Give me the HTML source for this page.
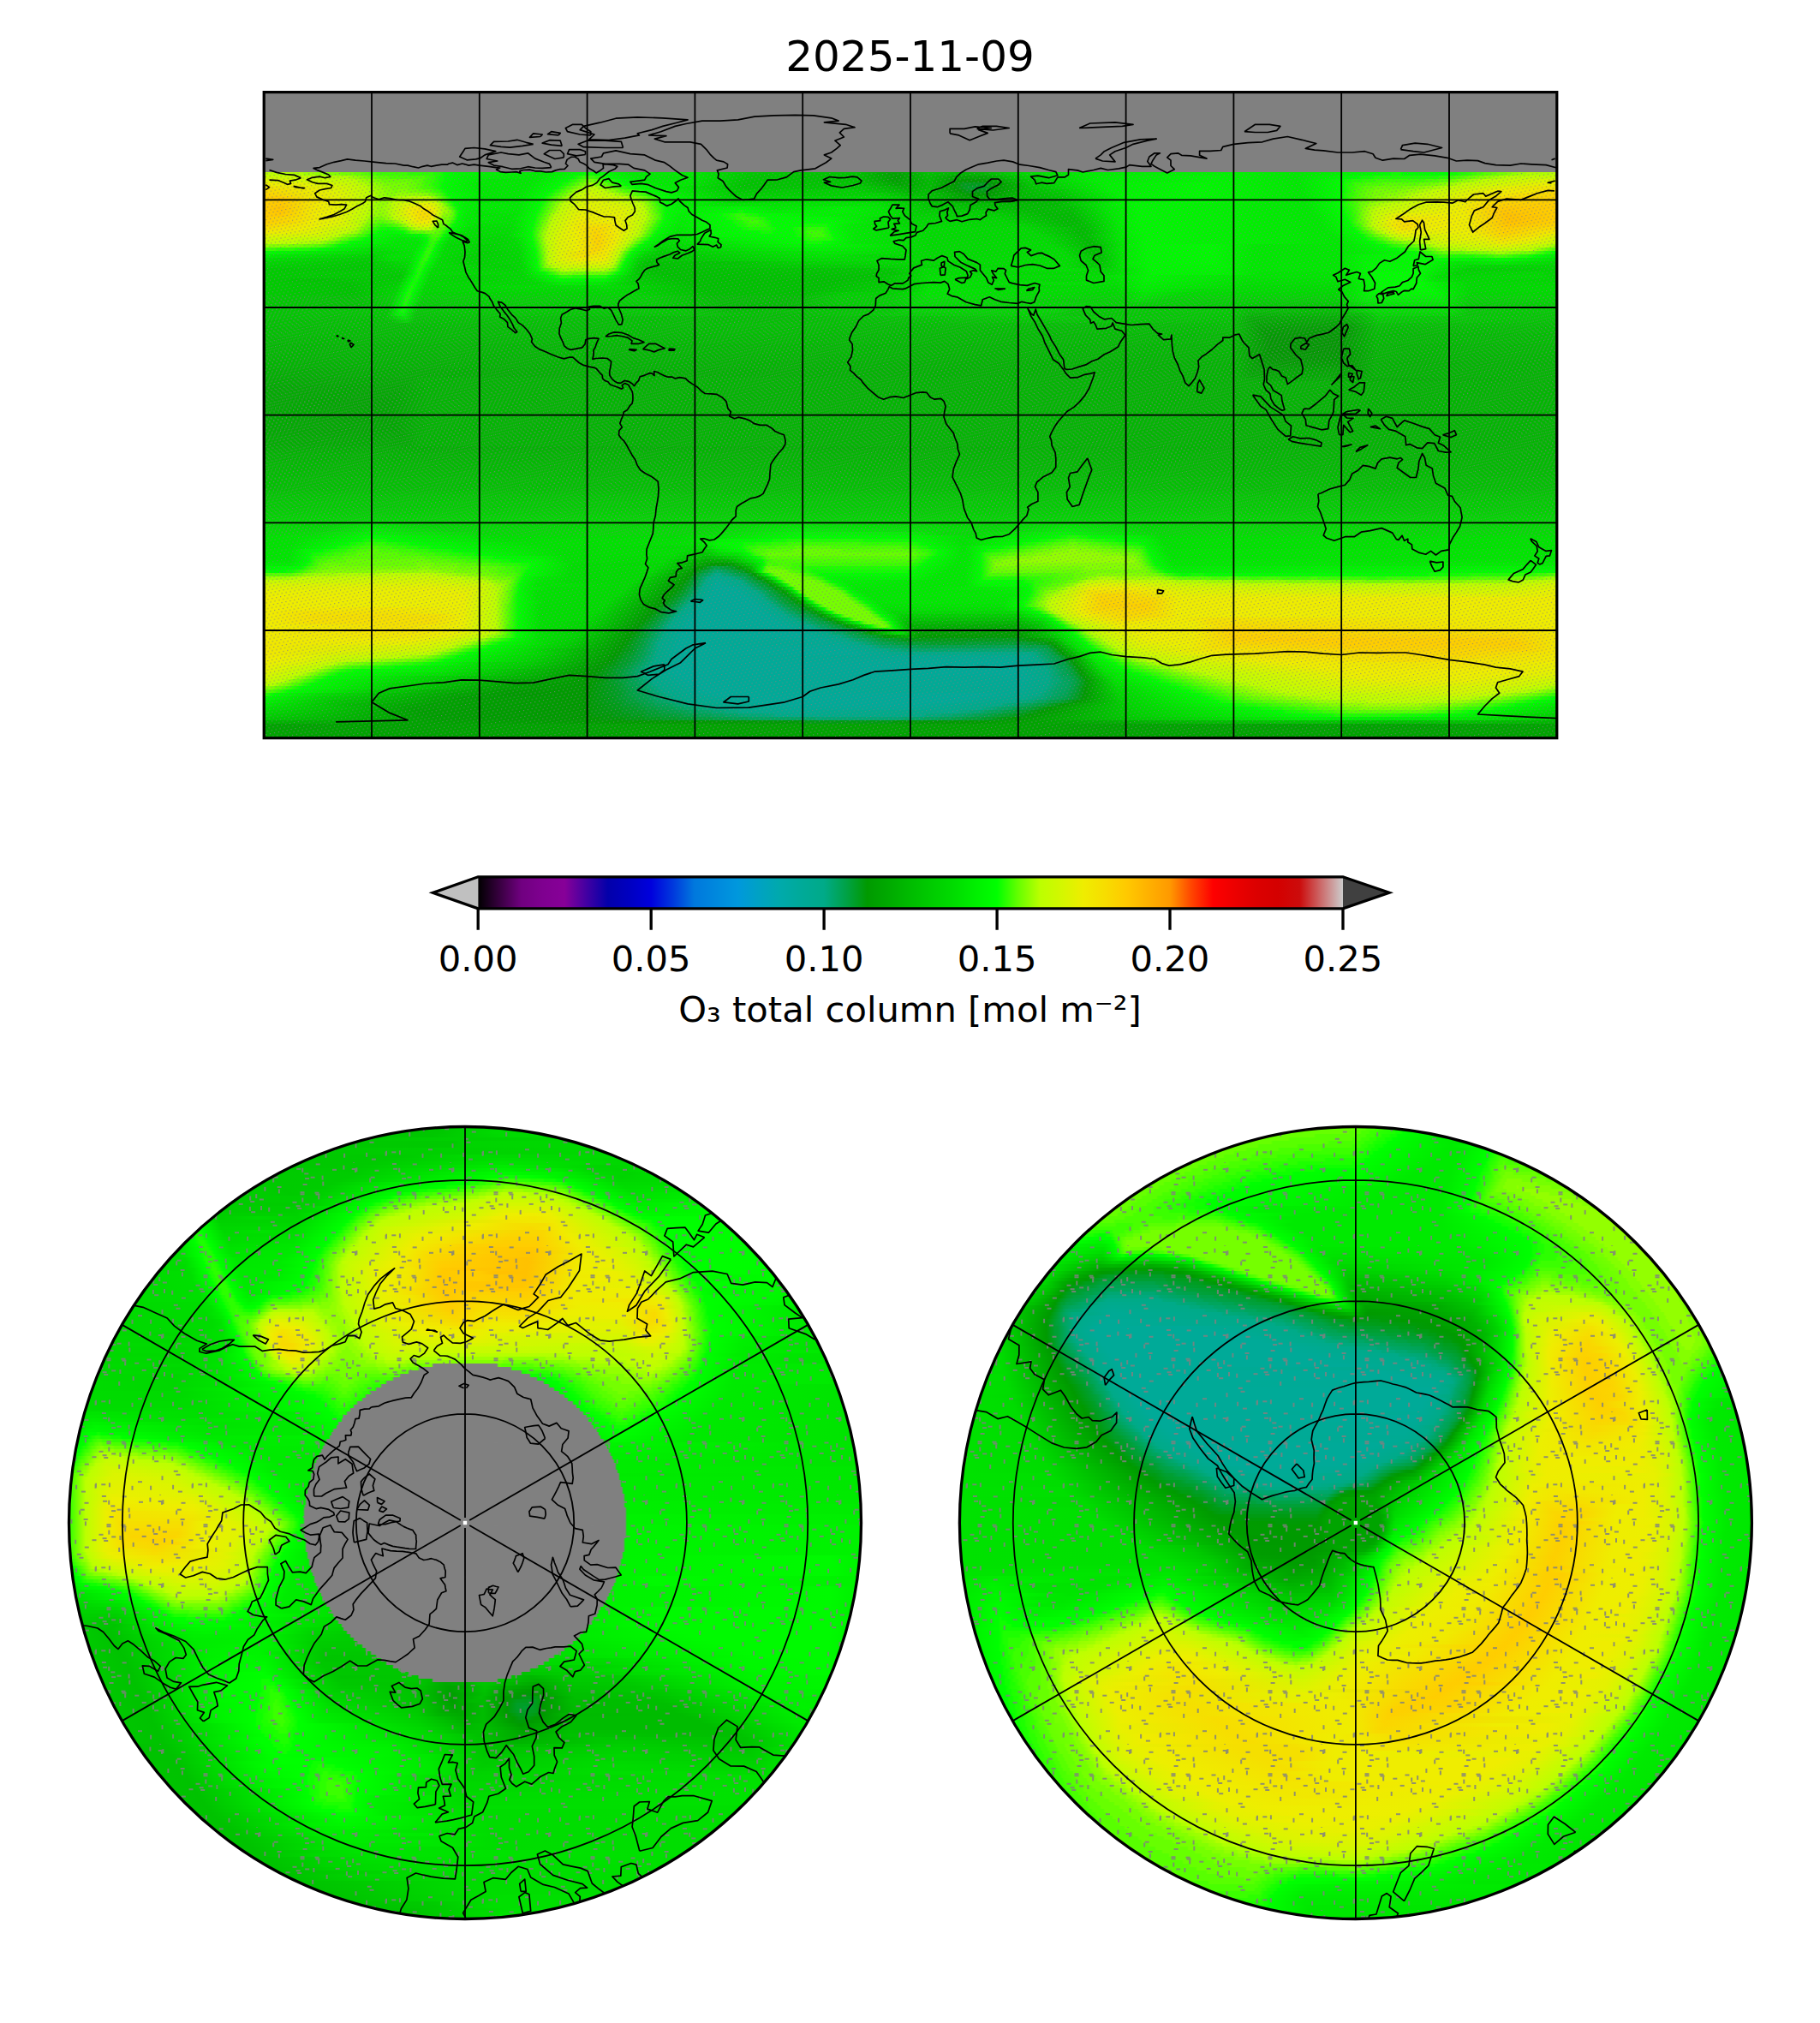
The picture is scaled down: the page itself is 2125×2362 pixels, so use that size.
<!DOCTYPE html><html><head><meta charset="utf-8"><style>
html,body{margin:0;padding:0;background:#fff}
#pg{position:relative;width:2125px;height:2362px;overflow:hidden;background:#fff}
.fm{position:absolute;overflow:hidden}
.fm i{position:absolute;left:0;width:100%;display:block}
.circ{border-radius:50%}
svg{position:absolute;left:0;top:0}
text{font-family:"DejaVu Sans","Liberation Sans",sans-serif;fill:#000}
</style></head><body><div id="pg">
<div class="fm" style="left:309px;top:109px;width:1508px;height:752px">
<i style="top:0px;height:4px;background:linear-gradient(90deg,#808080 0px,#808080 1508px)"></i>
<i style="top:4px;height:4px;background:linear-gradient(90deg,#808080 0px,#808080 1508px)"></i>
<i style="top:8px;height:4px;background:linear-gradient(90deg,#808080 0px,#808080 1508px)"></i>
<i style="top:12px;height:4px;background:linear-gradient(90deg,#808080 0px,#808080 1508px)"></i>
<i style="top:16px;height:4px;background:linear-gradient(90deg,#808080 0px,#808080 1508px)"></i>
<i style="top:20px;height:4px;background:linear-gradient(90deg,#808080 0px,#808080 1508px)"></i>
<i style="top:24px;height:4px;background:linear-gradient(90deg,#808080 0px,#808080 1508px)"></i>
<i style="top:28px;height:4px;background:linear-gradient(90deg,#808080 0px,#808080 1508px)"></i>
<i style="top:32px;height:4px;background:linear-gradient(90deg,#808080 0px,#808080 1508px)"></i>
<i style="top:36px;height:4px;background:linear-gradient(90deg,#808080 0px,#808080 1508px)"></i>
<i style="top:40px;height:4px;background:linear-gradient(90deg,#808080 0px,#808080 1508px)"></i>
<i style="top:44px;height:4px;background:linear-gradient(90deg,#808080 0px,#808080 1508px)"></i>
<i style="top:48px;height:4px;background:linear-gradient(90deg,#808080 0px,#808080 1508px)"></i>
<i style="top:52px;height:4px;background:linear-gradient(90deg,#808080 0px,#808080 1508px)"></i>
<i style="top:56px;height:4px;background:linear-gradient(90deg,#808080 0px,#808080 1508px)"></i>
<i style="top:60px;height:4px;background:linear-gradient(90deg,#808080 0px,#808080 1508px)"></i>
<i style="top:64px;height:4px;background:linear-gradient(90deg,#808080 0px,#808080 1508px)"></i>
<i style="top:68px;height:4px;background:linear-gradient(90deg,#808080 0px,#808080 1508px)"></i>
<i style="top:72px;height:4px;background:linear-gradient(90deg,#808080 0px,#808080 1508px)"></i>
<i style="top:76px;height:4px;background:linear-gradient(90deg,#808080 0px,#808080 1508px)"></i>
<i style="top:80px;height:4px;background:linear-gradient(90deg,#808080 0px,#808080 1508px)"></i>
<i style="top:84px;height:4px;background:linear-gradient(90deg,#808080 0px,#808080 1508px)"></i>
<i style="top:88px;height:4px;background:linear-gradient(90deg,#808080 0px,#808080 1508px)"></i>
<i style="top:92px;height:4px;background:linear-gradient(90deg,#bcff00 0px,#bcff00 16px,#b0ff00 18px,#b0ff00 44px,#a1ff00 46px,#a1ff00 58px,#93ff00 60px,#93ff00 68px,#84ff00 70px,#84ff00 88px,#75ff00 90px,#75ff00 104px,#67ff00 106px,#67ff00 112px,#58ff00 114px,#58ff00 120px,#49ff00 122px,#49ff00 130px,#3bff00 132px,#3bff00 166px,#2cff00 168px,#2cff00 196px,#1dff00 198px,#1dff00 204px,#00ff00 210px,#00f700 228px,#00ea00 320px,#00ff00 372px,#0fff00 374px,#0fff00 384px,#00ff00 386px,#00ff00 390px,#00ec00 430px,#00ea00 500px,#00c700 570px,#00c400 690px,#00a400 730px,#00a400 742px,#00c200 774px,#00b400 812px,#00b700 840px,#00da00 888px,#00ef00 960px,#00f400 1126px,#00ea00 1204px,#00ff00 1314px,#0fff00 1316px,#0fff00 1326px,#00ff00 1328px,#00ff00 1382px,#0fff00 1384px,#0fff00 1392px,#1dff00 1394px,#2cff00 1408px,#3bff00 1410px,#3bff00 1414px,#49ff00 1416px,#49ff00 1422px,#58ff00 1424px,#58ff00 1430px,#67ff00 1432px,#67ff00 1438px,#75ff00 1440px,#75ff00 1448px,#84ff00 1450px,#84ff00 1454px,#93ff00 1456px,#93ff00 1462px,#a1ff00 1464px,#a1ff00 1472px,#b0ff00 1474px,#b0ff00 1500px,#bcff00 1502px,#bcff00 1508px)"></i>
<i style="top:96px;height:4px;background:linear-gradient(90deg,#ccf900 0px,#c4fc00 56px,#b0ff00 98px,#a1ff00 100px,#93ff00 110px,#84ff00 112px,#84ff00 116px,#75ff00 118px,#75ff00 122px,#67ff00 124px,#67ff00 130px,#58ff00 132px,#58ff00 144px,#49ff00 146px,#49ff00 186px,#3bff00 188px,#2cff00 198px,#1dff00 200px,#1dff00 202px,#0fff00 204px,#0fff00 208px,#00ff00 210px,#00f400 234px,#00ea00 316px,#00ff00 360px,#3bff00 374px,#3bff00 384px,#2cff00 386px,#2cff00 390px,#1dff00 392px,#0fff00 398px,#00ff00 400px,#00ec00 438px,#00e700 506px,#00c400 572px,#00c400 686px,#009f00 738px,#00bf00 774px,#00a700 804px,#00a700 842px,#00d400 892px,#00f200 972px,#00f700 1108px,#00ea00 1204px,#00ff00 1278px,#0fff00 1280px,#0fff00 1294px,#1dff00 1296px,#1dff00 1370px,#2cff00 1372px,#2cff00 1382px,#3bff00 1384px,#3bff00 1388px,#49ff00 1390px,#49ff00 1396px,#58ff00 1398px,#58ff00 1402px,#67ff00 1404px,#67ff00 1410px,#75ff00 1412px,#75ff00 1416px,#84ff00 1418px,#84ff00 1424px,#93ff00 1426px,#93ff00 1432px,#a1ff00 1434px,#a1ff00 1440px,#b0ff00 1442px,#b0ff00 1448px,#bcff00 1450px,#ccf900 1508px)"></i>
<i style="top:100px;height:4px;background:linear-gradient(90deg,#e0f300 0px,#bcff00 106px,#a1ff00 112px,#93ff00 122px,#84ff00 124px,#84ff00 128px,#75ff00 130px,#75ff00 136px,#67ff00 138px,#67ff00 172px,#58ff00 174px,#58ff00 182px,#3bff00 188px,#2cff00 198px,#1dff00 200px,#1dff00 202px,#0fff00 204px,#0fff00 208px,#00ff00 210px,#00fa00 220px,#00ea00 264px,#00ea00 312px,#00ff00 354px,#1dff00 358px,#2cff00 364px,#49ff00 368px,#49ff00 370px,#67ff00 374px,#67ff00 376px,#75ff00 378px,#67ff00 384px,#1dff00 402px,#1dff00 406px,#00ff00 412px,#00ec00 448px,#00ea00 496px,#00c400 566px,#00c400 690px,#00a200 736px,#00bc00 778px,#009a00 810px,#009a00 822px,#009a00 842px,#00cc00 892px,#00f200 970px,#00f700 1110px,#00ea00 1206px,#00ff00 1260px,#0fff00 1262px,#0fff00 1268px,#1dff00 1270px,#1dff00 1280px,#2cff00 1282px,#2cff00 1296px,#3bff00 1298px,#3bff00 1354px,#49ff00 1356px,#49ff00 1370px,#58ff00 1372px,#58ff00 1380px,#67ff00 1382px,#75ff00 1392px,#84ff00 1394px,#84ff00 1398px,#93ff00 1400px,#93ff00 1406px,#a1ff00 1408px,#a1ff00 1412px,#b0ff00 1414px,#b0ff00 1420px,#bcff00 1422px,#e0f300 1508px)"></i>
<i style="top:104px;height:4px;background:linear-gradient(90deg,#efed00 0px,#e8f000 36px,#c4fc00 104px,#b0ff00 118px,#a1ff00 120px,#93ff00 130px,#84ff00 132px,#84ff00 138px,#75ff00 140px,#75ff00 166px,#67ff00 168px,#67ff00 176px,#58ff00 178px,#58ff00 182px,#3bff00 188px,#3bff00 192px,#1dff00 198px,#1dff00 202px,#00ff00 208px,#00ec00 250px,#00ea00 308px,#00ff00 346px,#0fff00 348px,#1dff00 354px,#3bff00 358px,#3bff00 360px,#58ff00 364px,#58ff00 366px,#75ff00 370px,#75ff00 372px,#93ff00 376px,#93ff00 378px,#a1ff00 380px,#2cff00 410px,#2cff00 412px,#0fff00 416px,#0fff00 418px,#00ff00 420px,#00ec00 460px,#00ea00 494px,#00c400 560px,#00c700 692px,#00a700 742px,#00bc00 778px,#009a00 808px,#009d1d 816px,#009d1d 842px,#009a00 852px,#00ca00 896px,#00f400 984px,#00fa00 1090px,#00ea00 1208px,#00ff00 1258px,#1dff00 1264px,#1dff00 1268px,#3bff00 1274px,#3bff00 1284px,#49ff00 1286px,#49ff00 1304px,#58ff00 1306px,#58ff00 1346px,#67ff00 1348px,#67ff00 1360px,#75ff00 1362px,#75ff00 1370px,#84ff00 1372px,#84ff00 1378px,#93ff00 1380px,#93ff00 1384px,#a1ff00 1386px,#a1ff00 1390px,#b0ff00 1392px,#b0ff00 1396px,#bcff00 1398px,#efed00 1508px)"></i>
<i style="top:108px;height:4px;background:linear-gradient(90deg,#f4e200 0px,#e0f300 76px,#bcff00 118px,#b0ff00 120px,#b0ff00 124px,#93ff00 130px,#93ff00 136px,#84ff00 138px,#84ff00 146px,#75ff00 148px,#75ff00 168px,#67ff00 170px,#67ff00 176px,#58ff00 178px,#58ff00 182px,#49ff00 184px,#3bff00 194px,#00ff00 208px,#00fc00 214px,#00ea00 256px,#00ea00 304px,#00ff00 342px,#1dff00 346px,#1dff00 348px,#49ff00 354px,#49ff00 356px,#67ff00 360px,#67ff00 362px,#84ff00 366px,#84ff00 368px,#bcff00 378px,#bcff00 384px,#b0ff00 388px,#a1ff00 390px,#75ff00 404px,#58ff00 408px,#49ff00 414px,#2cff00 418px,#2cff00 420px,#0fff00 426px,#0fff00 430px,#00ff00 432px,#00c400 562px,#00ca00 698px,#00af00 748px,#00bc00 776px,#009a00 806px,#009e28 822px,#009e28 840px,#009a00 852px,#00c400 894px,#00f400 986px,#00fa00 1092px,#00ea00 1210px,#00ff00 1258px,#2cff00 1268px,#2cff00 1272px,#3bff00 1274px,#3bff00 1276px,#49ff00 1278px,#49ff00 1282px,#58ff00 1284px,#58ff00 1294px,#67ff00 1296px,#67ff00 1328px,#75ff00 1330px,#75ff00 1342px,#84ff00 1344px,#84ff00 1354px,#93ff00 1356px,#93ff00 1364px,#a1ff00 1366px,#a1ff00 1372px,#b0ff00 1374px,#b0ff00 1378px,#bcff00 1380px,#e4f100 1448px,#f4e200 1508px)"></i>
<i style="top:112px;height:4px;background:linear-gradient(90deg,#f9d700 0px,#e8f000 70px,#bcff00 120px,#b0ff00 122px,#b0ff00 126px,#a1ff00 128px,#a1ff00 132px,#93ff00 134px,#93ff00 138px,#84ff00 140px,#84ff00 150px,#75ff00 152px,#75ff00 154px,#84ff00 156px,#84ff00 166px,#75ff00 168px,#75ff00 178px,#67ff00 180px,#67ff00 186px,#58ff00 188px,#58ff00 192px,#3bff00 198px,#2cff00 204px,#0fff00 208px,#00fc00 214px,#00ea00 256px,#00ea00 302px,#00ff00 336px,#1dff00 340px,#1dff00 342px,#49ff00 348px,#49ff00 350px,#67ff00 354px,#67ff00 356px,#93ff00 362px,#93ff00 364px,#b0ff00 368px,#c8fb00 380px,#bcff00 396px,#b0ff00 400px,#93ff00 404px,#84ff00 410px,#67ff00 414px,#67ff00 416px,#49ff00 422px,#49ff00 426px,#00ff00 444px,#00ca00 554px,#00d200 688px,#00b700 752px,#00bf00 774px,#009a00 812px,#009d1d 824px,#009b13 826px,#009b13 844px,#009a00 848px,#00bf00 888px,#00cc00 928px,#00f400 988px,#00fa00 1092px,#00ea00 1210px,#00ff00 1258px,#49ff00 1276px,#49ff00 1280px,#58ff00 1282px,#58ff00 1286px,#67ff00 1288px,#67ff00 1294px,#75ff00 1296px,#75ff00 1322px,#84ff00 1324px,#84ff00 1334px,#93ff00 1336px,#93ff00 1344px,#a1ff00 1346px,#a1ff00 1352px,#b0ff00 1354px,#b0ff00 1360px,#bcff00 1362px,#efed00 1442px,#f0ea00 1478px,#f9d700 1508px)"></i>
<i style="top:116px;height:4px;background:linear-gradient(90deg,#fcd200 0px,#e0f300 86px,#bcff00 122px,#b0ff00 124px,#b0ff00 128px,#93ff00 134px,#93ff00 140px,#84ff00 142px,#84ff00 152px,#93ff00 154px,#93ff00 182px,#84ff00 184px,#84ff00 190px,#75ff00 192px,#67ff00 198px,#49ff00 202px,#49ff00 204px,#00ff00 214px,#00ea00 262px,#00ea00 298px,#00ff00 330px,#0fff00 332px,#0fff00 334px,#3bff00 340px,#3bff00 342px,#67ff00 348px,#67ff00 350px,#93ff00 356px,#93ff00 358px,#bcff00 364px,#d0f800 380px,#bcff00 406px,#a1ff00 410px,#a1ff00 414px,#00ff00 456px,#00cf00 550px,#00d400 714px,#00bf00 756px,#00c200 776px,#009c00 824px,#009c00 848px,#00ba00 878px,#00c700 926px,#00f700 1000px,#00fa00 1094px,#00ea00 1212px,#00ff00 1256px,#2cff00 1266px,#2cff00 1270px,#58ff00 1280px,#58ff00 1284px,#67ff00 1286px,#67ff00 1292px,#75ff00 1294px,#75ff00 1306px,#84ff00 1308px,#84ff00 1322px,#93ff00 1324px,#93ff00 1332px,#a1ff00 1334px,#a1ff00 1338px,#b0ff00 1340px,#b0ff00 1346px,#bcff00 1348px,#efed00 1428px,#fbd500 1508px)"></i>
<i style="top:120px;height:4px;background:linear-gradient(90deg,#fdcf00 0px,#ffcd00 18px,#f1e700 52px,#e4f100 84px,#bcff00 122px,#a1ff00 128px,#a1ff00 132px,#93ff00 134px,#93ff00 148px,#a1ff00 150px,#a1ff00 154px,#b0ff00 156px,#b0ff00 166px,#bcff00 168px,#bcff00 190px,#b0ff00 194px,#00ff00 218px,#00ea00 254px,#00ea00 296px,#00ff00 326px,#bcff00 358px,#d8f500 382px,#bcff00 420px,#67ff00 442px,#67ff00 444px,#49ff00 448px,#3bff00 454px,#00ff00 464px,#00d400 548px,#00dc00 710px,#00c400 778px,#00a700 814px,#00a700 840px,#00ba00 874px,#00c400 928px,#00f700 1002px,#00fa00 1096px,#00ea00 1214px,#00ff00 1256px,#49ff00 1274px,#49ff00 1278px,#58ff00 1280px,#58ff00 1284px,#67ff00 1286px,#75ff00 1296px,#84ff00 1298px,#84ff00 1310px,#93ff00 1312px,#93ff00 1322px,#a1ff00 1324px,#a1ff00 1330px,#b0ff00 1332px,#b0ff00 1336px,#bcff00 1338px,#efed00 1416px,#f7dd00 1444px,#fcd200 1508px)"></i>
<i style="top:124px;height:4px;background:linear-gradient(90deg,#fdcf00 0px,#ffc900 18px,#e8f000 80px,#bcff00 122px,#a1ff00 128px,#a1ff00 132px,#93ff00 134px,#93ff00 142px,#bcff00 152px,#d0f800 192px,#c0fd00 200px,#67ff00 208px,#49ff00 212px,#2cff00 214px,#00ff00 220px,#00fc00 222px,#00ea00 252px,#00ea00 296px,#00ff00 322px,#0fff00 324px,#0fff00 326px,#75ff00 340px,#75ff00 342px,#bcff00 352px,#dcf400 380px,#dcf400 392px,#bcff00 432px,#93ff00 444px,#1dff00 460px,#1dff00 462px,#00ff00 466px,#00ef00 484px,#00ef00 514px,#00dc00 546px,#00e700 660px,#00e200 714px,#00b200 816px,#00b200 856px,#00c200 930px,#00f700 1004px,#00fa00 1096px,#00ea00 1214px,#00ff00 1256px,#67ff00 1282px,#67ff00 1286px,#84ff00 1292px,#84ff00 1296px,#93ff00 1298px,#93ff00 1306px,#a1ff00 1308px,#a1ff00 1316px,#b0ff00 1318px,#b0ff00 1326px,#bcff00 1328px,#efed00 1406px,#fbd500 1448px,#fdcf00 1508px)"></i>
<i style="top:128px;height:4px;background:linear-gradient(90deg,#ffcd00 0px,#ffc900 20px,#efed00 66px,#e4f100 86px,#bcff00 122px,#93ff00 132px,#93ff00 140px,#bcff00 150px,#d8f500 164px,#e8f000 190px,#d8f500 198px,#b0ff00 206px,#3bff00 216px,#00ff00 222px,#00f200 234px,#00ea00 296px,#00ff00 322px,#bcff00 348px,#e0f300 378px,#d8f500 412px,#bcff00 440px,#00ff00 466px,#00ef00 486px,#00e700 542px,#00e700 712px,#00c400 780px,#00bc00 856px,#00bc00 924px,#00f200 992px,#00fa00 1018px,#00ea00 1216px,#00ff00 1256px,#0fff00 1258px,#49ff00 1276px,#67ff00 1280px,#75ff00 1286px,#93ff00 1292px,#93ff00 1296px,#a1ff00 1298px,#a1ff00 1302px,#b0ff00 1304px,#b0ff00 1310px,#bcff00 1312px,#e8f000 1394px,#f3e500 1410px,#fdcf00 1448px,#ffcd00 1508px)"></i>
<i style="top:132px;height:4px;background:linear-gradient(90deg,#ffcd00 0px,#ffc500 18px,#f1e700 58px,#e8f000 82px,#bcff00 120px,#a1ff00 126px,#a1ff00 130px,#93ff00 132px,#93ff00 138px,#a1ff00 140px,#a1ff00 144px,#bcff00 150px,#f0ea00 172px,#f0ea00 194px,#dcf400 200px,#93ff00 212px,#1dff00 222px,#00fc00 226px,#00f200 234px,#00ea00 296px,#00ff00 320px,#bcff00 346px,#d8f500 362px,#e4f100 380px,#dcf400 420px,#bcff00 442px,#00ff00 468px,#00f200 482px,#00f700 562px,#00ea00 596px,#00f200 676px,#00e700 722px,#00ca00 774px,#00bc00 886px,#00c200 942px,#00ea00 982px,#00fa00 1020px,#00ea00 1218px,#00ff00 1258px,#0fff00 1260px,#2cff00 1270px,#93ff00 1288px,#bcff00 1300px,#ecef00 1394px,#fcd200 1432px,#ffc900 1450px,#ffcd00 1508px)"></i>
<i style="top:136px;height:4px;background:linear-gradient(90deg,#ffcd00 0px,#ffc500 18px,#f3e500 52px,#e8f000 82px,#bcff00 120px,#93ff00 130px,#93ff00 140px,#b0ff00 146px,#efed00 170px,#f7dd00 182px,#f4e200 194px,#efed00 198px,#bcff00 206px,#a1ff00 208px,#93ff00 214px,#58ff00 220px,#1dff00 224px,#00fc00 228px,#00f400 234px,#00ea00 246px,#00ea00 296px,#00ff00 318px,#bcff00 344px,#d4f700 356px,#e4f100 374px,#e0f300 420px,#bcff00 444px,#b0ff00 446px,#93ff00 448px,#00ff00 468px,#00f200 496px,#00ff00 552px,#0fff00 554px,#0fff00 558px,#00ff00 560px,#00f200 596px,#00f400 672px,#00ea00 718px,#00cf00 766px,#00cf00 840px,#00bc00 902px,#00bf00 942px,#00ec00 988px,#00fa00 1020px,#00ea00 1222px,#00ff00 1260px,#0fff00 1262px,#1dff00 1268px,#3bff00 1272px,#3bff00 1274px,#84ff00 1284px,#84ff00 1286px,#b0ff00 1292px,#c0fd00 1298px,#d8f500 1324px,#efed00 1398px,#ffc500 1446px,#ffcd00 1508px)"></i>
<i style="top:140px;height:4px;background:linear-gradient(90deg,#ffcd00 0px,#ffc900 18px,#efed00 62px,#ecef00 76px,#bcff00 118px,#93ff00 128px,#93ff00 132px,#84ff00 134px,#84ff00 136px,#93ff00 138px,#93ff00 142px,#bcff00 150px,#f0ea00 172px,#f8da00 186px,#f5df00 194px,#efed00 198px,#c4fc00 204px,#84ff00 210px,#84ff00 214px,#58ff00 220px,#00ff00 226px,#00f200 234px,#00e700 252px,#00e700 292px,#00ff00 316px,#75ff00 332px,#93ff00 334px,#bcff00 340px,#e0f300 362px,#e8f000 374px,#e4f100 416px,#bcff00 444px,#3bff00 462px,#1dff00 464px,#00ff00 468px,#00f200 488px,#00ff00 534px,#0fff00 536px,#0fff00 542px,#1dff00 544px,#1dff00 548px,#2cff00 550px,#2cff00 560px,#1dff00 562px,#0fff00 576px,#00ff00 578px,#00ea00 720px,#00d400 758px,#00d200 854px,#00bc00 914px,#00bc00 942px,#00ec00 990px,#00fa00 1022px,#00ea00 1226px,#00ff00 1262px,#0fff00 1264px,#0fff00 1266px,#2cff00 1270px,#2cff00 1272px,#93ff00 1286px,#93ff00 1288px,#bcff00 1294px,#e8f000 1322px,#efed00 1400px,#ffc100 1450px,#ffcd00 1508px)"></i>
<i style="top:144px;height:4px;background:linear-gradient(90deg,#ffcd00 0px,#ecef00 74px,#e0f300 88px,#bcff00 116px,#75ff00 130px,#75ff00 138px,#84ff00 140px,#93ff00 146px,#bcff00 152px,#ccf900 162px,#ecef00 172px,#f5df00 182px,#f5df00 192px,#efed00 196px,#c4fc00 202px,#93ff00 206px,#75ff00 210px,#75ff00 214px,#49ff00 220px,#0fff00 224px,#00fc00 226px,#00ef00 234px,#00e400 284px,#00ff00 316px,#1dff00 318px,#75ff00 330px,#93ff00 332px,#bcff00 338px,#ecef00 368px,#e8f000 414px,#d8f500 430px,#bcff00 444px,#3bff00 462px,#1dff00 464px,#00ff00 468px,#00f200 484px,#00ff00 538px,#0fff00 540px,#1dff00 550px,#2cff00 552px,#2cff00 556px,#3bff00 558px,#2cff00 576px,#1dff00 578px,#1dff00 582px,#00ff00 588px,#00fa00 658px,#00d700 752px,#00d700 854px,#00bc00 924px,#00bc00 946px,#00ec00 992px,#00fa00 1022px,#00ea00 1228px,#00ff00 1264px,#1dff00 1268px,#1dff00 1270px,#a1ff00 1288px,#a1ff00 1290px,#bcff00 1294px,#efed00 1320px,#f3e500 1326px,#efed00 1402px,#ffc100 1452px,#ffcd00 1508px)"></i>
<i style="top:148px;height:4px;background:linear-gradient(90deg,#fdcf00 0px,#f9d700 28px,#ecef00 58px,#dcf400 90px,#b0ff00 116px,#84ff00 122px,#84ff00 124px,#67ff00 128px,#67ff00 130px,#58ff00 132px,#58ff00 140px,#67ff00 142px,#67ff00 146px,#75ff00 148px,#75ff00 150px,#93ff00 154px,#93ff00 156px,#bcff00 162px,#e4f100 174px,#f0ea00 182px,#efed00 192px,#b0ff00 202px,#75ff00 206px,#75ff00 210px,#58ff00 216px,#3bff00 218px,#00fc00 224px,#00ea00 240px,#00e400 292px,#00ff00 314px,#2cff00 320px,#49ff00 322px,#84ff00 330px,#a1ff00 332px,#bcff00 336px,#e8f000 360px,#f1e700 376px,#ecef00 412px,#bcff00 442px,#58ff00 456px,#3bff00 458px,#00ff00 466px,#00ef00 488px,#00ff00 546px,#0fff00 548px,#1dff00 558px,#2cff00 560px,#2cff00 564px,#3bff00 566px,#3bff00 576px,#2cff00 578px,#2cff00 582px,#1dff00 584px,#0fff00 590px,#00ff00 592px,#00fc00 662px,#00da00 748px,#00da00 862px,#00bc00 932px,#00bc00 950px,#00f200 1000px,#00fa00 1024px,#00ea00 1232px,#00ff00 1266px,#67ff00 1280px,#67ff00 1282px,#bcff00 1294px,#efed00 1316px,#f7dd00 1330px,#efed00 1362px,#efed00 1404px,#ffc100 1452px,#fdcf00 1508px)"></i>
<i style="top:152px;height:4px;background:linear-gradient(90deg,#fbd500 0px,#ecef00 56px,#d4f700 94px,#c0fd00 108px,#b0ff00 112px,#75ff00 120px,#75ff00 122px,#49ff00 128px,#49ff00 130px,#2cff00 136px,#2cff00 142px,#3bff00 144px,#3bff00 148px,#49ff00 150px,#58ff00 156px,#a1ff00 166px,#bcff00 168px,#d8f500 178px,#e0f300 190px,#bcff00 198px,#84ff00 202px,#67ff00 206px,#67ff00 210px,#49ff00 214px,#00ff00 220px,#00fc00 222px,#00e400 246px,#00e200 288px,#00ff00 314px,#1dff00 316px,#49ff00 322px,#67ff00 324px,#93ff00 330px,#b0ff00 332px,#bcff00 334px,#e8f000 358px,#f4e200 376px,#f4e200 400px,#efed00 412px,#c4fc00 438px,#67ff00 452px,#49ff00 454px,#00ff00 464px,#00ef00 482px,#00ff00 550px,#0fff00 552px,#1dff00 562px,#2cff00 564px,#2cff00 584px,#00ff00 594px,#00ff00 626px,#0fff00 628px,#0fff00 656px,#00ff00 658px,#00ff00 660px,#00ef00 682px,#00dc00 746px,#00da00 882px,#00bc00 938px,#00c200 960px,#00ef00 998px,#00fa00 1024px,#00ea00 1234px,#00ff00 1268px,#3bff00 1276px,#3bff00 1278px,#49ff00 1280px,#67ff00 1282px,#bcff00 1294px,#f1e700 1318px,#f8da00 1336px,#efed00 1362px,#efed00 1406px,#ffc500 1450px,#fbd500 1508px)"></i>
<i style="top:156px;height:4px;background:linear-gradient(90deg,#f5df00 0px,#efed00 40px,#c0fd00 104px,#b0ff00 108px,#75ff00 116px,#75ff00 118px,#2cff00 128px,#2cff00 130px,#0fff00 136px,#0fff00 142px,#00ff00 144px,#0fff00 146px,#0fff00 152px,#1dff00 154px,#1dff00 156px,#3bff00 160px,#3bff00 162px,#49ff00 164px,#58ff00 166px,#75ff00 168px,#b0ff00 176px,#c0fd00 184px,#bcff00 194px,#84ff00 198px,#67ff00 202px,#67ff00 204px,#49ff00 210px,#00ff00 216px,#00e400 240px,#00df00 280px,#00e400 294px,#00ff00 312px,#1dff00 316px,#3bff00 318px,#58ff00 322px,#75ff00 324px,#a1ff00 330px,#bcff00 332px,#ecef00 360px,#f8da00 382px,#f8da00 394px,#efed00 412px,#c0fd00 438px,#75ff00 448px,#58ff00 450px,#00fc00 462px,#00ec00 484px,#00ff00 556px,#0fff00 558px,#0fff00 564px,#1dff00 566px,#1dff00 590px,#0fff00 592px,#0fff00 596px,#00ff00 598px,#00ff00 616px,#0fff00 618px,#0fff00 622px,#1dff00 624px,#1dff00 632px,#2cff00 634px,#2cff00 652px,#1dff00 654px,#1dff00 656px,#00ff00 660px,#00ef00 682px,#00df00 748px,#00dc00 886px,#00bc00 956px,#00ec00 996px,#00fa00 1026px,#00ea00 1236px,#00ff00 1272px,#bcff00 1298px,#efed00 1320px,#f5df00 1330px,#ecef00 1362px,#efed00 1406px,#ffcd00 1448px,#f7dd00 1508px)"></i>
<i style="top:160px;height:4px;background:linear-gradient(90deg,#f0ea00 0px,#dcf400 60px,#bcff00 96px,#93ff00 108px,#49ff00 118px,#49ff00 120px,#0fff00 128px,#0fff00 130px,#00ff00 132px,#00fa00 142px,#00ff00 162px,#49ff00 172px,#49ff00 176px,#58ff00 178px,#58ff00 186px,#67ff00 188px,#67ff00 198px,#58ff00 200px,#58ff00 204px,#00fa00 214px,#00ec00 220px,#00e200 238px,#00df00 286px,#00ff00 312px,#1dff00 314px,#3bff00 318px,#84ff00 324px,#c0fd00 332px,#e0f300 350px,#efed00 366px,#fbd500 386px,#efed00 412px,#c0fd00 436px,#84ff00 444px,#67ff00 446px,#3bff00 452px,#1dff00 454px,#00ff00 458px,#00ea00 480px,#00fa00 520px,#00ff00 578px,#0fff00 580px,#0fff00 592px,#00ff00 594px,#00ff00 618px,#0fff00 620px,#0fff00 624px,#1dff00 626px,#1dff00 630px,#3bff00 636px,#3bff00 650px,#1dff00 656px,#1dff00 658px,#00ff00 662px,#00ec00 690px,#00dc00 776px,#00dc00 896px,#00bc00 950px,#00bf00 962px,#00f200 1004px,#00fa00 1026px,#00ea00 1240px,#00ff00 1276px,#3bff00 1284px,#3bff00 1286px,#a1ff00 1300px,#a1ff00 1302px,#bcff00 1306px,#c8fb00 1310px,#ecef00 1326px,#e4f100 1360px,#ecef00 1404px,#fdcf00 1450px,#f0ea00 1508px)"></i>
<i style="top:164px;height:4px;background:linear-gradient(90deg,#e0f300 0px,#d0f800 64px,#bcff00 84px,#b0ff00 88px,#93ff00 92px,#67ff00 106px,#49ff00 110px,#3bff00 116px,#00ff00 124px,#00fa00 136px,#00f200 156px,#00ff00 184px,#0fff00 186px,#0fff00 188px,#49ff00 196px,#49ff00 202px,#2cff00 206px,#0fff00 208px,#00fc00 210px,#00e400 222px,#00dc00 282px,#00ff00 312px,#75ff00 322px,#bcff00 330px,#e0f300 348px,#efed00 366px,#fcd200 388px,#efed00 412px,#bcff00 434px,#93ff00 440px,#75ff00 442px,#1dff00 452px,#00ff00 454px,#00e700 474px,#00fa00 534px,#00ff00 620px,#0fff00 622px,#1dff00 632px,#2cff00 634px,#2cff00 638px,#3bff00 640px,#3bff00 652px,#1dff00 658px,#1dff00 660px,#00ff00 664px,#00ec00 690px,#00dc00 778px,#00dc00 906px,#00bc00 956px,#00ef00 1002px,#00fa00 1028px,#00ea00 1246px,#00ff00 1282px,#3bff00 1290px,#3bff00 1292px,#67ff00 1298px,#67ff00 1300px,#84ff00 1304px,#84ff00 1306px,#bcff00 1314px,#e0f300 1334px,#d8f500 1360px,#ecef00 1414px,#f9d700 1446px,#f3e500 1484px,#e0f300 1508px)"></i>
<i style="top:168px;height:4px;background:linear-gradient(90deg,#d0f800 0px,#bcff00 72px,#a1ff00 80px,#67ff00 90px,#58ff00 96px,#3bff00 100px,#0fff00 114px,#00ff00 116px,#00f700 128px,#00ec00 160px,#00ef00 178px,#00ff00 190px,#1dff00 192px,#3bff00 196px,#3bff00 200px,#1dff00 204px,#00ff00 206px,#00e200 216px,#00da00 274px,#00df00 292px,#00ff00 312px,#3bff00 318px,#b0ff00 328px,#bcff00 330px,#dcf400 344px,#ecef00 364px,#fcd200 388px,#ecef00 412px,#c0fd00 428px,#75ff00 438px,#58ff00 440px,#1dff00 448px,#00ff00 450px,#00e200 476px,#00f400 528px,#00ff00 626px,#1dff00 632px,#1dff00 636px,#2cff00 638px,#1dff00 660px,#00ff00 666px,#00ec00 690px,#00dc00 776px,#00dc00 914px,#00bc00 960px,#00ea00 998px,#00fa00 1028px,#00ea00 1252px,#00ff00 1286px,#0fff00 1288px,#2cff00 1298px,#49ff00 1302px,#49ff00 1304px,#67ff00 1308px,#67ff00 1310px,#93ff00 1316px,#93ff00 1318px,#b0ff00 1322px,#c4fc00 1332px,#c4fc00 1348px,#e0f300 1384px,#e8f000 1424px,#f5df00 1446px,#efed00 1478px,#d0f800 1508px)"></i>
<i style="top:172px;height:4px;background:linear-gradient(90deg,#c0fd00 0px,#bcff00 36px,#b0ff00 38px,#b0ff00 52px,#a1ff00 54px,#a1ff00 64px,#67ff00 78px,#67ff00 80px,#49ff00 84px,#49ff00 86px,#2cff00 90px,#1dff00 96px,#00ff00 100px,#00ea00 154px,#00ea00 180px,#00ff00 190px,#1dff00 192px,#2cff00 194px,#2cff00 198px,#00fa00 204px,#00df00 214px,#00da00 280px,#00df00 294px,#00ff00 314px,#1dff00 316px,#2cff00 318px,#67ff00 322px,#bcff00 330px,#dcf400 344px,#ecef00 364px,#fcd200 388px,#f0ea00 408px,#c0fd00 424px,#93ff00 430px,#75ff00 432px,#1dff00 442px,#00ff00 444px,#00df00 468px,#00ff00 632px,#0fff00 634px,#0fff00 650px,#00ff00 652px,#00ff00 658px,#00ec00 688px,#00dc00 776px,#00df00 910px,#00bc00 964px,#00ec00 1002px,#00fa00 1028px,#00ea00 1256px,#00ff00 1296px,#0fff00 1298px,#2cff00 1308px,#49ff00 1312px,#49ff00 1314px,#67ff00 1320px,#67ff00 1324px,#84ff00 1330px,#84ff00 1334px,#93ff00 1336px,#93ff00 1340px,#a1ff00 1342px,#a1ff00 1346px,#bcff00 1352px,#d4f700 1382px,#dcf400 1424px,#f0ea00 1444px,#e0f300 1478px,#c4fc00 1508px)"></i>
<i style="top:176px;height:4px;background:linear-gradient(90deg,#93ff00 0px,#93ff00 4px,#84ff00 6px,#84ff00 28px,#75ff00 30px,#75ff00 44px,#67ff00 46px,#67ff00 56px,#58ff00 58px,#58ff00 66px,#00ff00 88px,#00ea00 134px,#00ea00 178px,#00ff00 188px,#2cff00 194px,#2cff00 196px,#1dff00 198px,#00ff00 200px,#00e200 210px,#00dc00 216px,#00d700 262px,#00df00 296px,#00ff00 314px,#3bff00 320px,#75ff00 324px,#84ff00 326px,#a1ff00 328px,#c0fd00 332px,#dcf400 344px,#ecef00 364px,#fbd500 390px,#ecef00 408px,#c0fd00 420px,#a1ff00 424px,#00ff00 438px,#00da00 466px,#00fc00 644px,#00dc00 776px,#00df00 918px,#00bf00 962px,#00bf00 970px,#00f200 1008px,#00fa00 1030px,#00fa00 1106px,#00ea00 1158px,#00ea00 1258px,#00ff00 1308px,#2cff00 1318px,#2cff00 1322px,#3bff00 1324px,#3bff00 1328px,#49ff00 1330px,#49ff00 1334px,#58ff00 1336px,#58ff00 1340px,#67ff00 1342px,#67ff00 1346px,#bcff00 1368px,#e0f300 1448px,#bcff00 1496px,#b0ff00 1498px,#b0ff00 1502px,#a1ff00 1504px,#a1ff00 1508px)"></i>
<i style="top:180px;height:4px;background:linear-gradient(90deg,#49ff00 0px,#3bff00 2px,#3bff00 12px,#2cff00 14px,#2cff00 34px,#1dff00 36px,#1dff00 52px,#0fff00 54px,#0fff00 60px,#00ff00 62px,#00e200 126px,#00ea00 176px,#00ff00 186px,#0fff00 188px,#2cff00 190px,#2cff00 194px,#1dff00 196px,#00ff00 198px,#00df00 210px,#00d700 250px,#00dc00 296px,#00ff00 316px,#84ff00 326px,#c0fd00 332px,#dcf400 344px,#ecef00 364px,#fbd500 386px,#efed00 404px,#c0fd00 416px,#a1ff00 420px,#1dff00 430px,#00fc00 434px,#00d400 462px,#00f400 648px,#00dc00 774px,#00df00 926px,#00bf00 970px,#00ea00 1000px,#00fa00 1030px,#00fa00 1108px,#00ea00 1156px,#00ea00 1256px,#00ff00 1324px,#0fff00 1326px,#0fff00 1332px,#1dff00 1334px,#2cff00 1344px,#49ff00 1350px,#49ff00 1354px,#a1ff00 1376px,#a1ff00 1382px,#b0ff00 1384px,#b0ff00 1402px,#bcff00 1404px,#c8fb00 1438px,#bcff00 1478px,#58ff00 1504px,#58ff00 1508px)"></i>
<i style="top:184px;height:4px;background:linear-gradient(90deg,#00fc00 0px,#00dc00 132px,#00e700 172px,#00ff00 184px,#0fff00 186px,#2cff00 188px,#2cff00 192px,#1dff00 194px,#00ff00 196px,#00df00 208px,#00d400 260px,#00dc00 298px,#00ff00 316px,#0fff00 318px,#67ff00 324px,#75ff00 326px,#b0ff00 330px,#c4fc00 334px,#dcf400 344px,#f8da00 382px,#f0ea00 400px,#c0fd00 414px,#49ff00 422px,#3bff00 424px,#00ff00 428px,#00df00 444px,#00cf00 460px,#00ec00 656px,#00dc00 772px,#00df00 932px,#00bf00 968px,#00ef00 1006px,#00fa00 1032px,#00fa00 1108px,#00ea00 1156px,#00ea00 1256px,#00ff00 1344px,#0fff00 1346px,#0fff00 1350px,#1dff00 1352px,#1dff00 1354px,#2cff00 1356px,#2cff00 1360px,#58ff00 1370px,#58ff00 1374px,#67ff00 1376px,#67ff00 1400px,#75ff00 1402px,#75ff00 1416px,#84ff00 1418px,#84ff00 1428px,#93ff00 1430px,#93ff00 1436px,#a1ff00 1438px,#a1ff00 1448px,#93ff00 1450px,#93ff00 1456px,#84ff00 1458px,#84ff00 1466px,#75ff00 1468px,#75ff00 1478px,#67ff00 1480px,#67ff00 1482px,#49ff00 1486px,#3bff00 1492px,#1dff00 1496px,#1dff00 1500px,#0fff00 1502px,#00ff00 1508px)"></i>
<i style="top:188px;height:4px;background:linear-gradient(90deg,#00ec00 0px,#00d400 126px,#00e400 146px,#00e700 172px,#00ff00 182px,#2cff00 188px,#2cff00 190px,#1dff00 192px,#00ff00 194px,#00df00 208px,#00d400 242px,#00da00 296px,#00fc00 316px,#3bff00 322px,#93ff00 328px,#bcff00 332px,#dcf400 344px,#f4e200 372px,#f0ea00 398px,#d0f800 408px,#bcff00 412px,#0fff00 424px,#00fc00 426px,#00d400 444px,#00ca00 462px,#00e700 650px,#00dc00 708px,#00df00 936px,#00c200 974px,#00ef00 1006px,#00fa00 1032px,#00fa00 1108px,#00ea00 1156px,#00ea00 1256px,#00f700 1282px,#00ff00 1358px,#0fff00 1360px,#1dff00 1370px,#2cff00 1372px,#2cff00 1384px,#1dff00 1386px,#1dff00 1412px,#2cff00 1414px,#2cff00 1426px,#3bff00 1428px,#3bff00 1434px,#49ff00 1436px,#49ff00 1450px,#3bff00 1452px,#3bff00 1456px,#2cff00 1458px,#2cff00 1464px,#1dff00 1466px,#1dff00 1474px,#0fff00 1476px,#0fff00 1480px,#00ff00 1482px,#00ef00 1508px)"></i>
<i style="top:192px;height:4px;background:linear-gradient(90deg,#00df00 0px,#00cf00 120px,#00e200 148px,#00e200 168px,#00fc00 180px,#2cff00 186px,#2cff00 188px,#1dff00 190px,#00ff00 192px,#00df00 204px,#00d400 238px,#00da00 298px,#00ff00 318px,#93ff00 328px,#bcff00 332px,#d8f500 342px,#efed00 368px,#efed00 394px,#e4f100 400px,#bcff00 410px,#2cff00 420px,#00ff00 422px,#00d400 438px,#00c700 452px,#00df00 640px,#00df00 940px,#00c400 976px,#00ec00 1004px,#00fa00 1032px,#00fa00 1108px,#00ea00 1154px,#00ea00 1256px,#00f700 1282px,#00ff00 1374px,#00f400 1416px,#00fc00 1446px,#00e400 1508px)"></i>
<i style="top:196px;height:4px;background:linear-gradient(90deg,#00d700 0px,#00cc00 120px,#00df00 168px,#00fa00 178px,#2cff00 184px,#00ff00 190px,#00df00 202px,#00d400 240px,#00da00 298px,#00ff00 318px,#58ff00 324px,#67ff00 326px,#bcff00 332px,#d8f500 350px,#e0f300 370px,#e0f300 394px,#d8f500 400px,#bcff00 408px,#67ff00 414px,#3bff00 416px,#00ff00 420px,#00d200 436px,#00c400 446px,#00c700 550px,#00d700 638px,#00e200 930px,#00ca00 978px,#00f200 1010px,#00fa00 1034px,#00fa00 1108px,#00ea00 1154px,#00ea00 1256px,#00fa00 1286px,#00fc00 1360px,#00e700 1396px,#00ec00 1442px,#00dc00 1508px)"></i>
<i style="top:200px;height:4px;background:linear-gradient(90deg,#00d200 0px,#00ca00 116px,#00da00 166px,#00ff00 178px,#1dff00 182px,#1dff00 184px,#00fc00 188px,#00df00 200px,#00d400 280px,#00dc00 302px,#00ff00 318px,#0fff00 320px,#84ff00 328px,#93ff00 330px,#93ff00 332px,#bcff00 338px,#ccf900 350px,#ccf900 396px,#bcff00 404px,#84ff00 410px,#58ff00 412px,#00ff00 418px,#00cc00 436px,#00c200 444px,#00e200 932px,#00cf00 966px,#00d200 986px,#00ec00 1004px,#00fa00 1034px,#00f700 1120px,#00ea00 1154px,#00ea00 1256px,#00fc00 1292px,#00fc00 1354px,#00da00 1408px,#00d700 1508px)"></i>
<i style="top:204px;height:4px;background:linear-gradient(90deg,#00cc00 0px,#00ca00 120px,#00d400 164px,#00fc00 176px,#0fff00 178px,#1dff00 180px,#1dff00 182px,#00fc00 186px,#00dc00 198px,#00d700 292px,#00e200 306px,#00ff00 320px,#1dff00 322px,#49ff00 328px,#49ff00 330px,#84ff00 338px,#84ff00 340px,#b0ff00 346px,#bcff00 350px,#bcff00 354px,#b0ff00 356px,#b0ff00 396px,#93ff00 400px,#93ff00 402px,#58ff00 410px,#00ff00 416px,#00cc00 434px,#00c200 448px,#00ca00 730px,#00df00 772px,#00e200 946px,#00d700 982px,#00fa00 1034px,#00f700 1114px,#00ea00 1152px,#00ea00 1256px,#00fc00 1292px,#00fc00 1352px,#00d400 1404px,#00d400 1508px)"></i>
<i style="top:208px;height:4px;background:linear-gradient(90deg,#00cc00 0px,#00cf00 160px,#00da00 166px,#00ff00 176px,#1dff00 180px,#00fc00 184px,#00df00 194px,#00da00 300px,#00ff00 328px,#2cff00 334px,#2cff00 336px,#75ff00 346px,#75ff00 360px,#67ff00 362px,#67ff00 398px,#00ff00 412px,#00ca00 434px,#00c200 464px,#00c700 734px,#00df00 770px,#00dc00 984px,#00fa00 1036px,#00f400 1124px,#00e700 1164px,#00e700 1248px,#00ff00 1300px,#00ff00 1346px,#00d700 1392px,#00da00 1488px,#00d200 1508px)"></i>
<i style="top:212px;height:4px;background:linear-gradient(90deg,#00cc00 0px,#00cc00 160px,#00ff00 174px,#1dff00 178px,#00fc00 182px,#00dc00 194px,#00d700 244px,#00da00 302px,#00ff00 338px,#0fff00 340px,#0fff00 342px,#2cff00 346px,#2cff00 358px,#1dff00 360px,#1dff00 398px,#00ff00 402px,#00cf00 430px,#00c200 476px,#00c400 714px,#00e200 776px,#00df00 974px,#00f700 1030px,#00e700 1150px,#00e700 1258px,#00ff00 1300px,#00ff00 1346px,#00e200 1372px,#00da00 1396px,#00dc00 1488px,#00d400 1508px)"></i>
<i style="top:216px;height:4px;background:linear-gradient(90deg,#00cc00 0px,#00c400 58px,#00cf00 158px,#00ff00 172px,#0fff00 174px,#0fff00 178px,#00fc00 180px,#00dc00 192px,#00d700 246px,#00dc00 310px,#00fa00 344px,#00f700 396px,#00cf00 432px,#00c200 488px,#00c200 670px,#00ca00 730px,#00e400 780px,#00dc00 934px,#00e200 990px,#00f700 1030px,#00e400 1152px,#00e400 1256px,#00ff00 1300px,#00ff00 1348px,#00ea00 1366px,#00dc00 1398px,#00d700 1508px)"></i>
<i style="top:220px;height:4px;background:linear-gradient(90deg,#00cc00 0px,#00c400 96px,#00d200 156px,#00ff00 170px,#0fff00 172px,#0fff00 176px,#00fc00 178px,#00dc00 190px,#00da00 292px,#00dc00 318px,#00ef00 348px,#00ec00 392px,#00d400 424px,#00c200 498px,#00c200 658px,#00d200 750px,#00e400 776px,#00e200 994px,#00f400 1028px,#00e200 1150px,#00e200 1256px,#00ff00 1300px,#00ff00 1350px,#00dc00 1406px,#00da00 1508px)"></i>
<i style="top:224px;height:4px;background:linear-gradient(90deg,#00cc00 0px,#00c400 102px,#00d400 154px,#00ff00 168px,#1dff00 172px,#00ff00 176px,#00da00 188px,#00e200 398px,#00c200 506px,#00c200 648px,#00d400 754px,#00e700 780px,#00dc00 876px,#00df00 994px,#00f200 1024px,#00df00 1150px,#00df00 1254px,#00ff00 1302px,#00ff00 1350px,#00dc00 1408px,#00dc00 1508px)"></i>
<i style="top:228px;height:4px;background:linear-gradient(90deg,#00cc00 0px,#00c400 104px,#00d700 154px,#00ff00 166px,#1dff00 170px,#00ff00 174px,#00da00 186px,#00dc00 402px,#00c200 514px,#00c200 640px,#00d700 754px,#00e700 776px,#00dc00 994px,#00ef00 1026px,#00df00 1094px,#00dc00 1252px,#00fc00 1296px,#00fc00 1362px,#00dc00 1406px,#00dc00 1508px)"></i>
<i style="top:232px;height:4px;background:linear-gradient(90deg,#00cc00 0px,#00c400 106px,#00d700 152px,#00ff00 164px,#1dff00 168px,#1dff00 170px,#00ff00 172px,#00d700 186px,#00da00 422px,#00c200 520px,#00c200 632px,#00d200 680px,#00d400 734px,#00e700 774px,#00da00 994px,#00ea00 1028px,#00dc00 1076px,#00da00 1250px,#00fa00 1292px,#00fa00 1368px,#00da00 1410px,#00da00 1508px)"></i>
<i style="top:236px;height:4px;background:linear-gradient(90deg,#00cc00 0px,#00c400 106px,#00d700 150px,#00fc00 162px,#0fff00 164px,#1dff00 166px,#1dff00 168px,#00fc00 172px,#00d700 184px,#00d700 446px,#00c200 526px,#00c200 624px,#00d200 672px,#00d400 730px,#00e700 778px,#00da00 968px,#00da00 1002px,#00e700 1022px,#00da00 1062px,#00d700 1248px,#00f700 1290px,#00f700 1372px,#00da00 1404px,#00da00 1508px)"></i>
<i style="top:240px;height:4px;background:linear-gradient(90deg,#00ca00 0px,#00c700 114px,#00d400 148px,#00ff00 162px,#1dff00 164px,#1dff00 166px,#00fc00 170px,#00d400 184px,#00d700 438px,#00c200 530px,#00c200 618px,#00d200 668px,#00d400 730px,#00e400 768px,#00d700 942px,#00d700 1002px,#00e200 1020px,#00d700 1052px,#00d400 1252px,#00f200 1286px,#00f200 1376px,#00d700 1406px,#00d700 1508px)"></i>
<i style="top:244px;height:4px;background:linear-gradient(90deg,#00ca00 0px,#00c700 116px,#00d200 146px,#00fc00 160px,#0fff00 162px,#1dff00 164px,#00ff00 168px,#00d400 180px,#00d400 456px,#00c200 534px,#00c200 612px,#00d200 668px,#00d400 736px,#00e200 758px,#00cf00 1254px,#00ec00 1290px,#00ec00 1380px,#00d400 1406px,#00d400 1508px)"></i>
<i style="top:248px;height:4px;background:linear-gradient(90deg,#00c700 0px,#00cf00 146px,#00ff00 160px,#0fff00 162px,#0fff00 164px,#00ff00 166px,#00d700 176px,#00d200 180px,#00d200 470px,#00c200 538px,#00c200 608px,#00d200 734px,#00dc00 752px,#00ca00 1256px,#00e700 1294px,#00e700 1384px,#00d200 1406px,#00d200 1508px)"></i>
<i style="top:252px;height:4px;background:linear-gradient(90deg,#00c700 0px,#00cc00 144px,#00ff00 158px,#0fff00 160px,#0fff00 162px,#00ff00 164px,#00cf00 178px,#00cf00 482px,#00c200 542px,#00cf00 734px,#00da00 752px,#00da00 924px,#00cf00 942px,#00cf00 1130px,#00c200 1148px,#00c200 1256px,#00e200 1298px,#00e200 1386px,#00cf00 1406px,#00cf00 1508px)"></i>
<i style="top:256px;height:4px;background:linear-gradient(90deg,#00c700 0px,#00ca00 142px,#00f200 154px,#00ff00 162px,#00cc00 176px,#00cc00 494px,#00c200 602px,#00d400 748px,#00d700 906px,#00cc00 942px,#00cc00 1130px,#00ba00 1154px,#00ba00 1256px,#00c400 1280px,#00dc00 1302px,#00dc00 1384px,#00cc00 1406px,#00cc00 1508px)"></i>
<i style="top:260px;height:4px;background:linear-gradient(90deg,#00c700 0px,#00c700 140px,#00ef00 164px,#00ca00 176px,#00c200 600px,#00d200 910px,#00ca00 1130px,#00b200 1152px,#00b200 1162px,#00b200 1256px,#00b700 1276px,#00d400 1300px,#00ca00 1508px)"></i>
<i style="top:264px;height:4px;background:linear-gradient(90deg,#00c400 0px,#00c400 132px,#00c700 148px,#00dc00 166px,#00c700 174px,#00c200 600px,#00cc00 924px,#00c700 1130px,#00ac00 1156px,#00ac00 1266px,#00cf00 1302px,#00c700 1508px)"></i>
<i style="top:268px;height:4px;background:linear-gradient(90deg,#00c400 0px,#00c400 1130px,#00a700 1162px,#00a700 1270px,#00c700 1298px,#00c400 1508px)"></i>
<i style="top:272px;height:4px;background:linear-gradient(90deg,#00c200 0px,#00c200 1134px,#00a200 1164px,#00a200 1268px,#00c400 1300px,#00c200 1508px)"></i>
<i style="top:276px;height:4px;background:linear-gradient(90deg,#00c200 0px,#00c200 1132px,#009f00 1166px,#009f00 1264px,#00c200 1298px,#00c200 1508px)"></i>
<i style="top:280px;height:4px;background:linear-gradient(90deg,#00c200 0px,#00bf00 1134px,#009c00 1170px,#009c00 1262px,#00bf00 1296px,#00bf00 1508px)"></i>
<i style="top:284px;height:4px;background:linear-gradient(90deg,#00bf00 0px,#00bf00 1132px,#009a00 1174px,#009a00 1256px,#00bf00 1298px,#00bf00 1508px)"></i>
<i style="top:288px;height:4px;background:linear-gradient(90deg,#00bf00 0px,#00bf00 1130px,#009a00 1174px,#009a00 1256px,#00bf00 1300px,#00bf00 1508px)"></i>
<i style="top:292px;height:4px;background:linear-gradient(90deg,#00bc00 0px,#00bc00 1134px,#009a00 1174px,#009a00 1256px,#00bc00 1296px,#00bc00 1508px)"></i>
<i style="top:296px;height:4px;background:linear-gradient(90deg,#00bc00 0px,#00bc00 1132px,#009a00 1174px,#009a00 1256px,#00bc00 1298px,#00bc00 1508px)"></i>
<i style="top:300px;height:4px;background:linear-gradient(90deg,#00bc00 0px,#00bc00 1128px,#009a00 1174px,#009a00 1256px,#00bc00 1304px,#00bc00 1508px)"></i>
<i style="top:304px;height:4px;background:linear-gradient(90deg,#00ba00 0px,#00ba00 1134px,#009c00 1168px,#009c00 1262px,#00ba00 1298px,#00ba00 1508px)"></i>
<i style="top:308px;height:4px;background:linear-gradient(90deg,#00ba00 0px,#00ba00 1130px,#009c00 1168px,#009c00 1262px,#00ba00 1300px,#00ba00 1508px)"></i>
<i style="top:312px;height:4px;background:linear-gradient(90deg,#00b700 0px,#00b700 1136px,#009f00 1164px,#009f00 1184px,#009f00 1266px,#00b700 1296px,#00b700 1508px)"></i>
<i style="top:316px;height:4px;background:linear-gradient(90deg,#00b700 0px,#00b700 1136px,#00a200 1162px,#00a200 1184px,#00a200 1270px,#00b700 1296px,#00b700 1508px)"></i>
<i style="top:320px;height:4px;background:linear-gradient(90deg,#00b400 0px,#00b700 1134px,#00a700 1154px,#00a700 1276px,#00b700 1296px,#00b700 1508px)"></i>
<i style="top:324px;height:4px;background:linear-gradient(90deg,#00b200 0px,#00b700 1134px,#00aa00 1152px,#00aa00 1280px,#00b700 1296px,#00b700 1508px)"></i>
<i style="top:328px;height:4px;background:linear-gradient(90deg,#00b200 0px,#00b700 1134px,#00ac00 1150px,#00ac00 1280px,#00b700 1296px,#00b700 1508px)"></i>
<i style="top:332px;height:4px;background:linear-gradient(90deg,#00af00 0px,#00af00 168px,#00b700 186px,#00b700 1136px,#00af00 1172px,#00b700 1508px)"></i>
<i style="top:336px;height:4px;background:linear-gradient(90deg,#00af00 0px,#00af00 168px,#00b700 186px,#00b700 1508px)"></i>
<i style="top:340px;height:4px;background:linear-gradient(90deg,#00ac00 0px,#00ac00 162px,#00b700 186px,#00b700 1508px)"></i>
<i style="top:344px;height:4px;background:linear-gradient(90deg,#00ac00 0px,#00ac00 162px,#00b700 188px,#00b700 1508px)"></i>
<i style="top:348px;height:4px;background:linear-gradient(90deg,#00ac00 0px,#00aa00 154px,#00b700 188px,#00b700 1508px)"></i>
<i style="top:352px;height:4px;background:linear-gradient(90deg,#00ac00 0px,#00aa00 154px,#00b700 190px,#00b700 1508px)"></i>
<i style="top:356px;height:4px;background:linear-gradient(90deg,#00ac00 0px,#00a700 142px,#00b700 190px,#00b700 1508px)"></i>
<i style="top:360px;height:4px;background:linear-gradient(90deg,#00ac00 0px,#00a700 142px,#00b700 192px,#00b700 1508px)"></i>
<i style="top:364px;height:4px;background:linear-gradient(90deg,#00ac00 0px,#00a700 142px,#00b700 192px,#00b700 1508px)"></i>
<i style="top:368px;height:4px;background:linear-gradient(90deg,#00ac00 0px,#00a700 142px,#00b700 194px,#00b700 1508px)"></i>
<i style="top:372px;height:4px;background:linear-gradient(90deg,#00ac00 0px,#00a700 142px,#00b400 182px,#00b400 1508px)"></i>
<i style="top:376px;height:4px;background:linear-gradient(90deg,#00ac00 0px,#00a700 142px,#00b700 196px,#00b700 1508px)"></i>
<i style="top:380px;height:4px;background:linear-gradient(90deg,#00ac00 0px,#00a700 142px,#00b700 192px,#00b700 1508px)"></i>
<i style="top:384px;height:4px;background:linear-gradient(90deg,#00ac00 0px,#00aa00 154px,#00b700 190px,#00b700 1508px)"></i>
<i style="top:388px;height:4px;background:linear-gradient(90deg,#00ac00 0px,#00aa00 154px,#00b700 190px,#00b700 1508px)"></i>
<i style="top:392px;height:4px;background:linear-gradient(90deg,#00ac00 0px,#00aa00 154px,#00b700 188px,#00b700 1508px)"></i>
<i style="top:396px;height:4px;background:linear-gradient(90deg,#00ac00 0px,#00ac00 162px,#00b700 186px,#00b700 1508px)"></i>
<i style="top:400px;height:4px;background:linear-gradient(90deg,#00af00 0px,#00ac00 160px,#00b700 186px,#00b700 1508px)"></i>
<i style="top:404px;height:4px;background:linear-gradient(90deg,#00af00 0px,#00af00 168px,#00b700 186px,#00b700 1508px)"></i>
<i style="top:408px;height:4px;background:linear-gradient(90deg,#00af00 0px,#00af00 166px,#00b700 184px,#00b700 1508px)"></i>
<i style="top:412px;height:4px;background:linear-gradient(90deg,#00b200 0px,#00b700 1508px)"></i>
<i style="top:416px;height:4px;background:linear-gradient(90deg,#00b400 0px,#00ba00 1508px)"></i>
<i style="top:420px;height:4px;background:linear-gradient(90deg,#00b700 0px,#00ba00 1508px)"></i>
<i style="top:424px;height:4px;background:linear-gradient(90deg,#00b700 0px,#00ba00 1508px)"></i>
<i style="top:428px;height:4px;background:linear-gradient(90deg,#00ba00 0px,#00bc00 1508px)"></i>
<i style="top:432px;height:4px;background:linear-gradient(90deg,#00bc00 0px,#00bc00 1508px)"></i>
<i style="top:436px;height:4px;background:linear-gradient(90deg,#00bc00 0px,#00bc00 1508px)"></i>
<i style="top:440px;height:4px;background:linear-gradient(90deg,#00bf00 0px,#00bf00 1508px)"></i>
<i style="top:444px;height:4px;background:linear-gradient(90deg,#00bf00 0px,#00bf00 1508px)"></i>
<i style="top:448px;height:4px;background:linear-gradient(90deg,#00c200 0px,#00c200 1508px)"></i>
<i style="top:452px;height:4px;background:linear-gradient(90deg,#00c200 0px,#00c200 1508px)"></i>
<i style="top:456px;height:4px;background:linear-gradient(90deg,#00c200 0px,#00c200 1508px)"></i>
<i style="top:460px;height:4px;background:linear-gradient(90deg,#00c400 0px,#00c400 1508px)"></i>
<i style="top:464px;height:4px;background:linear-gradient(90deg,#00c700 0px,#00c700 1508px)"></i>
<i style="top:468px;height:4px;background:linear-gradient(90deg,#00ca00 0px,#00ca00 1508px)"></i>
<i style="top:472px;height:4px;background:linear-gradient(90deg,#00cc00 0px,#00cc00 1508px)"></i>
<i style="top:476px;height:4px;background:linear-gradient(90deg,#00cf00 0px,#00cf00 1508px)"></i>
<i style="top:480px;height:4px;background:linear-gradient(90deg,#00cf00 0px,#00cf00 1508px)"></i>
<i style="top:484px;height:4px;background:linear-gradient(90deg,#00d200 0px,#00d200 1508px)"></i>
<i style="top:488px;height:4px;background:linear-gradient(90deg,#00d400 0px,#00d400 1508px)"></i>
<i style="top:492px;height:4px;background:linear-gradient(90deg,#00d700 0px,#00d700 1508px)"></i>
<i style="top:496px;height:4px;background:linear-gradient(90deg,#00da00 0px,#00da00 1508px)"></i>
<i style="top:500px;height:4px;background:linear-gradient(90deg,#00da00 0px,#00da00 84px,#00e400 122px,#00da00 190px,#00da00 538px,#00e400 622px,#00da00 776px,#00e400 952px,#00da00 1016px,#00da00 1508px)"></i>
<i style="top:504px;height:4px;background:linear-gradient(90deg,#00dc00 0px,#00dc00 76px,#00ea00 120px,#00dc00 202px,#00dc00 522px,#00ea00 612px,#00dc00 876px,#00ec00 936px,#00dc00 1032px,#00dc00 1508px)"></i>
<i style="top:508px;height:4px;background:linear-gradient(90deg,#00df00 0px,#00df00 68px,#00f200 126px,#00df00 218px,#00df00 512px,#00f200 622px,#00df00 862px,#00f400 936px,#00df00 1038px,#00df00 1508px)"></i>
<i style="top:512px;height:4px;background:linear-gradient(90deg,#00df00 0px,#00e200 58px,#00f700 120px,#00df00 264px,#00df00 502px,#00fa00 626px,#00f400 754px,#00e200 792px,#00df00 826px,#00fc00 936px,#00df00 1048px,#00df00 1508px)"></i>
<i style="top:516px;height:4px;background:linear-gradient(90deg,#00e200 0px,#00e700 60px,#00ff00 126px,#00e200 272px,#00df00 478px,#00ff00 632px,#00fa00 756px,#00e200 824px,#00ff00 928px,#0fff00 930px,#0fff00 936px,#1dff00 938px,#1dff00 950px,#0fff00 952px,#0fff00 960px,#00ff00 962px,#00f200 1026px,#00e200 1046px,#00e200 1508px)"></i>
<i style="top:520px;height:4px;background:linear-gradient(90deg,#00e400 0px,#00e400 34px,#00ff00 114px,#0fff00 116px,#0fff00 122px,#1dff00 124px,#1dff00 128px,#0fff00 130px,#0fff00 142px,#00ff00 144px,#00e400 284px,#00e200 414px,#00e200 492px,#00f700 530px,#00ff00 592px,#0fff00 594px,#0fff00 608px,#1dff00 610px,#1dff00 626px,#2cff00 628px,#2cff00 636px,#1dff00 638px,#1dff00 698px,#0fff00 700px,#0fff00 752px,#00ff00 754px,#00ff00 758px,#00e400 812px,#00ff00 904px,#0fff00 906px,#0fff00 914px,#1dff00 916px,#1dff00 922px,#2cff00 924px,#3bff00 938px,#49ff00 940px,#49ff00 946px,#3bff00 948px,#3bff00 958px,#2cff00 960px,#2cff00 968px,#1dff00 970px,#1dff00 980px,#0fff00 982px,#0fff00 992px,#00ff00 994px,#00f700 1030px,#00e400 1048px,#00e400 1508px)"></i>
<i style="top:524px;height:4px;background:linear-gradient(90deg,#00e400 0px,#00e400 30px,#00ff00 98px,#0fff00 100px,#0fff00 106px,#1dff00 108px,#1dff00 116px,#2cff00 118px,#2cff00 140px,#1dff00 142px,#1dff00 154px,#0fff00 156px,#0fff00 168px,#00ff00 170px,#00e400 312px,#00e200 416px,#00e400 508px,#00fa00 530px,#00ff00 558px,#0fff00 560px,#0fff00 572px,#1dff00 574px,#1dff00 590px,#2cff00 592px,#2cff00 610px,#3bff00 612px,#3bff00 694px,#2cff00 696px,#2cff00 752px,#1dff00 754px,#0fff00 764px,#00ff00 766px,#00e400 816px,#00ff00 884px,#0fff00 886px,#1dff00 900px,#2cff00 902px,#2cff00 910px,#3bff00 912px,#3bff00 918px,#49ff00 920px,#58ff00 938px,#67ff00 940px,#67ff00 948px,#58ff00 950px,#58ff00 962px,#49ff00 964px,#49ff00 974px,#3bff00 976px,#3bff00 986px,#2cff00 988px,#2cff00 996px,#1dff00 998px,#1dff00 1008px,#0fff00 1010px,#0fff00 1020px,#00ff00 1022px,#00e400 1050px,#00e400 1508px)"></i>
<i style="top:528px;height:4px;background:linear-gradient(90deg,#00e400 0px,#00e400 26px,#00ff00 84px,#0fff00 86px,#1dff00 100px,#2cff00 102px,#2cff00 110px,#3bff00 112px,#3bff00 122px,#49ff00 124px,#49ff00 132px,#3bff00 134px,#3bff00 148px,#2cff00 150px,#2cff00 164px,#1dff00 166px,#1dff00 178px,#0fff00 180px,#0fff00 192px,#00ff00 194px,#00e400 332px,#00df00 470px,#00df00 516px,#00f400 528px,#00ff00 556px,#2cff00 566px,#2cff00 574px,#3bff00 576px,#3bff00 596px,#49ff00 598px,#49ff00 618px,#58ff00 620px,#58ff00 660px,#49ff00 662px,#49ff00 744px,#3bff00 746px,#3bff00 756px,#2cff00 758px,#2cff00 762px,#1dff00 764px,#0fff00 774px,#00ff00 776px,#00e700 816px,#00fa00 838px,#00ff00 862px,#0fff00 864px,#0fff00 870px,#1dff00 872px,#1dff00 880px,#2cff00 882px,#2cff00 888px,#3bff00 890px,#3bff00 898px,#49ff00 900px,#49ff00 906px,#58ff00 908px,#58ff00 918px,#67ff00 920px,#67ff00 928px,#75ff00 930px,#75ff00 942px,#84ff00 944px,#75ff00 946px,#75ff00 960px,#67ff00 962px,#67ff00 976px,#58ff00 978px,#58ff00 988px,#49ff00 990px,#49ff00 1002px,#3bff00 1004px,#3bff00 1014px,#2cff00 1016px,#2cff00 1022px,#1dff00 1024px,#1dff00 1026px,#00fc00 1030px,#00e400 1056px,#00e400 1508px)"></i>
<i style="top:532px;height:4px;background:linear-gradient(90deg,#00e700 0px,#00e700 30px,#00fa00 48px,#00ff00 68px,#0fff00 70px,#0fff00 76px,#1dff00 78px,#2cff00 96px,#3bff00 98px,#3bff00 106px,#49ff00 108px,#49ff00 120px,#58ff00 122px,#58ff00 132px,#49ff00 134px,#49ff00 156px,#3bff00 158px,#3bff00 174px,#2cff00 176px,#2cff00 190px,#1dff00 192px,#0fff00 218px,#00ff00 220px,#00e200 350px,#00e200 486px,#00d200 516px,#00ec00 532px,#00ff00 560px,#1dff00 564px,#1dff00 566px,#3bff00 570px,#3bff00 572px,#49ff00 574px,#49ff00 584px,#58ff00 586px,#58ff00 616px,#67ff00 618px,#67ff00 672px,#58ff00 674px,#58ff00 752px,#49ff00 754px,#49ff00 760px,#3bff00 762px,#3bff00 766px,#2cff00 768px,#2cff00 774px,#1dff00 776px,#1dff00 778px,#0fff00 780px,#0fff00 784px,#00ff00 786px,#00e700 816px,#00ff00 842px,#0fff00 844px,#1dff00 858px,#2cff00 860px,#2cff00 868px,#3bff00 870px,#3bff00 876px,#49ff00 878px,#49ff00 886px,#58ff00 888px,#58ff00 896px,#67ff00 898px,#67ff00 908px,#75ff00 910px,#75ff00 920px,#84ff00 922px,#84ff00 938px,#93ff00 940px,#93ff00 948px,#84ff00 950px,#84ff00 970px,#75ff00 972px,#75ff00 988px,#67ff00 990px,#67ff00 1002px,#58ff00 1004px,#58ff00 1016px,#49ff00 1018px,#49ff00 1022px,#00ff00 1032px,#00e700 1052px,#00e700 1508px)"></i>
<i style="top:536px;height:4px;background:linear-gradient(90deg,#00e700 0px,#00e700 30px,#00ff00 54px,#0fff00 56px,#1dff00 70px,#2cff00 72px,#2cff00 80px,#3bff00 82px,#3bff00 92px,#49ff00 94px,#49ff00 106px,#58ff00 108px,#58ff00 156px,#49ff00 158px,#49ff00 180px,#3bff00 182px,#3bff00 198px,#2cff00 200px,#2cff00 214px,#1dff00 216px,#1dff00 230px,#0fff00 232px,#0fff00 244px,#00ff00 246px,#00e200 350px,#00e200 478px,#00c700 514px,#00df00 534px,#00e700 552px,#00ff00 566px,#3bff00 574px,#3bff00 576px,#58ff00 582px,#58ff00 586px,#67ff00 588px,#67ff00 752px,#58ff00 754px,#58ff00 760px,#49ff00 762px,#3bff00 772px,#00ff00 786px,#00ea00 812px,#00ec00 824px,#00ff00 836px,#2cff00 842px,#2cff00 846px,#3bff00 848px,#49ff00 866px,#58ff00 868px,#58ff00 876px,#67ff00 878px,#67ff00 888px,#75ff00 890px,#75ff00 900px,#84ff00 902px,#84ff00 918px,#93ff00 920px,#93ff00 976px,#84ff00 978px,#84ff00 998px,#75ff00 1000px,#75ff00 1014px,#67ff00 1016px,#67ff00 1020px,#00ff00 1034px,#00e700 1056px,#00e700 1508px)"></i>
<i style="top:540px;height:4px;background:linear-gradient(90deg,#00e700 0px,#00e700 28px,#00ff00 52px,#1dff00 56px,#1dff00 58px,#2cff00 60px,#2cff00 66px,#3bff00 68px,#3bff00 76px,#49ff00 78px,#49ff00 90px,#58ff00 92px,#58ff00 186px,#49ff00 188px,#49ff00 206px,#3bff00 208px,#3bff00 224px,#2cff00 226px,#2cff00 240px,#1dff00 242px,#1dff00 254px,#0fff00 256px,#0fff00 266px,#00ff00 268px,#00f400 320px,#00e200 352px,#00df00 476px,#00ba00 516px,#00d400 550px,#00ff00 574px,#0fff00 576px,#0fff00 578px,#49ff00 586px,#49ff00 588px,#58ff00 590px,#58ff00 754px,#49ff00 756px,#49ff00 760px,#2cff00 766px,#2cff00 770px,#00ff00 780px,#00ea00 812px,#00ea00 820px,#00ff00 836px,#58ff00 848px,#58ff00 856px,#67ff00 858px,#67ff00 866px,#75ff00 868px,#75ff00 880px,#84ff00 882px,#84ff00 896px,#93ff00 898px,#93ff00 1002px,#84ff00 1004px,#84ff00 1016px,#67ff00 1020px,#67ff00 1022px,#00ff00 1036px,#00e700 1060px,#00e700 1508px)"></i>
<i style="top:544px;height:4px;background:linear-gradient(90deg,#00ea00 0px,#00ea00 30px,#00ff00 52px,#3bff00 60px,#3bff00 62px,#49ff00 64px,#49ff00 72px,#58ff00 74px,#58ff00 94px,#67ff00 96px,#67ff00 192px,#58ff00 194px,#58ff00 216px,#49ff00 218px,#49ff00 234px,#3bff00 236px,#3bff00 250px,#2cff00 252px,#2cff00 262px,#1dff00 264px,#1dff00 274px,#0fff00 276px,#0fff00 286px,#00ff00 288px,#00fa00 318px,#00e200 352px,#00df00 466px,#00ac00 516px,#00af00 540px,#00ff00 582px,#1dff00 584px,#3bff00 588px,#3bff00 592px,#49ff00 594px,#49ff00 754px,#3bff00 756px,#3bff00 758px,#2cff00 760px,#2cff00 764px,#00ff00 774px,#00ea00 810px,#00ec00 822px,#00ff00 836px,#75ff00 852px,#75ff00 860px,#84ff00 862px,#84ff00 876px,#93ff00 878px,#93ff00 1014px,#75ff00 1020px,#75ff00 1022px,#00ff00 1038px,#00ea00 1058px,#00ea00 1508px)"></i>
<i style="top:548px;height:4px;background:linear-gradient(90deg,#00ef00 0px,#00ef00 30px,#00ff00 48px,#1dff00 52px,#1dff00 54px,#3bff00 58px,#3bff00 60px,#58ff00 64px,#58ff00 68px,#67ff00 70px,#67ff00 176px,#75ff00 178px,#75ff00 196px,#67ff00 198px,#67ff00 226px,#58ff00 228px,#58ff00 246px,#49ff00 248px,#49ff00 262px,#3bff00 264px,#3bff00 274px,#2cff00 276px,#1dff00 298px,#0fff00 300px,#0fff00 308px,#00ff00 310px,#00df00 362px,#00dc00 464px,#009a00 522px,#009a00 538px,#009a08 540px,#00a200 548px,#00da00 572px,#00fc00 582px,#0fff00 584px,#49ff00 588px,#49ff00 592px,#3bff00 594px,#3bff00 598px,#49ff00 600px,#49ff00 614px,#3bff00 616px,#3bff00 752px,#1dff00 758px,#1dff00 762px,#00ff00 768px,#00ea00 808px,#00ec00 822px,#00ff00 836px,#84ff00 854px,#84ff00 1020px,#75ff00 1022px,#75ff00 1024px,#00ff00 1040px,#00ea00 1062px,#00ef00 1508px)"></i>
<i style="top:552px;height:4px;background:linear-gradient(90deg,#00f700 0px,#00ff00 42px,#3bff00 52px,#58ff00 62px,#67ff00 64px,#67ff00 74px,#75ff00 76px,#75ff00 180px,#84ff00 182px,#84ff00 192px,#75ff00 194px,#75ff00 224px,#67ff00 226px,#67ff00 256px,#58ff00 258px,#58ff00 270px,#49ff00 272px,#49ff00 280px,#3bff00 282px,#3bff00 290px,#2cff00 292px,#2cff00 298px,#1dff00 300px,#1dff00 304px,#00ff00 310px,#00df00 360px,#00df00 452px,#00ca00 478px,#009a00 510px,#00a248 526px,#009f33 540px,#009d1d 548px,#009a00 554px,#00bc00 568px,#00fa00 580px,#0fff00 582px,#3bff00 584px,#58ff00 586px,#67ff00 588px,#58ff00 606px,#49ff00 608px,#49ff00 614px,#3bff00 616px,#3bff00 624px,#2cff00 626px,#2cff00 632px,#1dff00 634px,#1dff00 754px,#0fff00 756px,#0fff00 760px,#00ff00 762px,#00ea00 802px,#00ea00 818px,#00ff00 836px,#75ff00 852px,#75ff00 956px,#84ff00 958px,#84ff00 1022px,#75ff00 1024px,#67ff00 1030px,#0fff00 1042px,#0fff00 1044px,#00ff00 1046px,#00ef00 1062px,#00f700 1508px)"></i>
<i style="top:556px;height:4px;background:linear-gradient(90deg,#0fff00 0px,#0fff00 4px,#00ff00 6px,#00ff00 24px,#0fff00 26px,#0fff00 32px,#67ff00 54px,#67ff00 58px,#75ff00 60px,#75ff00 66px,#84ff00 68px,#84ff00 128px,#93ff00 130px,#93ff00 180px,#a1ff00 182px,#93ff00 204px,#84ff00 206px,#84ff00 220px,#75ff00 222px,#75ff00 248px,#67ff00 250px,#67ff00 262px,#58ff00 264px,#58ff00 272px,#49ff00 274px,#3bff00 292px,#2cff00 294px,#2cff00 298px,#1dff00 300px,#1dff00 302px,#00ff00 306px,#00df00 358px,#00dc00 452px,#009c00 502px,#00a13d 514px,#00a13d 516px,#00a773 528px,#009d1d 560px,#009a00 564px,#00b200 570px,#00fc00 580px,#2cff00 582px,#49ff00 584px,#75ff00 590px,#75ff00 608px,#58ff00 614px,#49ff00 624px,#3bff00 626px,#3bff00 628px,#2cff00 630px,#2cff00 634px,#0fff00 640px,#0fff00 750px,#00ff00 752px,#00ea00 796px,#00ea00 818px,#00ff00 836px,#67ff00 850px,#67ff00 952px,#75ff00 954px,#75ff00 1030px,#67ff00 1032px,#67ff00 1034px,#49ff00 1038px,#49ff00 1040px,#1dff00 1046px,#1dff00 1048px,#00ff00 1052px,#00f400 1070px,#00ff00 1506px,#0fff00 1508px)"></i>
<i style="top:560px;height:4px;background:linear-gradient(90deg,#58ff00 0px,#58ff00 32px,#67ff00 34px,#67ff00 36px,#75ff00 38px,#75ff00 42px,#93ff00 48px,#93ff00 56px,#a1ff00 58px,#a1ff00 84px,#b0ff00 86px,#b0ff00 134px,#bcff00 136px,#c0fd00 190px,#bcff00 200px,#b0ff00 202px,#b0ff00 212px,#a1ff00 214px,#a1ff00 222px,#93ff00 224px,#93ff00 236px,#84ff00 238px,#84ff00 250px,#75ff00 252px,#67ff00 270px,#58ff00 272px,#58ff00 280px,#49ff00 282px,#49ff00 292px,#3bff00 294px,#3bff00 296px,#00ff00 304px,#00df00 356px,#00dc00 446px,#009a00 498px,#00a353 512px,#00a353 514px,#00aa88 526px,#00aa88 532px,#00a773 536px,#00a773 540px,#00a248 554px,#00a13d 562px,#009a00 572px,#00ff00 588px,#2cff00 590px,#3bff00 592px,#58ff00 594px,#75ff00 598px,#75ff00 618px,#67ff00 620px,#67ff00 624px,#00ff00 650px,#00fc00 754px,#00ea00 788px,#00ea00 818px,#00ff00 836px,#49ff00 846px,#49ff00 926px,#58ff00 928px,#58ff00 944px,#67ff00 946px,#67ff00 958px,#75ff00 960px,#75ff00 970px,#84ff00 972px,#84ff00 1028px,#75ff00 1030px,#75ff00 1040px,#58ff00 1046px,#58ff00 1048px,#3bff00 1052px,#1dff00 1062px,#0fff00 1064px,#0fff00 1068px,#00ff00 1070px,#00ff00 1080px,#0fff00 1082px,#0fff00 1096px,#00ff00 1098px,#00ff00 1130px,#0fff00 1132px,#00ff00 1134px,#00ff00 1358px,#0fff00 1360px,#0fff00 1406px,#1dff00 1408px,#1dff00 1454px,#2cff00 1456px,#2cff00 1484px,#3bff00 1486px,#3bff00 1496px,#49ff00 1498px,#49ff00 1504px,#58ff00 1506px,#58ff00 1508px)"></i>
<i style="top:564px;height:4px;background:linear-gradient(90deg,#a1ff00 0px,#a1ff00 28px,#b0ff00 30px,#b0ff00 38px,#bcff00 40px,#c0fd00 46px,#ccf900 192px,#bcff00 232px,#b0ff00 234px,#b0ff00 244px,#a1ff00 246px,#a1ff00 254px,#93ff00 256px,#93ff00 260px,#84ff00 262px,#84ff00 266px,#75ff00 268px,#75ff00 274px,#67ff00 276px,#67ff00 286px,#58ff00 288px,#58ff00 290px,#00ff00 302px,#00ec00 320px,#00df00 356px,#00dc00 438px,#009a00 494px,#00aa88 518px,#00aa90 528px,#00aa88 544px,#00a55d 560px,#00a13d 566px,#00a13d 568px,#009a00 578px,#00b200 584px,#00fc00 596px,#1dff00 598px,#49ff00 600px,#58ff00 602px,#75ff00 604px,#75ff00 630px,#67ff00 632px,#67ff00 636px,#49ff00 642px,#49ff00 644px,#2cff00 648px,#2cff00 650px,#00ff00 656px,#00f700 666px,#00f700 756px,#00ea00 782px,#00ea00 818px,#00ff00 836px,#1dff00 840px,#1dff00 888px,#2cff00 890px,#2cff00 904px,#3bff00 906px,#3bff00 920px,#49ff00 922px,#58ff00 944px,#67ff00 946px,#67ff00 952px,#75ff00 954px,#75ff00 958px,#93ff00 964px,#93ff00 970px,#b0ff00 976px,#b0ff00 992px,#a1ff00 994px,#a1ff00 1044px,#93ff00 1046px,#93ff00 1050px,#84ff00 1052px,#84ff00 1056px,#67ff00 1062px,#67ff00 1066px,#58ff00 1068px,#58ff00 1104px,#49ff00 1106px,#49ff00 1124px,#58ff00 1126px,#58ff00 1134px,#49ff00 1136px,#49ff00 1150px,#3bff00 1152px,#3bff00 1162px,#49ff00 1164px,#49ff00 1168px,#49ff00 1186px,#3bff00 1188px,#3bff00 1220px,#49ff00 1222px,#49ff00 1228px,#3bff00 1230px,#3bff00 1286px,#2cff00 1288px,#2cff00 1308px,#3bff00 1310px,#3bff00 1360px,#49ff00 1362px,#49ff00 1408px,#58ff00 1410px,#58ff00 1452px,#67ff00 1454px,#67ff00 1464px,#75ff00 1466px,#75ff00 1482px,#84ff00 1484px,#84ff00 1492px,#93ff00 1494px,#a1ff00 1508px)"></i>
<i style="top:568px;height:4px;background:linear-gradient(90deg,#c8fb00 0px,#d8f500 190px,#c0fd00 254px,#b0ff00 262px,#93ff00 268px,#93ff00 272px,#84ff00 274px,#84ff00 282px,#75ff00 284px,#75ff00 286px,#00ff00 300px,#00f700 306px,#00ea00 318px,#00df00 354px,#00dc00 432px,#009a00 490px,#00aa88 516px,#00aa95 528px,#00aa88 556px,#00a13d 572px,#009e28 580px,#009c00 586px,#00b400 592px,#00fa00 602px,#67ff00 608px,#75ff00 610px,#75ff00 642px,#67ff00 644px,#67ff00 648px,#00ff00 662px,#00f200 678px,#00ea00 776px,#00ea00 818px,#00ff00 836px,#00ff00 886px,#0fff00 888px,#1dff00 898px,#2cff00 900px,#2cff00 908px,#3bff00 910px,#3bff00 918px,#49ff00 920px,#49ff00 928px,#58ff00 930px,#58ff00 936px,#67ff00 938px,#75ff00 948px,#93ff00 952px,#93ff00 954px,#b0ff00 958px,#bcff00 962px,#ccf900 980px,#c0fd00 1054px,#bcff00 1062px,#b0ff00 1064px,#b0ff00 1098px,#a1ff00 1100px,#a1ff00 1140px,#93ff00 1142px,#93ff00 1176px,#a1ff00 1178px,#93ff00 1180px,#93ff00 1192px,#84ff00 1194px,#84ff00 1218px,#93ff00 1220px,#93ff00 1230px,#84ff00 1232px,#84ff00 1284px,#75ff00 1286px,#75ff00 1314px,#84ff00 1316px,#84ff00 1326px,#84ff00 1328px,#75ff00 1330px,#75ff00 1342px,#84ff00 1344px,#84ff00 1400px,#93ff00 1402px,#93ff00 1448px,#a1ff00 1450px,#a1ff00 1456px,#b0ff00 1458px,#c8fb00 1508px)"></i>
<i style="top:572px;height:4px;background:linear-gradient(90deg,#d8f500 0px,#e0f300 196px,#ccf900 254px,#bcff00 266px,#a1ff00 272px,#a1ff00 276px,#93ff00 278px,#93ff00 280px,#2cff00 294px,#0fff00 296px,#00ff00 298px,#00e700 318px,#00dc00 426px,#009a00 486px,#009d1d 492px,#009d1d 494px,#00a773 510px,#00aa88 512px,#00aa98 528px,#00aa88 560px,#009f33 582px,#009f33 584px,#009a00 592px,#00b200 598px,#00f700 608px,#0fff00 610px,#67ff00 614px,#75ff00 616px,#75ff00 652px,#58ff00 656px,#58ff00 658px,#00ff00 670px,#00ef00 684px,#00ea00 768px,#00ea00 818px,#00fa00 836px,#00ff00 892px,#0fff00 894px,#0fff00 896px,#2cff00 900px,#2cff00 904px,#3bff00 906px,#3bff00 912px,#49ff00 914px,#49ff00 918px,#58ff00 920px,#58ff00 926px,#67ff00 928px,#67ff00 932px,#84ff00 938px,#93ff00 944px,#bcff00 950px,#d4f700 962px,#e0f300 978px,#e0f300 1008px,#c8fb00 1074px,#bcff00 1248px,#c0fd00 1448px,#d8f500 1508px)"></i>
<i style="top:576px;height:4px;background:linear-gradient(90deg,#e0f300 0px,#e8f000 194px,#d8f500 248px,#b0ff00 274px,#84ff00 280px,#84ff00 282px,#75ff00 284px,#58ff00 288px,#3bff00 290px,#00ff00 298px,#00f400 304px,#00e200 334px,#00dc00 422px,#009a00 482px,#009a08 486px,#00aa88 510px,#00aa98 526px,#00aa98 546px,#00aa88 566px,#009f33 588px,#009f33 590px,#009a00 598px,#00ba00 606px,#00fc00 616px,#3bff00 618px,#67ff00 620px,#75ff00 622px,#75ff00 660px,#58ff00 664px,#58ff00 666px,#00ff00 678px,#00ec00 690px,#00ea00 782px,#00f400 880px,#00ff00 894px,#2cff00 900px,#2cff00 902px,#49ff00 906px,#49ff00 908px,#58ff00 910px,#58ff00 914px,#67ff00 916px,#67ff00 922px,#84ff00 928px,#93ff00 934px,#b0ff00 938px,#ecef00 964px,#efed00 970px,#efed00 1016px,#d8f500 1062px,#ccf900 1242px,#ccf900 1448px,#e0f300 1508px)"></i>
<i style="top:580px;height:4px;background:linear-gradient(90deg,#e8f000 0px,#ecef00 204px,#e4f100 238px,#bcff00 270px,#a1ff00 274px,#a1ff00 276px,#1dff00 294px,#00ff00 296px,#00f400 304px,#00e400 318px,#00dc00 416px,#009a00 478px,#009e28 490px,#00aa88 508px,#00aa98 524px,#00aa98 552px,#00aa88 574px,#009c00 606px,#00aa00 610px,#00f400 620px,#0fff00 622px,#49ff00 624px,#67ff00 626px,#75ff00 628px,#75ff00 668px,#67ff00 670px,#67ff00 672px,#3bff00 678px,#1dff00 680px,#00fc00 684px,#00ea00 698px,#00ea00 822px,#00ef00 872px,#00ff00 894px,#58ff00 906px,#58ff00 908px,#75ff00 912px,#75ff00 914px,#84ff00 916px,#84ff00 920px,#bcff00 934px,#f4e200 966px,#f5df00 1008px,#efed00 1046px,#e0f300 1076px,#d4f700 1298px,#d4f700 1436px,#e8f000 1508px)"></i>
<i style="top:584px;height:4px;background:linear-gradient(90deg,#ecef00 0px,#ecef00 232px,#bcff00 270px,#93ff00 276px,#93ff00 278px,#3bff00 290px,#1dff00 292px,#00ff00 296px,#00fa00 300px,#00e400 318px,#00dc00 412px,#009a00 474px,#009e28 486px,#00aa88 506px,#00aa98 522px,#00aa98 556px,#00aa88 578px,#00a97d 582px,#00a248 592px,#00a248 594px,#009a08 610px,#00ba00 618px,#00f700 626px,#0fff00 628px,#49ff00 630px,#67ff00 632px,#75ff00 634px,#75ff00 674px,#58ff00 680px,#3bff00 682px,#1dff00 686px,#00ff00 688px,#00ea00 704px,#00ec00 872px,#00ff00 892px,#93ff00 914px,#a1ff00 920px,#b0ff00 922px,#f0ea00 958px,#f9d700 974px,#f9d700 1006px,#e8f000 1068px,#e0f300 1456px,#ecef00 1508px)"></i>
<i style="top:588px;height:4px;background:linear-gradient(90deg,#efed00 0px,#ecef00 232px,#bcff00 270px,#84ff00 278px,#84ff00 280px,#49ff00 288px,#2cff00 290px,#00ff00 296px,#00fa00 300px,#00e400 318px,#00dc00 406px,#009a00 470px,#009e28 482px,#00aa88 502px,#00aa98 520px,#00aa98 562px,#00aa88 582px,#00a55d 592px,#00a55d 594px,#00a13d 600px,#009d1d 612px,#009a00 616px,#00af00 622px,#00f700 632px,#0fff00 634px,#49ff00 636px,#67ff00 638px,#75ff00 640px,#75ff00 680px,#1dff00 692px,#00ff00 694px,#00ea00 710px,#00ea00 758px,#00ea00 866px,#00ff00 890px,#67ff00 904px,#67ff00 906px,#a1ff00 914px,#a1ff00 916px,#bcff00 920px,#d0f800 940px,#efed00 954px,#fbd500 974px,#f8da00 1038px,#ecef00 1070px,#efed00 1508px)"></i>
<i style="top:592px;height:4px;background:linear-gradient(90deg,#efed00 0px,#ecef00 232px,#bcff00 270px,#75ff00 280px,#75ff00 282px,#58ff00 286px,#3bff00 288px,#00ff00 296px,#00fa00 300px,#00e200 326px,#00dc00 400px,#009a00 464px,#009e28 478px,#00aa88 498px,#00aa98 516px,#00aa98 568px,#00aa88 588px,#009f33 608px,#009d1d 618px,#009a00 622px,#00af00 628px,#00ff00 640px,#3bff00 642px,#75ff00 646px,#75ff00 686px,#00fc00 702px,#00ea00 716px,#00ea00 864px,#00ff00 886px,#0fff00 888px,#0fff00 890px,#93ff00 908px,#93ff00 910px,#bcff00 916px,#efed00 954px,#fcd200 978px,#fbd500 1036px,#efed00 1066px,#efed00 1508px)"></i>
<i style="top:596px;height:4px;background:linear-gradient(90deg,#efed00 0px,#ecef00 232px,#bcff00 270px,#00ff00 296px,#00fa00 300px,#00e200 322px,#00dc00 396px,#009a00 460px,#009f33 476px,#00aa88 494px,#00aa98 514px,#00aa98 572px,#00aa8b 590px,#00a97d 596px,#00a248 608px,#009d1d 624px,#009a08 628px,#00ba00 636px,#00fc00 646px,#2cff00 648px,#67ff00 652px,#75ff00 654px,#75ff00 692px,#58ff00 696px,#58ff00 698px,#3bff00 700px,#00fc00 708px,#00e700 722px,#00e700 862px,#00ff00 886px,#49ff00 896px,#49ff00 898px,#84ff00 906px,#84ff00 908px,#bcff00 916px,#efed00 952px,#fcd200 980px,#fdcf00 1026px,#efed00 1066px,#efed00 1508px)"></i>
<i style="top:600px;height:4px;background:linear-gradient(90deg,#efed00 0px,#f3e500 146px,#ecef00 232px,#bcff00 270px,#00ff00 296px,#00fa00 300px,#00e200 322px,#00dc00 392px,#009a00 454px,#00a13d 474px,#00aa88 490px,#00aa98 510px,#00aa98 576px,#00aa88 598px,#00a13d 618px,#009e28 628px,#009a08 634px,#00aa00 640px,#00ff00 654px,#3bff00 656px,#75ff00 660px,#75ff00 698px,#3bff00 706px,#1dff00 708px,#00fc00 712px,#00e400 726px,#00e200 862px,#00ff00 894px,#75ff00 910px,#93ff00 912px,#bcff00 918px,#ecef00 950px,#f9d700 972px,#fcd200 1032px,#efed00 1066px,#efed00 1508px)"></i>
<i style="top:604px;height:4px;background:linear-gradient(90deg,#efed00 0px,#f4e200 48px,#f4e200 148px,#ecef00 232px,#bcff00 270px,#00ff00 296px,#00fa00 300px,#00e200 322px,#00dc00 386px,#009a00 452px,#009e28 464px,#00a353 472px,#00a353 474px,#00aa88 486px,#00aa98 506px,#00aa98 580px,#00aa88 604px,#00a668 612px,#00a55d 618px,#00a248 622px,#009e28 636px,#009a08 642px,#00ac00 648px,#00ff00 662px,#58ff00 666px,#75ff00 670px,#75ff00 704px,#58ff00 708px,#3bff00 710px,#00fc00 716px,#00dc00 734px,#00da00 868px,#00df00 880px,#00ff00 904px,#0fff00 906px,#2cff00 908px,#49ff00 912px,#93ff00 918px,#c0fd00 924px,#efed00 956px,#f5df00 968px,#fbd500 1026px,#efed00 1068px,#efed00 1508px)"></i>
<i style="top:608px;height:4px;background:linear-gradient(90deg,#efed00 0px,#f5df00 56px,#f5df00 142px,#f4e200 202px,#ecef00 232px,#bcff00 270px,#00ff00 296px,#00fa00 300px,#00e200 322px,#00dc00 382px,#009a00 448px,#00a13d 466px,#00aa88 482px,#00aa98 502px,#00aa98 586px,#00aa8b 608px,#009e28 644px,#009a00 650px,#00bf00 660px,#00fa00 670px,#0fff00 672px,#3bff00 674px,#58ff00 676px,#75ff00 680px,#75ff00 708px,#3bff00 716px,#00ff00 720px,#00d200 744px,#00cf00 834px,#00cf00 876px,#00fc00 912px,#1dff00 916px,#3bff00 918px,#49ff00 920px,#84ff00 924px,#c0fd00 932px,#ecef00 958px,#f4e200 978px,#f9d700 1006px,#f7dd00 1044px,#efed00 1068px,#efed00 1508px)"></i>
<i style="top:612px;height:4px;background:linear-gradient(90deg,#efed00 0px,#f5df00 56px,#f5df00 194px,#ecef00 232px,#bcff00 270px,#00ff00 296px,#00fa00 300px,#00e200 322px,#00dc00 378px,#009a00 444px,#00a13d 462px,#00aa88 478px,#00aa98 498px,#00aa98 592px,#00aa88 618px,#009f33 650px,#009c00 660px,#00af00 666px,#00ff00 682px,#2cff00 684px,#67ff00 688px,#67ff00 690px,#75ff00 692px,#75ff00 714px,#49ff00 720px,#00ff00 726px,#00d200 742px,#00c700 750px,#00c400 830px,#00c400 880px,#00e700 910px,#00ff00 920px,#0fff00 922px,#49ff00 926px,#58ff00 928px,#a1ff00 934px,#bcff00 938px,#dcf400 958px,#f1e700 982px,#f7dd00 1006px,#efed00 1066px,#f4e200 1112px,#efed00 1508px)"></i>
<i style="top:616px;height:4px;background:linear-gradient(90deg,#efed00 0px,#f5df00 56px,#f5df00 194px,#ecef00 232px,#bcff00 270px,#00ff00 296px,#00fa00 300px,#00e200 322px,#00d400 384px,#009a00 440px,#009f33 456px,#00aa88 476px,#00aa98 496px,#00aa98 598px,#00aa88 626px,#00a248 648px,#00a248 652px,#009f33 660px,#009c00 670px,#00ff00 694px,#58ff00 700px,#75ff00 704px,#75ff00 720px,#49ff00 726px,#0fff00 730px,#00fa00 732px,#00c700 746px,#00bc00 752px,#00b700 876px,#00d200 906px,#00ff00 926px,#3bff00 932px,#84ff00 938px,#bcff00 946px,#e0f300 972px,#f1e700 996px,#efed00 1086px,#f5df00 1106px,#f5df00 1170px,#efed00 1508px)"></i>
<i style="top:620px;height:4px;background:linear-gradient(90deg,#efed00 0px,#f5df00 162px,#ecef00 230px,#bcff00 270px,#75ff00 280px,#58ff00 282px,#3bff00 286px,#3bff00 288px,#00ff00 296px,#00fa00 300px,#00e200 322px,#00d700 376px,#009a00 436px,#00a248 458px,#00aa88 472px,#00aa98 494px,#00aa98 606px,#00aa88 636px,#00a55d 650px,#00a55d 654px,#00a13d 664px,#009f33 672px,#009a00 680px,#00af00 688px,#00ff00 708px,#3bff00 712px,#75ff00 720px,#75ff00 724px,#58ff00 728px,#00fc00 734px,#00c400 748px,#00b200 756px,#00ac00 874px,#00c200 902px,#00ff00 932px,#0fff00 934px,#2cff00 936px,#49ff00 940px,#67ff00 942px,#bcff00 954px,#efed00 998px,#efed00 1084px,#f8da00 1130px,#efed00 1508px)"></i>
<i style="top:624px;height:4px;background:linear-gradient(90deg,#f0ea00 0px,#f4e200 170px,#ecef00 226px,#bcff00 270px,#84ff00 278px,#67ff00 280px,#0fff00 292px,#00fc00 298px,#00e200 322px,#00d400 374px,#009a00 434px,#00aa88 470px,#00aa98 492px,#00aa98 612px,#00aa88 646px,#00a773 652px,#00a773 656px,#00a55d 662px,#00a55d 666px,#00a248 672px,#00a248 676px,#009f33 684px,#009c00 694px,#00ff00 726px,#1dff00 730px,#1dff00 732px,#00ff00 736px,#00bc00 752px,#00aa00 760px,#00a400 834px,#00a400 874px,#00af00 894px,#00fc00 938px,#2cff00 944px,#49ff00 946px,#67ff00 950px,#84ff00 952px,#b0ff00 958px,#ccf900 972px,#ecef00 1006px,#efed00 1084px,#fbd500 1122px,#f0ea00 1508px)"></i>
<i style="top:628px;height:4px;background:linear-gradient(90deg,#f0ea00 0px,#f3e500 172px,#ecef00 220px,#c8fb00 258px,#b0ff00 270px,#00ff00 294px,#00fc00 298px,#00e200 322px,#00d200 372px,#009a00 430px,#00aa88 468px,#00aa98 488px,#00aa98 622px,#00aa88 658px,#00a773 664px,#00a668 674px,#00a248 684px,#00a248 688px,#009f33 696px,#009c00 708px,#00df00 740px,#00da00 746px,#00aa00 760px,#00a200 766px,#009f00 880px,#00bc00 908px,#00fc00 944px,#2cff00 950px,#75ff00 956px,#b0ff00 964px,#ccf900 978px,#ecef00 1018px,#efed00 1084px,#fcd200 1128px,#f7dd00 1470px,#f0ea00 1508px)"></i>
<i style="top:632px;height:4px;background:linear-gradient(90deg,#f0ea00 0px,#f1e700 162px,#e8f000 214px,#bcff00 258px,#a1ff00 262px,#93ff00 268px,#75ff00 272px,#75ff00 274px,#58ff00 278px,#58ff00 280px,#3bff00 284px,#3bff00 286px,#00ff00 294px,#00e200 322px,#00d400 364px,#009a00 426px,#009f33 444px,#00aa88 466px,#00aa98 488px,#00aa98 630px,#00aa88 670px,#00a353 690px,#009f33 710px,#009a00 726px,#00b400 750px,#009a00 766px,#009a00 838px,#009a08 840px,#009a00 882px,#00bf00 916px,#00ff00 950px,#1dff00 952px,#3bff00 956px,#58ff00 958px,#b0ff00 970px,#d0f800 988px,#ecef00 1026px,#efed00 1082px,#fdcf00 1134px,#f9d700 1468px,#f1e700 1508px)"></i>
<i style="top:636px;height:4px;background:linear-gradient(90deg,#f0ea00 0px,#efed00 172px,#dcf400 214px,#bcff00 244px,#93ff00 256px,#58ff00 266px,#49ff00 272px,#2cff00 276px,#0fff00 286px,#00ff00 288px,#00e200 322px,#00d400 358px,#009a00 424px,#00aa88 464px,#00aa98 486px,#00aa95 652px,#00aa88 680px,#00a668 692px,#00a55d 702px,#009f33 722px,#009e28 738px,#009b13 748px,#009d1d 880px,#009b13 882px,#009a00 898px,#00b200 920px,#00da00 934px,#00ff00 954px,#1dff00 958px,#3bff00 960px,#93ff00 972px,#93ff00 974px,#bcff00 980px,#d8f500 1002px,#ecef00 1032px,#efed00 1082px,#fcd200 1134px,#ffcd00 1212px,#fcd200 1456px,#f1e700 1508px)"></i>
<i style="top:640px;height:4px;background:linear-gradient(90deg,#f1e700 0px,#e8f000 166px,#d0f800 214px,#b0ff00 236px,#a1ff00 238px,#a1ff00 240px,#84ff00 244px,#84ff00 246px,#67ff00 250px,#58ff00 256px,#3bff00 260px,#3bff00 262px,#1dff00 266px,#0fff00 272px,#00ff00 274px,#00ec00 306px,#00cc00 362px,#009a00 420px,#00a13d 442px,#00aa88 460px,#00aa98 486px,#00aa93 670px,#00aa88 692px,#00a353 718px,#00a248 734px,#00a13d 736px,#00a13d 748px,#009f33 750px,#009f33 776px,#009e28 778px,#009e28 788px,#009e28 818px,#009f33 820px,#009f33 890px,#009e28 892px,#009e28 900px,#009d1d 902px,#009b13 912px,#009a00 916px,#00aa00 924px,#00da00 938px,#00ff00 960px,#1dff00 962px,#93ff00 978px,#93ff00 980px,#bcff00 986px,#e4f100 1024px,#efed00 1082px,#f9d700 1128px,#ffcd00 1262px,#fdcf00 1462px,#f1e700 1508px)"></i>
<i style="top:644px;height:4px;background:linear-gradient(90deg,#f1e700 0px,#d4f700 194px,#bcff00 220px,#a1ff00 224px,#93ff00 230px,#75ff00 234px,#67ff00 240px,#49ff00 244px,#3bff00 250px,#1dff00 254px,#0fff00 260px,#00ff00 262px,#00e700 306px,#00cc00 356px,#009a00 418px,#00a13d 440px,#00aa88 460px,#00aa98 484px,#00aa95 674px,#00aa88 706px,#00a668 722px,#00a55d 744px,#00a353 746px,#00a353 762px,#00a248 764px,#00a353 886px,#00a248 888px,#00a248 906px,#00a13d 908px,#00a13d 912px,#009a08 922px,#009c00 924px,#00e200 946px,#00ff00 964px,#93ff00 984px,#93ff00 986px,#bcff00 992px,#dcf400 1020px,#ecef00 1080px,#f5df00 1108px,#fdcf00 1268px,#fcd200 1464px,#f1e700 1508px)"></i>
<i style="top:648px;height:4px;background:linear-gradient(90deg,#f1e700 0px,#ccf900 190px,#b0ff00 210px,#a1ff00 212px,#a1ff00 214px,#84ff00 218px,#75ff00 224px,#3bff00 234px,#0fff00 248px,#00ff00 250px,#00e200 306px,#009a00 416px,#009b13 420px,#009b13 424px,#009e28 432px,#00a13d 436px,#00a248 442px,#00a55d 446px,#00aa88 460px,#00aa98 484px,#00aa98 676px,#00aa88 728px,#00a97d 730px,#00a97d 742px,#00a773 744px,#00a773 758px,#00a668 760px,#00a773 884px,#00a668 886px,#00a668 902px,#00a55d 904px,#00a55d 908px,#00a248 916px,#009a00 928px,#00e400 952px,#00ff00 970px,#84ff00 988px,#84ff00 990px,#bcff00 998px,#d8f500 1030px,#f3e500 1110px,#fcd200 1304px,#f9d700 1472px,#f1e700 1508px)"></i>
<i style="top:652px;height:4px;background:linear-gradient(90deg,#f1e700 0px,#bcff00 192px,#93ff00 204px,#75ff00 208px,#67ff00 214px,#49ff00 218px,#3bff00 224px,#1dff00 228px,#0fff00 234px,#00ff00 236px,#00fc00 242px,#00d700 324px,#009a00 412px,#009d1d 422px,#009e28 430px,#00a13d 434px,#00a353 444px,#00aa88 458px,#00aa98 486px,#00aa98 688px,#00aa88 756px,#00aa88 896px,#00a248 920px,#009a00 932px,#00e700 958px,#00ff00 974px,#1dff00 978px,#1dff00 980px,#75ff00 992px,#75ff00 994px,#a1ff00 1000px,#a1ff00 1002px,#bcff00 1006px,#d0f800 1032px,#efed00 1106px,#f3e500 1148px,#fbd500 1394px,#f1e700 1508px)"></i>
<i style="top:656px;height:4px;background:linear-gradient(90deg,#f0ea00 0px,#e8f000 42px,#ccf900 90px,#bcff00 158px,#b0ff00 160px,#b0ff00 170px,#a1ff00 172px,#a1ff00 180px,#93ff00 182px,#93ff00 186px,#84ff00 188px,#84ff00 192px,#75ff00 194px,#49ff00 208px,#2cff00 212px,#0fff00 222px,#00ff00 224px,#00fa00 234px,#00d400 320px,#009a00 408px,#00a353 442px,#00a668 446px,#00aa88 458px,#00aa98 486px,#00aa90 888px,#00aa88 900px,#00a13d 928px,#009a00 938px,#00ec00 966px,#00ff00 980px,#1dff00 984px,#1dff00 986px,#58ff00 994px,#58ff00 996px,#75ff00 1000px,#84ff00 1006px,#a1ff00 1010px,#a1ff00 1012px,#b0ff00 1014px,#bcff00 1018px,#ccf900 1042px,#f1e700 1166px,#f8da00 1398px,#f0ea00 1508px)"></i>
<i style="top:660px;height:4px;background:linear-gradient(90deg,#efed00 0px,#e0f300 46px,#b0ff00 120px,#a1ff00 122px,#a1ff00 132px,#93ff00 134px,#93ff00 142px,#84ff00 144px,#84ff00 154px,#75ff00 156px,#75ff00 164px,#67ff00 166px,#67ff00 176px,#58ff00 178px,#58ff00 186px,#3bff00 192px,#3bff00 196px,#00ff00 210px,#00d700 306px,#009a00 404px,#009e28 420px,#009e28 424px,#00aa88 456px,#00aa98 486px,#00aa95 880px,#00aa88 904px,#00a13d 932px,#009e28 936px,#009e28 938px,#009a08 942px,#00aa00 950px,#00ec00 970px,#00ff00 986px,#0fff00 988px,#0fff00 990px,#2cff00 994px,#2cff00 996px,#49ff00 1000px,#67ff00 1010px,#84ff00 1014px,#84ff00 1016px,#a1ff00 1022px,#a1ff00 1026px,#bcff00 1032px,#c8fb00 1052px,#efed00 1168px,#f5df00 1338px,#f0ea00 1508px)"></i>
<i style="top:664px;height:4px;background:linear-gradient(90deg,#ecef00 0px,#dcf400 42px,#bcff00 80px,#a1ff00 86px,#a1ff00 90px,#84ff00 96px,#84ff00 104px,#75ff00 106px,#75ff00 114px,#67ff00 116px,#67ff00 126px,#58ff00 128px,#58ff00 138px,#49ff00 140px,#49ff00 148px,#3bff00 150px,#3bff00 160px,#2cff00 162px,#2cff00 172px,#1dff00 174px,#1dff00 184px,#0fff00 186px,#0fff00 192px,#00ff00 194px,#00ff00 198px,#00df00 256px,#00cf00 310px,#009a00 398px,#009b13 410px,#009e28 416px,#009e28 420px,#00aa88 454px,#00aa98 484px,#00aa98 876px,#00aa88 908px,#00a353 926px,#00a248 934px,#009a00 946px,#00ec00 974px,#00ff00 994px,#1dff00 998px,#58ff00 1016px,#67ff00 1018px,#67ff00 1020px,#75ff00 1022px,#75ff00 1026px,#93ff00 1032px,#93ff00 1036px,#b0ff00 1042px,#b0ff00 1046px,#bcff00 1048px,#c8fb00 1072px,#efed00 1196px,#f3e500 1408px,#ecef00 1508px)"></i>
<i style="top:668px;height:4px;background:linear-gradient(90deg,#e8f000 0px,#bcff00 66px,#a1ff00 70px,#93ff00 76px,#67ff00 86px,#67ff00 90px,#58ff00 92px,#58ff00 94px,#49ff00 96px,#49ff00 100px,#3bff00 102px,#3bff00 110px,#2cff00 112px,#2cff00 122px,#1dff00 124px,#1dff00 134px,#0fff00 136px,#0fff00 150px,#00ff00 152px,#00ff00 164px,#00cc00 300px,#009a00 392px,#009e28 416px,#00aa88 450px,#00aa98 484px,#00aa98 878px,#00aa88 912px,#00a353 930px,#00a353 934px,#00a13d 938px,#00a13d 940px,#009a08 948px,#009c00 950px,#00e700 976px,#00ff00 1000px,#1dff00 1006px,#1dff00 1010px,#3bff00 1016px,#3bff00 1020px,#58ff00 1026px,#58ff00 1030px,#75ff00 1036px,#75ff00 1040px,#84ff00 1042px,#84ff00 1046px,#93ff00 1048px,#a1ff00 1058px,#b0ff00 1060px,#c4fc00 1082px,#efed00 1226px,#f1e700 1392px,#e8f000 1508px)"></i>
<i style="top:672px;height:4px;background:linear-gradient(90deg,#e4f100 0px,#bcff00 54px,#1dff00 90px,#1dff00 94px,#0fff00 96px,#0fff00 102px,#00ff00 104px,#00fc00 122px,#00ef00 198px,#009a00 388px,#009d1d 406px,#009f33 412px,#009f33 416px,#00aa88 448px,#00aa98 482px,#00aa98 878px,#00aa88 914px,#00a13d 942px,#009a00 952px,#00e700 980px,#00ff00 1010px,#1dff00 1016px,#1dff00 1020px,#2cff00 1022px,#2cff00 1026px,#3bff00 1028px,#3bff00 1032px,#49ff00 1034px,#49ff00 1038px,#58ff00 1040px,#58ff00 1044px,#67ff00 1046px,#75ff00 1056px,#93ff00 1062px,#93ff00 1066px,#a1ff00 1068px,#a1ff00 1074px,#b0ff00 1076px,#b0ff00 1080px,#bcff00 1082px,#c0fd00 1090px,#efed00 1256px,#efed00 1450px,#e4f100 1508px)"></i>
<i style="top:676px;height:4px;background:linear-gradient(90deg,#dcf400 0px,#bcff00 42px,#a1ff00 50px,#84ff00 54px,#75ff00 60px,#58ff00 64px,#49ff00 70px,#2cff00 74px,#0fff00 84px,#00ff00 86px,#00e200 208px,#009a00 384px,#009e28 410px,#00aa88 448px,#00aa98 484px,#00aa98 878px,#00aa88 914px,#00a353 934px,#00a353 938px,#00a13d 942px,#00a13d 944px,#009a00 954px,#00e200 982px,#00ff00 1022px,#0fff00 1024px,#0fff00 1028px,#1dff00 1030px,#1dff00 1034px,#2cff00 1036px,#3bff00 1046px,#58ff00 1052px,#58ff00 1056px,#67ff00 1058px,#75ff00 1068px,#84ff00 1070px,#84ff00 1076px,#93ff00 1078px,#93ff00 1082px,#a1ff00 1084px,#a1ff00 1090px,#b0ff00 1092px,#b0ff00 1098px,#bcff00 1100px,#efed00 1282px,#ecef00 1454px,#e0f300 1508px)"></i>
<i style="top:680px;height:4px;background:linear-gradient(90deg,#d4f700 0px,#bcff00 32px,#a1ff00 36px,#84ff00 46px,#67ff00 50px,#58ff00 56px,#3bff00 60px,#2cff00 66px,#0fff00 70px,#0fff00 72px,#00ff00 74px,#009a00 382px,#009f33 416px,#00aa88 450px,#00aa98 490px,#00aa95 886px,#00aa88 916px,#00a773 922px,#00a773 926px,#00a55d 932px,#00a55d 936px,#00a248 944px,#009c00 958px,#00d700 982px,#00ea00 994px,#00ff00 1034px,#0fff00 1036px,#0fff00 1040px,#1dff00 1042px,#1dff00 1044px,#2cff00 1046px,#2cff00 1050px,#3bff00 1052px,#3bff00 1056px,#49ff00 1058px,#49ff00 1062px,#58ff00 1064px,#58ff00 1068px,#67ff00 1070px,#67ff00 1076px,#75ff00 1078px,#75ff00 1082px,#84ff00 1084px,#84ff00 1090px,#93ff00 1092px,#93ff00 1098px,#a1ff00 1100px,#a1ff00 1106px,#b0ff00 1108px,#b0ff00 1114px,#bcff00 1116px,#ecef00 1274px,#ecef00 1414px,#d8f500 1508px)"></i>
<i style="top:684px;height:4px;background:linear-gradient(90deg,#ccf900 0px,#bcff00 20px,#b0ff00 24px,#a1ff00 26px,#a1ff00 28px,#84ff00 32px,#67ff00 42px,#49ff00 46px,#2cff00 56px,#0fff00 60px,#0fff00 62px,#00ff00 64px,#00f700 78px,#00cc00 218px,#00ac00 286px,#009a00 382px,#009a08 392px,#00a13d 418px,#00a13d 422px,#00a353 428px,#00a353 432px,#00aa88 454px,#00aa98 496px,#00aa95 886px,#00aa88 916px,#00a97d 918px,#00a773 928px,#00a55d 934px,#00a55d 938px,#00a248 946px,#009c00 960px,#00e200 992px,#00ff00 1044px,#0fff00 1046px,#1dff00 1056px,#2cff00 1058px,#2cff00 1062px,#3bff00 1064px,#3bff00 1070px,#49ff00 1072px,#49ff00 1076px,#58ff00 1078px,#58ff00 1084px,#67ff00 1086px,#67ff00 1090px,#75ff00 1092px,#75ff00 1098px,#84ff00 1100px,#84ff00 1104px,#93ff00 1106px,#93ff00 1112px,#a1ff00 1114px,#a1ff00 1120px,#b0ff00 1122px,#b0ff00 1130px,#bcff00 1132px,#e8f000 1302px,#e8f000 1402px,#ccf900 1508px)"></i>
<i style="top:688px;height:4px;background:linear-gradient(90deg,#c0fd00 0px,#b0ff00 12px,#a1ff00 14px,#75ff00 28px,#58ff00 32px,#3bff00 42px,#1dff00 46px,#1dff00 48px,#0fff00 50px,#0fff00 52px,#00ff00 54px,#00fc00 60px,#00a400 290px,#009a00 380px,#009f33 418px,#00a248 424px,#00a353 434px,#00aa88 456px,#00aa98 502px,#00aa95 880px,#00aa88 914px,#00a668 928px,#00a55d 938px,#00a13d 948px,#009c00 960px,#00df00 994px,#00ff00 1056px,#0fff00 1058px,#0fff00 1064px,#1dff00 1066px,#1dff00 1070px,#2cff00 1072px,#3bff00 1082px,#49ff00 1084px,#58ff00 1094px,#67ff00 1096px,#67ff00 1102px,#75ff00 1104px,#75ff00 1110px,#84ff00 1112px,#84ff00 1118px,#93ff00 1120px,#93ff00 1128px,#a1ff00 1130px,#a1ff00 1138px,#b0ff00 1140px,#b0ff00 1148px,#bcff00 1150px,#dcf400 1256px,#e4f100 1350px,#d8f500 1454px,#c0fd00 1508px)"></i>
<i style="top:692px;height:4px;background:linear-gradient(90deg,#93ff00 0px,#93ff00 2px,#84ff00 4px,#84ff00 8px,#67ff00 14px,#67ff00 18px,#00ff00 44px,#00a400 274px,#009a00 380px,#009d1d 406px,#00aa88 462px,#00aa98 510px,#00aa93 884px,#00aa88 912px,#00a668 926px,#00a55d 936px,#00a248 944px,#009a00 958px,#00dc00 996px,#00ff00 1068px,#0fff00 1070px,#1dff00 1080px,#2cff00 1082px,#2cff00 1088px,#3bff00 1090px,#3bff00 1094px,#49ff00 1096px,#49ff00 1100px,#58ff00 1102px,#58ff00 1108px,#67ff00 1110px,#67ff00 1116px,#75ff00 1118px,#75ff00 1126px,#84ff00 1128px,#84ff00 1134px,#93ff00 1136px,#93ff00 1144px,#a1ff00 1146px,#a1ff00 1154px,#b0ff00 1156px,#b0ff00 1164px,#bcff00 1166px,#d4f700 1250px,#dcf400 1340px,#d4f700 1434px,#bcff00 1494px,#b0ff00 1496px,#b0ff00 1500px,#a1ff00 1502px,#a1ff00 1506px,#93ff00 1508px)"></i>
<i style="top:696px;height:4px;background:linear-gradient(90deg,#58ff00 0px,#49ff00 10px,#00ff00 28px,#00b400 198px,#009c00 288px,#009a00 378px,#009e28 414px,#00aa88 466px,#00aa98 520px,#00aa93 878px,#00aa88 908px,#00a668 922px,#00a55d 934px,#009f33 948px,#009a00 958px,#00d700 994px,#00ff00 1080px,#0fff00 1082px,#0fff00 1086px,#1dff00 1088px,#1dff00 1094px,#2cff00 1096px,#2cff00 1100px,#3bff00 1102px,#49ff00 1116px,#58ff00 1118px,#58ff00 1122px,#67ff00 1124px,#67ff00 1130px,#75ff00 1132px,#75ff00 1138px,#84ff00 1140px,#84ff00 1148px,#93ff00 1150px,#93ff00 1158px,#a1ff00 1160px,#a1ff00 1170px,#b0ff00 1172px,#b0ff00 1182px,#bcff00 1184px,#d0f800 1282px,#d4f700 1398px,#c0fd00 1460px,#b0ff00 1476px,#a1ff00 1478px,#a1ff00 1484px,#93ff00 1486px,#93ff00 1490px,#84ff00 1492px,#84ff00 1496px,#75ff00 1498px,#75ff00 1502px,#67ff00 1504px,#67ff00 1508px)"></i>
<i style="top:700px;height:4px;background:linear-gradient(90deg,#2cff00 0px,#00ff00 10px,#00df00 66px,#00a700 218px,#009a00 290px,#009a00 376px,#009e28 416px,#00a13d 424px,#00a353 444px,#00aa88 472px,#00aa98 530px,#00aa98 840px,#00aa90 880px,#00aa88 904px,#00a773 912px,#00a773 918px,#00a668 920px,#00a353 936px,#009a00 958px,#00d700 998px,#00ff00 1092px,#0fff00 1094px,#0fff00 1098px,#1dff00 1100px,#1dff00 1106px,#2cff00 1108px,#2cff00 1112px,#3bff00 1114px,#3bff00 1120px,#49ff00 1122px,#58ff00 1136px,#67ff00 1138px,#67ff00 1144px,#75ff00 1146px,#75ff00 1152px,#84ff00 1154px,#84ff00 1164px,#93ff00 1166px,#93ff00 1176px,#a1ff00 1178px,#a1ff00 1190px,#b0ff00 1192px,#b0ff00 1204px,#bcff00 1206px,#ccf900 1338px,#ccf900 1394px,#bcff00 1438px,#b0ff00 1440px,#b0ff00 1448px,#a1ff00 1450px,#a1ff00 1456px,#93ff00 1458px,#93ff00 1464px,#84ff00 1466px,#84ff00 1472px,#75ff00 1474px,#75ff00 1480px,#67ff00 1482px,#67ff00 1486px,#58ff00 1488px,#58ff00 1494px,#49ff00 1496px,#49ff00 1500px,#3bff00 1502px,#2cff00 1508px)"></i>
<i style="top:704px;height:4px;background:linear-gradient(90deg,#00fc00 0px,#00d400 70px,#009f00 232px,#009a00 376px,#009d1d 410px,#009e28 412px,#00a13d 432px,#00a248 434px,#00a353 448px,#00a668 456px,#00a773 470px,#00aa88 478px,#00aa98 550px,#00aa98 820px,#00aa8b 888px,#00a773 912px,#00a668 914px,#00a248 936px,#009d1d 950px,#009a00 956px,#00d400 998px,#00ff00 1102px,#0fff00 1104px,#0fff00 1108px,#1dff00 1110px,#2cff00 1124px,#3bff00 1126px,#3bff00 1132px,#49ff00 1134px,#49ff00 1142px,#58ff00 1144px,#58ff00 1150px,#67ff00 1152px,#67ff00 1160px,#75ff00 1162px,#75ff00 1174px,#84ff00 1176px,#84ff00 1190px,#93ff00 1192px,#93ff00 1204px,#a1ff00 1206px,#a1ff00 1218px,#b0ff00 1220px,#b0ff00 1232px,#bcff00 1234px,#c4fc00 1318px,#bcff00 1408px,#b0ff00 1410px,#b0ff00 1418px,#a1ff00 1420px,#a1ff00 1428px,#93ff00 1430px,#93ff00 1436px,#84ff00 1438px,#84ff00 1444px,#75ff00 1446px,#75ff00 1452px,#67ff00 1454px,#67ff00 1460px,#58ff00 1462px,#58ff00 1468px,#49ff00 1470px,#49ff00 1476px,#3bff00 1478px,#2cff00 1488px,#1dff00 1490px,#0fff00 1500px,#00ff00 1502px,#00fc00 1508px)"></i>
<i style="top:708px;height:4px;background:linear-gradient(90deg,#00f200 0px,#00c700 82px,#00a200 208px,#009a00 374px,#009e28 420px,#009f33 422px,#00a13d 436px,#00a248 438px,#00a248 446px,#00a353 448px,#00a353 454px,#00a55d 456px,#00a668 470px,#00a97d 480px,#00a97d 488px,#00aa88 490px,#00aa98 574px,#00aa98 794px,#00aa88 880px,#00a97d 882px,#00a773 896px,#00a55d 904px,#00a55d 910px,#00a248 916px,#00a13d 926px,#009a00 948px,#00d700 1006px,#00ff00 1114px,#0fff00 1116px,#1dff00 1130px,#2cff00 1132px,#2cff00 1140px,#3bff00 1142px,#3bff00 1152px,#49ff00 1154px,#49ff00 1164px,#58ff00 1166px,#58ff00 1180px,#67ff00 1182px,#75ff00 1208px,#84ff00 1210px,#84ff00 1222px,#93ff00 1224px,#a1ff00 1258px,#b0ff00 1260px,#b0ff00 1286px,#bcff00 1288px,#bcff00 1360px,#b0ff00 1362px,#b0ff00 1384px,#a1ff00 1386px,#93ff00 1408px,#84ff00 1410px,#84ff00 1416px,#75ff00 1418px,#75ff00 1426px,#67ff00 1428px,#67ff00 1434px,#58ff00 1436px,#58ff00 1444px,#49ff00 1446px,#3bff00 1460px,#2cff00 1462px,#1dff00 1472px,#0fff00 1474px,#0fff00 1480px,#00ff00 1482px,#00f400 1508px)"></i>
<i style="top:712px;height:4px;background:linear-gradient(90deg,#00ea00 0px,#00ba00 104px,#00a200 192px,#009a00 374px,#009d1d 416px,#009e28 418px,#009f33 436px,#00a248 446px,#00a248 454px,#00a353 456px,#00a55d 474px,#00a773 484px,#00a773 492px,#00a97d 494px,#00a97d 504px,#00aa88 506px,#00aa98 608px,#00aa98 758px,#00aa88 860px,#00a97d 862px,#00a773 878px,#00a668 880px,#00a13d 908px,#009a00 932px,#00d700 1010px,#00ff00 1132px,#0fff00 1134px,#0fff00 1144px,#1dff00 1146px,#1dff00 1158px,#2cff00 1160px,#2cff00 1172px,#3bff00 1174px,#49ff00 1196px,#58ff00 1198px,#58ff00 1212px,#67ff00 1214px,#67ff00 1226px,#75ff00 1228px,#75ff00 1242px,#84ff00 1244px,#84ff00 1260px,#93ff00 1262px,#93ff00 1282px,#a1ff00 1284px,#a1ff00 1350px,#93ff00 1352px,#93ff00 1370px,#84ff00 1372px,#84ff00 1386px,#75ff00 1388px,#75ff00 1398px,#67ff00 1400px,#58ff00 1418px,#49ff00 1420px,#49ff00 1426px,#3bff00 1428px,#3bff00 1434px,#2cff00 1436px,#2cff00 1442px,#1dff00 1444px,#1dff00 1450px,#0fff00 1452px,#0fff00 1458px,#00ff00 1460px,#00ea00 1508px)"></i>
<i style="top:716px;height:4px;background:linear-gradient(90deg,#00e200 0px,#00a200 174px,#009a00 376px,#009e28 434px,#009f33 436px,#009f33 444px,#00a13d 446px,#00a13d 456px,#00a248 458px,#00a353 478px,#00a55d 480px,#00a55d 488px,#00a668 490px,#00a668 500px,#00a773 502px,#00a773 512px,#00a97d 514px,#00a97d 524px,#00aa88 526px,#00aa95 620px,#00aa95 748px,#00aa88 838px,#00a97d 840px,#00a97d 848px,#00a668 858px,#00a55d 872px,#00a353 874px,#009f33 896px,#009a00 916px,#00d700 1016px,#00ff00 1162px,#0fff00 1164px,#0fff00 1174px,#1dff00 1176px,#1dff00 1188px,#2cff00 1190px,#2cff00 1202px,#3bff00 1204px,#3bff00 1216px,#49ff00 1218px,#49ff00 1228px,#58ff00 1230px,#58ff00 1244px,#67ff00 1246px,#67ff00 1260px,#75ff00 1262px,#75ff00 1278px,#84ff00 1280px,#84ff00 1352px,#75ff00 1354px,#75ff00 1366px,#67ff00 1368px,#67ff00 1378px,#58ff00 1380px,#58ff00 1388px,#49ff00 1390px,#49ff00 1398px,#3bff00 1400px,#2cff00 1418px,#1dff00 1420px,#0fff00 1434px,#00ff00 1436px,#00e200 1508px)"></i>
<i style="top:720px;height:4px;background:linear-gradient(90deg,#00da00 0px,#009f00 184px,#009a00 378px,#009a08 380px,#009b13 416px,#009d1d 418px,#009e28 444px,#009f33 446px,#009f33 458px,#00a13d 460px,#00a353 494px,#00a55d 496px,#00a668 522px,#00a773 524px,#00a773 536px,#00a97d 538px,#00a97d 552px,#00aa88 554px,#00aa90 616px,#00aa88 810px,#00a97d 812px,#00a97d 822px,#00a773 824px,#00a773 834px,#00a55d 844px,#00a353 860px,#00a248 862px,#00a13d 874px,#009a00 906px,#00d400 1016px,#00ff00 1190px,#0fff00 1192px,#1dff00 1218px,#2cff00 1220px,#2cff00 1234px,#3bff00 1236px,#3bff00 1248px,#49ff00 1250px,#49ff00 1264px,#58ff00 1266px,#58ff00 1358px,#49ff00 1360px,#49ff00 1368px,#3bff00 1370px,#3bff00 1378px,#2cff00 1380px,#2cff00 1388px,#1dff00 1390px,#1dff00 1396px,#0fff00 1398px,#0fff00 1404px,#00ff00 1406px,#00da00 1508px)"></i>
<i style="top:724px;height:4px;background:linear-gradient(90deg,#00d200 0px,#009f00 188px,#009a00 382px,#009a08 384px,#009a08 406px,#009b13 408px,#009b13 426px,#009d1d 428px,#009d1d 442px,#009e28 444px,#00a13d 488px,#00a248 490px,#00a248 504px,#00a353 506px,#00a353 520px,#00a55d 522px,#00a55d 536px,#00a668 538px,#00a668 552px,#00a773 554px,#00a97d 594px,#00aa88 596px,#00aa8b 636px,#00aa88 770px,#00a97d 772px,#00a97d 788px,#00a773 790px,#00a773 802px,#00a668 804px,#00a668 816px,#00a55d 818px,#00a55d 826px,#00a353 828px,#00a248 846px,#00a13d 848px,#009d1d 878px,#009a00 892px,#00d200 1018px,#00ff00 1214px,#0fff00 1248px,#1dff00 1250px,#1dff00 1324px,#0fff00 1326px,#0fff00 1360px,#00ff00 1362px,#00ff00 1378px,#00d200 1508px)"></i>
<i style="top:728px;height:4px;background:linear-gradient(90deg,#00ca00 0px,#009f00 196px,#009a00 392px,#009a08 394px,#009a08 420px,#009b13 422px,#009b13 442px,#009d1d 444px,#009d1d 462px,#009e28 464px,#009e28 482px,#009f33 484px,#009f33 502px,#00a13d 504px,#00a13d 522px,#00a248 524px,#00a248 542px,#00a353 544px,#00a353 564px,#00a55d 566px,#00a668 642px,#00a773 644px,#00a773 744px,#00a668 746px,#00a668 768px,#00a55d 770px,#00a55d 786px,#00a353 788px,#00a353 802px,#00a248 804px,#00a248 814px,#00a13d 816px,#009f33 838px,#009e28 840px,#009e28 848px,#009d1d 850px,#009a00 876px,#00cc00 1016px,#00f400 1222px,#00ec00 1392px,#00ca00 1508px)"></i>
<i style="top:732px;height:4px;background:linear-gradient(90deg,#00b400 0px,#00a200 200px,#009a00 488px,#009a08 628px,#009b13 630px,#009b13 732px,#009a08 734px,#009a00 816px,#00c400 1174px,#00c200 1388px,#00b400 1508px)"></i>
<i style="top:736px;height:4px;background:linear-gradient(90deg,#00a400 0px,#00a400 1508px)"></i>
<i style="top:740px;height:4px;background:linear-gradient(90deg,#00a400 0px,#00a400 1508px)"></i>
<i style="top:744px;height:4px;background:linear-gradient(90deg,#00a400 0px,#00a400 1508px)"></i>
<i style="top:748px;height:4px;background:linear-gradient(90deg,#00a400 0px,#00a400 1508px)"></i>
</div>
<div class="fm circ" style="left:80px;top:1316px;width:925px;height:925px">
<i style="top:0px;height:4px;background:linear-gradient(90deg,#00bf00 0px,#00c400 60px,#00ea00 86px,#00f700 108px,#00f400 116px,#00cf00 140px,#00c400 246px,#00c700 434px,#00dc00 512px,#00dc00 674px,#00f200 748px,#00c700 868px,#00bf00 925px)"></i>
<i style="top:4px;height:4px;background:linear-gradient(90deg,#00bf00 0px,#00c400 60px,#00f200 88px,#00fc00 106px,#00fc00 112px,#00d200 140px,#00c400 250px,#00c700 432px,#00da00 498px,#00dc00 668px,#00f200 754px,#00c700 872px,#00bf00 925px)"></i>
<i style="top:8px;height:4px;background:linear-gradient(90deg,#00bf00 0px,#00c700 64px,#00f200 88px,#00ff00 102px,#00ff00 112px,#00d200 142px,#00c400 256px,#00c700 424px,#00da00 506px,#00dc00 664px,#00f400 750px,#00c400 886px,#00c200 925px)"></i>
<i style="top:12px;height:4px;background:linear-gradient(90deg,#00c200 0px,#00c700 64px,#00ff00 100px,#0fff00 102px,#0fff00 110px,#00ff00 112px,#00ff00 114px,#00d200 146px,#00c400 262px,#00dc00 664px,#00f400 756px,#00c700 882px,#00c200 925px)"></i>
<i style="top:16px;height:4px;background:linear-gradient(90deg,#00c200 0px,#00c700 64px,#00ff00 100px,#00ff00 102px,#0fff00 104px,#0fff00 112px,#00ff00 114px,#00ff00 116px,#00d400 144px,#00c700 240px,#00ca00 448px,#00d400 464px,#00dc00 664px,#00f700 750px,#00c200 925px)"></i>
<i style="top:20px;height:4px;background:linear-gradient(90deg,#00c200 0px,#00c700 64px,#00d400 78px,#00ff00 102px,#0fff00 104px,#0fff00 114px,#00ff00 116px,#00ff00 118px,#00d400 148px,#00c700 244px,#00ca00 444px,#00d400 464px,#00dc00 666px,#00f700 756px,#00c200 925px)"></i>
<i style="top:24px;height:4px;background:linear-gradient(90deg,#00c200 0px,#00ca00 70px,#00ff00 104px,#0fff00 106px,#0fff00 116px,#00ff00 118px,#00ff00 120px,#00d400 152px,#00c700 246px,#00dc00 668px,#00f700 762px,#00c200 925px)"></i>
<i style="top:28px;height:4px;background:linear-gradient(90deg,#00c200 0px,#00cc00 74px,#00ff00 106px,#0fff00 108px,#0fff00 118px,#00ff00 120px,#00fc00 124px,#00d700 150px,#00c700 250px,#00da00 650px,#00fa00 754px,#00c200 925px)"></i>
<i style="top:32px;height:4px;background:linear-gradient(90deg,#00c200 0px,#00cc00 74px,#00ff00 106px,#0fff00 108px,#0fff00 112px,#1dff00 114px,#0fff00 120px,#00ff00 122px,#00d700 152px,#00c700 252px,#00ca00 384px,#00da00 464px,#00da00 658px,#00fa00 760px,#00c200 925px)"></i>
<i style="top:36px;height:4px;background:linear-gradient(90deg,#00c200 0px,#00cc00 74px,#00ff00 108px,#1dff00 114px,#1dff00 118px,#00ff00 124px,#00d700 154px,#00c700 256px,#00ca00 364px,#00df00 506px,#00d700 638px,#00fa00 766px,#00c400 925px)"></i>
<i style="top:40px;height:4px;background:linear-gradient(90deg,#00c200 0px,#00cc00 74px,#00ff00 110px,#1dff00 116px,#1dff00 120px,#00ff00 126px,#00d700 156px,#00c700 258px,#00ca00 354px,#00e400 502px,#00d700 650px,#00fa00 744px,#00fa00 772px,#00c400 925px)"></i>
<i style="top:44px;height:4px;background:linear-gradient(90deg,#00c200 0px,#00cf00 80px,#00ff00 110px,#0fff00 116px,#1dff00 118px,#1dff00 122px,#00ff00 128px,#00d700 158px,#00c700 262px,#00ca00 342px,#00ec00 510px,#00d400 622px,#00d700 658px,#00fc00 760px,#00c400 925px)"></i>
<i style="top:48px;height:4px;background:linear-gradient(90deg,#00c200 0px,#00cf00 80px,#00ff00 112px,#1dff00 118px,#1dff00 124px,#00ff00 130px,#00d700 158px,#00ca00 234px,#00ca00 330px,#00f200 502px,#00ec00 564px,#00d700 612px,#00d400 646px,#00fc00 766px,#00c700 925px)"></i>
<i style="top:52px;height:4px;background:linear-gradient(90deg,#00c400 0px,#00d200 84px,#00ff00 114px,#1dff00 120px,#1dff00 126px,#00ff00 132px,#00d700 160px,#00ca00 234px,#00cc00 336px,#00fa00 504px,#00f200 572px,#00da00 614px,#00d400 656px,#00fc00 772px,#00c700 925px)"></i>
<i style="top:56px;height:4px;background:linear-gradient(90deg,#00c400 0px,#00d200 86px,#00ff00 116px,#1dff00 122px,#1dff00 128px,#00ff00 134px,#00d700 160px,#00ca00 232px,#00cc00 326px,#00ff00 506px,#0fff00 508px,#00ff00 542px,#00d400 646px,#00df00 698px,#00fc00 754px,#00fc00 778px,#00c700 925px)"></i>
<i style="top:60px;height:4px;background:linear-gradient(90deg,#00c400 0px,#00d400 90px,#00ff00 118px,#1dff00 124px,#1dff00 130px,#00ff00 136px,#00d700 160px,#00ca00 240px,#00cc00 316px,#00ff00 484px,#0fff00 486px,#0fff00 492px,#1dff00 494px,#1dff00 500px,#2cff00 502px,#2cff00 508px,#3bff00 510px,#3bff00 520px,#2cff00 522px,#2cff00 538px,#1dff00 540px,#1dff00 554px,#0fff00 556px,#0fff00 568px,#00ff00 570px,#00d700 644px,#00da00 686px,#00fc00 754px,#00fc00 782px,#00ca00 925px)"></i>
<i style="top:64px;height:4px;background:linear-gradient(90deg,#00c400 0px,#00d400 90px,#00ff00 118px,#00ff00 120px,#1dff00 124px,#1dff00 132px,#00ff00 136px,#00d400 164px,#00ca00 232px,#00cc00 308px,#00ec00 384px,#00ff00 462px,#0fff00 464px,#0fff00 468px,#1dff00 470px,#1dff00 478px,#2cff00 480px,#2cff00 486px,#3bff00 488px,#3bff00 494px,#49ff00 496px,#49ff00 502px,#58ff00 504px,#58ff00 532px,#49ff00 534px,#49ff00 550px,#3bff00 552px,#3bff00 564px,#2cff00 566px,#2cff00 574px,#00ff00 584px,#00da00 646px,#00dc00 696px,#00fc00 754px,#00fc00 788px,#00ca00 925px)"></i>
<i style="top:68px;height:4px;background:linear-gradient(90deg,#00c400 0px,#00d400 90px,#00ff00 120px,#1dff00 126px,#1dff00 132px,#00ff00 138px,#00d400 164px,#00ca00 244px,#00cc00 300px,#00f200 382px,#00ff00 440px,#0fff00 442px,#0fff00 454px,#1dff00 456px,#1dff00 462px,#3bff00 466px,#3bff00 474px,#49ff00 476px,#49ff00 482px,#58ff00 484px,#58ff00 492px,#67ff00 494px,#67ff00 500px,#75ff00 502px,#75ff00 508px,#84ff00 510px,#84ff00 524px,#75ff00 526px,#75ff00 542px,#67ff00 544px,#67ff00 560px,#58ff00 562px,#58ff00 570px,#49ff00 572px,#49ff00 576px,#3bff00 578px,#1dff00 588px,#00ff00 592px,#00dc00 650px,#00e200 714px,#00fc00 754px,#00fc00 792px,#00cc00 925px)"></i>
<i style="top:72px;height:4px;background:linear-gradient(90deg,#00c700 0px,#00d700 96px,#00ff00 122px,#1dff00 128px,#1dff00 134px,#00ff00 140px,#00dc00 158px,#00d200 170px,#00ca00 254px,#00cf00 302px,#00ff00 408px,#0fff00 410px,#0fff00 418px,#1dff00 420px,#1dff00 430px,#2cff00 432px,#2cff00 446px,#3bff00 448px,#3bff00 460px,#58ff00 464px,#58ff00 470px,#67ff00 472px,#67ff00 480px,#75ff00 482px,#75ff00 488px,#84ff00 490px,#84ff00 496px,#93ff00 498px,#93ff00 506px,#a1ff00 508px,#a1ff00 530px,#93ff00 532px,#93ff00 550px,#84ff00 552px,#84ff00 566px,#75ff00 568px,#67ff00 578px,#49ff00 584px,#49ff00 586px,#2cff00 590px,#0fff00 600px,#00ff00 602px,#00df00 654px,#00e400 716px,#00ff00 764px,#00fc00 798px,#00cc00 925px)"></i>
<i style="top:76px;height:4px;background:linear-gradient(90deg,#00c700 0px,#00d700 96px,#00ff00 124px,#1dff00 130px,#1dff00 136px,#00ff00 140px,#00d200 168px,#00ca00 260px,#00cf00 296px,#00ff00 390px,#0fff00 392px,#0fff00 398px,#1dff00 400px,#1dff00 404px,#2cff00 406px,#2cff00 412px,#3bff00 414px,#3bff00 424px,#49ff00 426px,#49ff00 438px,#58ff00 440px,#58ff00 454px,#67ff00 456px,#67ff00 462px,#75ff00 464px,#75ff00 468px,#84ff00 470px,#84ff00 478px,#93ff00 480px,#93ff00 486px,#a1ff00 488px,#a1ff00 496px,#b0ff00 498px,#b0ff00 504px,#bcff00 506px,#bcff00 536px,#b0ff00 538px,#b0ff00 556px,#a1ff00 558px,#a1ff00 568px,#93ff00 570px,#93ff00 574px,#75ff00 580px,#3bff00 598px,#1dff00 602px,#0fff00 608px,#00ff00 610px,#00e200 658px,#00ea00 724px,#00ff00 762px,#00fc00 802px,#00cc00 925px)"></i>
<i style="top:80px;height:4px;background:linear-gradient(90deg,#00c700 0px,#00d700 98px,#00ff00 126px,#1dff00 132px,#1dff00 136px,#00ff00 142px,#00d200 168px,#00cc00 190px,#00cf00 290px,#00ff00 376px,#1dff00 382px,#1dff00 386px,#2cff00 388px,#2cff00 394px,#3bff00 396px,#3bff00 402px,#49ff00 404px,#49ff00 410px,#58ff00 412px,#58ff00 418px,#67ff00 420px,#67ff00 432px,#75ff00 434px,#75ff00 448px,#84ff00 450px,#84ff00 462px,#93ff00 464px,#93ff00 468px,#a1ff00 470px,#a1ff00 478px,#b0ff00 480px,#b0ff00 486px,#bcff00 488px,#c4fc00 508px,#bcff00 570px,#a1ff00 576px,#a1ff00 580px,#75ff00 590px,#75ff00 592px,#58ff00 596px,#1dff00 614px,#00ff00 618px,#00e400 666px,#00ec00 724px,#00ff00 760px,#00fc00 806px,#00cf00 925px)"></i>
<i style="top:84px;height:4px;background:linear-gradient(90deg,#00c700 0px,#00d700 100px,#00ff00 128px,#1dff00 134px,#1dff00 138px,#00ff00 144px,#00d200 168px,#00cc00 192px,#00cf00 284px,#00ff00 364px,#0fff00 366px,#0fff00 370px,#3bff00 380px,#3bff00 384px,#49ff00 386px,#49ff00 392px,#58ff00 394px,#58ff00 400px,#67ff00 402px,#75ff00 416px,#84ff00 418px,#84ff00 430px,#93ff00 432px,#93ff00 446px,#a1ff00 448px,#a1ff00 462px,#b0ff00 464px,#b0ff00 468px,#bcff00 470px,#ccf900 508px,#ccf900 548px,#bcff00 578px,#b0ff00 580px,#b0ff00 584px,#a1ff00 586px,#67ff00 604px,#49ff00 608px,#0fff00 626px,#00ff00 628px,#00ea00 660px,#00ef00 724px,#00ff00 758px,#00fc00 810px,#00cf00 925px)"></i>
<i style="top:88px;height:4px;background:linear-gradient(90deg,#00c700 0px,#00d700 100px,#00ff00 128px,#00ff00 130px,#1dff00 134px,#1dff00 138px,#00ff00 144px,#00d400 166px,#00cc00 178px,#00cc00 260px,#00d400 292px,#00ff00 354px,#1dff00 360px,#1dff00 364px,#3bff00 370px,#3bff00 374px,#58ff00 380px,#58ff00 384px,#67ff00 386px,#67ff00 390px,#75ff00 392px,#75ff00 398px,#84ff00 400px,#84ff00 406px,#93ff00 408px,#93ff00 416px,#a1ff00 418px,#a1ff00 430px,#b0ff00 432px,#b0ff00 448px,#bcff00 450px,#d4f700 508px,#d4f700 558px,#bcff00 586px,#b0ff00 588px,#b0ff00 592px,#a1ff00 594px,#49ff00 620px,#2cff00 624px,#0fff00 634px,#00ff00 636px,#00ec00 668px,#00ff00 756px,#00fc00 814px,#00e700 884px,#00cf00 925px)"></i>
<i style="top:92px;height:4px;background:linear-gradient(90deg,#00ca00 0px,#00d700 102px,#00ff00 130px,#0fff00 136px,#1dff00 138px,#0fff00 140px,#0fff00 144px,#00ff00 146px,#00cc00 174px,#00cf00 268px,#00ff00 348px,#1dff00 352px,#3bff00 362px,#49ff00 364px,#49ff00 368px,#67ff00 374px,#75ff00 384px,#84ff00 386px,#84ff00 390px,#93ff00 392px,#93ff00 398px,#a1ff00 400px,#a1ff00 408px,#b0ff00 410px,#b0ff00 416px,#bcff00 418px,#c4fc00 466px,#dcf400 508px,#dcf400 560px,#bcff00 596px,#58ff00 622px,#58ff00 624px,#49ff00 626px,#49ff00 628px,#3bff00 630px,#3bff00 632px,#00ff00 642px,#00ef00 676px,#00ff00 754px,#00fc00 818px,#00ec00 874px,#00cf00 925px)"></i>
<i style="top:96px;height:4px;background:linear-gradient(90deg,#00ca00 0px,#00d700 104px,#00ff00 132px,#0fff00 138px,#1dff00 140px,#00ff00 146px,#00cc00 174px,#00cf00 260px,#00d700 286px,#00ff00 340px,#0fff00 342px,#1dff00 348px,#3bff00 352px,#3bff00 354px,#75ff00 368px,#75ff00 372px,#84ff00 374px,#84ff00 378px,#93ff00 380px,#93ff00 384px,#a1ff00 386px,#a1ff00 392px,#b0ff00 394px,#b0ff00 400px,#bcff00 402px,#c8fb00 462px,#e4f100 508px,#e4f100 562px,#bcff00 604px,#58ff00 630px,#58ff00 632px,#3bff00 636px,#1dff00 646px,#00ff00 650px,#00f400 672px,#00fc00 822px,#00ec00 878px,#00cf00 925px)"></i>
<i style="top:100px;height:4px;background:linear-gradient(90deg,#00ca00 0px,#00da00 110px,#00ff00 134px,#0fff00 136px,#0fff00 146px,#00ff00 148px,#00cf00 174px,#00d200 266px,#00ff00 334px,#0fff00 336px,#1dff00 342px,#3bff00 346px,#3bff00 348px,#58ff00 352px,#75ff00 362px,#84ff00 364px,#84ff00 368px,#a1ff00 374px,#a1ff00 380px,#b0ff00 382px,#b0ff00 386px,#bcff00 388px,#d0f800 468px,#ecef00 510px,#efed00 540px,#ecef00 562px,#ccf900 588px,#bcff00 612px,#75ff00 630px,#75ff00 632px,#58ff00 636px,#3bff00 646px,#00ff00 660px,#00f700 680px,#00fc00 826px,#00ea00 888px,#00cf00 925px)"></i>
<i style="top:104px;height:4px;background:linear-gradient(90deg,#00ca00 0px,#00da00 110px,#00ff00 136px,#0fff00 138px,#0fff00 148px,#00ff00 150px,#00cf00 176px,#00da00 220px,#00d400 268px,#00ff00 330px,#3bff00 340px,#49ff00 346px,#67ff00 350px,#75ff00 356px,#93ff00 360px,#bcff00 376px,#d4f700 462px,#efed00 500px,#f1e700 544px,#ecef00 568px,#d0f800 590px,#bcff00 620px,#93ff00 632px,#75ff00 636px,#67ff00 642px,#0fff00 664px,#0fff00 668px,#00ff00 670px,#00fc00 830px,#00ea00 890px,#00cf00 925px)"></i>
<i style="top:108px;height:4px;background:linear-gradient(90deg,#00cc00 0px,#00da00 112px,#00ff00 138px,#0fff00 140px,#0fff00 144px,#1dff00 146px,#00ff00 152px,#00d200 176px,#00d400 260px,#00ff00 326px,#1dff00 330px,#1dff00 332px,#49ff00 338px,#58ff00 344px,#75ff00 348px,#84ff00 354px,#a1ff00 358px,#bcff00 366px,#f3e500 514px,#f0ea00 566px,#bcff00 626px,#58ff00 652px,#58ff00 654px,#49ff00 656px,#49ff00 658px,#3bff00 660px,#3bff00 662px,#2cff00 664px,#2cff00 668px,#1dff00 670px,#0fff00 680px,#00ff00 682px,#00fc00 834px,#00ec00 888px,#00cc00 925px)"></i>
<i style="top:112px;height:4px;background:linear-gradient(90deg,#00cc00 0px,#00da00 112px,#00ff00 140px,#1dff00 146px,#00ff00 152px,#00d400 178px,#00d700 262px,#00ff00 322px,#1dff00 326px,#1dff00 328px,#49ff00 334px,#49ff00 336px,#67ff00 340px,#75ff00 346px,#93ff00 350px,#a1ff00 356px,#bcff00 360px,#efed00 478px,#f5df00 520px,#f5df00 556px,#f0ea00 570px,#bcff00 632px,#67ff00 654px,#67ff00 658px,#3bff00 668px,#3bff00 672px,#00ff00 686px,#00fc00 838px,#00ec00 890px,#00cc00 925px)"></i>
<i style="top:116px;height:4px;background:linear-gradient(90deg,#00cc00 0px,#00da00 112px,#00ff00 142px,#1dff00 148px,#00ff00 154px,#00d700 178px,#00da00 262px,#00ff00 318px,#1dff00 322px,#1dff00 324px,#3bff00 328px,#3bff00 330px,#67ff00 336px,#67ff00 338px,#84ff00 342px,#93ff00 348px,#b0ff00 352px,#bcff00 356px,#ccf900 372px,#efed00 462px,#f8da00 540px,#f0ea00 574px,#bcff00 640px,#58ff00 666px,#58ff00 668px,#49ff00 670px,#49ff00 672px,#3bff00 674px,#3bff00 676px,#2cff00 678px,#2cff00 680px,#1dff00 682px,#1dff00 684px,#0fff00 686px,#0fff00 690px,#00ff00 692px,#00fc00 842px,#00ec00 892px,#00cc00 925px)"></i>
<i style="top:120px;height:4px;background:linear-gradient(90deg,#00cc00 0px,#00dc00 118px,#00ff00 142px,#0fff00 144px,#0fff00 148px,#1dff00 150px,#00ff00 156px,#00d700 182px,#00e200 226px,#00dc00 262px,#00ff00 314px,#0fff00 316px,#0fff00 318px,#3bff00 324px,#3bff00 326px,#58ff00 330px,#58ff00 332px,#84ff00 338px,#84ff00 340px,#a1ff00 344px,#bcff00 352px,#d0f800 372px,#e4f100 416px,#f9d700 524px,#f9d700 554px,#f0ea00 578px,#bcff00 646px,#58ff00 672px,#58ff00 674px,#3bff00 678px,#1dff00 688px,#0fff00 690px,#0fff00 694px,#00ff00 696px,#00fc00 846px,#00ef00 890px,#00cf00 925px)"></i>
<i style="top:124px;height:4px;background:linear-gradient(90deg,#00cc00 0px,#00dc00 120px,#00ff00 144px,#1dff00 150px,#0fff00 156px,#00ff00 158px,#00da00 182px,#00df00 262px,#00ff00 310px,#0fff00 312px,#0fff00 314px,#2cff00 318px,#2cff00 320px,#58ff00 326px,#58ff00 328px,#75ff00 332px,#75ff00 334px,#93ff00 338px,#93ff00 340px,#b0ff00 344px,#bcff00 348px,#d8f500 378px,#ecef00 420px,#fbd500 516px,#fbd500 552px,#efed00 584px,#bcff00 652px,#84ff00 668px,#49ff00 678px,#0fff00 696px,#00ff00 698px,#00fc00 850px,#00f200 886px,#00cf00 925px)"></i>
<i style="top:128px;height:4px;background:linear-gradient(90deg,#00cf00 0px,#00dc00 122px,#00ff00 146px,#1dff00 152px,#0fff00 158px,#00ff00 160px,#00df00 180px,#00dc00 190px,#00e200 262px,#00ff00 306px,#0fff00 308px,#0fff00 310px,#2cff00 314px,#2cff00 316px,#49ff00 320px,#49ff00 322px,#75ff00 328px,#75ff00 330px,#93ff00 334px,#93ff00 336px,#b0ff00 340px,#bcff00 344px,#efed00 414px,#fcd200 510px,#fcd200 550px,#efed00 588px,#bcff00 658px,#b0ff00 662px,#93ff00 666px,#93ff00 668px,#75ff00 672px,#75ff00 674px,#58ff00 678px,#49ff00 684px,#2cff00 688px,#0fff00 698px,#00ff00 700px,#00fc00 852px,#00f200 888px,#00cf00 925px)"></i>
<i style="top:132px;height:4px;background:linear-gradient(90deg,#00cf00 0px,#00dc00 122px,#00ff00 148px,#1dff00 154px,#1dff00 158px,#00ff00 164px,#00dc00 188px,#00e400 262px,#00ff00 304px,#2cff00 310px,#2cff00 312px,#49ff00 316px,#49ff00 318px,#67ff00 322px,#67ff00 324px,#84ff00 328px,#84ff00 330px,#bcff00 340px,#efed00 406px,#fdcf00 508px,#fdcf00 548px,#efed00 592px,#c4fc00 656px,#b0ff00 666px,#84ff00 672px,#75ff00 678px,#58ff00 682px,#58ff00 684px,#3bff00 688px,#2cff00 694px,#0fff00 698px,#0fff00 700px,#00ff00 702px,#00fc00 856px,#00f400 886px,#00d200 925px)"></i>
<i style="top:136px;height:4px;background:linear-gradient(90deg,#00cf00 0px,#00dc00 124px,#00ff00 150px,#1dff00 156px,#1dff00 160px,#00ff00 166px,#00df00 188px,#00e700 262px,#00ff00 300px,#1dff00 304px,#1dff00 306px,#3bff00 310px,#3bff00 312px,#67ff00 318px,#67ff00 320px,#a1ff00 330px,#c0fd00 340px,#efed00 402px,#fcd200 466px,#ffcd00 508px,#ffcd00 546px,#efed00 596px,#bcff00 666px,#84ff00 676px,#84ff00 678px,#67ff00 682px,#67ff00 684px,#3bff00 690px,#0fff00 704px,#00ff00 706px,#00fc00 858px,#00f400 888px,#00d400 925px)"></i>
<i style="top:140px;height:4px;background:linear-gradient(90deg,#00cf00 0px,#00dc00 126px,#00ff00 152px,#1dff00 156px,#1dff00 162px,#00ff00 168px,#00e200 188px,#00e700 256px,#00ff00 296px,#1dff00 300px,#1dff00 302px,#3bff00 306px,#3bff00 308px,#58ff00 312px,#58ff00 314px,#75ff00 318px,#75ff00 320px,#b0ff00 330px,#c4fc00 340px,#efed00 398px,#fdcf00 464px,#ffc900 508px,#ffc900 544px,#efed00 600px,#d4f700 648px,#c0fd00 666px,#b0ff00 672px,#93ff00 676px,#93ff00 678px,#67ff00 684px,#67ff00 686px,#49ff00 690px,#49ff00 692px,#2cff00 696px,#0fff00 706px,#00ff00 708px,#00fc00 856px,#00f400 888px,#00d700 925px)"></i>
<i style="top:144px;height:4px;background:linear-gradient(90deg,#00cf00 0px,#00dc00 126px,#00ff00 154px,#1dff00 158px,#1dff00 166px,#00ff00 170px,#00e400 188px,#00ea00 260px,#00ff00 294px,#58ff00 308px,#58ff00 310px,#75ff00 314px,#75ff00 316px,#93ff00 320px,#93ff00 322px,#b0ff00 326px,#bcff00 330px,#efed00 394px,#f7dd00 418px,#ffc900 500px,#ffc500 540px,#ecef00 610px,#d8f500 648px,#c4fc00 666px,#bcff00 672px,#a1ff00 676px,#a1ff00 678px,#75ff00 684px,#75ff00 686px,#58ff00 690px,#58ff00 692px,#1dff00 702px,#0fff00 708px,#00ff00 710px,#00fc00 852px,#00ef00 896px,#00d700 925px)"></i>
<i style="top:148px;height:4px;background:linear-gradient(90deg,#00d200 0px,#00dc00 128px,#00ff00 154px,#1dff00 160px,#1dff00 168px,#00ff00 172px,#00e400 192px,#00ea00 254px,#00ff00 290px,#0fff00 292px,#0fff00 294px,#3bff00 300px,#3bff00 302px,#67ff00 308px,#67ff00 310px,#84ff00 314px,#84ff00 316px,#bcff00 326px,#efed00 392px,#f9d700 424px,#ffc900 490px,#ffc500 542px,#f0ea00 594px,#ecef00 616px,#c8fb00 666px,#bcff00 674px,#84ff00 684px,#84ff00 686px,#58ff00 692px,#58ff00 694px,#3bff00 698px,#2cff00 704px,#0fff00 708px,#0fff00 710px,#00ff00 712px,#00fc00 848px,#00ef00 894px,#00d700 925px)"></i>
<i style="top:152px;height:4px;background:linear-gradient(90deg,#00d200 0px,#00df00 136px,#00ff00 156px,#1dff00 160px,#1dff00 170px,#00ff00 174px,#00e700 196px,#00ea00 248px,#00ff00 288px,#0fff00 290px,#0fff00 292px,#3bff00 298px,#3bff00 300px,#67ff00 306px,#67ff00 308px,#93ff00 314px,#93ff00 316px,#b0ff00 320px,#c0fd00 326px,#efed00 390px,#fbd500 426px,#ffc900 480px,#ffc100 536px,#efed00 600px,#e8f000 632px,#d0f800 662px,#b0ff00 680px,#93ff00 684px,#93ff00 686px,#67ff00 692px,#67ff00 694px,#49ff00 698px,#49ff00 700px,#2cff00 704px,#0fff00 714px,#00ff00 716px,#00fc00 844px,#00f200 886px,#00da00 925px)"></i>
<i style="top:156px;height:4px;background:linear-gradient(90deg,#00d200 0px,#00df00 138px,#00ff00 158px,#1dff00 162px,#1dff00 164px,#2cff00 166px,#1dff00 172px,#00ff00 176px,#00e700 198px,#00ea00 244px,#00ff00 288px,#2cff00 294px,#2cff00 296px,#67ff00 304px,#67ff00 306px,#93ff00 312px,#93ff00 314px,#bcff00 320px,#c4fc00 326px,#ecef00 380px,#fdcf00 434px,#ffc900 480px,#ffc100 538px,#efed00 600px,#e8f000 636px,#ccf900 668px,#bcff00 680px,#a1ff00 684px,#a1ff00 686px,#75ff00 692px,#75ff00 694px,#58ff00 698px,#58ff00 700px,#1dff00 710px,#0fff00 716px,#00ff00 718px,#00fc00 840px,#00ef00 890px,#00da00 925px)"></i>
<i style="top:160px;height:4px;background:linear-gradient(90deg,#00d200 0px,#00dc00 136px,#00ff00 160px,#1dff00 164px,#1dff00 166px,#2cff00 168px,#1dff00 174px,#00ff00 178px,#00e700 198px,#00ec00 252px,#00ff00 286px,#0fff00 288px,#0fff00 290px,#49ff00 298px,#49ff00 300px,#84ff00 308px,#84ff00 310px,#b0ff00 316px,#c8fb00 328px,#ecef00 378px,#ffcd00 436px,#ffc900 480px,#ffc100 536px,#efed00 600px,#ecef00 632px,#d4f700 664px,#b0ff00 686px,#58ff00 700px,#58ff00 702px,#3bff00 706px,#3bff00 708px,#1dff00 712px,#0fff00 718px,#00ff00 720px,#00fc00 836px,#00da00 925px)"></i>
<i style="top:164px;height:4px;background:linear-gradient(90deg,#00d200 0px,#00dc00 134px,#00e400 146px,#00ff00 160px,#0fff00 162px,#0fff00 164px,#2cff00 168px,#2cff00 172px,#1dff00 174px,#1dff00 176px,#00ff00 180px,#00ea00 196px,#00ea00 240px,#00ff00 284px,#0fff00 286px,#0fff00 288px,#2cff00 292px,#2cff00 294px,#58ff00 300px,#58ff00 302px,#b0ff00 316px,#c4fc00 324px,#e4f100 358px,#f0ea00 394px,#ffc900 438px,#ffc100 536px,#efed00 598px,#e0f300 654px,#c4fc00 680px,#b0ff00 688px,#93ff00 692px,#93ff00 694px,#67ff00 700px,#67ff00 702px,#49ff00 706px,#49ff00 708px,#2cff00 712px,#2cff00 714px,#0fff00 718px,#0fff00 720px,#00ff00 722px,#00fc00 832px,#00da00 925px)"></i>
<i style="top:168px;height:4px;background:linear-gradient(90deg,#00d400 0px,#00df00 142px,#00ff00 162px,#1dff00 166px,#1dff00 168px,#2cff00 170px,#2cff00 176px,#00ff00 182px,#00ea00 200px,#00ea00 216px,#00ec00 248px,#00ff00 284px,#1dff00 288px,#1dff00 290px,#3bff00 294px,#3bff00 296px,#58ff00 300px,#58ff00 302px,#93ff00 310px,#93ff00 312px,#b0ff00 316px,#c0fd00 322px,#e8f000 362px,#f1e700 398px,#ffc900 436px,#ffcd00 478px,#ffc100 496px,#ffc100 534px,#efed00 598px,#ecef00 638px,#e0f300 656px,#bcff00 688px,#a1ff00 692px,#a1ff00 694px,#75ff00 700px,#75ff00 702px,#58ff00 706px,#58ff00 708px,#2cff00 714px,#0fff00 724px,#00ff00 726px,#00fc00 830px,#00da00 925px)"></i>
<i style="top:172px;height:4px;background:linear-gradient(90deg,#00d400 0px,#00df00 144px,#00ff00 164px,#1dff00 168px,#1dff00 170px,#2cff00 172px,#2cff00 178px,#00ff00 184px,#00ea00 200px,#00ea00 216px,#00ea00 238px,#00ff00 282px,#0fff00 284px,#1dff00 290px,#3bff00 294px,#3bff00 296px,#67ff00 302px,#67ff00 304px,#93ff00 310px,#93ff00 312px,#b0ff00 316px,#c0fd00 322px,#ecef00 368px,#f0ea00 392px,#ffc900 436px,#ffcd00 478px,#ffc100 534px,#f0ea00 590px,#ecef00 640px,#dcf400 664px,#c0fd00 688px,#b0ff00 694px,#58ff00 708px,#58ff00 710px,#3bff00 714px,#3bff00 716px,#1dff00 720px,#0fff00 726px,#00ff00 728px,#00f700 756px,#00fc00 826px,#00da00 925px)"></i>
<i style="top:176px;height:4px;background:linear-gradient(90deg,#00d400 0px,#00df00 144px,#00ff00 166px,#1dff00 170px,#1dff00 172px,#2cff00 174px,#2cff00 180px,#00ff00 186px,#00ea00 204px,#00ec00 242px,#00ff00 280px,#0fff00 282px,#2cff00 292px,#49ff00 296px,#49ff00 298px,#67ff00 302px,#67ff00 304px,#93ff00 310px,#93ff00 312px,#b0ff00 316px,#c0fd00 322px,#ecef00 370px,#f1e700 396px,#ffc900 436px,#ffcd00 478px,#ffc100 532px,#efed00 596px,#efed00 630px,#e0f300 662px,#bcff00 694px,#93ff00 700px,#93ff00 702px,#67ff00 708px,#67ff00 710px,#49ff00 714px,#49ff00 716px,#2cff00 720px,#2cff00 722px,#0fff00 726px,#0fff00 728px,#00ff00 730px,#00f700 754px,#00fc00 822px,#00da00 925px)"></i>
<i style="top:180px;height:4px;background:linear-gradient(90deg,#00d400 0px,#00df00 146px,#00ff00 168px,#2cff00 174px,#2cff00 182px,#00ff00 188px,#00ea00 204px,#00ea00 212px,#00ff00 278px,#0fff00 280px,#0fff00 284px,#1dff00 286px,#1dff00 288px,#3bff00 292px,#49ff00 298px,#75ff00 304px,#75ff00 306px,#93ff00 310px,#93ff00 312px,#b0ff00 316px,#bcff00 320px,#ecef00 370px,#f3e500 400px,#ffc900 434px,#ffc500 538px,#efed00 596px,#e4f100 662px,#bcff00 696px,#a1ff00 700px,#a1ff00 702px,#75ff00 708px,#75ff00 710px,#58ff00 714px,#58ff00 716px,#2cff00 722px,#0fff00 732px,#00ff00 734px,#00fa00 832px,#00da00 925px)"></i>
<i style="top:184px;height:4px;background:linear-gradient(90deg,#00d400 0px,#00df00 148px,#00ff00 170px,#2cff00 176px,#2cff00 184px,#00ff00 190px,#00ea00 206px,#00ff00 276px,#1dff00 282px,#1dff00 286px,#2cff00 288px,#3bff00 294px,#58ff00 298px,#58ff00 300px,#75ff00 304px,#75ff00 306px,#93ff00 310px,#93ff00 312px,#b0ff00 316px,#bcff00 320px,#e8f000 364px,#f0ea00 390px,#ffc900 436px,#ffc500 530px,#efed00 594px,#e4f100 668px,#bcff00 700px,#93ff00 706px,#93ff00 708px,#58ff00 716px,#58ff00 718px,#3bff00 722px,#3bff00 724px,#1dff00 728px,#0fff00 734px,#00ff00 736px,#00fa00 828px,#00da00 925px)"></i>
<i style="top:188px;height:4px;background:linear-gradient(90deg,#00d400 0px,#00df00 150px,#00ff00 172px,#1dff00 176px,#1dff00 178px,#2cff00 180px,#2cff00 186px,#00ff00 192px,#00ea00 208px,#00ff00 270px,#0fff00 272px,#0fff00 276px,#1dff00 278px,#1dff00 280px,#2cff00 282px,#2cff00 286px,#3bff00 288px,#3bff00 292px,#49ff00 294px,#49ff00 296px,#67ff00 300px,#75ff00 306px,#93ff00 310px,#93ff00 312px,#b0ff00 316px,#bcff00 320px,#ecef00 372px,#ffc900 438px,#ffc900 534px,#efed00 594px,#ecef00 664px,#d4f700 690px,#bcff00 704px,#67ff00 716px,#67ff00 718px,#49ff00 722px,#49ff00 724px,#1dff00 730px,#0fff00 736px,#00ff00 738px,#00f700 754px,#00fa00 824px,#00da00 925px)"></i>
<i style="top:192px;height:4px;background:linear-gradient(90deg,#00d400 0px,#00df00 152px,#00ff00 174px,#2cff00 180px,#2cff00 186px,#1dff00 188px,#1dff00 190px,#00ff00 194px,#00ea00 212px,#00ff00 258px,#0fff00 260px,#1dff00 274px,#2cff00 276px,#2cff00 280px,#3bff00 282px,#3bff00 286px,#49ff00 288px,#49ff00 292px,#58ff00 294px,#58ff00 298px,#67ff00 300px,#75ff00 306px,#93ff00 310px,#a1ff00 316px,#bcff00 320px,#ecef00 374px,#ffc900 440px,#fcd200 482px,#ffcd00 536px,#efed00 594px,#ecef00 674px,#c0fd00 706px,#84ff00 714px,#84ff00 716px,#49ff00 724px,#49ff00 726px,#1dff00 732px,#0fff00 738px,#00ff00 740px,#00f700 754px,#00fa00 820px,#00da00 925px)"></i>
<i style="top:196px;height:4px;background:linear-gradient(90deg,#00d700 0px,#00df00 154px,#00ff00 176px,#1dff00 180px,#1dff00 182px,#2cff00 184px,#2cff00 190px,#00ff00 196px,#00ef00 208px,#00ff00 236px,#0fff00 238px,#0fff00 246px,#1dff00 248px,#1dff00 260px,#2cff00 262px,#2cff00 268px,#3bff00 270px,#3bff00 276px,#49ff00 278px,#58ff00 292px,#67ff00 294px,#67ff00 300px,#bcff00 322px,#e8f000 368px,#f1e700 398px,#ffc900 442px,#fbd500 484px,#fdcf00 536px,#efed00 592px,#efed00 678px,#e0f300 694px,#bcff00 710px,#a1ff00 714px,#84ff00 716px,#84ff00 718px,#49ff00 726px,#49ff00 728px,#2cff00 732px,#2cff00 734px,#0fff00 738px,#0fff00 740px,#00ff00 742px,#00f700 830px,#00da00 925px)"></i>
<i style="top:200px;height:4px;background:linear-gradient(90deg,#00d700 0px,#00df00 158px,#00ff00 178px,#1dff00 182px,#1dff00 184px,#2cff00 186px,#2cff00 192px,#00ff00 198px,#00f200 212px,#00ff00 228px,#3bff00 240px,#3bff00 260px,#49ff00 262px,#49ff00 270px,#58ff00 272px,#58ff00 280px,#67ff00 282px,#67ff00 294px,#75ff00 296px,#75ff00 302px,#84ff00 304px,#84ff00 308px,#bcff00 322px,#e8f000 370px,#f1e700 400px,#ffc900 444px,#f9d700 484px,#fcd200 536px,#efed00 592px,#f3e500 670px,#ecef00 692px,#bcff00 712px,#58ff00 726px,#58ff00 728px,#00ff00 742px,#00f700 826px,#00da00 925px)"></i>
<i style="top:204px;height:4px;background:linear-gradient(90deg,#00d700 0px,#00dc00 148px,#00df00 160px,#00ff00 180px,#1dff00 184px,#1dff00 186px,#2cff00 188px,#2cff00 194px,#1dff00 196px,#1dff00 198px,#00ff00 202px,#00f700 210px,#00ff00 224px,#3bff00 232px,#3bff00 234px,#58ff00 238px,#58ff00 256px,#67ff00 258px,#67ff00 272px,#75ff00 274px,#75ff00 284px,#84ff00 286px,#84ff00 290px,#75ff00 292px,#75ff00 294px,#84ff00 296px,#84ff00 306px,#93ff00 308px,#93ff00 312px,#bcff00 322px,#e8f000 372px,#ffcd00 442px,#f8da00 484px,#fbd500 536px,#efed00 590px,#efed00 644px,#f4e200 660px,#efed00 694px,#bcff00 714px,#49ff00 730px,#49ff00 732px,#1dff00 738px,#1dff00 740px,#00ff00 744px,#00f400 834px,#00da00 925px)"></i>
<i style="top:208px;height:4px;background:linear-gradient(90deg,#00d700 0px,#00dc00 152px,#00e200 166px,#00ff00 182px,#1dff00 186px,#1dff00 188px,#2cff00 190px,#2cff00 198px,#1dff00 200px,#1dff00 202px,#00ff00 206px,#00ff00 218px,#0fff00 220px,#0fff00 222px,#67ff00 234px,#67ff00 236px,#84ff00 240px,#84ff00 272px,#93ff00 274px,#93ff00 292px,#84ff00 294px,#84ff00 304px,#93ff00 306px,#93ff00 312px,#a1ff00 314px,#a1ff00 318px,#bcff00 324px,#d8f500 354px,#f0ea00 400px,#ffcd00 446px,#f7dd00 486px,#f9d700 534px,#ecef00 598px,#efed00 646px,#f5df00 666px,#f3e500 690px,#bcff00 716px,#93ff00 720px,#93ff00 722px,#3bff00 734px,#3bff00 736px,#0fff00 742px,#0fff00 744px,#00ff00 746px,#00da00 925px)"></i>
<i style="top:212px;height:4px;background:linear-gradient(90deg,#00d700 0px,#00dc00 156px,#00e200 168px,#00fc00 184px,#2cff00 190px,#2cff00 194px,#3bff00 196px,#2cff00 198px,#2cff00 202px,#1dff00 204px,#0fff00 214px,#1dff00 216px,#1dff00 218px,#3bff00 222px,#3bff00 224px,#b0ff00 240px,#b0ff00 268px,#a1ff00 270px,#a1ff00 272px,#b0ff00 274px,#b0ff00 286px,#a1ff00 288px,#a1ff00 292px,#93ff00 294px,#93ff00 312px,#a1ff00 314px,#a1ff00 318px,#b0ff00 320px,#b0ff00 324px,#bcff00 326px,#e4f100 370px,#fdcf00 446px,#f5df00 486px,#f8da00 532px,#ecef00 590px,#ecef00 642px,#f7dd00 684px,#ecef00 698px,#c4fc00 714px,#58ff00 730px,#58ff00 732px,#1dff00 740px,#1dff00 742px,#00ff00 746px,#00da00 925px)"></i>
<i style="top:216px;height:4px;background:linear-gradient(90deg,#00d700 0px,#00dc00 160px,#00ea00 176px,#00ff00 186px,#2cff00 192px,#2cff00 194px,#3bff00 196px,#2cff00 214px,#3bff00 216px,#3bff00 218px,#bcff00 236px,#c8fb00 246px,#bcff00 286px,#a1ff00 292px,#a1ff00 296px,#93ff00 298px,#93ff00 314px,#a1ff00 316px,#a1ff00 320px,#b0ff00 322px,#b0ff00 326px,#bcff00 328px,#e4f100 372px,#fcd200 448px,#f4e200 486px,#f7dd00 530px,#ecef00 586px,#ecef00 646px,#f8da00 684px,#efed00 698px,#c0fd00 716px,#75ff00 726px,#75ff00 728px,#2cff00 738px,#2cff00 740px,#00ff00 746px,#00da00 925px)"></i>
<i style="top:220px;height:4px;background:linear-gradient(90deg,#00d700 0px,#00dc00 164px,#00ec00 180px,#00ff00 188px,#3bff00 196px,#3bff00 200px,#49ff00 202px,#49ff00 214px,#58ff00 216px,#58ff00 218px,#bcff00 232px,#d4f700 244px,#c4fc00 282px,#bcff00 290px,#a1ff00 296px,#a1ff00 302px,#93ff00 304px,#93ff00 316px,#a1ff00 318px,#a1ff00 322px,#b0ff00 324px,#b0ff00 328px,#bcff00 330px,#e4f100 374px,#fbd500 452px,#f3e500 488px,#f4e200 536px,#e8f000 586px,#ecef00 650px,#f8da00 684px,#ecef00 700px,#bcff00 718px,#3bff00 736px,#3bff00 738px,#0fff00 744px,#0fff00 746px,#00ff00 748px,#00da00 925px)"></i>
<i style="top:224px;height:4px;background:linear-gradient(90deg,#00d700 0px,#00dc00 168px,#00e400 178px,#00ff00 190px,#1dff00 192px,#3bff00 196px,#3bff00 198px,#49ff00 200px,#49ff00 208px,#67ff00 214px,#67ff00 216px,#93ff00 222px,#b0ff00 224px,#bcff00 226px,#e0f300 244px,#e0f300 258px,#ccf900 280px,#b0ff00 298px,#a1ff00 300px,#a1ff00 306px,#93ff00 308px,#93ff00 318px,#a1ff00 320px,#a1ff00 324px,#b0ff00 326px,#b0ff00 330px,#bcff00 332px,#e4f100 376px,#f9d700 458px,#f0ea00 498px,#f3e500 532px,#e4f100 586px,#e4f100 644px,#f8da00 678px,#f5df00 690px,#e4f100 704px,#bcff00 718px,#49ff00 734px,#49ff00 736px,#1dff00 742px,#1dff00 744px,#00ff00 748px,#00da00 925px)"></i>
<i style="top:228px;height:4px;background:linear-gradient(90deg,#00d700 0px,#00dc00 168px,#00e200 178px,#00fc00 190px,#49ff00 200px,#58ff00 210px,#c0fd00 224px,#ecef00 246px,#dcf400 274px,#bcff00 296px,#a1ff00 302px,#93ff00 320px,#a1ff00 322px,#a1ff00 326px,#b0ff00 328px,#b0ff00 332px,#bcff00 334px,#dcf400 368px,#ecef00 396px,#f7dd00 454px,#efed00 496px,#efed00 546px,#e0f300 588px,#e0f300 642px,#f7dd00 676px,#f4e200 692px,#ecef00 702px,#c0fd00 718px,#67ff00 730px,#67ff00 732px,#2cff00 740px,#2cff00 742px,#0fff00 746px,#0fff00 748px,#00ff00 750px,#00da00 925px)"></i>
<i style="top:232px;height:4px;background:linear-gradient(90deg,#00d700 0px,#00dc00 168px,#00e700 182px,#00ff00 192px,#49ff00 202px,#49ff00 204px,#58ff00 206px,#58ff00 210px,#a1ff00 220px,#bcff00 222px,#e0f300 232px,#f0ea00 244px,#ecef00 268px,#bcff00 298px,#b0ff00 300px,#b0ff00 304px,#a1ff00 306px,#a1ff00 312px,#93ff00 314px,#93ff00 322px,#a1ff00 324px,#a1ff00 328px,#b0ff00 330px,#b0ff00 334px,#bcff00 336px,#d8f500 366px,#efed00 412px,#f4e200 472px,#ecef00 494px,#e0f300 648px,#f5df00 676px,#efed00 700px,#bcff00 720px,#a1ff00 722px,#84ff00 726px,#84ff00 728px,#3bff00 738px,#3bff00 740px,#00ff00 750px,#00da00 925px)"></i>
<i style="top:236px;height:4px;background:linear-gradient(90deg,#00da00 0px,#00da00 154px,#00e200 180px,#00ff00 194px,#0fff00 196px,#2cff00 198px,#49ff00 202px,#67ff00 214px,#93ff00 220px,#c0fd00 224px,#e8f000 234px,#f4e200 250px,#ecef00 272px,#bcff00 302px,#a1ff00 308px,#a1ff00 312px,#93ff00 314px,#93ff00 324px,#a1ff00 326px,#a1ff00 330px,#b0ff00 332px,#b0ff00 336px,#bcff00 338px,#ccf900 354px,#efed00 420px,#dcf400 650px,#f4e200 674px,#f0ea00 694px,#e8f000 702px,#bcff00 720px,#58ff00 734px,#58ff00 736px,#2cff00 742px,#2cff00 744px,#0fff00 748px,#0fff00 750px,#00ff00 752px,#00dc00 925px)"></i>
<i style="top:240px;height:4px;background:linear-gradient(90deg,#00da00 0px,#00d700 138px,#00e200 180px,#00ff00 196px,#1dff00 198px,#49ff00 204px,#75ff00 218px,#bcff00 224px,#efed00 236px,#f5df00 248px,#ecef00 276px,#bcff00 304px,#a1ff00 310px,#a1ff00 314px,#93ff00 316px,#93ff00 326px,#a1ff00 328px,#a1ff00 332px,#bcff00 338px,#c8fb00 352px,#ecef00 424px,#efed00 474px,#e0f300 496px,#d8f500 558px,#d8f500 650px,#efed00 666px,#efed00 692px,#bcff00 720px,#67ff00 732px,#67ff00 734px,#1dff00 744px,#1dff00 746px,#00ff00 750px,#00dc00 925px)"></i>
<i style="top:244px;height:4px;background:linear-gradient(90deg,#00da00 0px,#00da00 152px,#00e200 180px,#00ff00 198px,#1dff00 200px,#58ff00 208px,#58ff00 210px,#67ff00 212px,#67ff00 216px,#93ff00 222px,#b0ff00 224px,#dcf400 232px,#f0ea00 238px,#f7dd00 250px,#ecef00 280px,#bcff00 304px,#b0ff00 306px,#b0ff00 310px,#a1ff00 312px,#a1ff00 316px,#93ff00 318px,#93ff00 328px,#a1ff00 330px,#a1ff00 334px,#bcff00 340px,#e0f300 392px,#e8f000 476px,#d8f500 514px,#d4f700 650px,#ecef00 668px,#efed00 682px,#e0f300 700px,#bcff00 718px,#a1ff00 722px,#a1ff00 724px,#49ff00 736px,#49ff00 738px,#0fff00 746px,#0fff00 748px,#00ff00 750px,#00ef00 794px,#00dc00 925px)"></i>
<i style="top:248px;height:4px;background:linear-gradient(90deg,#00da00 0px,#00d700 136px,#00e200 178px,#00fc00 198px,#58ff00 210px,#75ff00 220px,#93ff00 224px,#b0ff00 226px,#e8f000 236px,#f8da00 250px,#ecef00 282px,#bcff00 306px,#a1ff00 312px,#a1ff00 316px,#93ff00 318px,#93ff00 330px,#a1ff00 332px,#a1ff00 336px,#b0ff00 338px,#b0ff00 342px,#bcff00 344px,#d8f500 384px,#e0f300 476px,#d0f800 536px,#d0f800 650px,#e8f000 670px,#e8f000 682px,#d8f500 702px,#bcff00 718px,#93ff00 724px,#93ff00 726px,#3bff00 738px,#3bff00 740px,#0fff00 746px,#0fff00 748px,#00ff00 750px,#00ef00 788px,#00dc00 925px)"></i>
<i style="top:252px;height:4px;background:linear-gradient(90deg,#00da00 0px,#00da00 150px,#00e700 186px,#00fc00 200px,#67ff00 214px,#67ff00 218px,#75ff00 220px,#75ff00 222px,#a1ff00 228px,#bcff00 230px,#efed00 240px,#f8da00 248px,#f8da00 260px,#ecef00 282px,#bcff00 306px,#93ff00 316px,#93ff00 332px,#a1ff00 334px,#a1ff00 338px,#b0ff00 340px,#b0ff00 344px,#bcff00 346px,#d4f700 382px,#d8f500 476px,#c8fb00 592px,#ccf900 652px,#e0f300 672px,#e0f300 684px,#bcff00 718px,#84ff00 726px,#84ff00 728px,#1dff00 742px,#1dff00 744px,#00ff00 748px,#00ef00 784px,#00dc00 925px)"></i>
<i style="top:256px;height:4px;background:linear-gradient(90deg,#00da00 0px,#00d700 134px,#00e400 182px,#00ff00 202px,#58ff00 212px,#58ff00 214px,#75ff00 220px,#75ff00 224px,#a1ff00 230px,#bcff00 232px,#e4f100 240px,#f7dd00 250px,#f7dd00 262px,#ecef00 278px,#bcff00 306px,#a1ff00 310px,#a1ff00 314px,#93ff00 316px,#93ff00 322px,#84ff00 324px,#84ff00 326px,#93ff00 328px,#93ff00 336px,#a1ff00 338px,#a1ff00 342px,#b0ff00 344px,#b0ff00 348px,#bcff00 350px,#d0f800 382px,#c4fc00 604px,#c8fb00 652px,#d8f500 684px,#c0fd00 714px,#b0ff00 720px,#58ff00 732px,#58ff00 734px,#0fff00 744px,#0fff00 746px,#00ff00 748px,#00ec00 790px,#00dc00 925px)"></i>
<i style="top:260px;height:4px;background:linear-gradient(90deg,#00da00 0px,#00da00 148px,#00ea00 188px,#00ff00 204px,#1dff00 206px,#67ff00 216px,#67ff00 218px,#75ff00 220px,#75ff00 226px,#c0fd00 236px,#e0f300 242px,#f0ea00 246px,#f5df00 260px,#efed00 274px,#c0fd00 300px,#b0ff00 304px,#b0ff00 308px,#93ff00 314px,#93ff00 318px,#84ff00 320px,#84ff00 330px,#93ff00 332px,#93ff00 340px,#a1ff00 342px,#a1ff00 346px,#b0ff00 348px,#b0ff00 354px,#bcff00 356px,#ccf900 382px,#c0fd00 640px,#d0f800 686px,#bcff00 714px,#a1ff00 718px,#a1ff00 720px,#75ff00 726px,#75ff00 728px,#2cff00 738px,#2cff00 740px,#00ff00 746px,#00ec00 786px,#00ea00 870px,#00dc00 925px)"></i>
<i style="top:264px;height:4px;background:linear-gradient(90deg,#00da00 0px,#00d700 132px,#00e200 176px,#00ff00 206px,#1dff00 208px,#67ff00 218px,#84ff00 232px,#c0fd00 238px,#efed00 250px,#f3e500 260px,#ecef00 274px,#bcff00 300px,#a1ff00 306px,#a1ff00 310px,#84ff00 316px,#84ff00 334px,#93ff00 336px,#93ff00 344px,#a1ff00 346px,#a1ff00 352px,#b0ff00 354px,#c4fc00 376px,#b0ff00 578px,#bcff00 580px,#c0fd00 654px,#ccf900 684px,#b0ff00 714px,#93ff00 718px,#93ff00 720px,#75ff00 724px,#75ff00 726px,#00ff00 744px,#00ec00 780px,#00df00 925px)"></i>
<i style="top:268px;height:4px;background:linear-gradient(90deg,#00da00 0px,#00da00 146px,#00e200 176px,#00ff00 208px,#1dff00 210px,#67ff00 220px,#67ff00 222px,#75ff00 224px,#75ff00 230px,#84ff00 232px,#84ff00 234px,#a1ff00 238px,#bcff00 240px,#e0f300 250px,#efed00 258px,#ecef00 270px,#c0fd00 294px,#b0ff00 298px,#b0ff00 302px,#93ff00 308px,#93ff00 312px,#84ff00 314px,#84ff00 338px,#93ff00 340px,#93ff00 350px,#a1ff00 352px,#a1ff00 358px,#b0ff00 360px,#b0ff00 368px,#bcff00 370px,#c0fd00 378px,#bcff00 402px,#b0ff00 404px,#b0ff00 450px,#a1ff00 452px,#a1ff00 508px,#93ff00 510px,#93ff00 556px,#a1ff00 558px,#a1ff00 588px,#b0ff00 590px,#b0ff00 610px,#bcff00 612px,#c8fb00 684px,#bcff00 704px,#b0ff00 708px,#a1ff00 710px,#84ff00 720px,#67ff00 724px,#67ff00 726px,#49ff00 730px,#49ff00 732px,#0fff00 740px,#0fff00 742px,#00ff00 744px,#00ea00 792px,#00df00 925px)"></i>
<i style="top:272px;height:4px;background:linear-gradient(90deg,#00da00 0px,#00d700 130px,#00e200 176px,#00ff00 210px,#2cff00 216px,#49ff00 218px,#67ff00 222px,#67ff00 224px,#75ff00 226px,#75ff00 230px,#93ff00 236px,#a1ff00 242px,#c0fd00 246px,#e4f100 260px,#e4f100 270px,#c0fd00 290px,#a1ff00 298px,#93ff00 308px,#84ff00 310px,#84ff00 318px,#75ff00 320px,#75ff00 328px,#84ff00 330px,#84ff00 346px,#93ff00 348px,#93ff00 358px,#a1ff00 360px,#a1ff00 368px,#b0ff00 370px,#b0ff00 372px,#b0ff00 392px,#a1ff00 394px,#a1ff00 404px,#93ff00 406px,#93ff00 446px,#84ff00 448px,#84ff00 506px,#75ff00 508px,#75ff00 548px,#84ff00 550px,#84ff00 578px,#93ff00 580px,#93ff00 592px,#a1ff00 594px,#a1ff00 610px,#b0ff00 612px,#b0ff00 650px,#bcff00 652px,#c4fc00 684px,#b0ff00 704px,#a1ff00 706px,#67ff00 724px,#3bff00 730px,#3bff00 732px,#00ff00 742px,#00ea00 786px,#00df00 925px)"></i>
<i style="top:276px;height:4px;background:linear-gradient(90deg,#00da00 0px,#00da00 144px,#00e700 186px,#00ff00 214px,#0fff00 216px,#2cff00 218px,#75ff00 228px,#75ff00 230px,#a1ff00 240px,#a1ff00 244px,#b0ff00 246px,#d8f500 262px,#d8f500 272px,#c0fd00 286px,#a1ff00 294px,#93ff00 304px,#84ff00 306px,#84ff00 314px,#75ff00 316px,#75ff00 338px,#84ff00 340px,#84ff00 358px,#93ff00 360px,#93ff00 370px,#a1ff00 372px,#a1ff00 384px,#93ff00 386px,#93ff00 394px,#84ff00 396px,#84ff00 406px,#75ff00 408px,#75ff00 424px,#808080 426px,#808080 500px,#67ff00 502px,#67ff00 504px,#58ff00 506px,#58ff00 542px,#67ff00 544px,#67ff00 572px,#75ff00 574px,#75ff00 584px,#84ff00 586px,#84ff00 596px,#93ff00 598px,#93ff00 610px,#a1ff00 612px,#a1ff00 648px,#b0ff00 650px,#c0fd00 684px,#bcff00 692px,#b0ff00 694px,#b0ff00 698px,#a1ff00 700px,#a1ff00 704px,#58ff00 722px,#58ff00 724px,#3bff00 728px,#3bff00 730px,#00ff00 740px,#00ea00 782px,#00ea00 878px,#00df00 925px)"></i>
<i style="top:280px;height:4px;background:linear-gradient(90deg,#00da00 0px,#00d700 128px,#00e400 182px,#00ff00 216px,#2cff00 222px,#49ff00 224px,#67ff00 228px,#67ff00 230px,#a1ff00 244px,#a1ff00 248px,#bcff00 254px,#ccf900 264px,#bcff00 284px,#a1ff00 288px,#93ff00 298px,#84ff00 300px,#84ff00 306px,#75ff00 308px,#75ff00 360px,#84ff00 362px,#84ff00 386px,#75ff00 388px,#75ff00 396px,#67ff00 398px,#67ff00 406px,#58ff00 408px,#808080 410px,#808080 516px,#3bff00 518px,#3bff00 538px,#49ff00 540px,#49ff00 566px,#58ff00 568px,#58ff00 578px,#67ff00 580px,#67ff00 588px,#75ff00 590px,#75ff00 598px,#84ff00 600px,#84ff00 608px,#93ff00 610px,#93ff00 644px,#a1ff00 646px,#a1ff00 660px,#b0ff00 662px,#b0ff00 676px,#bcff00 678px,#bcff00 684px,#b0ff00 686px,#b0ff00 692px,#a1ff00 694px,#a1ff00 698px,#84ff00 704px,#84ff00 708px,#75ff00 710px,#3bff00 728px,#00ff00 738px,#00ea00 780px,#00ea00 880px,#00df00 925px)"></i>
<i style="top:284px;height:4px;background:linear-gradient(90deg,#00da00 0px,#00da00 142px,#00ec00 200px,#00ff00 220px,#1dff00 224px,#3bff00 226px,#49ff00 228px,#49ff00 230px,#67ff00 234px,#67ff00 236px,#75ff00 238px,#75ff00 242px,#84ff00 244px,#84ff00 248px,#a1ff00 254px,#a1ff00 258px,#bcff00 264px,#c0fd00 270px,#bcff00 278px,#84ff00 292px,#84ff00 298px,#75ff00 300px,#75ff00 336px,#67ff00 338px,#67ff00 350px,#67ff00 362px,#75ff00 364px,#75ff00 380px,#67ff00 382px,#67ff00 388px,#58ff00 390px,#58ff00 396px,#808080 398px,#808080 528px,#1dff00 530px,#1dff00 534px,#2cff00 536px,#2cff00 560px,#3bff00 562px,#3bff00 572px,#49ff00 574px,#49ff00 580px,#58ff00 582px,#58ff00 590px,#67ff00 592px,#67ff00 598px,#75ff00 600px,#75ff00 608px,#84ff00 610px,#84ff00 628px,#93ff00 630px,#93ff00 656px,#a1ff00 658px,#a1ff00 674px,#b0ff00 676px,#b0ff00 682px,#a1ff00 684px,#a1ff00 690px,#93ff00 692px,#93ff00 696px,#84ff00 698px,#84ff00 702px,#58ff00 712px,#58ff00 716px,#3bff00 722px,#1dff00 732px,#00ff00 736px,#00ea00 778px,#00ea00 882px,#00df00 925px)"></i>
<i style="top:288px;height:4px;background:linear-gradient(90deg,#00da00 0px,#00d700 126px,#00e200 178px,#00ff00 224px,#2cff00 230px,#2cff00 232px,#49ff00 238px,#49ff00 240px,#58ff00 242px,#58ff00 246px,#67ff00 248px,#67ff00 252px,#75ff00 254px,#75ff00 258px,#93ff00 264px,#93ff00 282px,#84ff00 284px,#84ff00 288px,#75ff00 290px,#75ff00 298px,#67ff00 300px,#67ff00 316px,#75ff00 318px,#75ff00 330px,#67ff00 332px,#67ff00 346px,#58ff00 348px,#58ff00 382px,#49ff00 384px,#49ff00 386px,#808080 388px,#808080 538px,#0fff00 540px,#0fff00 554px,#1dff00 556px,#1dff00 568px,#2cff00 570px,#2cff00 576px,#3bff00 578px,#3bff00 582px,#49ff00 584px,#58ff00 598px,#67ff00 600px,#67ff00 608px,#75ff00 610px,#75ff00 620px,#84ff00 622px,#84ff00 648px,#93ff00 650px,#93ff00 670px,#a1ff00 672px,#a1ff00 680px,#93ff00 682px,#93ff00 690px,#84ff00 692px,#84ff00 696px,#75ff00 698px,#75ff00 700px,#67ff00 702px,#67ff00 706px,#3bff00 716px,#3bff00 720px,#00ff00 734px,#00ea00 778px,#00ea00 884px,#00df00 925px)"></i>
<i style="top:292px;height:4px;background:linear-gradient(90deg,#00da00 0px,#00d700 124px,#00e400 186px,#00ff00 230px,#1dff00 236px,#2cff00 246px,#3bff00 248px,#3bff00 252px,#49ff00 254px,#49ff00 258px,#58ff00 260px,#58ff00 262px,#67ff00 264px,#67ff00 270px,#75ff00 272px,#75ff00 286px,#67ff00 288px,#67ff00 296px,#58ff00 298px,#58ff00 302px,#58ff00 308px,#67ff00 310px,#67ff00 320px,#75ff00 322px,#75ff00 324px,#67ff00 326px,#67ff00 338px,#58ff00 340px,#58ff00 350px,#49ff00 352px,#49ff00 376px,#3bff00 378px,#808080 380px,#808080 546px,#00ff00 548px,#00ff00 564px,#0fff00 566px,#0fff00 570px,#1dff00 572px,#1dff00 578px,#2cff00 580px,#2cff00 584px,#3bff00 586px,#3bff00 592px,#49ff00 594px,#49ff00 598px,#58ff00 600px,#58ff00 606px,#67ff00 608px,#67ff00 616px,#75ff00 618px,#75ff00 632px,#84ff00 634px,#84ff00 662px,#93ff00 664px,#93ff00 680px,#84ff00 682px,#84ff00 690px,#67ff00 696px,#67ff00 700px,#49ff00 706px,#49ff00 710px,#2cff00 716px,#2cff00 720px,#1dff00 722px,#1dff00 724px,#0fff00 726px,#0fff00 730px,#00ff00 732px,#00ea00 776px,#00ea00 884px,#00df00 925px)"></i>
<i style="top:296px;height:4px;background:linear-gradient(90deg,#00dc00 0px,#00d700 124px,#00ea00 204px,#00ff00 242px,#0fff00 244px,#1dff00 254px,#2cff00 256px,#2cff00 260px,#3bff00 262px,#3bff00 266px,#49ff00 268px,#49ff00 272px,#58ff00 274px,#58ff00 294px,#49ff00 296px,#49ff00 304px,#58ff00 306px,#58ff00 314px,#67ff00 316px,#67ff00 332px,#58ff00 334px,#49ff00 352px,#3bff00 354px,#3bff00 368px,#2cff00 370px,#808080 372px,#808080 554px,#00fc00 556px,#00ff00 572px,#0fff00 574px,#1dff00 584px,#2cff00 586px,#2cff00 590px,#3bff00 592px,#3bff00 598px,#49ff00 600px,#49ff00 604px,#58ff00 606px,#58ff00 612px,#67ff00 614px,#67ff00 622px,#75ff00 624px,#75ff00 644px,#84ff00 646px,#84ff00 680px,#75ff00 682px,#75ff00 688px,#67ff00 690px,#67ff00 694px,#58ff00 696px,#58ff00 700px,#3bff00 706px,#3bff00 710px,#1dff00 716px,#1dff00 720px,#00ff00 726px,#00ea00 776px,#00ea00 886px,#00df00 925px)"></i>
<i style="top:300px;height:4px;background:linear-gradient(90deg,#00dc00 0px,#00d700 122px,#00e700 198px,#00ff00 254px,#0fff00 256px,#1dff00 266px,#2cff00 268px,#2cff00 272px,#3bff00 274px,#3bff00 300px,#49ff00 302px,#49ff00 310px,#58ff00 312px,#58ff00 318px,#67ff00 320px,#67ff00 326px,#58ff00 328px,#58ff00 336px,#49ff00 338px,#49ff00 344px,#3bff00 346px,#3bff00 354px,#2cff00 356px,#2cff00 364px,#808080 366px,#808080 560px,#00fa00 562px,#00ff00 572px,#0fff00 582px,#1dff00 584px,#1dff00 590px,#2cff00 592px,#3bff00 602px,#49ff00 604px,#58ff00 618px,#67ff00 620px,#67ff00 628px,#75ff00 630px,#75ff00 680px,#67ff00 682px,#67ff00 688px,#58ff00 690px,#49ff00 700px,#2cff00 706px,#1dff00 716px,#00ff00 722px,#00ea00 774px,#00e200 925px)"></i>
<i style="top:304px;height:4px;background:linear-gradient(90deg,#00dc00 0px,#00d700 118px,#00ff00 264px,#0fff00 266px,#0fff00 272px,#1dff00 274px,#1dff00 282px,#2cff00 284px,#2cff00 298px,#3bff00 300px,#3bff00 306px,#49ff00 308px,#49ff00 314px,#58ff00 316px,#58ff00 330px,#49ff00 332px,#49ff00 338px,#3bff00 340px,#3bff00 348px,#2cff00 350px,#2cff00 356px,#1dff00 358px,#808080 360px,#808080 566px,#00fa00 568px,#00ff00 578px,#0fff00 588px,#1dff00 590px,#2cff00 600px,#3bff00 602px,#3bff00 606px,#49ff00 608px,#58ff00 622px,#67ff00 624px,#67ff00 634px,#75ff00 636px,#75ff00 664px,#67ff00 666px,#67ff00 680px,#58ff00 682px,#58ff00 688px,#49ff00 690px,#49ff00 694px,#3bff00 696px,#2cff00 706px,#1dff00 708px,#1dff00 710px,#0fff00 712px,#0fff00 716px,#00ff00 718px,#00ea00 774px,#00e200 925px)"></i>
<i style="top:308px;height:4px;background:linear-gradient(90deg,#00dc00 0px,#00da00 136px,#00ff00 276px,#0fff00 278px,#0fff00 288px,#1dff00 290px,#2cff00 304px,#3bff00 306px,#3bff00 310px,#49ff00 312px,#49ff00 318px,#58ff00 320px,#58ff00 324px,#49ff00 326px,#49ff00 332px,#3bff00 334px,#3bff00 342px,#2cff00 344px,#2cff00 350px,#1dff00 352px,#808080 354px,#808080 572px,#00fc00 574px,#00ff00 582px,#0fff00 592px,#1dff00 594px,#2cff00 604px,#3bff00 606px,#3bff00 610px,#49ff00 612px,#49ff00 618px,#58ff00 620px,#58ff00 628px,#67ff00 630px,#67ff00 640px,#75ff00 642px,#75ff00 652px,#67ff00 654px,#67ff00 670px,#58ff00 672px,#58ff00 682px,#49ff00 684px,#49ff00 690px,#3bff00 692px,#2cff00 702px,#1dff00 704px,#1dff00 706px,#0fff00 708px,#0fff00 712px,#00ff00 714px,#00ea00 772px,#00e200 925px)"></i>
<i style="top:312px;height:4px;background:linear-gradient(90deg,#00dc00 0px,#00da00 134px,#00ff00 288px,#0fff00 290px,#0fff00 296px,#1dff00 298px,#1dff00 302px,#2cff00 304px,#3bff00 314px,#49ff00 316px,#49ff00 328px,#3bff00 330px,#3bff00 336px,#2cff00 338px,#2cff00 344px,#1dff00 346px,#808080 348px,#808080 578px,#00fc00 580px,#00ff00 586px,#0fff00 596px,#1dff00 598px,#2cff00 608px,#3bff00 610px,#3bff00 614px,#49ff00 616px,#49ff00 622px,#58ff00 624px,#58ff00 634px,#67ff00 636px,#67ff00 660px,#58ff00 662px,#58ff00 674px,#49ff00 676px,#49ff00 684px,#3bff00 686px,#2cff00 696px,#1dff00 698px,#0fff00 708px,#00ff00 710px,#00ea00 770px,#00e200 925px)"></i>
<i style="top:316px;height:4px;background:linear-gradient(90deg,#00dc00 0px,#00da00 126px,#00ff00 294px,#0fff00 296px,#1dff00 306px,#2cff00 308px,#2cff00 312px,#3bff00 314px,#3bff00 330px,#2cff00 332px,#2cff00 338px,#1dff00 340px,#1dff00 342px,#808080 344px,#808080 582px,#00fc00 584px,#00ff00 590px,#0fff00 600px,#1dff00 602px,#2cff00 612px,#3bff00 614px,#3bff00 620px,#49ff00 622px,#49ff00 628px,#58ff00 630px,#58ff00 638px,#67ff00 640px,#67ff00 652px,#58ff00 654px,#58ff00 666px,#49ff00 668px,#3bff00 686px,#2cff00 688px,#2cff00 694px,#1dff00 696px,#1dff00 698px,#0fff00 700px,#0fff00 704px,#00ff00 706px,#00ea00 766px,#00e200 925px)"></i>
<i style="top:320px;height:4px;background:linear-gradient(90deg,#00dc00 0px,#00dc00 146px,#00ff00 298px,#1dff00 304px,#1dff00 310px,#2cff00 312px,#2cff00 316px,#3bff00 318px,#3bff00 324px,#2cff00 326px,#2cff00 332px,#1dff00 334px,#1dff00 336px,#808080 338px,#808080 588px,#00fc00 590px,#00ff00 594px,#0fff00 604px,#1dff00 606px,#2cff00 616px,#3bff00 618px,#3bff00 626px,#49ff00 628px,#49ff00 634px,#58ff00 636px,#58ff00 658px,#49ff00 660px,#49ff00 668px,#3bff00 670px,#3bff00 680px,#2cff00 682px,#2cff00 688px,#1dff00 690px,#1dff00 696px,#00ff00 702px,#00ea00 762px,#00e200 925px)"></i>
<i style="top:324px;height:4px;background:linear-gradient(90deg,#00dc00 0px,#00dc00 142px,#00ff00 302px,#1dff00 308px,#1dff00 312px,#2cff00 314px,#2cff00 326px,#1dff00 328px,#1dff00 332px,#808080 334px,#808080 592px,#00fc00 594px,#00ff00 598px,#00ff00 602px,#0fff00 604px,#0fff00 608px,#1dff00 610px,#1dff00 614px,#2cff00 616px,#2cff00 622px,#3bff00 624px,#3bff00 632px,#49ff00 634px,#49ff00 640px,#58ff00 642px,#58ff00 650px,#49ff00 652px,#49ff00 662px,#3bff00 664px,#2cff00 682px,#1dff00 684px,#1dff00 690px,#0fff00 692px,#0fff00 696px,#00ff00 698px,#00ea00 760px,#00e200 925px)"></i>
<i style="top:328px;height:4px;background:linear-gradient(90deg,#00dc00 0px,#00df00 156px,#00ff00 304px,#0fff00 306px,#0fff00 310px,#1dff00 312px,#1dff00 328px,#808080 330px,#808080 596px,#00fc00 598px,#00ff00 602px,#00ff00 606px,#0fff00 608px,#0fff00 614px,#1dff00 616px,#1dff00 620px,#2cff00 622px,#2cff00 628px,#3bff00 630px,#3bff00 638px,#49ff00 640px,#49ff00 654px,#3bff00 656px,#2cff00 674px,#1dff00 676px,#1dff00 682px,#0fff00 684px,#0fff00 692px,#00ff00 694px,#00ea00 756px,#00e200 925px)"></i>
<i style="top:332px;height:4px;background:linear-gradient(90deg,#00dc00 0px,#00e400 28px,#00df00 154px,#00ec00 256px,#00ff00 308px,#0fff00 310px,#0fff00 314px,#1dff00 316px,#1dff00 322px,#0fff00 324px,#808080 326px,#808080 600px,#00fc00 602px,#00ff00 606px,#0fff00 620px,#1dff00 622px,#1dff00 626px,#2cff00 628px,#2cff00 634px,#3bff00 636px,#3bff00 644px,#49ff00 646px,#3bff00 648px,#2cff00 666px,#1dff00 668px,#1dff00 674px,#0fff00 676px,#0fff00 684px,#00ff00 686px,#00ea00 752px,#00e200 925px)"></i>
<i style="top:336px;height:4px;background:linear-gradient(90deg,#00dc00 0px,#00e700 24px,#00df00 146px,#00ea00 244px,#00ff00 312px,#0fff00 314px,#0fff00 320px,#808080 322px,#808080 604px,#00fc00 606px,#00ff00 612px,#0fff00 626px,#1dff00 628px,#1dff00 632px,#2cff00 634px,#2cff00 640px,#3bff00 642px,#3bff00 648px,#2cff00 650px,#2cff00 658px,#1dff00 660px,#1dff00 666px,#0fff00 668px,#0fff00 676px,#00ff00 678px,#00ea00 748px,#00e200 925px)"></i>
<i style="top:340px;height:4px;background:linear-gradient(90deg,#00df00 0px,#00ec00 28px,#00e200 104px,#00ea00 248px,#00ff00 318px,#808080 320px,#808080 606px,#00fa00 608px,#00ff00 618px,#0fff00 632px,#1dff00 634px,#1dff00 638px,#2cff00 640px,#2cff00 650px,#1dff00 652px,#1dff00 658px,#0fff00 660px,#0fff00 668px,#00ff00 670px,#00ea00 744px,#00e400 925px)"></i>
<i style="top:344px;height:4px;background:linear-gradient(90deg,#00e200 0px,#00f200 30px,#00e200 160px,#00ec00 272px,#00fc00 314px,#808080 316px,#808080 610px,#00fa00 612px,#00ff00 624px,#00ff00 630px,#0fff00 632px,#0fff00 638px,#1dff00 640px,#1dff00 652px,#0fff00 654px,#0fff00 660px,#00ff00 662px,#00ea00 740px,#00e400 925px)"></i>
<i style="top:348px;height:4px;background:linear-gradient(90deg,#00e200 0px,#00f700 32px,#00e400 176px,#00ea00 260px,#00fa00 312px,#808080 314px,#808080 612px,#00fa00 614px,#00ff00 630px,#00ff00 636px,#0fff00 638px,#0fff00 652px,#00ff00 654px,#00ea00 736px,#00e400 925px)"></i>
<i style="top:352px;height:4px;background:linear-gradient(90deg,#00e400 0px,#00fa00 26px,#00e700 150px,#00ea00 264px,#00f700 308px,#808080 310px,#808080 616px,#00f700 618px,#00ff00 636px,#00ff00 642px,#0fff00 644px,#00ff00 646px,#00ea00 732px,#00e400 925px)"></i>
<i style="top:356px;height:4px;background:linear-gradient(90deg,#00e700 0px,#00ff00 26px,#00ff00 32px,#0fff00 34px,#0fff00 36px,#00ff00 38px,#00e700 164px,#00ea00 268px,#00f400 306px,#808080 308px,#808080 618px,#00f700 620px,#00ff00 642px,#00ea00 728px,#00e400 925px)"></i>
<i style="top:360px;height:4px;background:linear-gradient(90deg,#00ea00 0px,#00ff00 24px,#1dff00 28px,#1dff00 30px,#2cff00 32px,#2cff00 36px,#1dff00 38px,#1dff00 48px,#0fff00 50px,#0fff00 60px,#00ff00 62px,#00ea00 164px,#00f200 304px,#808080 306px,#808080 620px,#00f400 622px,#00fc00 640px,#00ea00 724px,#00e400 925px)"></i>
<i style="top:364px;height:4px;background:linear-gradient(90deg,#00ec00 0px,#00ff00 20px,#1dff00 24px,#1dff00 26px,#3bff00 30px,#3bff00 32px,#49ff00 34px,#49ff00 38px,#3bff00 40px,#3bff00 50px,#2cff00 52px,#2cff00 62px,#1dff00 64px,#1dff00 74px,#0fff00 76px,#0fff00 92px,#00ff00 94px,#00ea00 180px,#00ef00 300px,#808080 302px,#808080 624px,#00f400 626px,#00fa00 638px,#00ea00 720px,#00e400 925px)"></i>
<i style="top:368px;height:4px;background:linear-gradient(90deg,#00ef00 0px,#00ff00 18px,#3bff00 26px,#3bff00 28px,#58ff00 32px,#58ff00 34px,#67ff00 36px,#67ff00 38px,#58ff00 40px,#58ff00 50px,#49ff00 52px,#49ff00 62px,#3bff00 64px,#3bff00 76px,#2cff00 78px,#2cff00 94px,#1dff00 96px,#1dff00 114px,#0fff00 116px,#0fff00 128px,#00ff00 130px,#00ea00 196px,#00ef00 298px,#808080 300px,#808080 626px,#00f400 628px,#00e400 925px)"></i>
<i style="top:372px;height:4px;background:linear-gradient(90deg,#00ef00 0px,#00ff00 14px,#1dff00 18px,#1dff00 20px,#58ff00 28px,#58ff00 30px,#75ff00 34px,#75ff00 36px,#84ff00 38px,#84ff00 40px,#75ff00 42px,#75ff00 52px,#67ff00 54px,#67ff00 64px,#58ff00 66px,#58ff00 78px,#49ff00 80px,#49ff00 96px,#3bff00 98px,#3bff00 114px,#2cff00 116px,#2cff00 128px,#1dff00 130px,#1dff00 132px,#0fff00 134px,#0fff00 138px,#00ff00 140px,#00ea00 210px,#00ec00 296px,#808080 298px,#808080 628px,#00f200 630px,#00e400 925px)"></i>
<i style="top:376px;height:4px;background:linear-gradient(90deg,#00f400 0px,#00ff00 12px,#3bff00 20px,#3bff00 22px,#75ff00 30px,#75ff00 32px,#93ff00 36px,#93ff00 52px,#84ff00 54px,#84ff00 66px,#75ff00 68px,#75ff00 80px,#67ff00 82px,#67ff00 98px,#58ff00 100px,#58ff00 114px,#49ff00 116px,#49ff00 126px,#3bff00 128px,#3bff00 132px,#1dff00 138px,#0fff00 148px,#00ff00 150px,#00ea00 220px,#00ec00 294px,#808080 296px,#808080 630px,#00f200 632px,#00e400 925px)"></i>
<i style="top:380px;height:4px;background:linear-gradient(90deg,#00f700 0px,#00ff00 8px,#0fff00 10px,#0fff00 12px,#58ff00 22px,#58ff00 24px,#93ff00 32px,#93ff00 34px,#b0ff00 38px,#b0ff00 52px,#a1ff00 54px,#93ff00 80px,#84ff00 82px,#84ff00 98px,#75ff00 100px,#75ff00 116px,#67ff00 118px,#67ff00 126px,#49ff00 132px,#49ff00 136px,#2cff00 142px,#1dff00 152px,#00ff00 158px,#00ea00 228px,#00ec00 292px,#808080 294px,#808080 632px,#00ef00 634px,#00e400 925px)"></i>
<i style="top:384px;height:4px;background:linear-gradient(90deg,#00fa00 0px,#00ff00 6px,#75ff00 24px,#75ff00 26px,#a1ff00 32px,#a1ff00 34px,#c0fd00 40px,#bcff00 64px,#b0ff00 66px,#b0ff00 80px,#a1ff00 82px,#a1ff00 98px,#93ff00 100px,#93ff00 114px,#84ff00 116px,#84ff00 124px,#75ff00 126px,#75ff00 130px,#58ff00 136px,#58ff00 140px,#3bff00 146px,#3bff00 150px,#1dff00 156px,#0fff00 166px,#00ff00 168px,#00ea00 234px,#00ea00 290px,#808080 292px,#808080 634px,#00ef00 636px,#00e400 925px)"></i>
<i style="top:388px;height:4px;background:linear-gradient(90deg,#00fc00 0px,#00ff00 4px,#58ff00 16px,#58ff00 18px,#b0ff00 32px,#c8fb00 44px,#bcff00 96px,#b0ff00 98px,#b0ff00 114px,#a1ff00 116px,#a1ff00 124px,#84ff00 130px,#84ff00 134px,#67ff00 140px,#67ff00 144px,#49ff00 150px,#49ff00 154px,#2cff00 160px,#1dff00 170px,#00ff00 176px,#00ea00 238px,#00ea00 288px,#808080 290px,#808080 636px,#00ec00 638px,#00e400 925px)"></i>
<i style="top:392px;height:4px;background:linear-gradient(90deg,#00ff00 0px,#1dff00 4px,#1dff00 6px,#75ff00 18px,#75ff00 20px,#a1ff00 26px,#a1ff00 28px,#bcff00 32px,#ccf900 44px,#bcff00 122px,#a1ff00 128px,#93ff00 138px,#75ff00 144px,#75ff00 148px,#58ff00 154px,#58ff00 158px,#3bff00 164px,#3bff00 168px,#1dff00 174px,#0fff00 184px,#00ff00 186px,#00ea00 244px,#00ea00 286px,#808080 288px,#808080 638px,#00ec00 640px,#00e400 925px)"></i>
<i style="top:396px;height:4px;background:linear-gradient(90deg,#0fff00 0px,#3bff00 6px,#3bff00 8px,#84ff00 18px,#84ff00 20px,#b0ff00 26px,#bcff00 30px,#d0f800 44px,#d0f800 66px,#bcff00 130px,#b0ff00 132px,#b0ff00 136px,#93ff00 142px,#93ff00 146px,#75ff00 152px,#75ff00 156px,#58ff00 162px,#58ff00 166px,#3bff00 172px,#3bff00 176px,#1dff00 182px,#0fff00 192px,#00ff00 194px,#00ec00 236px,#00ea00 286px,#808080 288px,#808080 638px,#00ec00 640px,#00e700 925px)"></i>
<i style="top:400px;height:4px;background:linear-gradient(90deg,#1dff00 0px,#49ff00 6px,#49ff00 8px,#93ff00 18px,#93ff00 20px,#bcff00 26px,#d8f500 52px,#ccf900 116px,#bcff00 138px,#b0ff00 140px,#b0ff00 144px,#93ff00 150px,#93ff00 154px,#75ff00 160px,#75ff00 164px,#58ff00 170px,#58ff00 174px,#3bff00 180px,#3bff00 184px,#2cff00 186px,#2cff00 190px,#1dff00 192px,#1dff00 194px,#0fff00 196px,#0fff00 200px,#00ff00 202px,#00ec00 240px,#00ea00 284px,#808080 286px,#808080 640px,#00ec00 642px,#00e700 925px)"></i>
<i style="top:404px;height:4px;background:linear-gradient(90deg,#2cff00 0px,#67ff00 8px,#67ff00 10px,#a1ff00 18px,#a1ff00 20px,#bcff00 24px,#dcf400 54px,#d0f800 118px,#bcff00 146px,#b0ff00 148px,#b0ff00 152px,#a1ff00 154px,#a1ff00 158px,#84ff00 164px,#84ff00 168px,#75ff00 170px,#67ff00 176px,#58ff00 178px,#58ff00 182px,#3bff00 188px,#3bff00 192px,#2cff00 194px,#2cff00 198px,#1dff00 200px,#1dff00 202px,#0fff00 204px,#0fff00 208px,#00ff00 210px,#00ec00 246px,#00ea00 282px,#808080 284px,#808080 642px,#00ea00 644px,#00e700 925px)"></i>
<i style="top:408px;height:4px;background:linear-gradient(90deg,#2cff00 0px,#b0ff00 18px,#bcff00 22px,#dcf400 48px,#dcf400 82px,#d4f700 120px,#bcff00 154px,#b0ff00 156px,#b0ff00 160px,#a1ff00 162px,#a1ff00 166px,#84ff00 172px,#84ff00 176px,#75ff00 178px,#67ff00 184px,#58ff00 186px,#58ff00 190px,#3bff00 196px,#2cff00 206px,#00ff00 216px,#00ec00 250px,#00ea00 282px,#808080 284px,#808080 642px,#00ec00 644px,#00e700 925px)"></i>
<i style="top:412px;height:4px;background:linear-gradient(90deg,#2cff00 0px,#bcff00 20px,#e0f300 50px,#e0f300 78px,#d8f500 120px,#bcff00 164px,#a1ff00 170px,#a1ff00 174px,#84ff00 180px,#84ff00 184px,#67ff00 190px,#67ff00 194px,#49ff00 200px,#49ff00 204px,#2cff00 208px,#0fff00 218px,#00ff00 220px,#00ea00 280px,#808080 282px,#808080 644px,#00ec00 646px,#00e700 925px)"></i>
<i style="top:416px;height:4px;background:linear-gradient(90deg,#2cff00 0px,#bcff00 20px,#e0f300 48px,#e4f100 62px,#dcf400 120px,#bcff00 172px,#a1ff00 178px,#a1ff00 182px,#84ff00 188px,#84ff00 192px,#3bff00 210px,#2cff00 216px,#0fff00 220px,#0fff00 222px,#00ff00 224px,#00ea00 280px,#808080 282px,#808080 644px,#00ec00 646px,#00e700 925px)"></i>
<i style="top:420px;height:4px;background:linear-gradient(90deg,#2cff00 0px,#bcff00 20px,#e4f100 52px,#e4f100 82px,#dcf400 128px,#bcff00 180px,#58ff00 210px,#3bff00 214px,#0fff00 228px,#00ff00 230px,#00ec00 278px,#808080 280px,#808080 646px,#00ec00 648px,#00e700 925px)"></i>
<i style="top:424px;height:4px;background:linear-gradient(90deg,#2cff00 0px,#bcff00 20px,#e0f300 44px,#e8f000 66px,#e0f300 128px,#bcff00 188px,#a1ff00 194px,#a1ff00 198px,#84ff00 202px,#75ff00 208px,#58ff00 212px,#3bff00 222px,#1dff00 226px,#0fff00 232px,#00ff00 234px,#00ec00 278px,#808080 280px,#808080 646px,#00ec00 648px,#00ea00 925px)"></i>
<i style="top:428px;height:4px;background:linear-gradient(90deg,#2cff00 0px,#bcff00 20px,#e8f000 50px,#e8f000 76px,#e0f300 140px,#bcff00 194px,#93ff00 206px,#75ff00 210px,#67ff00 216px,#49ff00 220px,#1dff00 234px,#00ff00 238px,#00ec00 276px,#808080 278px,#808080 648px,#00ec00 650px,#00ea00 925px)"></i>
<i style="top:432px;height:4px;background:linear-gradient(90deg,#2cff00 0px,#bcff00 20px,#ecef00 52px,#ecef00 70px,#e4f100 142px,#bcff00 200px,#b0ff00 204px,#93ff00 208px,#84ff00 214px,#67ff00 218px,#49ff00 228px,#2cff00 232px,#0fff00 242px,#00ff00 244px,#00ef00 276px,#808080 278px,#808080 648px,#00ec00 650px,#00ea00 925px)"></i>
<i style="top:436px;height:4px;background:linear-gradient(90deg,#2cff00 0px,#bcff00 20px,#ecef00 48px,#efed00 68px,#e8f000 144px,#bcff00 204px,#a1ff00 212px,#84ff00 216px,#67ff00 226px,#49ff00 230px,#3bff00 236px,#1dff00 240px,#0fff00 246px,#00ff00 248px,#00ef00 276px,#808080 278px,#808080 648px,#00ef00 650px,#00ea00 925px)"></i>
<i style="top:440px;height:4px;background:linear-gradient(90deg,#2cff00 0px,#bcff00 20px,#ecef00 46px,#f0ea00 68px,#ecef00 146px,#c0fd00 206px,#93ff00 220px,#75ff00 224px,#58ff00 234px,#3bff00 238px,#0fff00 252px,#00ff00 254px,#00f200 276px,#808080 278px,#808080 648px,#00ef00 650px,#00ec00 925px)"></i>
<i style="top:444px;height:4px;background:linear-gradient(90deg,#2cff00 0px,#bcff00 20px,#e8f000 42px,#f1e700 54px,#efed00 146px,#bcff00 214px,#b0ff00 218px,#93ff00 222px,#75ff00 232px,#58ff00 236px,#49ff00 242px,#2cff00 246px,#0fff00 256px,#00ff00 258px,#00f400 274px,#808080 276px,#808080 650px,#00ef00 652px,#00ec00 925px)"></i>
<i style="top:448px;height:4px;background:linear-gradient(90deg,#2cff00 0px,#bcff00 20px,#ecef00 44px,#f4e200 58px,#f0ea00 144px,#d8f500 190px,#bcff00 218px,#a1ff00 226px,#84ff00 230px,#67ff00 240px,#49ff00 244px,#2cff00 254px,#0fff00 258px,#0fff00 260px,#00ff00 262px,#00f700 274px,#808080 276px,#808080 650px,#00ef00 652px,#00ec00 925px)"></i>
<i style="top:452px;height:4px;background:linear-gradient(90deg,#2cff00 0px,#bcff00 20px,#ecef00 44px,#f4e200 56px,#f1e700 144px,#d8f500 194px,#bcff00 224px,#a1ff00 228px,#84ff00 238px,#67ff00 242px,#58ff00 248px,#3bff00 252px,#1dff00 262px,#00ff00 266px,#00fa00 274px,#808080 276px,#808080 650px,#00f200 652px,#00ef00 925px)"></i>
<i style="top:456px;height:4px;background:linear-gradient(90deg,#2cff00 0px,#bcff00 20px,#ecef00 44px,#f4e200 56px,#f4e200 136px,#e0f300 186px,#bcff00 228px,#b0ff00 232px,#93ff00 236px,#75ff00 246px,#58ff00 250px,#49ff00 256px,#2cff00 260px,#2cff00 262px,#0fff00 266px,#0fff00 268px,#00ff00 270px,#00fa00 274px,#808080 276px,#808080 650px,#00f200 652px,#00ef00 925px)"></i>
<i style="top:460px;height:4px;background:linear-gradient(90deg,#2cff00 0px,#bcff00 20px,#ecef00 44px,#f5df00 60px,#f5df00 136px,#ecef00 156px,#dcf400 198px,#bcff00 232px,#93ff00 244px,#75ff00 248px,#67ff00 254px,#3bff00 260px,#3bff00 262px,#00ff00 270px,#00fc00 274px,#808080 276px,#808080 650px,#00f200 652px,#00ef00 925px)"></i>
<i style="top:464px;height:4px;background:linear-gradient(90deg,#2cff00 0px,#bcff00 20px,#ecef00 44px,#f7dd00 62px,#f7dd00 134px,#ecef00 156px,#e0f300 196px,#c0fd00 234px,#b0ff00 240px,#93ff00 244px,#93ff00 246px,#3bff00 260px,#3bff00 262px,#00ff00 270px,#00fc00 274px,#808080 276px,#808080 650px,#00f400 652px,#00f200 925px)"></i>
<i style="top:468px;height:4px;background:linear-gradient(90deg,#2cff00 0px,#bcff00 20px,#ecef00 44px,#f8da00 66px,#f8da00 130px,#ecef00 156px,#e0f300 200px,#c0fd00 232px,#b0ff00 238px,#58ff00 252px,#58ff00 254px,#3bff00 258px,#3bff00 260px,#0fff00 266px,#0fff00 268px,#00ff00 270px,#00fa00 274px,#808080 276px,#808080 650px,#00f400 652px,#00f200 925px)"></i>
<i style="top:472px;height:4px;background:linear-gradient(90deg,#2cff00 0px,#bcff00 20px,#ecef00 44px,#f9d700 70px,#f9d700 128px,#ecef00 156px,#e0f300 198px,#bcff00 232px,#a1ff00 236px,#a1ff00 238px,#75ff00 244px,#75ff00 246px,#49ff00 252px,#49ff00 254px,#2cff00 258px,#2cff00 260px,#00ff00 266px,#00fa00 274px,#808080 276px,#808080 650px,#00f400 652px,#00f200 925px)"></i>
<i style="top:476px;height:4px;background:linear-gradient(90deg,#2cff00 0px,#bcff00 20px,#ecef00 44px,#fbd500 74px,#fbd500 124px,#ecef00 156px,#e0f300 196px,#c0fd00 226px,#b0ff00 232px,#93ff00 236px,#93ff00 238px,#67ff00 244px,#67ff00 246px,#3bff00 252px,#3bff00 254px,#00ff00 264px,#00f700 274px,#808080 276px,#808080 650px,#00f400 652px,#00f200 925px)"></i>
<i style="top:480px;height:4px;background:linear-gradient(90deg,#2cff00 0px,#bcff00 20px,#ecef00 44px,#f8da00 66px,#fcd200 108px,#ecef00 156px,#e0f300 192px,#c0fd00 224px,#a1ff00 230px,#a1ff00 232px,#75ff00 238px,#75ff00 240px,#58ff00 244px,#58ff00 246px,#2cff00 252px,#2cff00 254px,#0fff00 258px,#0fff00 260px,#00ff00 262px,#00f400 276px,#808080 278px,#808080 648px,#00f400 650px,#00f200 925px)"></i>
<i style="top:484px;height:4px;background:linear-gradient(90deg,#2cff00 0px,#bcff00 20px,#ecef00 44px,#f7dd00 64px,#fbd500 108px,#f9d700 126px,#ecef00 156px,#e0f300 190px,#bcff00 224px,#93ff00 230px,#93ff00 232px,#67ff00 238px,#67ff00 240px,#49ff00 244px,#49ff00 246px,#1dff00 252px,#1dff00 254px,#00ff00 258px,#00f200 276px,#808080 278px,#808080 648px,#00f400 650px,#00f200 925px)"></i>
<i style="top:488px;height:4px;background:linear-gradient(90deg,#2cff00 0px,#bcff00 20px,#ecef00 44px,#f5df00 64px,#f9d700 106px,#ecef00 156px,#e0f300 190px,#c0fd00 218px,#b0ff00 224px,#58ff00 238px,#58ff00 240px,#2cff00 246px,#2cff00 248px,#0fff00 252px,#0fff00 254px,#00ff00 256px,#00f200 276px,#808080 278px,#808080 648px,#00f400 650px,#00f200 925px)"></i>
<i style="top:492px;height:4px;background:linear-gradient(90deg,#2cff00 0px,#bcff00 20px,#e8f000 42px,#f8da00 102px,#e0f300 188px,#bcff00 218px,#a1ff00 222px,#a1ff00 224px,#75ff00 230px,#75ff00 232px,#49ff00 238px,#49ff00 240px,#1dff00 246px,#1dff00 248px,#00ff00 252px,#00ef00 276px,#808080 278px,#808080 648px,#00f400 650px,#00f200 925px)"></i>
<i style="top:496px;height:4px;background:linear-gradient(90deg,#1dff00 0px,#3bff00 4px,#58ff00 6px,#93ff00 14px,#93ff00 16px,#bcff00 22px,#ecef00 48px,#f7dd00 100px,#e4f100 178px,#c0fd00 214px,#bcff00 216px,#93ff00 222px,#93ff00 224px,#67ff00 230px,#67ff00 232px,#3bff00 238px,#3bff00 240px,#1dff00 244px,#1dff00 246px,#00ff00 250px,#00ec00 278px,#808080 280px,#808080 646px,#00f400 648px,#00f200 925px)"></i>
<i style="top:500px;height:4px;background:linear-gradient(90deg,#1dff00 0px,#a1ff00 18px,#a1ff00 20px,#bcff00 24px,#dcf400 40px,#ecef00 56px,#f4e200 112px,#e0f300 186px,#c4fc00 210px,#bcff00 214px,#93ff00 220px,#93ff00 222px,#58ff00 230px,#58ff00 232px,#2cff00 238px,#2cff00 240px,#0fff00 244px,#0fff00 246px,#00ff00 248px,#00ec00 278px,#808080 280px,#808080 646px,#00f400 648px,#00fa00 888px,#00f200 925px)"></i>
<i style="top:504px;height:4px;background:linear-gradient(90deg,#0fff00 0px,#93ff00 18px,#93ff00 20px,#bcff00 26px,#e0f300 52px,#f3e500 106px,#e4f100 176px,#c8fb00 206px,#b0ff00 216px,#67ff00 226px,#67ff00 228px,#1dff00 238px,#1dff00 240px,#00ff00 244px,#00ec00 280px,#808080 282px,#808080 644px,#00f400 646px,#00fa00 890px,#00f200 925px)"></i>
<i style="top:508px;height:4px;background:linear-gradient(90deg,#00ff00 0px,#75ff00 16px,#75ff00 18px,#bcff00 28px,#d4f700 48px,#f0ea00 96px,#efed00 144px,#e0f300 182px,#c0fd00 210px,#b0ff00 214px,#75ff00 222px,#75ff00 224px,#2cff00 234px,#2cff00 236px,#00ff00 242px,#00ec00 280px,#808080 282px,#808080 644px,#00f400 646px,#00fa00 890px,#00f200 925px)"></i>
<i style="top:512px;height:4px;background:linear-gradient(90deg,#00fc00 0px,#00ff00 4px,#b0ff00 28px,#bcff00 32px,#ecef00 94px,#e0f300 180px,#c4fc00 206px,#bcff00 210px,#93ff00 216px,#93ff00 218px,#00ff00 240px,#00ea00 282px,#808080 284px,#808080 642px,#00f400 644px,#00fa00 890px,#00f200 925px)"></i>
<i style="top:516px;height:4px;background:linear-gradient(90deg,#00f700 0px,#00ff00 6px,#93ff00 26px,#93ff00 28px,#a1ff00 30px,#a1ff00 34px,#b0ff00 36px,#b0ff00 40px,#bcff00 42px,#e8f000 110px,#e0f300 172px,#c8fb00 202px,#b0ff00 212px,#58ff00 224px,#58ff00 226px,#0fff00 236px,#0fff00 238px,#00ff00 240px,#00ea00 282px,#808080 284px,#808080 642px,#00f400 644px,#00fa00 890px,#00f200 925px)"></i>
<i style="top:520px;height:4px;background:linear-gradient(90deg,#00f400 0px,#00ff00 8px,#67ff00 22px,#75ff00 28px,#84ff00 30px,#93ff00 44px,#a1ff00 46px,#a1ff00 50px,#b0ff00 52px,#b0ff00 56px,#bcff00 58px,#dcf400 98px,#e4f100 130px,#d4f700 190px,#bcff00 208px,#75ff00 218px,#75ff00 220px,#2cff00 230px,#2cff00 232px,#00ff00 238px,#00ec00 262px,#00ea00 284px,#808080 286px,#808080 640px,#00f400 642px,#00fa00 890px,#00f200 925px)"></i>
<i style="top:524px;height:4px;background:linear-gradient(90deg,#00f200 0px,#00ff00 12px,#49ff00 22px,#49ff00 24px,#58ff00 26px,#67ff00 40px,#75ff00 42px,#75ff00 46px,#84ff00 48px,#84ff00 54px,#93ff00 56px,#93ff00 60px,#a1ff00 62px,#a1ff00 66px,#b0ff00 68px,#b0ff00 72px,#bcff00 74px,#dcf400 122px,#dcf400 166px,#c4fc00 202px,#bcff00 206px,#93ff00 212px,#93ff00 214px,#3bff00 226px,#3bff00 228px,#00ff00 236px,#00ec00 260px,#00ea00 286px,#808080 288px,#808080 638px,#00f200 640px,#00fa00 682px,#00f200 925px)"></i>
<i style="top:528px;height:4px;background:linear-gradient(90deg,#00ec00 0px,#00ff00 14px,#1dff00 18px,#1dff00 20px,#2cff00 22px,#2cff00 28px,#3bff00 30px,#3bff00 34px,#49ff00 36px,#49ff00 42px,#58ff00 44px,#67ff00 58px,#75ff00 60px,#75ff00 64px,#84ff00 66px,#93ff00 76px,#a1ff00 78px,#c0fd00 88px,#d8f500 128px,#d4f700 174px,#c0fd00 202px,#b0ff00 208px,#58ff00 220px,#58ff00 222px,#0fff00 232px,#0fff00 234px,#00ff00 236px,#00ec00 260px,#00ea00 286px,#808080 288px,#808080 638px,#00f200 640px,#00fa00 682px,#00f200 925px)"></i>
<i style="top:532px;height:4px;background:linear-gradient(90deg,#00ea00 0px,#00ff00 24px,#0fff00 26px,#0fff00 32px,#1dff00 34px,#1dff00 38px,#2cff00 40px,#2cff00 46px,#3bff00 48px,#3bff00 54px,#49ff00 56px,#49ff00 60px,#58ff00 62px,#58ff00 68px,#67ff00 70px,#67ff00 74px,#84ff00 80px,#93ff00 86px,#b0ff00 90px,#bcff00 94px,#d0f800 124px,#d0f800 172px,#bcff00 200px,#a1ff00 208px,#75ff00 214px,#75ff00 216px,#2cff00 226px,#2cff00 228px,#00ff00 234px,#00ec00 258px,#00ea00 288px,#808080 290px,#808080 636px,#00f200 638px,#00fa00 690px,#00f200 925px)"></i>
<i style="top:536px;height:4px;background:linear-gradient(90deg,#00e400 0px,#00f700 18px,#00ff00 44px,#0fff00 46px,#0fff00 50px,#1dff00 52px,#1dff00 58px,#2cff00 60px,#2cff00 64px,#3bff00 66px,#3bff00 72px,#49ff00 74px,#58ff00 80px,#75ff00 84px,#a1ff00 98px,#b0ff00 100px,#ccf900 128px,#ccf900 170px,#bcff00 192px,#b0ff00 194px,#b0ff00 198px,#a1ff00 200px,#75ff00 214px,#00ff00 232px,#00ec00 256px,#00ea00 290px,#808080 292px,#808080 634px,#00f200 636px,#00fa00 890px,#00ef00 925px)"></i>
<i style="top:540px;height:4px;background:linear-gradient(90deg,#00e200 0px,#00ff00 62px,#0fff00 64px,#0fff00 70px,#1dff00 72px,#1dff00 74px,#3bff00 78px,#49ff00 84px,#67ff00 88px,#67ff00 90px,#a1ff00 104px,#a1ff00 108px,#bcff00 114px,#c4fc00 124px,#bcff00 184px,#b0ff00 186px,#b0ff00 190px,#93ff00 196px,#93ff00 200px,#67ff00 210px,#67ff00 214px,#49ff00 218px,#49ff00 220px,#0fff00 228px,#0fff00 230px,#00ff00 232px,#00ec00 256px,#00ea00 292px,#808080 294px,#808080 632px,#00f200 634px,#00fa00 890px,#00ef00 925px)"></i>
<i style="top:544px;height:4px;background:linear-gradient(90deg,#00dc00 0px,#00ff00 74px,#0fff00 76px,#0fff00 78px,#2cff00 82px,#49ff00 92px,#67ff00 96px,#75ff00 102px,#93ff00 108px,#93ff00 112px,#bcff00 122px,#c0fd00 130px,#bcff00 178px,#93ff00 188px,#93ff00 192px,#75ff00 198px,#75ff00 202px,#49ff00 212px,#49ff00 216px,#3bff00 218px,#3bff00 220px,#1dff00 224px,#1dff00 226px,#00ff00 230px,#00ec00 254px,#00ea00 294px,#808080 296px,#808080 630px,#00f200 632px,#00fa00 890px,#00ef00 925px)"></i>
<i style="top:548px;height:4px;background:linear-gradient(90deg,#00da00 0px,#00ff00 82px,#1dff00 86px,#3bff00 96px,#58ff00 100px,#75ff00 110px,#93ff00 116px,#a1ff00 126px,#b0ff00 128px,#b0ff00 174px,#a1ff00 176px,#a1ff00 180px,#75ff00 190px,#75ff00 194px,#49ff00 204px,#49ff00 208px,#2cff00 214px,#2cff00 218px,#00ff00 228px,#00ec00 252px,#00ea00 296px,#808080 298px,#808080 628px,#00f200 630px,#00fa00 890px,#00ef00 925px)"></i>
<i style="top:552px;height:4px;background:linear-gradient(90deg,#00d700 0px,#00ea00 62px,#00ff00 88px,#0fff00 90px,#2cff00 100px,#49ff00 104px,#75ff00 118px,#84ff00 120px,#84ff00 124px,#93ff00 126px,#93ff00 176px,#84ff00 178px,#84ff00 182px,#58ff00 192px,#58ff00 196px,#2cff00 206px,#2cff00 210px,#1dff00 212px,#1dff00 214px,#0fff00 216px,#0fff00 220px,#00ff00 222px,#00ea00 260px,#00ea00 298px,#808080 300px,#808080 626px,#00f200 628px,#00fa00 890px,#00ef00 925px)"></i>
<i style="top:556px;height:4px;background:linear-gradient(90deg,#00d400 0px,#00e200 60px,#00ff00 96px,#0fff00 98px,#1dff00 104px,#3bff00 108px,#3bff00 110px,#75ff00 124px,#75ff00 178px,#67ff00 180px,#67ff00 184px,#3bff00 194px,#3bff00 198px,#1dff00 204px,#1dff00 208px,#00ff00 214px,#00ea00 258px,#00e700 300px,#808080 302px,#808080 624px,#00f200 626px,#00fa00 888px,#00ef00 925px)"></i>
<i style="top:560px;height:4px;background:linear-gradient(90deg,#00d200 0px,#00da00 56px,#00ff00 104px,#1dff00 108px,#3bff00 118px,#49ff00 120px,#49ff00 124px,#58ff00 126px,#58ff00 144px,#67ff00 146px,#67ff00 174px,#58ff00 176px,#49ff00 186px,#1dff00 196px,#1dff00 200px,#00ff00 206px,#00ea00 256px,#00e700 304px,#808080 306px,#808080 620px,#00ef00 622px,#00fa00 684px,#00fa00 890px,#00ef00 925px)"></i>
<i style="top:564px;height:4px;background:linear-gradient(90deg,#00d200 0px,#00d400 56px,#00ff00 110px,#3bff00 124px,#3bff00 140px,#49ff00 142px,#49ff00 176px,#3bff00 178px,#2cff00 188px,#1dff00 190px,#1dff00 192px,#0fff00 194px,#0fff00 198px,#00ff00 200px,#00ea00 256px,#00e400 306px,#808080 308px,#808080 618px,#00ef00 620px,#00fa00 682px,#00fa00 890px,#00ef00 925px)"></i>
<i style="top:568px;height:4px;background:linear-gradient(90deg,#00cf00 0px,#00cf00 56px,#00ff00 118px,#1dff00 124px,#1dff00 138px,#2cff00 140px,#2cff00 180px,#1dff00 182px,#1dff00 184px,#0fff00 186px,#0fff00 190px,#00ff00 192px,#00e200 308px,#808080 310px,#808080 616px,#00ef00 618px,#00fa00 704px,#00fa00 890px,#00ef00 925px)"></i>
<i style="top:572px;height:4px;background:linear-gradient(90deg,#00cf00 0px,#00ca00 54px,#00ff00 124px,#00ff00 136px,#0fff00 138px,#0fff00 182px,#00ff00 184px,#00dc00 312px,#808080 314px,#808080 612px,#00ef00 614px,#00fa00 682px,#00fa00 890px,#00ef00 925px)"></i>
<i style="top:576px;height:4px;background:linear-gradient(90deg,#00cf00 0px,#00c400 46px,#00fa00 124px,#00ff00 154px,#00da00 314px,#808080 316px,#808080 610px,#00ef00 612px,#00fa00 694px,#00fa00 888px,#00ef00 925px)"></i>
<i style="top:580px;height:4px;background:linear-gradient(90deg,#00cf00 0px,#00c400 54px,#00f200 118px,#00fa00 146px,#00fa00 186px,#00d700 318px,#808080 320px,#808080 606px,#00ef00 608px,#00fa00 698px,#00fa00 888px,#00ef00 925px)"></i>
<i style="top:584px;height:4px;background:linear-gradient(90deg,#00cf00 0px,#00c200 48px,#00ef00 122px,#00f700 154px,#00ef00 242px,#00da00 280px,#00d400 320px,#808080 322px,#808080 604px,#00ec00 606px,#00fa00 706px,#00fa00 890px,#00ef00 925px)"></i>
<i style="top:588px;height:4px;background:linear-gradient(90deg,#00cf00 0px,#00c200 50px,#00ea00 120px,#00f400 160px,#00ef00 242px,#00d700 280px,#00cf00 324px,#808080 326px,#808080 600px,#00ec00 602px,#00fa00 718px,#00fa00 890px,#00ef00 925px)"></i>
<i style="top:592px;height:4px;background:linear-gradient(90deg,#00cf00 0px,#00c200 52px,#00ef00 146px,#00f200 226px,#00d400 282px,#00cc00 328px,#808080 330px,#808080 596px,#00ec00 598px,#00fa00 730px,#00fa00 888px,#00ef00 925px)"></i>
<i style="top:596px;height:4px;background:linear-gradient(90deg,#00cf00 0px,#00c200 54px,#00ec00 146px,#00f200 230px,#00cf00 290px,#00cc00 332px,#808080 334px,#808080 592px,#00ea00 594px,#00fa00 742px,#00fa00 888px,#00ef00 925px)"></i>
<i style="top:600px;height:4px;background:linear-gradient(90deg,#00cf00 0px,#00c200 56px,#00ec00 152px,#00f200 232px,#00cc00 290px,#00ca00 336px,#808080 338px,#808080 588px,#00e700 590px,#00fa00 756px,#00fa00 888px,#00ef00 925px)"></i>
<i style="top:604px;height:4px;background:linear-gradient(90deg,#00cf00 0px,#00c200 58px,#00ec00 154px,#00f400 216px,#00ef00 242px,#00ca00 294px,#00ca00 342px,#808080 344px,#808080 582px,#00e400 584px,#00fa00 768px,#00fa00 888px,#00ef00 925px)"></i>
<i style="top:608px;height:4px;background:linear-gradient(90deg,#00cf00 0px,#00c200 60px,#00ef00 164px,#00f400 218px,#00ec00 246px,#00c700 298px,#00ca00 346px,#808080 348px,#808080 578px,#00e200 580px,#00fa00 780px,#00fa00 888px,#00ef00 925px)"></i>
<i style="top:612px;height:4px;background:linear-gradient(90deg,#00cf00 0px,#00c200 62px,#00ef00 162px,#00f400 222px,#00c700 296px,#00c700 352px,#808080 354px,#808080 572px,#00e200 574px,#00fa00 792px,#00fa00 888px,#00ef00 925px)"></i>
<i style="top:616px;height:4px;background:linear-gradient(90deg,#00cf00 0px,#00c200 64px,#00ec00 154px,#00f700 206px,#00f200 236px,#00c400 300px,#00c700 358px,#808080 360px,#808080 566px,#00df00 568px,#00fa00 806px,#00fa00 888px,#00ef00 925px)"></i>
<i style="top:620px;height:4px;background:linear-gradient(90deg,#00cf00 0px,#00c200 66px,#00ef00 160px,#00f700 208px,#00f400 232px,#00c400 300px,#00c700 364px,#808080 366px,#808080 560px,#00dc00 562px,#00dc00 622px,#00f700 766px,#00fa00 888px,#00ef00 925px)"></i>
<i style="top:624px;height:4px;background:linear-gradient(90deg,#00cf00 0px,#00c200 68px,#00f400 174px,#00f700 230px,#00c700 294px,#00c700 370px,#808080 372px,#808080 554px,#00da00 556px,#00da00 628px,#00f700 778px,#00fa00 888px,#00ef00 925px)"></i>
<i style="top:628px;height:4px;background:linear-gradient(90deg,#00cf00 0px,#00c200 70px,#00f400 172px,#00fa00 228px,#00c700 298px,#00c700 378px,#808080 380px,#808080 546px,#00d200 548px,#00d400 618px,#00f700 790px,#00fa00 888px,#00ef00 925px)"></i>
<i style="top:632px;height:4px;background:linear-gradient(90deg,#00cf00 0px,#00c200 72px,#00f400 170px,#00fc00 228px,#00c700 302px,#00c700 386px,#808080 388px,#808080 538px,#00ca00 540px,#00f700 800px,#00fa00 888px,#00ef00 925px)"></i>
<i style="top:636px;height:4px;background:linear-gradient(90deg,#00cf00 0px,#00c200 74px,#00f700 176px,#00ff00 226px,#00c700 306px,#00c700 396px,#808080 398px,#808080 528px,#00c400 530px,#00f700 812px,#00fa00 888px,#00ec00 925px)"></i>
<i style="top:640px;height:4px;background:linear-gradient(90deg,#00cf00 0px,#00c200 76px,#00f700 176px,#00ff00 234px,#00da00 276px,#00c400 318px,#00c700 408px,#808080 410px,#808080 516px,#00c400 518px,#00b700 540px,#00cc00 586px,#00cc00 634px,#00f400 796px,#00f700 900px,#00ec00 925px)"></i>
<i style="top:644px;height:4px;background:linear-gradient(90deg,#00cf00 0px,#00c200 76px,#00f700 174px,#00ff00 224px,#0fff00 226px,#0fff00 234px,#00ff00 236px,#00ff00 238px,#00c700 314px,#00c700 406px,#00bc00 424px,#808080 426px,#808080 500px,#00c400 502px,#00b200 546px,#00ca00 588px,#00cc00 652px,#00f400 804px,#00f700 900px,#00ec00 925px)"></i>
<i style="top:648px;height:4px;background:linear-gradient(90deg,#00cc00 0px,#00c200 78px,#00fa00 180px,#00ff00 224px,#0fff00 226px,#0fff00 240px,#00ff00 242px,#00ff00 244px,#00dc00 280px,#00c700 320px,#00c400 412px,#00aa00 440px,#00af00 464px,#00c400 478px,#00c700 488px,#00aa00 544px,#00c700 590px,#00ca00 658px,#00f200 798px,#00f700 900px,#00ec00 925px)"></i>
<i style="top:652px;height:4px;background:linear-gradient(90deg,#00cc00 0px,#00c200 80px,#00fa00 180px,#00ff00 224px,#0fff00 226px,#0fff00 230px,#1dff00 232px,#1dff00 240px,#0fff00 242px,#0fff00 246px,#00ff00 248px,#00ff00 250px,#00df00 280px,#00ca00 318px,#00c400 408px,#00a400 444px,#00a700 458px,#00c400 486px,#00b200 504px,#00a200 542px,#00c400 590px,#00c700 662px,#00f200 806px,#00f700 900px,#00ec00 925px)"></i>
<i style="top:656px;height:4px;background:linear-gradient(90deg,#00cc00 0px,#00c200 82px,#00fa00 180px,#00ff00 224px,#1dff00 230px,#1dff00 234px,#2cff00 236px,#2cff00 238px,#1dff00 240px,#1dff00 246px,#0fff00 248px,#00ff00 254px,#00cf00 310px,#00c400 406px,#00a200 446px,#00c200 486px,#00aa00 504px,#009c00 542px,#00c200 590px,#00ca00 692px,#00f200 814px,#00f400 908px,#00ec00 925px)"></i>
<i style="top:660px;height:4px;background:linear-gradient(90deg,#00cc00 0px,#00c200 84px,#00fa00 180px,#00ff00 222px,#0fff00 224px,#1dff00 234px,#2cff00 236px,#2cff00 246px,#1dff00 248px,#1dff00 250px,#00ff00 254px,#00ff00 256px,#00d400 304px,#00c400 406px,#009f00 448px,#00bf00 486px,#00a200 508px,#009a00 534px,#009a08 536px,#009a00 548px,#00bf00 588px,#00c400 682px,#00f200 822px,#00f400 908px,#00ec00 925px)"></i>
<i style="top:664px;height:4px;background:linear-gradient(90deg,#00cc00 0px,#00c200 86px,#00f400 170px,#00ff00 222px,#0fff00 224px,#1dff00 234px,#2cff00 236px,#2cff00 248px,#1dff00 250px,#1dff00 252px,#00ff00 256px,#00ff00 258px,#00d400 310px,#00c400 408px,#009f00 448px,#00bf00 482px,#009a00 512px,#009a08 528px,#009b13 530px,#009b13 546px,#009a00 556px,#00bf00 592px,#00c200 686px,#00f200 832px,#00ec00 925px)"></i>
<i style="top:668px;height:4px;background:linear-gradient(90deg,#00cc00 0px,#00c200 88px,#00f700 176px,#00ff00 222px,#0fff00 224px,#1dff00 234px,#2cff00 236px,#2cff00 240px,#3bff00 242px,#00ff00 260px,#00da00 304px,#00c400 410px,#009f00 448px,#00ba00 472px,#00bc00 486px,#009a00 512px,#009d1d 524px,#009d1d 536px,#009e28 538px,#009d1d 546px,#009a00 554px,#00bc00 588px,#00bf00 686px,#00f200 840px,#00ec00 925px)"></i>
<i style="top:672px;height:4px;background:linear-gradient(90deg,#00cc00 0px,#00c200 90px,#00f400 172px,#00ff00 220px,#0fff00 222px,#0fff00 228px,#1dff00 230px,#1dff00 232px,#2cff00 234px,#2cff00 238px,#3bff00 240px,#2cff00 250px,#1dff00 252px,#00ff00 262px,#00dc00 306px,#00c400 412px,#00a200 448px,#00bc00 484px,#009a00 512px,#009e28 524px,#009e28 542px,#009a00 554px,#00bc00 590px,#00bf00 698px,#00f200 850px,#00ec00 925px)"></i>
<i style="top:676px;height:4px;background:linear-gradient(90deg,#00cc00 0px,#00c200 92px,#00f400 174px,#00ff00 220px,#0fff00 222px,#1dff00 232px,#2cff00 234px,#2cff00 238px,#3bff00 240px,#3bff00 246px,#2cff00 248px,#2cff00 252px,#1dff00 254px,#00ff00 264px,#00e200 300px,#00c700 410px,#00a400 450px,#00bc00 484px,#009a00 512px,#009e28 524px,#009e28 530px,#009f33 532px,#009e28 542px,#009a00 554px,#00bc00 592px,#00bf00 708px,#00f200 858px,#00ec00 925px)"></i>
<i style="top:680px;height:4px;background:linear-gradient(90deg,#00cc00 0px,#00c200 94px,#00f200 170px,#00ff00 220px,#0fff00 222px,#1dff00 232px,#2cff00 234px,#2cff00 238px,#3bff00 240px,#3bff00 248px,#2cff00 250px,#2cff00 254px,#1dff00 256px,#00ff00 266px,#00e400 302px,#00ca00 408px,#00af00 434px,#00a700 454px,#00bc00 484px,#009a00 512px,#009b13 516px,#009e28 526px,#009d1d 546px,#009a00 554px,#00bc00 594px,#00bc00 706px,#00ef00 850px,#00ec00 925px)"></i>
<i style="top:684px;height:4px;background:linear-gradient(90deg,#00cc00 0px,#00c200 96px,#00f200 172px,#00ff00 218px,#0fff00 220px,#0fff00 226px,#1dff00 228px,#2cff00 238px,#3bff00 240px,#3bff00 250px,#1dff00 256px,#1dff00 260px,#0fff00 262px,#00ff00 268px,#00ea00 296px,#00cc00 408px,#00b400 432px,#00aa00 458px,#00bc00 484px,#009a00 514px,#009d1d 526px,#009d1d 538px,#009a00 554px,#00ba00 584px,#00bc00 716px,#00ec00 846px,#00ec00 925px)"></i>
<i style="top:688px;height:4px;background:linear-gradient(90deg,#00cc00 0px,#00c200 96px,#00f400 180px,#00ff00 218px,#0fff00 220px,#0fff00 226px,#1dff00 228px,#2cff00 238px,#3bff00 240px,#3bff00 250px,#2cff00 252px,#2cff00 256px,#1dff00 258px,#1dff00 262px,#0fff00 264px,#00ff00 270px,#00ec00 296px,#00cf00 408px,#00af00 456px,#00bc00 484px,#009a00 520px,#009b13 526px,#009b13 536px,#009a00 544px,#009a00 550px,#00bc00 596px,#00bc00 726px,#00ec00 852px,#00ea00 925px)"></i>
<i style="top:692px;height:4px;background:linear-gradient(90deg,#00cc00 0px,#00c200 98px,#00ef00 172px,#00ff00 218px,#0fff00 220px,#0fff00 224px,#1dff00 226px,#1dff00 232px,#2cff00 234px,#2cff00 242px,#3bff00 244px,#3bff00 252px,#2cff00 254px,#2cff00 258px,#1dff00 260px,#0fff00 266px,#00ff00 268px,#00ff00 272px,#00ef00 294px,#00d200 408px,#00b200 460px,#00bc00 486px,#009c00 518px,#009a08 528px,#009a00 540px,#00bc00 590px,#00bc00 736px,#00ea00 848px,#00ea00 925px)"></i>
<i style="top:696px;height:4px;background:linear-gradient(90deg,#00cc00 0px,#00c200 100px,#00ff00 218px,#0fff00 220px,#0fff00 226px,#1dff00 228px,#1dff00 236px,#2cff00 238px,#2cff00 246px,#3bff00 248px,#3bff00 250px,#2cff00 252px,#2cff00 256px,#1dff00 258px,#1dff00 262px,#00ff00 268px,#00ff00 272px,#00d400 410px,#00b700 460px,#00bf00 482px,#009a00 528px,#00bc00 588px,#00bc00 746px,#00ea00 856px,#00e700 925px)"></i>
<i style="top:700px;height:4px;background:linear-gradient(90deg,#00cc00 0px,#00c200 102px,#00ff00 220px,#0fff00 222px,#1dff00 240px,#2cff00 242px,#2cff00 254px,#1dff00 256px,#1dff00 260px,#0fff00 262px,#0fff00 266px,#00ff00 268px,#00ff00 270px,#00d700 412px,#00ba00 464px,#00bf00 486px,#009f00 530px,#00bc00 584px,#00bc00 754px,#00ea00 862px,#00e700 925px)"></i>
<i style="top:704px;height:4px;background:linear-gradient(90deg,#00cc00 0px,#00c200 104px,#00ff00 224px,#0fff00 226px,#1dff00 244px,#2cff00 246px,#2cff00 254px,#0fff00 260px,#00ff00 270px,#00d700 420px,#00bf00 460px,#00c200 486px,#00a400 532px,#00bf00 584px,#00bf00 772px,#00e700 856px,#00e400 925px)"></i>
<i style="top:708px;height:4px;background:linear-gradient(90deg,#00cc00 0px,#00c200 106px,#00ff00 228px,#0fff00 230px,#0fff00 238px,#1dff00 240px,#1dff00 258px,#00ff00 264px,#00ff00 268px,#00da00 422px,#00aa00 530px,#00c200 586px,#00bf00 778px,#00e400 850px,#00e200 925px)"></i>
<i style="top:712px;height:4px;background:linear-gradient(90deg,#00cc00 0px,#00c200 108px,#00ff00 224px,#00ff00 232px,#0fff00 234px,#0fff00 242px,#1dff00 244px,#1dff00 256px,#0fff00 258px,#0fff00 262px,#00ff00 264px,#00dc00 422px,#00af00 524px,#00c700 616px,#00c200 790px,#00e400 854px,#00e200 925px)"></i>
<i style="top:716px;height:4px;background:linear-gradient(90deg,#00cc00 0px,#00c200 110px,#00ff00 226px,#00ff00 236px,#0fff00 238px,#0fff00 246px,#1dff00 248px,#1dff00 256px,#00ff00 262px,#00ec00 376px,#00b400 524px,#00cc00 644px,#00c200 788px,#00e400 856px,#00df00 925px)"></i>
<i style="top:720px;height:4px;background:linear-gradient(90deg,#00cc00 0px,#00c200 38px,#00c200 114px,#00ff00 230px,#00ff00 238px,#0fff00 240px,#0fff00 250px,#1dff00 252px,#0fff00 254px,#0fff00 260px,#00ff00 262px,#00ef00 376px,#00bc00 516px,#00cf00 642px,#00c400 790px,#00e400 860px,#00dc00 925px)"></i>
<i style="top:724px;height:4px;background:linear-gradient(90deg,#00cc00 0px,#00c200 38px,#00c200 116px,#00ff00 234px,#00ff00 242px,#0fff00 244px,#0fff00 258px,#00ff00 260px,#00f200 372px,#00c200 496px,#00d200 640px,#00c700 794px,#00e200 844px,#00dc00 925px)"></i>
<i style="top:728px;height:4px;background:linear-gradient(90deg,#00cc00 0px,#00c200 38px,#00c200 118px,#00ff00 236px,#00ff00 248px,#0fff00 250px,#0fff00 254px,#00ff00 256px,#00f200 376px,#00c400 492px,#00d400 640px,#00ca00 796px,#00e200 842px,#00da00 925px)"></i>
<i style="top:732px;height:4px;background:linear-gradient(90deg,#00cc00 0px,#00c200 36px,#00c200 122px,#00ff00 240px,#00f400 366px,#00e700 422px,#00c700 486px,#00d700 642px,#00cc00 798px,#00e200 840px,#00da00 925px)"></i>
<i style="top:736px;height:4px;background:linear-gradient(90deg,#00cc00 0px,#00c200 36px,#00c200 124px,#00ff00 242px,#00ff00 302px,#00ea00 416px,#00ca00 482px,#00d700 614px,#00cf00 800px,#00e200 838px,#00d700 925px)"></i>
<i style="top:740px;height:4px;background:linear-gradient(90deg,#00ca00 0px,#00c200 126px,#00f400 214px,#00ff00 250px,#00ff00 284px,#0fff00 286px,#0fff00 298px,#00ff00 300px,#00ea00 420px,#00ca00 486px,#00da00 622px,#00d200 800px,#00e200 836px,#00d700 925px)"></i>
<i style="top:744px;height:4px;background:linear-gradient(90deg,#00ca00 0px,#00c200 130px,#00fa00 228px,#00ff00 274px,#00ff00 282px,#0fff00 284px,#0fff00 290px,#1dff00 292px,#1dff00 296px,#0fff00 298px,#0fff00 310px,#00ff00 312px,#00ea00 422px,#00cc00 482px,#00dc00 636px,#00d400 802px,#00e200 834px,#00d400 925px)"></i>
<i style="top:748px;height:4px;background:linear-gradient(90deg,#00ca00 0px,#00c200 132px,#00fa00 232px,#00ff00 272px,#00ff00 280px,#0fff00 282px,#0fff00 288px,#1dff00 290px,#1dff00 306px,#0fff00 308px,#0fff00 320px,#00ff00 322px,#00ea00 422px,#00cf00 478px,#00dc00 612px,#00d700 806px,#00e200 832px,#00d400 925px)"></i>
<i style="top:752px;height:4px;background:linear-gradient(90deg,#00ca00 0px,#00c200 134px,#00f400 222px,#00ff00 270px,#00ff00 280px,#0fff00 282px,#1dff00 296px,#2cff00 298px,#2cff00 302px,#1dff00 304px,#1dff00 318px,#0fff00 320px,#0fff00 332px,#00ff00 334px,#00ea00 422px,#00d200 472px,#00df00 646px,#00da00 808px,#00e200 830px,#00d400 925px)"></i>
<i style="top:756px;height:4px;background:linear-gradient(90deg,#00ca00 0px,#00c200 138px,#00f200 220px,#00ff00 270px,#00ff00 278px,#0fff00 280px,#1dff00 294px,#2cff00 296px,#2cff00 314px,#1dff00 316px,#1dff00 328px,#0fff00 330px,#0fff00 336px,#00ff00 338px,#00d400 468px,#00e200 836px,#00d400 925px)"></i>
<i style="top:760px;height:4px;background:linear-gradient(90deg,#00ca00 0px,#00c200 140px,#00ec00 214px,#00ff00 278px,#0fff00 280px,#0fff00 286px,#1dff00 288px,#1dff00 294px,#2cff00 296px,#2cff00 302px,#3bff00 304px,#3bff00 308px,#2cff00 310px,#2cff00 324px,#1dff00 326px,#0fff00 336px,#00ff00 338px,#00d400 470px,#00e200 848px,#00d200 925px)"></i>
<i style="top:764px;height:4px;background:linear-gradient(90deg,#00ca00 0px,#00c200 142px,#00ec00 218px,#00ff00 278px,#0fff00 280px,#0fff00 286px,#1dff00 288px,#1dff00 292px,#2cff00 294px,#2cff00 300px,#3bff00 302px,#3bff00 318px,#2cff00 320px,#2cff00 326px,#1dff00 328px,#1dff00 330px,#0fff00 332px,#0fff00 336px,#00ff00 338px,#00d700 460px,#00e200 844px,#00d200 925px)"></i>
<i style="top:768px;height:4px;background:linear-gradient(90deg,#00c700 0px,#00c200 146px,#00f200 234px,#00ff00 278px,#0fff00 280px,#0fff00 286px,#1dff00 288px,#1dff00 292px,#2cff00 294px,#2cff00 300px,#3bff00 302px,#3bff00 320px,#2cff00 322px,#2cff00 326px,#1dff00 328px,#0fff00 334px,#00ff00 336px,#00d700 460px,#00e200 838px,#00d200 925px)"></i>
<i style="top:772px;height:4px;background:linear-gradient(90deg,#00c700 0px,#00c200 148px,#00ff00 280px,#0fff00 282px,#1dff00 292px,#2cff00 294px,#2cff00 300px,#3bff00 302px,#3bff00 320px,#2cff00 322px,#2cff00 326px,#1dff00 328px,#0fff00 334px,#00ff00 336px,#00d700 462px,#00e200 792px,#00d200 925px)"></i>
<i style="top:776px;height:4px;background:linear-gradient(90deg,#00c700 0px,#00c200 150px,#00ff00 280px,#0fff00 282px,#1dff00 292px,#2cff00 294px,#2cff00 300px,#3bff00 302px,#3bff00 320px,#2cff00 322px,#2cff00 326px,#1dff00 328px,#0fff00 334px,#00ff00 336px,#00da00 454px,#00e200 796px,#00d200 925px)"></i>
<i style="top:780px;height:4px;background:linear-gradient(90deg,#00c700 0px,#00c200 154px,#00ff00 282px,#1dff00 288px,#1dff00 292px,#2cff00 294px,#2cff00 312px,#3bff00 314px,#3bff00 320px,#1dff00 326px,#1dff00 330px,#00ff00 336px,#00ef00 364px,#00ea00 422px,#00da00 460px,#00e200 798px,#00cf00 925px)"></i>
<i style="top:784px;height:4px;background:linear-gradient(90deg,#00c700 0px,#00c200 156px,#00ff00 280px,#00ff00 282px,#0fff00 284px,#0fff00 288px,#1dff00 290px,#1dff00 300px,#2cff00 302px,#2cff00 324px,#1dff00 326px,#1dff00 330px,#00ff00 336px,#00ef00 362px,#00ea00 422px,#00dc00 452px,#00e200 796px,#00cf00 925px)"></i>
<i style="top:788px;height:4px;background:linear-gradient(90deg,#00c700 0px,#00c200 158px,#00ff00 282px,#00ff00 286px,#0fff00 288px,#0fff00 296px,#1dff00 298px,#1dff00 328px,#00ff00 334px,#00ef00 362px,#00dc00 460px,#00e200 788px,#00cf00 925px)"></i>
<i style="top:792px;height:4px;background:linear-gradient(90deg,#00c700 0px,#00c200 162px,#00ff00 288px,#00ff00 294px,#0fff00 296px,#0fff00 314px,#1dff00 316px,#1dff00 328px,#00ff00 334px,#00ef00 360px,#00df00 452px,#00df00 832px,#00cf00 925px)"></i>
<i style="top:796px;height:4px;background:linear-gradient(90deg,#00c700 0px,#00c200 164px,#00ff00 296px,#00ff00 310px,#0fff00 312px,#0fff00 332px,#00ff00 334px,#00ec00 370px,#00dc00 490px,#00df00 824px,#00cc00 925px)"></i>
<i style="top:800px;height:4px;background:linear-gradient(90deg,#00c700 0px,#00c200 168px,#00ff00 312px,#00ff00 334px,#00ec00 370px,#00dc00 494px,#00df00 818px,#00cc00 925px)"></i>
<i style="top:804px;height:4px;background:linear-gradient(90deg,#00c400 0px,#00c200 172px,#00fc00 314px,#00dc00 496px,#00df00 814px,#00cc00 925px)"></i>
<i style="top:808px;height:4px;background:linear-gradient(90deg,#00c400 0px,#00c200 176px,#00fa00 318px,#00dc00 496px,#00df00 808px,#00cc00 925px)"></i>
<i style="top:812px;height:4px;background:linear-gradient(90deg,#00c400 0px,#00c200 182px,#00ef00 282px,#00f700 322px,#00dc00 496px,#00df00 804px,#00cc00 925px)"></i>
<i style="top:816px;height:4px;background:linear-gradient(90deg,#00c400 0px,#00c200 186px,#00ec00 282px,#00f400 326px,#00dc00 496px,#00df00 802px,#00ca00 925px)"></i>
<i style="top:820px;height:4px;background:linear-gradient(90deg,#00c400 0px,#00c200 192px,#00ef00 302px,#00dc00 496px,#00df00 800px,#00ca00 925px)"></i>
<i style="top:824px;height:4px;background:linear-gradient(90deg,#00c400 0px,#00c200 196px,#00ec00 302px,#00ea00 426px,#00dc00 496px,#00df00 802px,#00ca00 925px)"></i>
<i style="top:828px;height:4px;background:linear-gradient(90deg,#00c400 0px,#00c200 200px,#00ec00 322px,#00dc00 496px,#00df00 802px,#00ca00 925px)"></i>
<i style="top:832px;height:4px;background:linear-gradient(90deg,#00c400 0px,#00c200 206px,#00ea00 318px,#00ea00 412px,#00dc00 496px,#00df00 802px,#00ca00 925px)"></i>
<i style="top:836px;height:4px;background:linear-gradient(90deg,#00c400 0px,#00c200 210px,#00e700 318px,#00e700 438px,#00dc00 496px,#00df00 802px,#00c700 925px)"></i>
<i style="top:840px;height:4px;background:linear-gradient(90deg,#00c400 0px,#00c200 216px,#00df00 290px,#00e700 342px,#00dc00 496px,#00df00 804px,#00c700 925px)"></i>
<i style="top:844px;height:4px;background:linear-gradient(90deg,#00c400 0px,#00c200 220px,#00e400 336px,#00df00 804px,#00c700 925px)"></i>
<i style="top:848px;height:4px;background:linear-gradient(90deg,#00c200 0px,#00c200 224px,#00da00 290px,#00e400 360px,#00df00 806px,#00c700 925px)"></i>
<i style="top:852px;height:4px;background:linear-gradient(90deg,#00c200 0px,#00c200 230px,#00e200 352px,#00df00 806px,#00c400 925px)"></i>
<i style="top:856px;height:4px;background:linear-gradient(90deg,#00c200 0px,#00c200 234px,#00dc00 328px,#00e200 408px,#00df00 808px,#00c400 925px)"></i>
<i style="top:860px;height:4px;background:linear-gradient(90deg,#00c200 0px,#00c200 240px,#00d700 312px,#00df00 392px,#00df00 808px,#00c400 925px)"></i>
<i style="top:864px;height:4px;background:linear-gradient(90deg,#00c200 0px,#00c200 244px,#00da00 340px,#00df00 430px,#00df00 810px,#00c400 925px)"></i>
<i style="top:868px;height:4px;background:linear-gradient(90deg,#00c200 0px,#00c200 250px,#00dc00 412px,#00df00 766px,#00df00 812px,#00c400 925px)"></i>
<i style="top:872px;height:4px;background:linear-gradient(90deg,#00c200 0px,#00c200 256px,#00d700 350px,#00dc00 442px,#00df00 762px,#00df00 812px,#00c200 925px)"></i>
<i style="top:876px;height:4px;background:linear-gradient(90deg,#00c200 0px,#00c200 262px,#00d400 348px,#00dc00 466px,#00df00 762px,#00df00 814px,#00c200 925px)"></i>
<i style="top:880px;height:4px;background:linear-gradient(90deg,#00c200 0px,#00c200 270px,#00dc00 474px,#00df00 760px,#00df00 814px,#00c200 925px)"></i>
<i style="top:884px;height:4px;background:linear-gradient(90deg,#00c200 0px,#00c200 278px,#00dc00 474px,#00df00 760px,#00df00 816px,#00c200 925px)"></i>
<i style="top:888px;height:4px;background:linear-gradient(90deg,#00c200 0px,#00c200 286px,#00dc00 476px,#00df00 758px,#00df00 814px,#00c200 925px)"></i>
<i style="top:892px;height:4px;background:linear-gradient(90deg,#00c200 0px,#00c200 294px,#00dc00 476px,#00df00 758px,#00df00 810px,#00c200 925px)"></i>
<i style="top:896px;height:4px;background:linear-gradient(90deg,#00c200 0px,#00c200 304px,#00df00 508px,#00df00 804px,#00c200 925px)"></i>
<i style="top:900px;height:4px;background:linear-gradient(90deg,#00c200 0px,#00c200 312px,#00df00 502px,#00df00 798px,#00c200 925px)"></i>
<i style="top:904px;height:4px;background:linear-gradient(90deg,#00c200 0px,#00c200 322px,#00ca00 420px,#00df00 498px,#00df00 792px,#00c200 925px)"></i>
<i style="top:908px;height:4px;background:linear-gradient(90deg,#00c200 0px,#00c400 370px,#00ca00 428px,#00df00 494px,#00df00 784px,#00c200 925px)"></i>
<i style="top:912px;height:4px;background:linear-gradient(90deg,#00c200 0px,#00c400 402px,#00e200 522px,#00df00 774px,#00c200 925px)"></i>
<i style="top:916px;height:4px;background:linear-gradient(90deg,#00bf00 0px,#00c400 408px,#00e200 510px,#00df00 764px,#00bf00 925px)"></i>
<i style="top:920px;height:4px;background:linear-gradient(90deg,#00bf00 0px,#00c700 426px,#00e200 506px,#00df00 760px,#00bf00 925px)"></i>
<i style="top:924px;height:1px;background:linear-gradient(90deg,#00bf00 0px,#00c700 420px,#00e200 504px,#00df00 758px,#00bf00 925px)"></i>
</div>
<div class="fm circ" style="left:1120px;top:1316px;width:925px;height:925px">
<i style="top:0px;height:4px;background:linear-gradient(90deg,#00c700 0px,#00d700 120px,#00ff00 236px,#0fff00 238px,#1dff00 260px,#2cff00 262px,#2cff00 276px,#3bff00 278px,#3bff00 294px,#49ff00 296px,#49ff00 318px,#58ff00 320px,#58ff00 360px,#67ff00 362px,#67ff00 460px,#58ff00 462px,#58ff00 474px,#49ff00 476px,#49ff00 484px,#3bff00 486px,#3bff00 494px,#2cff00 496px,#1dff00 514px,#0fff00 516px,#0fff00 522px,#00ff00 524px,#00e700 582px,#00f400 646px,#00c700 925px)"></i>
<i style="top:4px;height:4px;background:linear-gradient(90deg,#00c700 0px,#00da00 126px,#00ff00 228px,#0fff00 230px,#0fff00 238px,#1dff00 240px,#1dff00 250px,#2cff00 252px,#2cff00 266px,#3bff00 268px,#3bff00 282px,#49ff00 284px,#49ff00 304px,#58ff00 306px,#58ff00 340px,#67ff00 342px,#67ff00 454px,#58ff00 456px,#58ff00 468px,#49ff00 470px,#49ff00 478px,#3bff00 480px,#3bff00 488px,#2cff00 490px,#1dff00 508px,#0fff00 510px,#0fff00 516px,#00ff00 518px,#00e700 582px,#00f700 644px,#00ca00 925px)"></i>
<i style="top:8px;height:4px;background:linear-gradient(90deg,#00ca00 0px,#00d700 110px,#00ff00 220px,#0fff00 222px,#0fff00 230px,#1dff00 232px,#1dff00 242px,#2cff00 244px,#2cff00 256px,#3bff00 258px,#3bff00 272px,#49ff00 274px,#49ff00 292px,#58ff00 294px,#58ff00 324px,#67ff00 326px,#67ff00 414px,#58ff00 416px,#58ff00 462px,#49ff00 464px,#49ff00 474px,#3bff00 476px,#3bff00 484px,#2cff00 486px,#2cff00 492px,#1dff00 494px,#1dff00 502px,#0fff00 504px,#0fff00 510px,#00ff00 512px,#00e700 584px,#00fa00 620px,#00fa00 644px,#00ca00 925px)"></i>
<i style="top:12px;height:4px;background:linear-gradient(90deg,#00ca00 0px,#00d700 106px,#00ff00 212px,#0fff00 214px,#1dff00 232px,#2cff00 234px,#2cff00 246px,#3bff00 248px,#3bff00 262px,#49ff00 264px,#49ff00 280px,#58ff00 282px,#58ff00 310px,#67ff00 312px,#67ff00 384px,#58ff00 386px,#58ff00 458px,#49ff00 460px,#49ff00 468px,#3bff00 470px,#3bff00 478px,#2cff00 480px,#2cff00 486px,#1dff00 488px,#1dff00 496px,#0fff00 498px,#0fff00 504px,#00ff00 506px,#00ea00 572px,#00ea00 592px,#00fc00 620px,#00fa00 666px,#00ca00 925px)"></i>
<i style="top:16px;height:4px;background:linear-gradient(90deg,#00ca00 0px,#00d700 102px,#00ff00 204px,#0fff00 206px,#1dff00 224px,#2cff00 226px,#2cff00 236px,#3bff00 238px,#3bff00 252px,#49ff00 254px,#49ff00 270px,#58ff00 272px,#58ff00 296px,#67ff00 298px,#67ff00 364px,#58ff00 366px,#58ff00 430px,#49ff00 432px,#49ff00 464px,#3bff00 466px,#3bff00 472px,#2cff00 474px,#2cff00 482px,#1dff00 484px,#0fff00 498px,#00ff00 500px,#00ea00 572px,#00ea00 590px,#00ff00 622px,#00fc00 666px,#00ca00 925px)"></i>
<i style="top:20px;height:4px;background:linear-gradient(90deg,#00ca00 0px,#00d700 98px,#00ff00 200px,#0fff00 202px,#0fff00 206px,#1dff00 208px,#1dff00 216px,#2cff00 218px,#2cff00 228px,#3bff00 230px,#3bff00 242px,#49ff00 244px,#49ff00 260px,#58ff00 262px,#58ff00 286px,#67ff00 288px,#67ff00 348px,#58ff00 350px,#58ff00 394px,#49ff00 396px,#49ff00 458px,#3bff00 460px,#3bff00 468px,#2cff00 470px,#2cff00 476px,#1dff00 478px,#1dff00 484px,#0fff00 486px,#0fff00 494px,#00ff00 496px,#00ea00 574px,#00ff00 622px,#0fff00 624px,#00ff00 666px,#00ca00 925px)"></i>
<i style="top:24px;height:4px;background:linear-gradient(90deg,#00cc00 0px,#00da00 104px,#00ff00 194px,#0fff00 196px,#0fff00 202px,#1dff00 204px,#1dff00 210px,#2cff00 212px,#2cff00 220px,#3bff00 222px,#3bff00 234px,#49ff00 236px,#49ff00 250px,#58ff00 252px,#58ff00 274px,#67ff00 276px,#67ff00 334px,#58ff00 336px,#58ff00 372px,#49ff00 374px,#49ff00 422px,#3bff00 424px,#3bff00 462px,#2cff00 464px,#2cff00 472px,#1dff00 474px,#1dff00 480px,#0fff00 482px,#0fff00 488px,#00ff00 490px,#00ea00 568px,#00ea00 586px,#00ff00 620px,#1dff00 626px,#1dff00 644px,#0fff00 646px,#0fff00 666px,#00ff00 668px,#00cc00 925px)"></i>
<i style="top:28px;height:4px;background:linear-gradient(90deg,#00cc00 0px,#00da00 100px,#00ff00 190px,#0fff00 192px,#0fff00 196px,#1dff00 198px,#1dff00 204px,#2cff00 206px,#2cff00 212px,#3bff00 214px,#3bff00 226px,#49ff00 228px,#49ff00 242px,#58ff00 244px,#58ff00 264px,#67ff00 266px,#67ff00 320px,#58ff00 322px,#58ff00 354px,#49ff00 356px,#49ff00 390px,#3bff00 392px,#3bff00 458px,#2cff00 460px,#1dff00 474px,#0fff00 476px,#0fff00 482px,#00ff00 484px,#00ea00 566px,#00ea00 584px,#00ff00 618px,#2cff00 628px,#2cff00 644px,#1dff00 646px,#1dff00 666px,#0fff00 668px,#0fff00 684px,#00ff00 686px,#00cc00 925px)"></i>
<i style="top:32px;height:4px;background:linear-gradient(90deg,#00cc00 0px,#00da00 96px,#00ff00 184px,#0fff00 186px,#0fff00 192px,#1dff00 194px,#1dff00 200px,#2cff00 202px,#2cff00 208px,#3bff00 210px,#3bff00 218px,#49ff00 220px,#49ff00 234px,#58ff00 236px,#58ff00 254px,#67ff00 256px,#67ff00 308px,#58ff00 310px,#58ff00 340px,#49ff00 342px,#49ff00 370px,#3bff00 372px,#3bff00 408px,#2cff00 410px,#2cff00 462px,#1dff00 464px,#0fff00 478px,#00ff00 480px,#00ea00 562px,#00ea00 582px,#00ff00 616px,#3bff00 630px,#3bff00 642px,#2cff00 644px,#2cff00 664px,#1dff00 666px,#1dff00 684px,#0fff00 686px,#0fff00 698px,#00ff00 700px,#00cc00 925px)"></i>
<i style="top:36px;height:4px;background:linear-gradient(90deg,#00cc00 0px,#00da00 92px,#00ff00 180px,#0fff00 182px,#0fff00 186px,#1dff00 188px,#1dff00 194px,#2cff00 196px,#2cff00 202px,#3bff00 204px,#3bff00 212px,#49ff00 214px,#49ff00 224px,#58ff00 226px,#58ff00 246px,#67ff00 248px,#67ff00 298px,#58ff00 300px,#58ff00 326px,#49ff00 328px,#49ff00 352px,#3bff00 354px,#3bff00 382px,#2cff00 384px,#2cff00 426px,#1dff00 428px,#1dff00 464px,#0fff00 466px,#0fff00 472px,#00ff00 474px,#00ea00 558px,#00ea00 580px,#00ff00 616px,#1dff00 620px,#3bff00 630px,#49ff00 632px,#49ff00 640px,#3bff00 642px,#3bff00 664px,#2cff00 666px,#2cff00 682px,#1dff00 684px,#1dff00 698px,#0fff00 700px,#0fff00 712px,#00ff00 714px,#00cc00 925px)"></i>
<i style="top:40px;height:4px;background:linear-gradient(90deg,#00cc00 0px,#00da00 88px,#00ff00 176px,#0fff00 178px,#0fff00 182px,#1dff00 184px,#1dff00 190px,#2cff00 192px,#2cff00 198px,#3bff00 200px,#49ff00 218px,#58ff00 220px,#58ff00 236px,#67ff00 238px,#67ff00 288px,#58ff00 290px,#58ff00 314px,#49ff00 316px,#49ff00 338px,#3bff00 340px,#3bff00 364px,#2cff00 366px,#2cff00 394px,#1dff00 396px,#1dff00 458px,#0fff00 460px,#0fff00 468px,#00ff00 470px,#00ea00 554px,#00ea00 578px,#00ff00 614px,#1dff00 618px,#3bff00 628px,#49ff00 630px,#49ff00 634px,#58ff00 636px,#49ff00 638px,#49ff00 662px,#3bff00 664px,#3bff00 682px,#2cff00 684px,#2cff00 698px,#1dff00 700px,#1dff00 712px,#0fff00 714px,#0fff00 724px,#00ff00 726px,#00cc00 925px)"></i>
<i style="top:44px;height:4px;background:linear-gradient(90deg,#00cf00 0px,#00da00 84px,#00ff00 170px,#0fff00 172px,#0fff00 178px,#1dff00 180px,#1dff00 186px,#2cff00 188px,#3bff00 202px,#49ff00 204px,#49ff00 214px,#58ff00 216px,#58ff00 228px,#67ff00 230px,#67ff00 278px,#58ff00 280px,#58ff00 304px,#49ff00 306px,#49ff00 326px,#3bff00 328px,#3bff00 348px,#2cff00 350px,#2cff00 372px,#1dff00 374px,#1dff00 404px,#0fff00 406px,#0fff00 462px,#00ff00 464px,#00ea00 546px,#00ea00 576px,#00ff00 612px,#0fff00 614px,#0fff00 616px,#2cff00 620px,#3bff00 626px,#58ff00 632px,#58ff00 660px,#49ff00 662px,#49ff00 680px,#3bff00 682px,#3bff00 696px,#2cff00 698px,#2cff00 710px,#1dff00 712px,#1dff00 724px,#0fff00 726px,#0fff00 736px,#00ff00 738px,#00da00 854px,#00cf00 925px)"></i>
<i style="top:48px;height:4px;background:linear-gradient(90deg,#00cf00 0px,#00da00 80px,#00ff00 166px,#0fff00 168px,#0fff00 174px,#1dff00 176px,#1dff00 180px,#2cff00 182px,#2cff00 188px,#3bff00 190px,#49ff00 208px,#58ff00 210px,#58ff00 222px,#67ff00 224px,#67ff00 270px,#58ff00 272px,#58ff00 294px,#49ff00 296px,#49ff00 314px,#3bff00 316px,#3bff00 334px,#2cff00 336px,#2cff00 356px,#1dff00 358px,#1dff00 380px,#0fff00 382px,#0fff00 414px,#00ff00 416px,#00ff00 464px,#00ea00 540px,#00ea00 574px,#00ff00 610px,#0fff00 612px,#1dff00 618px,#3bff00 622px,#58ff00 632px,#67ff00 634px,#67ff00 654px,#58ff00 656px,#58ff00 678px,#49ff00 680px,#49ff00 694px,#3bff00 696px,#3bff00 710px,#2cff00 712px,#1dff00 734px,#0fff00 736px,#0fff00 746px,#00ff00 748px,#00cf00 925px)"></i>
<i style="top:52px;height:4px;background:linear-gradient(90deg,#00cf00 0px,#00dc00 86px,#00ff00 162px,#0fff00 164px,#0fff00 168px,#1dff00 170px,#1dff00 176px,#2cff00 178px,#2cff00 184px,#3bff00 186px,#49ff00 204px,#58ff00 206px,#58ff00 218px,#67ff00 220px,#67ff00 262px,#58ff00 264px,#58ff00 284px,#49ff00 286px,#49ff00 302px,#3bff00 304px,#3bff00 322px,#2cff00 324px,#2cff00 342px,#1dff00 344px,#1dff00 362px,#0fff00 364px,#0fff00 388px,#00ff00 390px,#00fc00 468px,#00ea00 532px,#00ea00 574px,#00ff00 608px,#0fff00 610px,#2cff00 620px,#49ff00 624px,#49ff00 626px,#67ff00 632px,#67ff00 636px,#75ff00 638px,#75ff00 646px,#67ff00 648px,#67ff00 674px,#58ff00 676px,#58ff00 692px,#49ff00 694px,#49ff00 708px,#3bff00 710px,#3bff00 722px,#2cff00 724px,#2cff00 734px,#1dff00 736px,#1dff00 746px,#0fff00 748px,#0fff00 756px,#00ff00 758px,#00cf00 925px)"></i>
<i style="top:56px;height:4px;background:linear-gradient(90deg,#00cf00 0px,#00dc00 82px,#00ff00 158px,#0fff00 160px,#0fff00 164px,#1dff00 166px,#2cff00 180px,#3bff00 182px,#3bff00 188px,#49ff00 190px,#49ff00 198px,#58ff00 200px,#58ff00 212px,#67ff00 214px,#67ff00 254px,#58ff00 256px,#49ff00 294px,#3bff00 296px,#3bff00 310px,#2cff00 312px,#2cff00 328px,#1dff00 330px,#1dff00 346px,#0fff00 348px,#0fff00 368px,#00ff00 370px,#00fa00 470px,#00ea00 526px,#00ea00 572px,#00ff00 606px,#0fff00 608px,#3bff00 622px,#58ff00 626px,#58ff00 630px,#75ff00 636px,#75ff00 666px,#67ff00 668px,#67ff00 688px,#58ff00 690px,#58ff00 706px,#49ff00 708px,#49ff00 720px,#3bff00 722px,#3bff00 734px,#2cff00 736px,#2cff00 744px,#1dff00 746px,#1dff00 756px,#0fff00 758px,#0fff00 764px,#00ff00 766px,#00cf00 925px)"></i>
<i style="top:60px;height:4px;background:linear-gradient(90deg,#00cf00 0px,#00da00 70px,#00ff00 154px,#0fff00 156px,#0fff00 160px,#1dff00 162px,#2cff00 176px,#3bff00 178px,#3bff00 184px,#49ff00 186px,#49ff00 194px,#58ff00 196px,#58ff00 208px,#67ff00 210px,#67ff00 246px,#58ff00 248px,#58ff00 266px,#49ff00 268px,#49ff00 284px,#3bff00 286px,#2cff00 316px,#1dff00 318px,#1dff00 334px,#0fff00 336px,#0fff00 352px,#00ff00 354px,#00fa00 464px,#00ea00 518px,#00ea00 572px,#00ff00 606px,#1dff00 610px,#2cff00 616px,#75ff00 634px,#75ff00 638px,#84ff00 640px,#84ff00 656px,#75ff00 658px,#75ff00 684px,#67ff00 686px,#67ff00 702px,#58ff00 704px,#58ff00 718px,#49ff00 720px,#49ff00 732px,#3bff00 734px,#3bff00 744px,#2cff00 746px,#1dff00 764px,#0fff00 766px,#0fff00 774px,#00ff00 776px,#00cf00 925px)"></i>
<i style="top:64px;height:4px;background:linear-gradient(90deg,#00d200 0px,#00da00 66px,#00ff00 150px,#0fff00 152px,#0fff00 156px,#1dff00 158px,#2cff00 172px,#3bff00 174px,#3bff00 180px,#49ff00 182px,#49ff00 190px,#58ff00 192px,#58ff00 204px,#67ff00 206px,#67ff00 238px,#58ff00 240px,#58ff00 258px,#49ff00 260px,#49ff00 276px,#3bff00 278px,#3bff00 290px,#2cff00 292px,#2cff00 306px,#1dff00 308px,#1dff00 322px,#0fff00 324px,#0fff00 338px,#00ff00 340px,#00f700 468px,#00ea00 512px,#00ea00 570px,#00ff00 604px,#0fff00 606px,#0fff00 608px,#2cff00 612px,#2cff00 614px,#75ff00 632px,#75ff00 636px,#84ff00 638px,#84ff00 674px,#75ff00 676px,#75ff00 698px,#67ff00 700px,#67ff00 714px,#58ff00 716px,#58ff00 730px,#49ff00 732px,#3bff00 754px,#2cff00 756px,#2cff00 764px,#1dff00 766px,#1dff00 772px,#0fff00 774px,#0fff00 782px,#00ff00 784px,#00d700 884px,#00d200 925px)"></i>
<i style="top:68px;height:4px;background:linear-gradient(90deg,#00d200 0px,#00dc00 72px,#00ff00 146px,#0fff00 148px,#0fff00 152px,#1dff00 154px,#2cff00 168px,#3bff00 170px,#3bff00 176px,#49ff00 178px,#49ff00 186px,#58ff00 188px,#58ff00 198px,#67ff00 200px,#67ff00 232px,#58ff00 234px,#58ff00 250px,#49ff00 252px,#49ff00 266px,#3bff00 268px,#3bff00 282px,#2cff00 284px,#2cff00 296px,#1dff00 298px,#1dff00 312px,#0fff00 314px,#0fff00 326px,#00ff00 328px,#00ea00 506px,#00ea00 570px,#00ff00 602px,#0fff00 604px,#1dff00 610px,#3bff00 614px,#3bff00 616px,#75ff00 630px,#75ff00 634px,#84ff00 636px,#84ff00 650px,#93ff00 652px,#84ff00 654px,#84ff00 690px,#75ff00 692px,#75ff00 710px,#67ff00 712px,#67ff00 726px,#58ff00 728px,#58ff00 740px,#49ff00 742px,#49ff00 752px,#3bff00 754px,#2cff00 772px,#1dff00 774px,#0fff00 788px,#00ff00 790px,#00da00 880px,#00d200 925px)"></i>
<i style="top:72px;height:4px;background:linear-gradient(90deg,#00d200 0px,#00da00 60px,#00ff00 142px,#0fff00 144px,#0fff00 150px,#1dff00 152px,#1dff00 156px,#2cff00 158px,#2cff00 164px,#3bff00 166px,#3bff00 172px,#49ff00 174px,#49ff00 182px,#58ff00 184px,#58ff00 194px,#67ff00 196px,#67ff00 226px,#58ff00 228px,#58ff00 244px,#49ff00 246px,#49ff00 258px,#3bff00 260px,#3bff00 274px,#2cff00 276px,#2cff00 288px,#1dff00 290px,#1dff00 302px,#0fff00 304px,#0fff00 316px,#00ff00 318px,#00ea00 500px,#00ea00 568px,#00ff00 602px,#1dff00 606px,#2cff00 612px,#49ff00 616px,#49ff00 618px,#75ff00 628px,#75ff00 638px,#84ff00 640px,#84ff00 658px,#93ff00 660px,#93ff00 674px,#84ff00 676px,#84ff00 702px,#75ff00 704px,#75ff00 722px,#67ff00 724px,#67ff00 736px,#58ff00 738px,#58ff00 750px,#49ff00 752px,#49ff00 760px,#3bff00 762px,#3bff00 770px,#2cff00 772px,#2cff00 780px,#1dff00 782px,#1dff00 788px,#0fff00 790px,#0fff00 796px,#00ff00 798px,#00da00 882px,#00d200 925px)"></i>
<i style="top:76px;height:4px;background:linear-gradient(90deg,#00d200 0px,#00da00 56px,#00ff00 138px,#0fff00 140px,#0fff00 146px,#1dff00 148px,#1dff00 152px,#2cff00 154px,#2cff00 160px,#3bff00 162px,#3bff00 168px,#49ff00 170px,#49ff00 178px,#58ff00 180px,#58ff00 190px,#67ff00 192px,#67ff00 218px,#58ff00 220px,#58ff00 236px,#49ff00 238px,#49ff00 252px,#3bff00 254px,#3bff00 266px,#2cff00 268px,#2cff00 278px,#1dff00 280px,#0fff00 306px,#00ff00 308px,#00ea00 496px,#00ea00 566px,#00ff00 600px,#1dff00 604px,#3bff00 614px,#58ff00 618px,#58ff00 620px,#67ff00 622px,#67ff00 632px,#75ff00 634px,#75ff00 648px,#84ff00 650px,#84ff00 666px,#93ff00 668px,#93ff00 688px,#84ff00 690px,#84ff00 714px,#75ff00 716px,#75ff00 732px,#67ff00 734px,#67ff00 746px,#58ff00 748px,#58ff00 758px,#49ff00 760px,#49ff00 770px,#3bff00 772px,#3bff00 780px,#2cff00 782px,#1dff00 796px,#0fff00 798px,#0fff00 804px,#00ff00 806px,#00d200 925px)"></i>
<i style="top:80px;height:4px;background:linear-gradient(90deg,#00d200 0px,#00dc00 62px,#00ff00 136px,#0fff00 138px,#1dff00 148px,#2cff00 150px,#2cff00 156px,#3bff00 158px,#3bff00 164px,#49ff00 166px,#49ff00 174px,#58ff00 176px,#58ff00 186px,#67ff00 188px,#67ff00 212px,#58ff00 214px,#58ff00 230px,#49ff00 232px,#3bff00 258px,#2cff00 260px,#2cff00 270px,#1dff00 272px,#1dff00 282px,#0fff00 284px,#0fff00 296px,#00ff00 298px,#00ea00 490px,#00ea00 566px,#00ff00 598px,#0fff00 600px,#0fff00 602px,#2cff00 606px,#3bff00 612px,#58ff00 618px,#58ff00 628px,#67ff00 630px,#67ff00 642px,#75ff00 644px,#75ff00 656px,#84ff00 658px,#84ff00 672px,#93ff00 674px,#93ff00 702px,#84ff00 704px,#84ff00 726px,#75ff00 728px,#75ff00 742px,#67ff00 744px,#67ff00 756px,#58ff00 758px,#58ff00 768px,#49ff00 770px,#49ff00 778px,#3bff00 780px,#3bff00 788px,#2cff00 790px,#2cff00 796px,#1dff00 798px,#1dff00 804px,#0fff00 806px,#0fff00 810px,#00ff00 812px,#00d200 925px)"></i>
<i style="top:84px;height:4px;background:linear-gradient(90deg,#00d400 0px,#00da00 50px,#00ff00 132px,#0fff00 134px,#0fff00 138px,#1dff00 140px,#1dff00 146px,#2cff00 148px,#2cff00 152px,#3bff00 154px,#3bff00 160px,#49ff00 162px,#49ff00 170px,#58ff00 172px,#58ff00 182px,#67ff00 184px,#67ff00 206px,#58ff00 208px,#58ff00 224px,#49ff00 226px,#49ff00 238px,#3bff00 240px,#2cff00 262px,#1dff00 264px,#1dff00 274px,#0fff00 276px,#0fff00 288px,#00ff00 290px,#00ea00 484px,#00ea00 564px,#00ff00 596px,#0fff00 598px,#1dff00 604px,#3bff00 608px,#3bff00 612px,#49ff00 614px,#58ff00 636px,#67ff00 638px,#67ff00 650px,#75ff00 652px,#75ff00 664px,#84ff00 666px,#84ff00 680px,#93ff00 682px,#93ff00 714px,#84ff00 716px,#84ff00 736px,#75ff00 738px,#75ff00 752px,#67ff00 754px,#67ff00 764px,#58ff00 766px,#58ff00 776px,#49ff00 778px,#49ff00 786px,#3bff00 788px,#3bff00 794px,#2cff00 796px,#2cff00 802px,#1dff00 804px,#1dff00 810px,#0fff00 812px,#0fff00 818px,#00ff00 820px,#00dc00 884px,#00d400 925px)"></i>
<i style="top:88px;height:4px;background:linear-gradient(90deg,#00d400 0px,#00dc00 56px,#00ff00 128px,#0fff00 130px,#0fff00 134px,#1dff00 136px,#1dff00 142px,#2cff00 144px,#2cff00 148px,#3bff00 150px,#3bff00 156px,#49ff00 158px,#49ff00 166px,#58ff00 168px,#58ff00 178px,#67ff00 180px,#67ff00 200px,#58ff00 202px,#58ff00 218px,#49ff00 220px,#49ff00 232px,#3bff00 234px,#3bff00 244px,#2cff00 246px,#2cff00 258px,#1dff00 260px,#0fff00 286px,#00ff00 288px,#00ea00 480px,#00ea00 564px,#00ff00 596px,#1dff00 600px,#1dff00 602px,#2cff00 604px,#2cff00 610px,#3bff00 612px,#49ff00 634px,#58ff00 636px,#58ff00 646px,#67ff00 648px,#67ff00 658px,#75ff00 660px,#75ff00 670px,#84ff00 672px,#84ff00 686px,#93ff00 688px,#93ff00 726px,#84ff00 728px,#84ff00 746px,#75ff00 748px,#75ff00 760px,#67ff00 762px,#67ff00 772px,#58ff00 774px,#58ff00 784px,#49ff00 786px,#49ff00 794px,#3bff00 796px,#2cff00 810px,#1dff00 812px,#1dff00 816px,#0fff00 818px,#0fff00 824px,#00ff00 826px,#00da00 894px,#00d400 925px)"></i>
<i style="top:92px;height:4px;background:linear-gradient(90deg,#00d400 0px,#00df00 60px,#00ff00 126px,#0fff00 128px,#1dff00 138px,#2cff00 140px,#2cff00 146px,#3bff00 148px,#3bff00 154px,#49ff00 156px,#49ff00 162px,#58ff00 164px,#58ff00 174px,#67ff00 176px,#67ff00 196px,#58ff00 198px,#58ff00 212px,#49ff00 214px,#49ff00 226px,#3bff00 228px,#3bff00 242px,#2cff00 244px,#2cff00 258px,#1dff00 260px,#1dff00 274px,#0fff00 276px,#0fff00 290px,#00ff00 292px,#00ef00 362px,#00ea00 474px,#00ea00 564px,#00ff00 594px,#1dff00 600px,#1dff00 608px,#2cff00 610px,#2cff00 620px,#3bff00 622px,#3bff00 630px,#49ff00 632px,#49ff00 642px,#58ff00 644px,#58ff00 652px,#67ff00 654px,#67ff00 664px,#75ff00 666px,#75ff00 678px,#84ff00 680px,#84ff00 694px,#93ff00 696px,#93ff00 734px,#84ff00 736px,#84ff00 754px,#75ff00 756px,#75ff00 768px,#67ff00 770px,#67ff00 780px,#58ff00 782px,#58ff00 792px,#49ff00 794px,#49ff00 800px,#3bff00 802px,#3bff00 808px,#2cff00 810px,#2cff00 816px,#1dff00 818px,#1dff00 824px,#0fff00 826px,#0fff00 830px,#00ff00 832px,#00df00 884px,#00d400 925px)"></i>
<i style="top:96px;height:4px;background:linear-gradient(90deg,#00d400 0px,#00dc00 50px,#00ff00 122px,#0fff00 124px,#1dff00 134px,#2cff00 136px,#2cff00 142px,#3bff00 144px,#3bff00 150px,#49ff00 152px,#49ff00 158px,#58ff00 160px,#58ff00 170px,#67ff00 172px,#67ff00 190px,#58ff00 192px,#58ff00 206px,#49ff00 208px,#49ff00 226px,#3bff00 228px,#3bff00 244px,#2cff00 246px,#2cff00 266px,#1dff00 268px,#1dff00 288px,#0fff00 290px,#0fff00 304px,#00ff00 306px,#00ef00 352px,#00ea00 432px,#00ea00 562px,#00ff00 596px,#0fff00 598px,#0fff00 608px,#1dff00 610px,#2cff00 628px,#3bff00 630px,#3bff00 640px,#49ff00 642px,#58ff00 660px,#67ff00 662px,#75ff00 684px,#84ff00 686px,#84ff00 700px,#93ff00 702px,#93ff00 744px,#84ff00 746px,#84ff00 764px,#75ff00 766px,#75ff00 778px,#67ff00 780px,#67ff00 788px,#58ff00 790px,#58ff00 798px,#49ff00 800px,#49ff00 808px,#3bff00 810px,#3bff00 816px,#2cff00 818px,#1dff00 828px,#00ff00 834px,#00dc00 892px,#00d400 925px)"></i>
<i style="top:100px;height:4px;background:linear-gradient(90deg,#00d400 0px,#00df00 54px,#00ff00 118px,#0fff00 120px,#0fff00 124px,#1dff00 126px,#1dff00 132px,#2cff00 134px,#2cff00 138px,#3bff00 140px,#3bff00 146px,#49ff00 148px,#49ff00 156px,#58ff00 158px,#58ff00 168px,#67ff00 170px,#67ff00 184px,#58ff00 186px,#58ff00 202px,#49ff00 204px,#49ff00 226px,#3bff00 228px,#3bff00 262px,#2cff00 264px,#2cff00 298px,#1dff00 300px,#1dff00 306px,#0fff00 308px,#0fff00 312px,#00ff00 314px,#00ea00 402px,#00ea00 562px,#00ff00 606px,#0fff00 608px,#0fff00 616px,#1dff00 618px,#1dff00 628px,#2cff00 630px,#2cff00 638px,#3bff00 640px,#49ff00 658px,#58ff00 660px,#58ff00 668px,#67ff00 670px,#67ff00 678px,#75ff00 680px,#75ff00 690px,#84ff00 692px,#84ff00 706px,#93ff00 708px,#93ff00 754px,#84ff00 756px,#84ff00 772px,#75ff00 774px,#75ff00 784px,#67ff00 786px,#67ff00 796px,#58ff00 798px,#58ff00 806px,#49ff00 808px,#49ff00 814px,#3bff00 816px,#3bff00 822px,#1dff00 828px,#1dff00 832px,#00ff00 838px,#00d400 925px)"></i>
<i style="top:104px;height:4px;background:linear-gradient(90deg,#00d400 0px,#00dc00 44px,#00ff00 116px,#0fff00 118px,#1dff00 128px,#2cff00 130px,#2cff00 136px,#3bff00 138px,#3bff00 142px,#49ff00 144px,#49ff00 152px,#58ff00 154px,#58ff00 166px,#67ff00 168px,#67ff00 174px,#58ff00 176px,#58ff00 192px,#49ff00 194px,#49ff00 236px,#3bff00 238px,#3bff00 254px,#49ff00 256px,#49ff00 258px,#3bff00 260px,#49ff00 262px,#3bff00 264px,#3bff00 304px,#2cff00 306px,#2cff00 310px,#1dff00 312px,#0fff00 322px,#00ff00 324px,#00ea00 382px,#00ea00 562px,#00ff00 616px,#0fff00 618px,#1dff00 636px,#2cff00 638px,#2cff00 646px,#3bff00 648px,#3bff00 654px,#49ff00 656px,#49ff00 664px,#58ff00 666px,#58ff00 674px,#67ff00 676px,#67ff00 684px,#75ff00 686px,#75ff00 696px,#84ff00 698px,#84ff00 712px,#93ff00 714px,#93ff00 762px,#84ff00 764px,#84ff00 780px,#75ff00 782px,#75ff00 792px,#67ff00 794px,#67ff00 802px,#58ff00 804px,#58ff00 812px,#49ff00 814px,#49ff00 820px,#3bff00 822px,#3bff00 824px,#2cff00 826px,#2cff00 830px,#00ff00 840px,#00df00 892px,#00d700 925px)"></i>
<i style="top:108px;height:4px;background:linear-gradient(90deg,#00d700 0px,#00df00 48px,#00ff00 112px,#0fff00 114px,#1dff00 124px,#2cff00 126px,#2cff00 132px,#3bff00 134px,#3bff00 140px,#49ff00 142px,#49ff00 150px,#58ff00 152px,#58ff00 180px,#49ff00 182px,#49ff00 220px,#49ff00 256px,#58ff00 258px,#58ff00 300px,#49ff00 302px,#49ff00 308px,#3bff00 310px,#3bff00 316px,#2cff00 318px,#2cff00 322px,#1dff00 324px,#0fff00 334px,#00ff00 336px,#00ea00 392px,#00ea00 562px,#00ff00 624px,#0fff00 626px,#1dff00 644px,#2cff00 646px,#2cff00 652px,#3bff00 654px,#3bff00 662px,#49ff00 664px,#49ff00 672px,#58ff00 674px,#58ff00 682px,#67ff00 684px,#67ff00 692px,#75ff00 694px,#75ff00 702px,#84ff00 704px,#84ff00 716px,#93ff00 718px,#93ff00 770px,#84ff00 772px,#84ff00 786px,#75ff00 788px,#75ff00 800px,#67ff00 802px,#67ff00 810px,#58ff00 812px,#58ff00 818px,#3bff00 824px,#3bff00 828px,#1dff00 834px,#1dff00 836px,#0fff00 838px,#0fff00 842px,#00ff00 844px,#00dc00 900px,#00d700 925px)"></i>
<i style="top:112px;height:4px;background:linear-gradient(90deg,#00d700 0px,#00dc00 38px,#00ff00 110px,#0fff00 112px,#1dff00 122px,#2cff00 124px,#2cff00 128px,#3bff00 130px,#3bff00 138px,#49ff00 140px,#49ff00 152px,#58ff00 154px,#58ff00 162px,#49ff00 164px,#49ff00 182px,#3bff00 184px,#3bff00 202px,#49ff00 204px,#49ff00 220px,#58ff00 222px,#58ff00 252px,#67ff00 254px,#67ff00 306px,#58ff00 308px,#49ff00 322px,#3bff00 324px,#3bff00 330px,#2cff00 332px,#2cff00 336px,#1dff00 338px,#0fff00 348px,#00ff00 350px,#00ea00 384px,#00ea00 564px,#00ff00 632px,#0fff00 634px,#1dff00 652px,#2cff00 654px,#2cff00 660px,#3bff00 662px,#3bff00 670px,#49ff00 672px,#49ff00 678px,#58ff00 680px,#58ff00 688px,#67ff00 690px,#75ff00 708px,#84ff00 710px,#84ff00 722px,#93ff00 724px,#93ff00 778px,#84ff00 780px,#84ff00 794px,#75ff00 796px,#75ff00 806px,#67ff00 808px,#67ff00 814px,#58ff00 816px,#49ff00 826px,#3bff00 828px,#3bff00 830px,#1dff00 836px,#1dff00 840px,#00ff00 846px,#00d700 925px)"></i>
<i style="top:116px;height:4px;background:linear-gradient(90deg,#00d700 0px,#00df00 42px,#00ff00 106px,#0fff00 108px,#0fff00 112px,#1dff00 114px,#1dff00 120px,#2cff00 122px,#2cff00 128px,#3bff00 130px,#3bff00 140px,#49ff00 142px,#49ff00 158px,#3bff00 160px,#3bff00 198px,#49ff00 200px,#49ff00 210px,#58ff00 212px,#58ff00 220px,#67ff00 222px,#67ff00 252px,#75ff00 254px,#75ff00 310px,#67ff00 312px,#67ff00 320px,#58ff00 322px,#58ff00 330px,#49ff00 332px,#49ff00 338px,#3bff00 340px,#3bff00 344px,#1dff00 350px,#1dff00 352px,#00ff00 356px,#00ea00 390px,#00ea00 564px,#00ff00 640px,#0fff00 642px,#0fff00 650px,#1dff00 652px,#1dff00 658px,#2cff00 660px,#2cff00 666px,#3bff00 668px,#3bff00 676px,#49ff00 678px,#49ff00 684px,#58ff00 686px,#58ff00 694px,#67ff00 696px,#67ff00 704px,#75ff00 706px,#75ff00 714px,#84ff00 716px,#84ff00 728px,#93ff00 730px,#93ff00 784px,#84ff00 786px,#84ff00 800px,#75ff00 802px,#75ff00 810px,#67ff00 812px,#67ff00 816px,#58ff00 818px,#49ff00 828px,#3bff00 830px,#3bff00 832px,#2cff00 834px,#2cff00 838px,#00ff00 848px,#00d700 925px)"></i>
<i style="top:120px;height:4px;background:linear-gradient(90deg,#00d700 0px,#00df00 40px,#00ff00 104px,#0fff00 106px,#0fff00 112px,#1dff00 114px,#1dff00 120px,#2cff00 122px,#2cff00 134px,#3bff00 136px,#3bff00 152px,#2cff00 154px,#1dff00 172px,#2cff00 174px,#2cff00 178px,#3bff00 180px,#3bff00 192px,#49ff00 194px,#49ff00 202px,#58ff00 204px,#58ff00 212px,#67ff00 214px,#67ff00 222px,#75ff00 224px,#75ff00 324px,#67ff00 326px,#67ff00 336px,#58ff00 338px,#58ff00 344px,#49ff00 346px,#49ff00 350px,#2cff00 354px,#2cff00 356px,#0fff00 360px,#0fff00 362px,#00ff00 364px,#00ea00 398px,#00ea00 566px,#00ff00 648px,#0fff00 650px,#0fff00 656px,#1dff00 658px,#1dff00 666px,#2cff00 668px,#2cff00 674px,#3bff00 676px,#3bff00 682px,#49ff00 684px,#49ff00 690px,#58ff00 692px,#58ff00 700px,#67ff00 702px,#67ff00 708px,#75ff00 710px,#75ff00 720px,#84ff00 722px,#84ff00 732px,#93ff00 734px,#93ff00 792px,#84ff00 794px,#84ff00 806px,#75ff00 808px,#75ff00 814px,#67ff00 816px,#67ff00 820px,#58ff00 822px,#58ff00 826px,#3bff00 832px,#3bff00 836px,#00ff00 850px,#00d700 925px)"></i>
<i style="top:124px;height:4px;background:linear-gradient(90deg,#00d700 0px,#00ff00 102px,#0fff00 104px,#0fff00 114px,#1dff00 116px,#1dff00 130px,#2cff00 132px,#2cff00 144px,#1dff00 146px,#1dff00 156px,#0fff00 158px,#0fff00 162px,#00ff00 164px,#00ff00 170px,#0fff00 172px,#1dff00 178px,#3bff00 182px,#3bff00 186px,#49ff00 188px,#49ff00 194px,#58ff00 196px,#58ff00 202px,#67ff00 204px,#67ff00 212px,#75ff00 214px,#75ff00 340px,#67ff00 342px,#67ff00 348px,#49ff00 354px,#49ff00 356px,#2cff00 360px,#2cff00 362px,#0fff00 366px,#0fff00 368px,#00ff00 370px,#00ea00 406px,#00ea00 568px,#00ff00 656px,#0fff00 658px,#0fff00 664px,#1dff00 666px,#1dff00 672px,#2cff00 674px,#2cff00 680px,#3bff00 682px,#3bff00 688px,#49ff00 690px,#49ff00 696px,#58ff00 698px,#58ff00 704px,#67ff00 706px,#75ff00 724px,#84ff00 726px,#84ff00 738px,#93ff00 740px,#93ff00 798px,#84ff00 800px,#84ff00 808px,#75ff00 810px,#75ff00 816px,#67ff00 818px,#67ff00 822px,#58ff00 824px,#49ff00 834px,#3bff00 836px,#3bff00 838px,#1dff00 844px,#1dff00 848px,#00ff00 854px,#00d700 925px)"></i>
<i style="top:128px;height:4px;background:linear-gradient(90deg,#00d700 0px,#00ff00 96px,#00ff00 106px,#0fff00 108px,#0fff00 148px,#00ff00 150px,#00ff00 176px,#3bff00 184px,#3bff00 186px,#58ff00 190px,#58ff00 192px,#67ff00 194px,#67ff00 202px,#75ff00 204px,#75ff00 350px,#3bff00 364px,#3bff00 366px,#00ff00 376px,#00ea00 412px,#00ea00 570px,#00ff00 662px,#0fff00 664px,#0fff00 668px,#1dff00 670px,#2cff00 684px,#3bff00 686px,#3bff00 692px,#49ff00 694px,#49ff00 702px,#58ff00 704px,#58ff00 710px,#67ff00 712px,#75ff00 730px,#84ff00 732px,#84ff00 742px,#93ff00 744px,#93ff00 802px,#84ff00 804px,#84ff00 812px,#75ff00 814px,#67ff00 824px,#58ff00 826px,#49ff00 836px,#3bff00 838px,#3bff00 840px,#2cff00 842px,#2cff00 846px,#00ff00 856px,#00da00 925px)"></i>
<i style="top:132px;height:4px;background:linear-gradient(90deg,#00da00 0px,#00df00 32px,#00ff00 94px,#00ff00 136px,#00f200 164px,#00ff00 180px,#1dff00 182px,#67ff00 192px,#67ff00 194px,#75ff00 196px,#75ff00 356px,#3bff00 370px,#3bff00 372px,#00ff00 382px,#00ea00 416px,#00ea00 574px,#00ff00 666px,#0fff00 668px,#1dff00 678px,#2cff00 680px,#3bff00 698px,#49ff00 700px,#49ff00 706px,#58ff00 708px,#58ff00 716px,#67ff00 718px,#67ff00 724px,#75ff00 726px,#75ff00 734px,#84ff00 736px,#84ff00 746px,#93ff00 748px,#93ff00 804px,#84ff00 806px,#84ff00 814px,#75ff00 816px,#75ff00 820px,#67ff00 822px,#67ff00 828px,#49ff00 834px,#3bff00 844px,#00ff00 858px,#00da00 925px)"></i>
<i style="top:136px;height:4px;background:linear-gradient(90deg,#00da00 0px,#00ff00 92px,#00ec00 160px,#00ec00 170px,#00ff00 182px,#1dff00 184px,#3bff00 188px,#58ff00 190px,#75ff00 196px,#75ff00 362px,#67ff00 364px,#67ff00 368px,#58ff00 370px,#58ff00 372px,#3bff00 376px,#2cff00 382px,#00ff00 388px,#00ea00 414px,#00ea00 478px,#00ea00 580px,#00ff00 668px,#0fff00 670px,#0fff00 674px,#1dff00 676px,#1dff00 682px,#2cff00 684px,#2cff00 692px,#3bff00 694px,#3bff00 702px,#49ff00 704px,#49ff00 712px,#58ff00 714px,#58ff00 720px,#67ff00 722px,#75ff00 740px,#84ff00 742px,#84ff00 752px,#93ff00 754px,#93ff00 806px,#84ff00 808px,#84ff00 816px,#75ff00 818px,#75ff00 824px,#67ff00 826px,#67ff00 830px,#58ff00 832px,#58ff00 836px,#3bff00 842px,#3bff00 846px,#00ff00 860px,#00da00 925px)"></i>
<i style="top:140px;height:4px;background:linear-gradient(90deg,#00da00 0px,#00fc00 82px,#00e400 168px,#00fc00 182px,#1dff00 186px,#3bff00 188px,#67ff00 194px,#67ff00 196px,#75ff00 198px,#67ff00 200px,#67ff00 214px,#58ff00 216px,#58ff00 224px,#67ff00 226px,#67ff00 236px,#75ff00 238px,#75ff00 368px,#67ff00 370px,#67ff00 374px,#49ff00 380px,#49ff00 382px,#2cff00 386px,#2cff00 388px,#00ff00 394px,#00e700 420px,#00e700 454px,#00ea00 590px,#00ff00 668px,#0fff00 670px,#0fff00 674px,#1dff00 676px,#1dff00 682px,#2cff00 684px,#2cff00 696px,#3bff00 698px,#3bff00 706px,#49ff00 708px,#49ff00 716px,#58ff00 718px,#58ff00 724px,#67ff00 726px,#75ff00 744px,#84ff00 746px,#84ff00 756px,#93ff00 758px,#93ff00 810px,#84ff00 812px,#84ff00 818px,#75ff00 820px,#75ff00 826px,#67ff00 828px,#67ff00 832px,#58ff00 834px,#58ff00 838px,#3bff00 844px,#3bff00 848px,#00ff00 862px,#00dc00 925px)"></i>
<i style="top:144px;height:4px;background:linear-gradient(90deg,#00da00 0px,#00fc00 78px,#00fc00 98px,#00dc00 168px,#00ff00 184px,#1dff00 186px,#58ff00 194px,#49ff00 196px,#49ff00 202px,#3bff00 204px,#3bff00 210px,#2cff00 212px,#2cff00 226px,#3bff00 228px,#3bff00 232px,#49ff00 234px,#49ff00 238px,#58ff00 240px,#58ff00 246px,#67ff00 248px,#67ff00 256px,#75ff00 258px,#75ff00 376px,#58ff00 382px,#49ff00 388px,#2cff00 392px,#2cff00 394px,#00ff00 400px,#00ea00 418px,#00e400 436px,#00ea00 600px,#00ff00 668px,#0fff00 670px,#0fff00 674px,#1dff00 676px,#1dff00 682px,#2cff00 684px,#2cff00 698px,#3bff00 700px,#3bff00 710px,#49ff00 712px,#58ff00 730px,#67ff00 732px,#67ff00 738px,#75ff00 740px,#75ff00 748px,#84ff00 750px,#84ff00 760px,#93ff00 762px,#93ff00 812px,#84ff00 814px,#84ff00 820px,#75ff00 822px,#75ff00 828px,#67ff00 830px,#67ff00 834px,#58ff00 836px,#49ff00 846px,#3bff00 848px,#1dff00 858px,#0fff00 860px,#0fff00 864px,#00ff00 866px,#00dc00 925px)"></i>
<i style="top:148px;height:4px;background:linear-gradient(90deg,#00da00 0px,#00fc00 92px,#00d400 166px,#00ff00 188px,#0fff00 190px,#0fff00 192px,#00ff00 194px,#00f400 218px,#00ff00 240px,#1dff00 246px,#1dff00 250px,#2cff00 252px,#2cff00 258px,#49ff00 262px,#58ff00 268px,#75ff00 272px,#67ff00 274px,#75ff00 276px,#75ff00 382px,#58ff00 388px,#49ff00 394px,#00ff00 404px,#00e400 426px,#00e200 442px,#00ea00 608px,#00ff00 668px,#1dff00 674px,#1dff00 678px,#2cff00 680px,#2cff00 698px,#3bff00 700px,#3bff00 712px,#49ff00 714px,#49ff00 724px,#58ff00 726px,#58ff00 734px,#67ff00 736px,#67ff00 742px,#75ff00 744px,#75ff00 752px,#84ff00 754px,#84ff00 764px,#93ff00 766px,#93ff00 814px,#84ff00 816px,#84ff00 824px,#75ff00 826px,#67ff00 836px,#58ff00 838px,#49ff00 848px,#3bff00 850px,#3bff00 852px,#1dff00 858px,#1dff00 862px,#00ff00 868px,#00dc00 925px)"></i>
<i style="top:152px;height:4px;background:linear-gradient(90deg,#00da00 0px,#00fc00 86px,#00cc00 168px,#00ec00 186px,#00dc00 222px,#00ff00 268px,#1dff00 272px,#3bff00 274px,#3bff00 276px,#67ff00 282px,#67ff00 286px,#75ff00 288px,#75ff00 388px,#58ff00 394px,#58ff00 396px,#00ff00 408px,#00df00 436px,#00df00 464px,#00ea00 616px,#00ff00 666px,#1dff00 672px,#1dff00 676px,#2cff00 678px,#2cff00 696px,#3bff00 698px,#3bff00 714px,#49ff00 716px,#49ff00 726px,#58ff00 728px,#58ff00 736px,#67ff00 738px,#75ff00 756px,#84ff00 758px,#84ff00 768px,#93ff00 770px,#93ff00 816px,#84ff00 818px,#84ff00 826px,#75ff00 828px,#67ff00 838px,#58ff00 840px,#49ff00 850px,#3bff00 852px,#3bff00 854px,#1dff00 860px,#1dff00 864px,#00ff00 870px,#00dc00 925px)"></i>
<i style="top:156px;height:4px;background:linear-gradient(90deg,#00da00 0px,#00fa00 66px,#00fa00 88px,#00bf00 164px,#00cf00 180px,#00c200 226px,#00d700 258px,#00ff00 282px,#1dff00 284px,#49ff00 290px,#49ff00 292px,#67ff00 296px,#67ff00 300px,#75ff00 302px,#75ff00 394px,#58ff00 398px,#58ff00 400px,#00ff00 412px,#00df00 434px,#00dc00 462px,#00ea00 616px,#00ff00 664px,#1dff00 670px,#1dff00 674px,#3bff00 680px,#3bff00 716px,#49ff00 718px,#49ff00 730px,#58ff00 732px,#58ff00 740px,#67ff00 742px,#75ff00 760px,#84ff00 762px,#84ff00 772px,#93ff00 774px,#93ff00 818px,#84ff00 820px,#84ff00 828px,#75ff00 830px,#67ff00 840px,#58ff00 842px,#49ff00 852px,#2cff00 858px,#2cff00 862px,#00ff00 872px,#00df00 925px)"></i>
<i style="top:160px;height:4px;background:linear-gradient(90deg,#00dc00 0px,#00fa00 82px,#00b200 164px,#00b700 178px,#00aa00 222px,#00bf00 262px,#00ff00 294px,#67ff00 308px,#67ff00 312px,#75ff00 314px,#75ff00 398px,#67ff00 400px,#67ff00 402px,#00fc00 416px,#00d700 446px,#00d700 472px,#00ea00 614px,#00ff00 662px,#3bff00 676px,#3bff00 712px,#49ff00 714px,#49ff00 732px,#58ff00 734px,#58ff00 744px,#67ff00 746px,#75ff00 764px,#84ff00 766px,#84ff00 776px,#93ff00 778px,#93ff00 820px,#84ff00 822px,#84ff00 830px,#75ff00 832px,#75ff00 838px,#67ff00 840px,#67ff00 844px,#58ff00 846px,#58ff00 848px,#49ff00 850px,#49ff00 854px,#2cff00 860px,#2cff00 864px,#00ff00 874px,#00df00 925px)"></i>
<i style="top:164px;height:4px;background:linear-gradient(90deg,#00dc00 0px,#00fa00 76px,#00ea00 102px,#00a400 166px,#009c00 232px,#00aa00 262px,#00ff00 308px,#1dff00 310px,#49ff00 316px,#49ff00 318px,#67ff00 322px,#67ff00 326px,#75ff00 328px,#75ff00 402px,#67ff00 404px,#67ff00 406px,#1dff00 416px,#00ff00 418px,#00d200 452px,#00ea00 610px,#00ff00 658px,#2cff00 668px,#2cff00 672px,#3bff00 674px,#3bff00 676px,#49ff00 678px,#49ff00 732px,#58ff00 734px,#58ff00 746px,#67ff00 748px,#67ff00 758px,#75ff00 760px,#75ff00 768px,#84ff00 770px,#84ff00 780px,#93ff00 782px,#93ff00 824px,#84ff00 826px,#84ff00 832px,#75ff00 834px,#75ff00 840px,#67ff00 842px,#67ff00 846px,#49ff00 852px,#49ff00 856px,#2cff00 862px,#2cff00 866px,#00ff00 876px,#00df00 925px)"></i>
<i style="top:168px;height:4px;background:linear-gradient(90deg,#00dc00 0px,#00f700 56px,#00f700 78px,#00e700 100px,#00bc00 130px,#009a00 166px,#009a08 180px,#009b13 182px,#009b13 238px,#009a08 240px,#009a00 258px,#00ac00 278px,#00ff00 320px,#3bff00 326px,#3bff00 328px,#67ff00 334px,#67ff00 338px,#75ff00 340px,#75ff00 406px,#67ff00 408px,#67ff00 410px,#1dff00 420px,#00ff00 422px,#00cf00 452px,#00cf00 460px,#00df00 572px,#00ff00 654px,#2cff00 664px,#2cff00 668px,#58ff00 678px,#58ff00 696px,#49ff00 698px,#49ff00 732px,#58ff00 734px,#58ff00 748px,#67ff00 750px,#75ff00 772px,#84ff00 774px,#84ff00 784px,#93ff00 786px,#93ff00 826px,#84ff00 828px,#84ff00 834px,#75ff00 836px,#75ff00 842px,#67ff00 844px,#67ff00 848px,#49ff00 854px,#49ff00 858px,#2cff00 864px,#2cff00 868px,#00ff00 878px,#00e200 925px)"></i>
<i style="top:172px;height:4px;background:linear-gradient(90deg,#00dc00 0px,#00f700 72px,#00e400 98px,#00af00 132px,#009a00 156px,#009e28 174px,#009e28 238px,#009d1d 240px,#009d1d 252px,#009b13 254px,#009b13 262px,#009a00 272px,#00ba00 300px,#00ff00 332px,#1dff00 336px,#3bff00 338px,#49ff00 340px,#58ff00 346px,#75ff00 350px,#75ff00 410px,#67ff00 412px,#67ff00 414px,#1dff00 424px,#00ff00 426px,#00ca00 454px,#00ca00 480px,#00da00 566px,#00ff00 648px,#1dff00 654px,#1dff00 658px,#3bff00 664px,#3bff00 668px,#58ff00 674px,#58ff00 678px,#67ff00 680px,#67ff00 690px,#58ff00 692px,#58ff00 750px,#67ff00 752px,#75ff00 774px,#84ff00 776px,#84ff00 786px,#93ff00 788px,#93ff00 828px,#84ff00 830px,#84ff00 836px,#75ff00 838px,#75ff00 844px,#67ff00 846px,#67ff00 850px,#49ff00 856px,#49ff00 860px,#3bff00 862px,#3bff00 864px,#1dff00 870px,#1dff00 874px,#00ff00 880px,#00e200 925px)"></i>
<i style="top:176px;height:4px;background:linear-gradient(90deg,#00dc00 0px,#00f400 72px,#00df00 98px,#00a700 130px,#009a00 148px,#009f33 168px,#009f33 240px,#009e28 242px,#009d1d 268px,#009b13 270px,#009b13 278px,#009a00 284px,#009a00 288px,#00b400 310px,#00fc00 344px,#58ff00 356px,#58ff00 358px,#75ff00 364px,#75ff00 416px,#1dff00 428px,#00ff00 430px,#00c700 454px,#00c400 470px,#00d700 570px,#00ff00 642px,#0fff00 644px,#0fff00 648px,#1dff00 650px,#1dff00 652px,#3bff00 658px,#3bff00 662px,#58ff00 668px,#58ff00 672px,#67ff00 674px,#67ff00 678px,#75ff00 680px,#75ff00 690px,#67ff00 692px,#67ff00 706px,#58ff00 708px,#58ff00 750px,#67ff00 752px,#67ff00 766px,#75ff00 768px,#75ff00 778px,#84ff00 780px,#84ff00 790px,#93ff00 792px,#93ff00 830px,#84ff00 832px,#84ff00 838px,#75ff00 840px,#75ff00 846px,#67ff00 848px,#67ff00 852px,#49ff00 858px,#49ff00 862px,#3bff00 864px,#3bff00 866px,#1dff00 872px,#1dff00 876px,#00ff00 882px,#00e400 925px)"></i>
<i style="top:180px;height:4px;background:linear-gradient(90deg,#00dc00 0px,#00f200 46px,#00ef00 72px,#00d700 100px,#00ac00 120px,#009a00 138px,#009d1d 148px,#009d1d 152px,#00a13d 166px,#00a13d 172px,#00a248 174px,#00a248 228px,#00a13d 230px,#00a13d 242px,#009f33 244px,#009d1d 284px,#009b13 286px,#009a00 302px,#00af00 320px,#00ff00 358px,#58ff00 370px,#58ff00 372px,#67ff00 374px,#67ff00 378px,#75ff00 380px,#75ff00 420px,#1dff00 432px,#00ff00 434px,#00c700 454px,#00bf00 472px,#00d200 568px,#00ff00 636px,#1dff00 642px,#1dff00 646px,#3bff00 652px,#49ff00 662px,#67ff00 668px,#75ff00 678px,#84ff00 680px,#84ff00 688px,#75ff00 690px,#75ff00 704px,#67ff00 706px,#67ff00 726px,#58ff00 728px,#58ff00 750px,#67ff00 752px,#67ff00 768px,#75ff00 770px,#75ff00 780px,#84ff00 782px,#84ff00 794px,#93ff00 796px,#93ff00 832px,#84ff00 834px,#84ff00 840px,#75ff00 842px,#75ff00 848px,#67ff00 850px,#67ff00 854px,#49ff00 860px,#49ff00 864px,#3bff00 866px,#3bff00 868px,#1dff00 874px,#1dff00 878px,#00ff00 884px,#00e400 925px)"></i>
<i style="top:184px;height:4px;background:linear-gradient(90deg,#00dc00 0px,#00ef00 42px,#00e700 76px,#00c400 108px,#009a00 128px,#009d1d 138px,#009d1d 142px,#009f33 150px,#009f33 156px,#00a248 164px,#00a248 170px,#00a353 172px,#00a353 232px,#00a248 234px,#00a248 244px,#00a13d 246px,#00a13d 258px,#009f33 260px,#009d1d 300px,#009a00 316px,#00b400 336px,#00ff00 372px,#67ff00 386px,#67ff00 392px,#75ff00 394px,#75ff00 424px,#3bff00 432px,#00ff00 436px,#00c200 456px,#00ba00 462px,#00cc00 566px,#00e200 606px,#00ff00 632px,#1dff00 636px,#1dff00 638px,#2cff00 640px,#3bff00 650px,#58ff00 656px,#58ff00 660px,#67ff00 662px,#75ff00 672px,#84ff00 674px,#84ff00 678px,#93ff00 680px,#93ff00 688px,#84ff00 690px,#84ff00 706px,#75ff00 708px,#75ff00 724px,#67ff00 726px,#67ff00 770px,#75ff00 772px,#75ff00 782px,#84ff00 784px,#84ff00 796px,#93ff00 798px,#93ff00 834px,#84ff00 836px,#75ff00 850px,#58ff00 856px,#49ff00 866px,#3bff00 868px,#1dff00 878px,#0fff00 880px,#0fff00 884px,#00ff00 886px,#00e400 925px)"></i>
<i style="top:188px;height:4px;background:linear-gradient(90deg,#00df00 0px,#00ec00 38px,#00df00 78px,#00c400 104px,#009a00 124px,#009d1d 130px,#009d1d 134px,#009f33 142px,#009f33 148px,#00a248 156px,#00a248 162px,#00a55d 170px,#00a55d 236px,#00a353 238px,#00a248 260px,#00a13d 262px,#009e28 306px,#009d1d 308px,#009b13 322px,#009a00 328px,#00b200 348px,#00ff00 386px,#3bff00 392px,#3bff00 394px,#58ff00 398px,#58ff00 400px,#75ff00 406px,#75ff00 428px,#58ff00 432px,#00ff00 438px,#00cf00 452px,#00b400 464px,#00c700 566px,#00dc00 604px,#00ff00 632px,#3bff00 640px,#3bff00 642px,#49ff00 644px,#58ff00 654px,#67ff00 656px,#75ff00 666px,#84ff00 668px,#84ff00 672px,#93ff00 674px,#93ff00 680px,#a1ff00 682px,#a1ff00 690px,#93ff00 692px,#93ff00 712px,#84ff00 714px,#84ff00 724px,#75ff00 726px,#75ff00 736px,#67ff00 738px,#67ff00 770px,#75ff00 772px,#75ff00 786px,#84ff00 788px,#84ff00 800px,#93ff00 802px,#93ff00 836px,#84ff00 838px,#84ff00 844px,#75ff00 846px,#67ff00 856px,#58ff00 858px,#49ff00 868px,#00ff00 886px,#00e700 925px)"></i>
<i style="top:192px;height:4px;background:linear-gradient(90deg,#00df00 0px,#00ea00 46px,#00d700 82px,#00ba00 106px,#009c00 120px,#009d1d 126px,#009f33 134px,#009f33 140px,#00a248 148px,#00a248 154px,#00a773 176px,#00a773 228px,#00a668 230px,#00a55d 252px,#00a353 254px,#00a248 276px,#00a13d 278px,#009e28 324px,#009a00 342px,#00b200 362px,#00ff00 400px,#67ff00 414px,#67ff00 420px,#75ff00 422px,#75ff00 430px,#58ff00 434px,#00ff00 440px,#00bf00 458px,#00af00 468px,#00c400 570px,#00df00 612px,#00ff00 634px,#1dff00 636px,#2cff00 638px,#3bff00 640px,#3bff00 642px,#58ff00 646px,#58ff00 648px,#75ff00 654px,#84ff00 664px,#93ff00 666px,#93ff00 672px,#a1ff00 674px,#a1ff00 678px,#b0ff00 680px,#b0ff00 696px,#a1ff00 698px,#a1ff00 718px,#93ff00 720px,#93ff00 728px,#84ff00 730px,#84ff00 738px,#75ff00 740px,#75ff00 752px,#67ff00 754px,#67ff00 770px,#75ff00 772px,#75ff00 790px,#84ff00 792px,#84ff00 804px,#93ff00 806px,#93ff00 838px,#84ff00 840px,#84ff00 846px,#75ff00 848px,#75ff00 852px,#67ff00 854px,#67ff00 858px,#58ff00 860px,#58ff00 864px,#3bff00 870px,#3bff00 874px,#00ff00 888px,#00e700 925px)"></i>
<i style="top:196px;height:4px;background:linear-gradient(90deg,#00df00 0px,#00e700 48px,#00ca00 90px,#009a00 118px,#009e28 126px,#00a13d 134px,#00a248 146px,#00a668 160px,#00a668 166px,#00a97d 174px,#00a97d 232px,#00a773 234px,#00a353 280px,#00a248 282px,#00a248 296px,#00a13d 298px,#00a13d 312px,#009f33 314px,#009f33 330px,#009e28 332px,#009d1d 346px,#009a00 356px,#00b200 376px,#00ff00 414px,#1dff00 416px,#49ff00 422px,#49ff00 424px,#58ff00 426px,#58ff00 434px,#3bff00 438px,#00ff00 442px,#00bc00 460px,#00ac00 468px,#00bc00 564px,#00d700 608px,#00ff00 634px,#58ff00 646px,#58ff00 648px,#75ff00 652px,#75ff00 654px,#93ff00 658px,#93ff00 662px,#a1ff00 664px,#a1ff00 670px,#b0ff00 672px,#b0ff00 678px,#bcff00 680px,#bcff00 712px,#b0ff00 714px,#b0ff00 722px,#a1ff00 724px,#a1ff00 732px,#93ff00 734px,#93ff00 742px,#84ff00 744px,#84ff00 750px,#75ff00 752px,#75ff00 792px,#84ff00 794px,#84ff00 806px,#93ff00 808px,#93ff00 840px,#84ff00 842px,#84ff00 848px,#75ff00 850px,#75ff00 854px,#67ff00 856px,#67ff00 860px,#58ff00 862px,#58ff00 866px,#3bff00 872px,#3bff00 876px,#00ff00 890px,#00e700 925px)"></i>
<i style="top:200px;height:4px;background:linear-gradient(90deg,#00df00 0px,#00e700 44px,#00c700 86px,#009c00 114px,#009f33 124px,#00a248 132px,#00a248 138px,#00a668 152px,#00a668 158px,#00aa88 172px,#00aa88 236px,#00a97d 238px,#00a773 260px,#00a668 262px,#00a55d 284px,#00a353 286px,#00a353 300px,#00a248 302px,#009f33 346px,#009e28 348px,#009e28 356px,#009b13 362px,#009b13 366px,#009a00 370px,#00a700 384px,#00ff00 428px,#1dff00 434px,#1dff00 440px,#00fc00 444px,#00ba00 462px,#00a700 472px,#00bf00 578px,#00d200 608px,#00ff00 636px,#84ff00 654px,#84ff00 656px,#a1ff00 660px,#bcff00 670px,#c0fd00 682px,#bcff00 730px,#b0ff00 732px,#b0ff00 740px,#a1ff00 742px,#93ff00 752px,#84ff00 754px,#84ff00 762px,#75ff00 764px,#75ff00 796px,#84ff00 798px,#84ff00 810px,#93ff00 812px,#93ff00 840px,#84ff00 842px,#84ff00 850px,#75ff00 852px,#75ff00 856px,#67ff00 858px,#67ff00 862px,#58ff00 864px,#58ff00 868px,#3bff00 874px,#3bff00 876px,#2cff00 878px,#2cff00 882px,#00ff00 892px,#00ea00 925px)"></i>
<i style="top:204px;height:4px;background:linear-gradient(90deg,#00df00 0px,#00e400 46px,#00bf00 88px,#009a00 112px,#009f33 120px,#009f33 122px,#00a248 126px,#00a248 130px,#00a668 144px,#00a668 150px,#00aa88 164px,#00aa8d 178px,#00aa88 252px,#00a97d 254px,#00a773 276px,#00a668 278px,#00a668 290px,#00a55d 292px,#00a55d 306px,#00a353 308px,#00a353 320px,#00a248 322px,#00a248 336px,#00a13d 338px,#009f33 364px,#009e28 366px,#009e28 372px,#009a00 386px,#00f400 440px,#00ef00 448px,#00ac00 468px,#00a400 494px,#00b200 562px,#00c400 596px,#00ff00 638px,#0fff00 640px,#2cff00 642px,#67ff00 650px,#93ff00 656px,#93ff00 658px,#b0ff00 662px,#bcff00 666px,#c4fc00 684px,#bcff00 748px,#93ff00 758px,#93ff00 762px,#84ff00 764px,#84ff00 772px,#75ff00 774px,#75ff00 800px,#84ff00 802px,#84ff00 812px,#93ff00 814px,#93ff00 842px,#84ff00 844px,#84ff00 852px,#75ff00 854px,#67ff00 864px,#49ff00 870px,#49ff00 874px,#3bff00 876px,#3bff00 878px,#1dff00 884px,#1dff00 888px,#00ff00 894px,#00ea00 925px)"></i>
<i style="top:208px;height:4px;background:linear-gradient(90deg,#00df00 0px,#00e200 48px,#009a00 110px,#00a248 122px,#00a55d 130px,#00a668 142px,#00aa88 156px,#00aa90 178px,#00aa88 268px,#00a97d 270px,#00a97d 280px,#00a773 282px,#00a773 296px,#00a668 298px,#00a668 310px,#00a55d 312px,#00a55d 326px,#00a353 328px,#00a13d 372px,#009f33 374px,#009e28 388px,#009a00 398px,#00df00 446px,#00da00 454px,#00a200 474px,#00a400 522px,#00ac00 560px,#00c700 606px,#00ff00 640px,#1dff00 642px,#3bff00 646px,#58ff00 648px,#b0ff00 660px,#c4fc00 674px,#ccf900 708px,#ccf900 738px,#bcff00 756px,#93ff00 766px,#93ff00 770px,#84ff00 772px,#84ff00 778px,#75ff00 780px,#75ff00 802px,#84ff00 804px,#84ff00 816px,#93ff00 818px,#93ff00 844px,#84ff00 846px,#75ff00 860px,#67ff00 862px,#67ff00 866px,#49ff00 872px,#49ff00 876px,#00ff00 894px,#00ec00 925px)"></i>
<i style="top:212px;height:4px;background:linear-gradient(90deg,#00df00 0px,#00e200 46px,#009a00 108px,#00a55d 124px,#00a668 128px,#00a773 140px,#00aa88 148px,#00aa93 178px,#00aa88 286px,#00a97d 288px,#00a97d 300px,#00a773 302px,#00a773 316px,#00a668 318px,#00a668 332px,#00a55d 334px,#00a55d 346px,#00a353 348px,#00a353 362px,#00a248 364px,#00a13d 388px,#009d1d 400px,#009d1d 404px,#009a00 412px,#00ca00 452px,#00c400 460px,#00a700 470px,#009c00 478px,#00a400 542px,#00bf00 602px,#00ff00 640px,#1dff00 644px,#67ff00 650px,#bcff00 662px,#d4f700 716px,#ccf900 750px,#bcff00 762px,#93ff00 772px,#93ff00 776px,#84ff00 778px,#84ff00 786px,#75ff00 788px,#75ff00 806px,#84ff00 808px,#84ff00 818px,#93ff00 820px,#93ff00 846px,#84ff00 848px,#84ff00 854px,#75ff00 856px,#75ff00 862px,#58ff00 868px,#58ff00 872px,#3bff00 878px,#3bff00 882px,#00ff00 896px,#00ec00 925px)"></i>
<i style="top:216px;height:4px;background:linear-gradient(90deg,#00df00 0px,#00e200 44px,#009a00 106px,#00a55d 122px,#00a97d 132px,#00aa95 180px,#00aa88 306px,#00a97d 308px,#00a773 336px,#00a668 338px,#00a353 382px,#00a248 384px,#009e28 412px,#009a00 426px,#00b700 460px,#009a00 476px,#00a200 546px,#00ba00 600px,#00ff00 642px,#75ff00 652px,#bcff00 660px,#ccf900 676px,#e0f300 732px,#e0f300 740px,#c0fd00 764px,#a1ff00 772px,#93ff00 782px,#84ff00 784px,#84ff00 790px,#75ff00 792px,#75ff00 808px,#84ff00 810px,#84ff00 822px,#93ff00 824px,#93ff00 848px,#84ff00 850px,#84ff00 856px,#75ff00 858px,#75ff00 862px,#67ff00 864px,#67ff00 868px,#58ff00 870px,#58ff00 874px,#3bff00 880px,#3bff00 882px,#2cff00 884px,#2cff00 888px,#00ff00 898px,#00ec00 925px)"></i>
<i style="top:220px;height:4px;background:linear-gradient(90deg,#00df00 0px,#00e400 34px,#00dc00 50px,#009a00 104px,#00a55d 122px,#00a55d 124px,#00aa88 134px,#00aa95 172px,#00aa88 326px,#00a97d 328px,#00a97d 342px,#00a773 344px,#00a773 358px,#00a668 360px,#00a55d 384px,#00a248 394px,#00a248 402px,#00a13d 404px,#009f33 418px,#009e28 420px,#009a00 446px,#00a200 458px,#009a08 474px,#009f00 550px,#00b400 598px,#00d400 622px,#00fc00 642px,#1dff00 646px,#58ff00 650px,#67ff00 652px,#b0ff00 658px,#bcff00 660px,#d0f800 676px,#d4f700 702px,#e8f000 732px,#e4f100 746px,#bcff00 772px,#a1ff00 778px,#93ff00 788px,#84ff00 790px,#84ff00 794px,#75ff00 796px,#75ff00 812px,#84ff00 814px,#84ff00 824px,#93ff00 826px,#93ff00 850px,#84ff00 852px,#84ff00 858px,#75ff00 860px,#67ff00 870px,#49ff00 876px,#49ff00 880px,#3bff00 882px,#1dff00 892px,#0fff00 894px,#0fff00 898px,#00ff00 900px,#00ef00 925px)"></i>
<i style="top:224px;height:4px;background:linear-gradient(90deg,#00e200 0px,#00e400 34px,#00da00 52px,#009c00 102px,#00a55d 122px,#00a55d 124px,#00aa88 134px,#00aa98 176px,#00aa88 346px,#00a97d 348px,#00a773 378px,#00a668 380px,#00a55d 396px,#00a353 398px,#00a248 412px,#00a13d 414px,#00a13d 422px,#009e28 432px,#009d1d 452px,#009a08 460px,#009a08 466px,#009b13 468px,#009b13 490px,#009a08 492px,#009a08 514px,#009a00 516px,#009c00 550px,#00af00 596px,#00d400 624px,#00ff00 644px,#1dff00 646px,#2cff00 648px,#84ff00 654px,#bcff00 660px,#d0f800 670px,#efed00 732px,#ecef00 746px,#bcff00 778px,#84ff00 792px,#84ff00 796px,#75ff00 798px,#75ff00 814px,#84ff00 816px,#84ff00 826px,#93ff00 828px,#93ff00 850px,#84ff00 852px,#84ff00 860px,#75ff00 862px,#67ff00 872px,#49ff00 878px,#49ff00 882px,#00ff00 900px,#00ef00 925px)"></i>
<i style="top:228px;height:4px;background:linear-gradient(90deg,#00e200 0px,#00dc00 48px,#009a00 102px,#00a13d 114px,#00a13d 116px,#00a55d 122px,#00a773 130px,#00aa88 134px,#00aa98 168px,#00aa88 368px,#00a97d 370px,#00a97d 380px,#00a773 382px,#00a773 390px,#00a668 392px,#00a55d 406px,#00a248 416px,#00a248 424px,#009f33 434px,#009f33 446px,#009e28 448px,#009a00 550px,#00b400 604px,#00d400 626px,#00fc00 644px,#0fff00 646px,#49ff00 650px,#58ff00 652px,#93ff00 656px,#bcff00 660px,#d4f700 674px,#f1e700 734px,#efed00 748px,#bcff00 782px,#a1ff00 786px,#93ff00 792px,#84ff00 794px,#84ff00 798px,#75ff00 800px,#75ff00 816px,#84ff00 818px,#84ff00 828px,#93ff00 830px,#93ff00 852px,#84ff00 854px,#84ff00 860px,#75ff00 862px,#75ff00 866px,#67ff00 868px,#67ff00 872px,#58ff00 874px,#58ff00 878px,#3bff00 884px,#3bff00 888px,#00ff00 902px,#00ef00 925px)"></i>
<i style="top:232px;height:4px;background:linear-gradient(90deg,#00e200 0px,#00dc00 48px,#009a00 102px,#009f33 112px,#009f33 114px,#00aa88 134px,#00aa98 160px,#00aa98 268px,#00aa88 384px,#00a97d 386px,#00a773 400px,#00a668 402px,#00a55d 416px,#00a353 418px,#00a248 434px,#00a13d 436px,#00a13d 452px,#009f33 454px,#009f33 470px,#009e28 472px,#009e28 492px,#009d1d 494px,#009d1d 512px,#009b13 514px,#009b13 532px,#009a08 534px,#009a00 560px,#00b200 604px,#00d400 628px,#00ff00 646px,#75ff00 654px,#c0fd00 662px,#dcf400 682px,#f4e200 738px,#efed00 752px,#c0fd00 782px,#a1ff00 788px,#93ff00 794px,#84ff00 796px,#84ff00 800px,#75ff00 802px,#75ff00 818px,#84ff00 820px,#84ff00 832px,#93ff00 834px,#93ff00 854px,#84ff00 856px,#84ff00 862px,#75ff00 864px,#75ff00 868px,#67ff00 870px,#67ff00 874px,#58ff00 876px,#58ff00 880px,#3bff00 886px,#1dff00 896px,#0fff00 898px,#0fff00 902px,#00ff00 904px,#00f200 925px)"></i>
<i style="top:236px;height:4px;background:linear-gradient(90deg,#00e200 0px,#00df00 44px,#009a00 102px,#009f33 112px,#009f33 114px,#00aa88 134px,#00aa98 156px,#00aa98 288px,#00aa88 394px,#00a97d 396px,#00a773 410px,#00a668 412px,#00a55d 428px,#00a353 430px,#00a353 440px,#00a248 442px,#00a13d 474px,#009f33 476px,#009f33 494px,#009e28 496px,#009e28 514px,#009d1d 516px,#009d1d 530px,#009b13 532px,#009b13 548px,#009a08 550px,#009a00 570px,#00ba00 612px,#00d700 630px,#00ff00 646px,#58ff00 652px,#67ff00 654px,#a1ff00 658px,#c0fd00 662px,#e8f000 694px,#f5df00 736px,#efed00 756px,#c4fc00 782px,#bcff00 786px,#93ff00 794px,#84ff00 804px,#75ff00 806px,#75ff00 822px,#84ff00 824px,#84ff00 834px,#93ff00 836px,#93ff00 854px,#84ff00 856px,#84ff00 864px,#75ff00 866px,#67ff00 876px,#49ff00 882px,#49ff00 886px,#00ff00 904px,#00f200 925px)"></i>
<i style="top:240px;height:4px;background:linear-gradient(90deg,#00e200 0px,#00e400 28px,#00da00 50px,#009a00 102px,#009f33 112px,#009f33 114px,#00aa88 134px,#00aa98 160px,#00aa98 308px,#00aa88 404px,#00a97d 406px,#00a97d 414px,#00a773 416px,#00a773 422px,#00a55d 432px,#00a353 460px,#00a248 462px,#00a248 478px,#00a13d 480px,#00a13d 498px,#009f33 500px,#009f33 516px,#009e28 518px,#009e28 532px,#009d1d 534px,#009d1d 546px,#009b13 548px,#009b13 556px,#009a08 558px,#009a00 578px,#00bc00 616px,#00ff00 646px,#84ff00 656px,#bcff00 662px,#ecef00 694px,#f7dd00 734px,#e8f000 766px,#bcff00 788px,#b0ff00 792px,#93ff00 796px,#84ff00 806px,#75ff00 808px,#75ff00 824px,#84ff00 826px,#84ff00 836px,#93ff00 838px,#93ff00 856px,#84ff00 858px,#84ff00 864px,#75ff00 866px,#75ff00 870px,#67ff00 872px,#67ff00 876px,#58ff00 878px,#58ff00 882px,#3bff00 888px,#3bff00 890px,#2cff00 892px,#2cff00 896px,#00ff00 906px,#00f200 925px)"></i>
<i style="top:244px;height:4px;background:linear-gradient(90deg,#00e200 0px,#00da00 50px,#009a00 102px,#00aa88 134px,#00aa98 162px,#00aa98 328px,#00aa88 416px,#00a97d 418px,#00a773 434px,#00a668 436px,#00a55d 466px,#00a353 468px,#00a353 484px,#00a248 486px,#00a248 502px,#00a13d 504px,#00a13d 518px,#009f33 520px,#009f33 534px,#009e28 536px,#009e28 548px,#009b13 558px,#009a00 582px,#00b700 612px,#00ff00 646px,#84ff00 656px,#bcff00 662px,#ecef00 692px,#f8da00 732px,#ecef00 766px,#bcff00 790px,#84ff00 804px,#84ff00 808px,#75ff00 810px,#75ff00 826px,#84ff00 828px,#84ff00 838px,#93ff00 840px,#93ff00 858px,#84ff00 860px,#84ff00 866px,#75ff00 868px,#67ff00 878px,#49ff00 884px,#49ff00 888px,#00ff00 906px,#00f400 925px)"></i>
<i style="top:248px;height:4px;background:linear-gradient(90deg,#00e200 0px,#00da00 50px,#009a00 104px,#00a353 120px,#00aa88 138px,#00aa98 166px,#00aa98 350px,#00aa88 426px,#00a97d 428px,#00a773 454px,#00a668 456px,#00a668 472px,#00a55d 474px,#00a55d 490px,#00a353 492px,#00a353 508px,#00a248 510px,#00a248 522px,#00a13d 524px,#00a13d 538px,#009f33 540px,#009f33 548px,#009d1d 558px,#009d1d 564px,#009b13 566px,#009b13 574px,#009a08 576px,#009a00 586px,#00c200 618px,#00ff00 646px,#84ff00 656px,#bcff00 662px,#ecef00 690px,#f9d700 734px,#ecef00 768px,#bcff00 794px,#a1ff00 798px,#93ff00 804px,#84ff00 806px,#84ff00 810px,#75ff00 812px,#75ff00 828px,#84ff00 830px,#84ff00 840px,#93ff00 842px,#93ff00 858px,#84ff00 860px,#84ff00 866px,#75ff00 868px,#75ff00 874px,#58ff00 880px,#58ff00 884px,#3bff00 890px,#3bff00 894px,#00ff00 908px,#00f400 925px)"></i>
<i style="top:252px;height:4px;background:linear-gradient(90deg,#00e200 0px,#00dc00 48px,#009a00 104px,#00a13d 116px,#00a668 132px,#00aa88 140px,#00aa98 168px,#00aa98 370px,#00aa88 444px,#00a97d 446px,#00a97d 460px,#00a773 462px,#00a773 478px,#00a668 480px,#00a668 496px,#00a55d 498px,#00a353 526px,#00a248 528px,#00a248 542px,#009f33 550px,#009e28 564px,#009d1d 566px,#009d1d 574px,#009a00 588px,#00bf00 616px,#00ff00 646px,#84ff00 656px,#bcff00 662px,#efed00 692px,#fbd500 734px,#ecef00 772px,#bcff00 796px,#a1ff00 800px,#93ff00 806px,#84ff00 808px,#84ff00 812px,#75ff00 814px,#75ff00 830px,#84ff00 832px,#84ff00 842px,#93ff00 844px,#93ff00 856px,#84ff00 858px,#84ff00 866px,#75ff00 868px,#67ff00 878px,#49ff00 884px,#49ff00 888px,#2cff00 894px,#2cff00 898px,#00ff00 908px,#00f400 925px)"></i>
<i style="top:256px;height:4px;background:linear-gradient(90deg,#00e200 0px,#00da00 52px,#009a00 106px,#009f33 116px,#00aa88 144px,#00aa98 172px,#00aa98 382px,#00aa88 466px,#00a97d 468px,#00a97d 486px,#00a773 488px,#00a773 502px,#00a668 504px,#00a353 542px,#00a248 544px,#00a13d 558px,#009e28 566px,#009d1d 580px,#009a00 590px,#00c700 620px,#00ff00 646px,#58ff00 652px,#bcff00 662px,#efed00 690px,#fbd500 728px,#f9d700 748px,#ecef00 774px,#bcff00 798px,#93ff00 806px,#84ff00 816px,#75ff00 818px,#75ff00 832px,#84ff00 834px,#84ff00 846px,#93ff00 848px,#93ff00 854px,#84ff00 856px,#84ff00 862px,#75ff00 864px,#75ff00 868px,#67ff00 870px,#67ff00 874px,#58ff00 876px,#58ff00 880px,#3bff00 886px,#3bff00 890px,#1dff00 896px,#1dff00 898px,#0fff00 900px,#0fff00 904px,#00ff00 906px,#00f400 925px)"></i>
<i style="top:260px;height:4px;background:linear-gradient(90deg,#00e200 0px,#00dc00 48px,#009a00 108px,#009f33 118px,#00a668 138px,#00aa88 146px,#00aa98 174px,#00aa98 392px,#00aa88 492px,#00a97d 494px,#00a97d 508px,#00a773 510px,#00a773 522px,#00a668 524px,#00a55d 544px,#00a248 552px,#009e28 580px,#009a00 592px,#00ff00 646px,#58ff00 652px,#bcff00 662px,#efed00 688px,#fcd200 732px,#ecef00 776px,#bcff00 800px,#84ff00 814px,#84ff00 818px,#75ff00 820px,#75ff00 836px,#84ff00 838px,#84ff00 858px,#75ff00 860px,#67ff00 870px,#58ff00 872px,#49ff00 882px,#3bff00 884px,#3bff00 886px,#1dff00 892px,#1dff00 896px,#00ff00 902px,#00f200 925px)"></i>
<i style="top:264px;height:4px;background:linear-gradient(90deg,#00e200 0px,#00df00 46px,#009a00 110px,#00a13d 124px,#00a353 134px,#00a668 138px,#00aa88 150px,#00aa98 178px,#00aa98 402px,#00aa88 512px,#00a97d 514px,#00a773 540px,#00a353 554px,#00a13d 574px,#009e28 584px,#009a00 594px,#00fc00 644px,#1dff00 648px,#58ff00 652px,#67ff00 654px,#84ff00 656px,#c0fd00 664px,#efed00 688px,#fcd200 728px,#fbd500 748px,#efed00 776px,#bcff00 802px,#84ff00 816px,#84ff00 820px,#75ff00 822px,#75ff00 838px,#84ff00 840px,#84ff00 854px,#75ff00 856px,#75ff00 862px,#67ff00 864px,#67ff00 868px,#58ff00 870px,#58ff00 872px,#49ff00 874px,#49ff00 878px,#2cff00 884px,#2cff00 888px,#00ff00 898px,#00f200 925px)"></i>
<i style="top:268px;height:4px;background:linear-gradient(90deg,#00e200 0px,#00df00 46px,#009a00 112px,#009f33 124px,#00a668 144px,#00aa88 152px,#00aa98 180px,#00aa98 414px,#00aa88 532px,#00a97d 534px,#00a773 548px,#00a353 562px,#00a353 568px,#00a13d 576px,#00a13d 580px,#009a00 596px,#00fc00 644px,#3bff00 650px,#84ff00 656px,#bcff00 664px,#c8fb00 668px,#efed00 688px,#f9d700 710px,#fdcf00 734px,#e8f000 784px,#bcff00 804px,#84ff00 818px,#84ff00 822px,#75ff00 824px,#75ff00 840px,#84ff00 842px,#84ff00 852px,#75ff00 854px,#67ff00 864px,#49ff00 870px,#49ff00 874px,#2cff00 880px,#2cff00 884px,#00ff00 894px,#00ef00 925px)"></i>
<i style="top:272px;height:4px;background:linear-gradient(90deg,#00e200 0px,#00dc00 52px,#009a00 114px,#009f33 126px,#00a353 140px,#00a668 144px,#00aa88 156px,#00aa98 182px,#00aa98 426px,#00aa8b 534px,#00a773 556px,#00a668 558px,#00a353 574px,#00a13d 580px,#00a13d 584px,#009a00 598px,#00fc00 644px,#3bff00 650px,#84ff00 656px,#bcff00 664px,#efed00 690px,#fdcf00 730px,#fbd500 754px,#efed00 782px,#bcff00 806px,#84ff00 820px,#84ff00 824px,#75ff00 826px,#75ff00 842px,#84ff00 844px,#84ff00 848px,#75ff00 850px,#75ff00 854px,#67ff00 856px,#67ff00 860px,#58ff00 862px,#58ff00 866px,#3bff00 872px,#3bff00 876px,#1dff00 882px,#1dff00 884px,#0fff00 886px,#0fff00 890px,#00ff00 892px,#00ec00 925px)"></i>
<i style="top:276px;height:4px;background:linear-gradient(90deg,#00e200 0px,#00df00 48px,#009a00 116px,#009e28 126px,#00a13d 136px,#00a353 140px,#00a668 150px,#00aa88 158px,#00aa98 186px,#00aa98 446px,#00aa8d 536px,#00aa88 550px,#00a97d 552px,#00a97d 558px,#00a773 560px,#00a668 570px,#00a13d 584px,#00a13d 588px,#009a08 600px,#009c00 602px,#00ff00 644px,#0fff00 646px,#49ff00 650px,#58ff00 652px,#75ff00 654px,#bcff00 664px,#efed00 690px,#fdcf00 730px,#fbd500 756px,#efed00 784px,#bcff00 808px,#84ff00 822px,#84ff00 826px,#75ff00 828px,#75ff00 852px,#58ff00 858px,#58ff00 862px,#3bff00 868px,#3bff00 872px,#1dff00 878px,#1dff00 880px,#0fff00 882px,#0fff00 886px,#00ff00 888px,#00ec00 925px)"></i>
<i style="top:280px;height:4px;background:linear-gradient(90deg,#00e200 0px,#00df00 48px,#009a00 118px,#009e28 128px,#00a353 146px,#00a668 150px,#00aa88 162px,#00aa98 188px,#00aa90 536px,#00a97d 566px,#009f33 594px,#009a00 604px,#00d200 622px,#00ff00 644px,#1dff00 646px,#2cff00 648px,#67ff00 652px,#84ff00 656px,#a1ff00 658px,#bcff00 662px,#efed00 692px,#fdcf00 730px,#fbd500 758px,#efed00 784px,#bcff00 810px,#75ff00 828px,#75ff00 848px,#67ff00 850px,#67ff00 854px,#3bff00 864px,#3bff00 868px,#1dff00 874px,#1dff00 878px,#00ff00 884px,#00ea00 925px)"></i>
<i style="top:284px;height:4px;background:linear-gradient(90deg,#00e200 0px,#00dc00 54px,#009a00 120px,#009b13 124px,#00a13d 142px,#00a353 146px,#00a668 156px,#00aa88 164px,#00aa98 190px,#00aa98 494px,#00aa8b 560px,#00aa88 566px,#00a248 588px,#00a248 592px,#009f33 596px,#009f33 598px,#009c00 606px,#00dc00 626px,#00fc00 642px,#1dff00 646px,#93ff00 656px,#bcff00 662px,#efed00 692px,#fdcf00 732px,#fbd500 760px,#ecef00 788px,#bcff00 812px,#b0ff00 816px,#93ff00 820px,#93ff00 822px,#84ff00 824px,#84ff00 828px,#75ff00 830px,#75ff00 846px,#58ff00 852px,#58ff00 856px,#3bff00 862px,#3bff00 864px,#1dff00 870px,#1dff00 874px,#00ff00 880px,#00ea00 925px)"></i>
<i style="top:288px;height:4px;background:linear-gradient(90deg,#00e200 0px,#00df00 50px,#009a00 122px,#009d1d 130px,#00a353 152px,#00aa88 166px,#00aa98 192px,#00aa98 514px,#00aa8d 560px,#00aa88 570px,#00a248 594px,#009c00 606px,#00d700 622px,#00ff00 642px,#75ff00 652px,#bcff00 662px,#efed00 692px,#fdcf00 732px,#fbd500 762px,#ecef00 790px,#bcff00 814px,#b0ff00 818px,#93ff00 822px,#93ff00 824px,#84ff00 826px,#84ff00 830px,#75ff00 832px,#75ff00 844px,#3bff00 858px,#3bff00 860px,#1dff00 866px,#1dff00 870px,#00ff00 876px,#00e700 925px)"></i>
<i style="top:292px;height:4px;background:linear-gradient(90deg,#00e200 0px,#00df00 50px,#009a00 124px,#00a13d 148px,#00aa88 168px,#00aa98 194px,#00aa98 530px,#00aa90 560px,#00aa88 574px,#00a668 586px,#009e28 600px,#009a00 604px,#00d400 620px,#00ff00 640px,#3bff00 646px,#58ff00 648px,#75ff00 652px,#93ff00 654px,#bcff00 660px,#efed00 692px,#fdcf00 734px,#fcd200 758px,#ecef00 790px,#bcff00 816px,#a1ff00 820px,#93ff00 826px,#75ff00 832px,#75ff00 842px,#00ff00 872px,#00e700 925px)"></i>
<i style="top:296px;height:4px;background:linear-gradient(90deg,#00e200 0px,#00dc00 56px,#009a00 126px,#00a13d 150px,#00a353 154px,#00a55d 160px,#00a773 164px,#00aa88 172px,#00aa98 198px,#00aa95 552px,#00aa88 576px,#00a248 592px,#00a248 594px,#009f33 598px,#009a08 602px,#00d200 618px,#00fc00 638px,#58ff00 648px,#75ff00 650px,#bcff00 660px,#efed00 692px,#fdcf00 734px,#fbd500 764px,#efed00 790px,#bcff00 818px,#a1ff00 822px,#93ff00 828px,#75ff00 834px,#75ff00 840px,#3bff00 854px,#3bff00 856px,#1dff00 860px,#0fff00 866px,#00ff00 868px,#00e700 925px)"></i>
<i style="top:300px;height:4px;background:linear-gradient(90deg,#00e200 0px,#00dc00 56px,#009a00 130px,#009e28 146px,#00a13d 150px,#00a248 156px,#00a55d 160px,#00a668 166px,#00aa88 174px,#00aa98 200px,#00aa95 556px,#00a97d 578px,#00a668 582px,#00a353 590px,#009e28 598px,#009a00 602px,#00dc00 620px,#00ff00 638px,#1dff00 640px,#75ff00 650px,#93ff00 652px,#bcff00 658px,#efed00 692px,#fdcf00 736px,#fcd200 760px,#ecef00 794px,#bcff00 818px,#a1ff00 826px,#84ff00 830px,#75ff00 840px,#58ff00 844px,#3bff00 854px,#1dff00 858px,#0fff00 864px,#00ff00 866px,#00e700 925px)"></i>
<i style="top:304px;height:4px;background:linear-gradient(90deg,#00e200 0px,#00dc00 58px,#009a00 132px,#009f33 152px,#00a55d 162px,#00a668 168px,#00aa88 176px,#00aa98 202px,#00aa98 548px,#00aa8b 570px,#00a97d 576px,#00a668 580px,#00a248 592px,#009a08 600px,#009c00 602px,#00da00 618px,#00ff00 636px,#0fff00 638px,#2cff00 640px,#49ff00 644px,#67ff00 646px,#bcff00 658px,#ecef00 690px,#fdcf00 736px,#fbd500 766px,#efed00 792px,#c0fd00 818px,#b0ff00 824px,#93ff00 828px,#93ff00 830px,#84ff00 832px,#84ff00 836px,#49ff00 846px,#3bff00 852px,#1dff00 856px,#0fff00 862px,#00ff00 864px,#00e400 925px)"></i>
<i style="top:308px;height:4px;background:linear-gradient(90deg,#00e200 0px,#00dc00 58px,#009a00 134px,#009f33 154px,#00a248 158px,#00a773 174px,#00aa88 178px,#00aa98 204px,#00aa98 548px,#00aa88 572px,#00a248 588px,#00a248 590px,#009e28 596px,#009a00 600px,#00e400 620px,#00fc00 634px,#2cff00 640px,#49ff00 642px,#67ff00 646px,#84ff00 648px,#bcff00 656px,#ecef00 690px,#fdcf00 738px,#fbd500 766px,#ecef00 796px,#bcff00 822px,#a1ff00 826px,#84ff00 836px,#67ff00 840px,#67ff00 842px,#3bff00 848px,#3bff00 850px,#1dff00 854px,#0fff00 860px,#00ff00 862px,#00e400 925px)"></i>
<i style="top:312px;height:4px;background:linear-gradient(90deg,#00e200 0px,#00da00 64px,#009a00 136px,#00a13d 160px,#00aa88 180px,#00aa98 206px,#00aa98 546px,#00a97d 574px,#00a668 578px,#00a353 586px,#009d1d 596px,#009a08 598px,#009c00 600px,#00dc00 616px,#00ff00 634px,#1dff00 636px,#3bff00 640px,#58ff00 642px,#bcff00 656px,#ecef00 690px,#fdcf00 742px,#f9d700 772px,#efed00 794px,#bcff00 824px,#a1ff00 828px,#93ff00 834px,#58ff00 842px,#58ff00 844px,#2cff00 850px,#2cff00 852px,#0fff00 856px,#0fff00 858px,#00ff00 860px,#00e400 925px)"></i>
<i style="top:316px;height:4px;background:linear-gradient(90deg,#00e200 0px,#00dc00 60px,#009a00 138px,#00a13d 162px,#00a353 166px,#00a55d 172px,#00a773 176px,#00aa88 184px,#00aa98 210px,#00aa98 544px,#00aa8b 566px,#00a97d 572px,#00a668 576px,#00a248 588px,#009e28 594px,#009a00 598px,#00da00 614px,#00ff00 632px,#58ff00 642px,#75ff00 644px,#bcff00 654px,#efed00 692px,#fdcf00 744px,#fbd500 768px,#efed00 794px,#bcff00 826px,#a1ff00 830px,#a1ff00 832px,#58ff00 842px,#58ff00 844px,#1dff00 852px,#1dff00 854px,#00ff00 858px,#00ec00 886px,#00e400 925px)"></i>
<i style="top:320px;height:4px;background:linear-gradient(90deg,#00e200 0px,#00dc00 62px,#009a00 140px,#009e28 158px,#00a13d 162px,#00a248 168px,#00a55d 172px,#00a668 178px,#00aa88 186px,#00aa98 212px,#00aa98 542px,#00aa88 568px,#00a248 584px,#00a248 586px,#009d1d 594px,#009a08 596px,#009c00 598px,#00df00 614px,#00fc00 630px,#2cff00 636px,#49ff00 638px,#bcff00 654px,#efed00 692px,#fdcf00 748px,#efed00 796px,#bcff00 826px,#b0ff00 830px,#00ff00 856px,#00ec00 882px,#00e400 925px)"></i>
<i style="top:324px;height:4px;background:linear-gradient(90deg,#00e200 0px,#00dc00 64px,#009a00 144px,#009f33 164px,#00a248 168px,#00a353 174px,#00aa88 188px,#00aa98 216px,#00aa98 540px,#00aa8d 560px,#00a97d 570px,#00a668 574px,#00a13d 588px,#009a00 596px,#00dc00 612px,#00fc00 628px,#3bff00 636px,#58ff00 638px,#bcff00 652px,#efed00 692px,#fdcf00 750px,#efed00 796px,#bcff00 828px,#a1ff00 832px,#a1ff00 834px,#00ff00 856px,#00ea00 886px,#00e400 925px)"></i>
<i style="top:328px;height:4px;background:linear-gradient(90deg,#00e200 0px,#00dc00 66px,#009a00 146px,#009f33 166px,#00a248 170px,#00a773 186px,#00aa88 190px,#00aa98 220px,#00aa98 538px,#00aa88 564px,#00a248 584px,#009a08 594px,#009f00 596px,#00e200 612px,#00ff00 628px,#1dff00 630px,#49ff00 636px,#67ff00 638px,#bcff00 650px,#ecef00 690px,#fcd200 744px,#fcd200 764px,#efed00 798px,#bcff00 830px,#58ff00 844px,#3bff00 846px,#0fff00 852px,#0fff00 854px,#00ff00 856px,#00ea00 882px,#00e400 925px)"></i>
<i style="top:332px;height:4px;background:linear-gradient(90deg,#00e200 0px,#00dc00 68px,#009a00 148px,#00a13d 172px,#00aa88 192px,#00aa98 222px,#00aa95 542px,#00aa88 562px,#00a773 570px,#00a248 580px,#00a248 582px,#009a08 592px,#00aa00 598px,#00df00 610px,#00ff00 626px,#0fff00 628px,#2cff00 630px,#bcff00 650px,#d4f700 664px,#efed00 694px,#fcd200 748px,#f9d700 774px,#efed00 798px,#bcff00 830px,#49ff00 846px,#2cff00 848px,#00ff00 854px,#00ea00 880px,#00e700 925px)"></i>
<i style="top:336px;height:4px;background:linear-gradient(90deg,#00e200 0px,#00dc00 70px,#009a00 150px,#00a248 178px,#00a55d 182px,#00aa88 196px,#00aa98 226px,#00aa98 532px,#00aa88 560px,#00a668 568px,#00a353 578px,#009e28 586px,#009a00 590px,#00e400 610px,#00ff00 624px,#0fff00 626px,#2cff00 628px,#bcff00 648px,#d8f500 666px,#efed00 694px,#fbd500 744px,#f8da00 778px,#ecef00 802px,#bcff00 830px,#49ff00 846px,#2cff00 848px,#00ff00 854px,#00ea00 880px,#00e700 925px)"></i>
<i style="top:340px;height:4px;background:linear-gradient(90deg,#00e200 0px,#00dc00 72px,#009a00 152px,#009e28 170px,#00a55d 184px,#00aa88 200px,#00aa98 230px,#00aa98 530px,#00aa88 556px,#00a248 578px,#009f33 582px,#009a00 588px,#00e400 608px,#00ff00 622px,#1dff00 626px,#3bff00 628px,#bcff00 646px,#ecef00 690px,#fbd500 746px,#f8da00 778px,#efed00 800px,#bcff00 832px,#a1ff00 836px,#84ff00 838px,#3bff00 848px,#1dff00 850px,#00ff00 854px,#00ea00 878px,#00e700 925px)"></i>
<i style="top:344px;height:4px;background:linear-gradient(90deg,#00e200 0px,#00dc00 74px,#009a00 154px,#009f33 176px,#00a248 180px,#00aa88 204px,#00aa98 234px,#00aa95 534px,#00aa88 554px,#00a773 562px,#00a55d 566px,#00a353 572px,#009d1d 582px,#009a08 584px,#009c00 586px,#00e700 606px,#00ff00 620px,#2cff00 626px,#49ff00 628px,#bcff00 644px,#ecef00 688px,#f9d700 744px,#f5df00 786px,#efed00 800px,#bcff00 832px,#93ff00 838px,#75ff00 840px,#3bff00 848px,#1dff00 850px,#00ff00 854px,#00ea00 878px,#00e700 925px)"></i>
<i style="top:348px;height:4px;background:linear-gradient(90deg,#00e200 0px,#00dc00 76px,#009a00 158px,#00aa88 208px,#00aa98 240px,#00aa95 530px,#00a97d 556px,#00a668 560px,#00a353 570px,#009e28 578px,#009a00 582px,#00e200 602px,#00ff00 618px,#58ff00 630px,#75ff00 632px,#bcff00 642px,#ecef00 686px,#f8da00 740px,#f0ea00 798px,#bcff00 832px,#84ff00 840px,#67ff00 842px,#2cff00 850px,#0fff00 852px,#00ff00 854px,#00ea00 880px,#00e700 925px)"></i>
<i style="top:352px;height:4px;background:linear-gradient(90deg,#00e200 0px,#00dc00 78px,#009a00 160px,#009d1d 170px,#009d1d 174px,#00aa88 212px,#00aa98 246px,#00aa95 524px,#00aa88 548px,#00a248 570px,#009a08 578px,#009c00 580px,#00ea00 602px,#00ff00 616px,#84ff00 634px,#a1ff00 636px,#bcff00 640px,#e8f000 678px,#f8da00 744px,#efed00 800px,#bcff00 832px,#67ff00 844px,#49ff00 846px,#00ff00 856px,#00ea00 880px,#00e700 925px)"></i>
<i style="top:356px;height:4px;background:linear-gradient(90deg,#00e200 0px,#00dc00 80px,#009a00 164px,#00a773 210px,#00aa88 214px,#00aa98 250px,#00aa95 520px,#00aa88 546px,#00a773 554px,#00a55d 558px,#00a353 564px,#009e28 572px,#009a00 576px,#00df00 596px,#00ff00 614px,#b0ff00 638px,#ccf900 648px,#ecef00 684px,#f7dd00 740px,#f0ea00 796px,#bcff00 834px,#b0ff00 836px,#93ff00 838px,#58ff00 846px,#3bff00 848px,#00ff00 856px,#00ea00 882px,#00e700 925px)"></i>
<i style="top:360px;height:4px;background:linear-gradient(90deg,#00e200 0px,#00dc00 82px,#009a00 166px,#009e28 182px,#009e28 186px,#00a668 210px,#00aa88 218px,#00aa98 256px,#00aa93 522px,#00aa88 542px,#00a55d 558px,#009f33 568px,#009a08 572px,#009a00 574px,#00e200 594px,#00ff00 612px,#b0ff00 636px,#c8fb00 644px,#ecef00 682px,#f5df00 738px,#efed00 798px,#d4f700 822px,#bcff00 834px,#84ff00 842px,#67ff00 844px,#3bff00 850px,#1dff00 852px,#00ff00 856px,#00ea00 882px,#00e700 925px)"></i>
<i style="top:364px;height:4px;background:linear-gradient(90deg,#00e200 0px,#00dc00 84px,#009a00 170px,#009e28 186px,#009e28 190px,#00aa88 224px,#00aa98 262px,#00aa95 510px,#00aa88 538px,#00a353 558px,#009e28 566px,#009a08 570px,#009c00 572px,#00ec00 596px,#00ff00 610px,#1dff00 614px,#1dff00 616px,#bcff00 638px,#ccf900 646px,#ecef00 680px,#f4e200 736px,#efed00 796px,#c8fb00 830px,#b0ff00 836px,#00ff00 858px,#00ea00 884px,#00e700 925px)"></i>
<i style="top:368px;height:4px;background:linear-gradient(90deg,#00e200 0px,#00dc00 86px,#009a00 174px,#009e28 190px,#009e28 194px,#00aa88 230px,#00aa98 272px,#00aa98 492px,#00aa90 518px,#00aa88 532px,#00a353 554px,#009a00 568px,#00ea00 592px,#00ff00 608px,#1dff00 612px,#1dff00 614px,#b0ff00 634px,#c0fd00 638px,#ecef00 678px,#f3e500 734px,#efed00 794px,#d0f800 826px,#b0ff00 838px,#00ff00 858px,#00ea00 884px,#00e700 925px)"></i>
<i style="top:372px;height:4px;background:linear-gradient(90deg,#00e200 0px,#00dc00 88px,#009a00 178px,#009f33 198px,#009f33 202px,#00aa88 234px,#00aa98 280px,#00aa98 482px,#00aa8d 518px,#00aa88 528px,#00a668 538px,#00a668 542px,#00a353 550px,#009a00 564px,#00e700 588px,#00ff00 606px,#1dff00 610px,#1dff00 612px,#58ff00 620px,#58ff00 622px,#bcff00 636px,#c8fb00 642px,#ecef00 678px,#f1e700 730px,#efed00 792px,#dcf400 818px,#bcff00 836px,#67ff00 848px,#49ff00 850px,#00ff00 860px,#00ea00 886px,#00e700 925px)"></i>
<i style="top:376px;height:4px;background:linear-gradient(90deg,#00e200 0px,#00dc00 90px,#009a00 182px,#009f33 202px,#009f33 206px,#00a353 216px,#00a353 220px,#00a773 230px,#00a773 234px,#00aa88 240px,#00aa98 290px,#00aa98 474px,#00aa8b 518px,#00a97d 528px,#00a248 548px,#009c00 560px,#00e700 586px,#00ff00 604px,#0fff00 606px,#0fff00 608px,#3bff00 614px,#3bff00 616px,#bcff00 634px,#ecef00 678px,#f1e700 740px,#ecef00 800px,#d8f500 822px,#bcff00 838px,#a1ff00 842px,#84ff00 844px,#49ff00 852px,#2cff00 854px,#00ff00 860px,#00ea00 888px,#00e700 925px)"></i>
<i style="top:380px;height:4px;background:linear-gradient(90deg,#00e200 0px,#00dc00 92px,#009a00 186px,#009f33 206px,#00a13d 216px,#00a55d 226px,#00a55d 230px,#00a773 236px,#00a773 240px,#00aa88 246px,#00aa98 298px,#00aa98 468px,#00aa88 518px,#00a353 540px,#009a00 554px,#00e400 582px,#00ff00 604px,#2cff00 610px,#2cff00 612px,#84ff00 624px,#84ff00 626px,#bcff00 634px,#c4fc00 638px,#ecef00 678px,#f0ea00 730px,#efed00 792px,#dcf400 820px,#bcff00 838px,#75ff00 848px,#58ff00 850px,#00ff00 862px,#00ea00 888px,#00e700 925px)"></i>
<i style="top:384px;height:4px;background:linear-gradient(90deg,#00e200 0px,#00dc00 94px,#009a00 190px,#009e28 206px,#009f33 216px,#00a248 222px,#00a248 226px,#00a55d 232px,#00a55d 236px,#00a773 242px,#00a773 246px,#00aa88 252px,#00aa98 304px,#00aa98 460px,#00aa88 510px,#00a97d 512px,#00a773 522px,#00a55d 528px,#00a55d 532px,#00a248 536px,#00a248 538px,#009a00 550px,#00df00 576px,#00ff00 602px,#1dff00 606px,#1dff00 608px,#49ff00 614px,#49ff00 616px,#b0ff00 630px,#bcff00 634px,#e8f000 672px,#efed00 688px,#efed00 792px,#d8f500 824px,#bcff00 840px,#a1ff00 844px,#84ff00 846px,#49ff00 854px,#2cff00 856px,#00ff00 862px,#00ea00 890px,#00e700 925px)"></i>
<i style="top:388px;height:4px;background:linear-gradient(90deg,#00e200 0px,#00dc00 98px,#009a00 194px,#00aa88 262px,#00aa98 310px,#00aa98 452px,#00aa88 500px,#00a97d 502px,#00a353 530px,#009a00 544px,#00da00 570px,#00ff00 600px,#1dff00 604px,#1dff00 606px,#3bff00 610px,#3bff00 612px,#75ff00 620px,#75ff00 622px,#bcff00 632px,#e8f000 672px,#efed00 688px,#efed00 792px,#dcf400 822px,#bcff00 840px,#75ff00 850px,#58ff00 852px,#00ff00 864px,#00ea00 890px,#00e700 925px)"></i>
<i style="top:392px;height:4px;background:linear-gradient(90deg,#00e200 0px,#00dc00 102px,#009a00 200px,#009d1d 212px,#009f33 228px,#00a55d 244px,#00a668 254px,#00a773 256px,#00a773 262px,#00aa88 270px,#00aa98 318px,#00aa98 440px,#00aa88 490px,#00a668 502px,#00a13d 530px,#009a00 540px,#00da00 566px,#00ff00 598px,#0fff00 600px,#0fff00 602px,#2cff00 606px,#2cff00 608px,#58ff00 614px,#58ff00 616px,#b0ff00 628px,#bcff00 632px,#dcf400 658px,#efed00 688px,#efed00 794px,#d8f500 826px,#bcff00 842px,#b0ff00 844px,#93ff00 846px,#58ff00 854px,#3bff00 856px,#00ff00 864px,#00ea00 890px,#00e700 925px)"></i>
<i style="top:396px;height:4px;background:linear-gradient(90deg,#00e200 0px,#00dc00 106px,#009a00 206px,#009b13 212px,#009e28 228px,#00a13d 234px,#00a353 250px,#00a55d 252px,#00a55d 258px,#00a97d 272px,#00a97d 278px,#00aa88 280px,#00aa98 338px,#00aa95 446px,#00aa88 482px,#00a13d 510px,#009f33 520px,#009e28 522px,#009e28 528px,#009a08 534px,#009c00 536px,#00da00 562px,#00ff00 598px,#2cff00 604px,#2cff00 606px,#49ff00 610px,#49ff00 612px,#84ff00 620px,#84ff00 622px,#bcff00 630px,#e0f300 662px,#efed00 686px,#e8f000 810px,#bcff00 842px,#93ff00 848px,#75ff00 850px,#3bff00 858px,#1dff00 860px,#00ff00 864px,#00ea00 890px,#00e700 925px)"></i>
<i style="top:400px;height:4px;background:linear-gradient(90deg,#00e200 0px,#00dc00 108px,#009a00 212px,#009b13 218px,#009e28 234px,#00a13d 240px,#00a353 260px,#00aa88 288px,#00aa95 326px,#00aa95 428px,#00aa88 476px,#009a08 520px,#009a00 528px,#00d700 556px,#00ff00 596px,#1dff00 600px,#1dff00 602px,#49ff00 608px,#49ff00 610px,#67ff00 614px,#67ff00 616px,#b0ff00 626px,#bcff00 630px,#e4f100 666px,#efed00 686px,#efed00 796px,#e4f100 816px,#bcff00 842px,#84ff00 850px,#67ff00 852px,#1dff00 862px,#00ff00 864px,#00ea00 890px,#00e700 925px)"></i>
<i style="top:404px;height:4px;background:linear-gradient(90deg,#00e200 0px,#00df00 104px,#009a00 218px,#009b13 224px,#009b13 228px,#009f33 242px,#009f33 248px,#00a248 256px,#00a248 262px,#00aa88 294px,#00aa95 372px,#00aa88 470px,#00a55d 486px,#00a248 490px,#009f33 498px,#009b13 504px,#009a00 512px,#00aa00 532px,#00da00 554px,#00ff00 594px,#1dff00 598px,#1dff00 600px,#3bff00 604px,#3bff00 606px,#58ff00 610px,#58ff00 612px,#93ff00 620px,#93ff00 622px,#bcff00 628px,#efed00 686px,#e8f000 812px,#d8f500 828px,#bcff00 842px,#75ff00 852px,#58ff00 854px,#00ff00 866px,#00ea00 892px,#00e700 925px)"></i>
<i style="top:408px;height:4px;background:linear-gradient(90deg,#00e200 0px,#00df00 108px,#009a00 222px,#009e28 242px,#00a13d 264px,#00a55d 278px,#00a773 294px,#00aa88 300px,#00aa93 370px,#00aa88 462px,#00a55d 480px,#009a00 502px,#009a00 504px,#00ba00 534px,#00da00 550px,#00ff00 592px,#1dff00 596px,#1dff00 598px,#3bff00 602px,#3bff00 604px,#58ff00 608px,#58ff00 610px,#75ff00 614px,#75ff00 616px,#b0ff00 624px,#bcff00 628px,#efed00 682px,#e8f000 812px,#bcff00 844px,#a1ff00 846px,#67ff00 854px,#49ff00 856px,#00ff00 866px,#00ea00 892px,#00e700 925px)"></i>
<i style="top:412px;height:4px;background:linear-gradient(90deg,#00e200 0px,#00dc00 120px,#009a00 228px,#009d1d 244px,#009e28 258px,#00a13d 266px,#00a13d 272px,#00aa88 308px,#00aa90 376px,#00aa8b 440px,#00a97d 462px,#00a55d 474px,#00a248 478px,#009f33 486px,#009a00 496px,#009a00 498px,#00dc00 548px,#00ff00 588px,#0fff00 590px,#0fff00 592px,#2cff00 596px,#3bff00 602px,#75ff00 612px,#75ff00 614px,#a1ff00 620px,#a1ff00 622px,#bcff00 626px,#e8f000 668px,#f0ea00 696px,#efed00 796px,#d8f500 828px,#bcff00 844px,#b0ff00 846px,#93ff00 848px,#58ff00 856px,#3bff00 858px,#00ff00 866px,#00ea00 892px,#00e700 925px)"></i>
<i style="top:416px;height:4px;background:linear-gradient(90deg,#00e200 0px,#00dc00 124px,#009a00 236px,#009d1d 252px,#009f33 274px,#00aa88 316px,#00aa8b 344px,#00aa8b 414px,#00a97d 448px,#00a55d 458px,#00a353 468px,#009f33 480px,#009a08 488px,#009a00 492px,#00d200 534px,#00ff00 586px,#0fff00 588px,#0fff00 590px,#2cff00 594px,#2cff00 596px,#49ff00 600px,#58ff00 606px,#93ff00 616px,#93ff00 618px,#bcff00 624px,#ecef00 670px,#f1e700 730px,#efed00 796px,#d8f500 828px,#bcff00 844px,#a1ff00 848px,#84ff00 850px,#49ff00 858px,#2cff00 860px,#00ff00 866px,#00ea00 892px,#00e700 925px)"></i>
<i style="top:420px;height:4px;background:linear-gradient(90deg,#00e200 0px,#00df00 118px,#009a00 244px,#009d1d 260px,#009d1d 268px,#00a55d 300px,#00a55d 304px,#00a773 310px,#00a97d 356px,#00aa88 358px,#00a97d 430px,#00a773 432px,#00a773 440px,#009f33 456px,#009d1d 476px,#009a00 486px,#00d700 534px,#00ff00 584px,#0fff00 586px,#0fff00 588px,#2cff00 592px,#2cff00 594px,#49ff00 598px,#49ff00 600px,#67ff00 604px,#75ff00 610px,#93ff00 614px,#93ff00 616px,#b0ff00 620px,#bcff00 624px,#ecef00 668px,#f1e700 686px,#efed00 796px,#e0f300 822px,#bcff00 844px,#a1ff00 848px,#84ff00 850px,#49ff00 858px,#2cff00 860px,#00ff00 866px,#00ea00 892px,#00e700 925px)"></i>
<i style="top:424px;height:4px;background:linear-gradient(90deg,#00e200 0px,#00df00 122px,#009a00 252px,#009b13 260px,#009b13 268px,#009e28 276px,#009e28 282px,#00a668 314px,#00a773 372px,#00a97d 374px,#00a668 434px,#009b13 450px,#009a00 458px,#009c00 482px,#00da00 532px,#00ff00 582px,#1dff00 586px,#1dff00 588px,#3bff00 592px,#3bff00 594px,#58ff00 598px,#75ff00 608px,#93ff00 612px,#93ff00 614px,#b0ff00 618px,#bcff00 622px,#ecef00 666px,#f3e500 700px,#efed00 798px,#e0f300 822px,#bcff00 844px,#93ff00 850px,#75ff00 852px,#3bff00 860px,#1dff00 862px,#00ff00 866px,#00ea00 892px,#00e700 925px)"></i>
<i style="top:428px;height:4px;background:linear-gradient(90deg,#00e200 0px,#00df00 126px,#009a00 260px,#009d1d 276px,#009d1d 282px,#00a353 308px,#00a55d 352px,#00a668 354px,#00a668 404px,#00a55d 406px,#00a55d 430px,#009a00 446px,#00a400 486px,#00d400 522px,#00ff00 578px,#0fff00 580px,#1dff00 586px,#3bff00 590px,#3bff00 592px,#58ff00 596px,#67ff00 602px,#84ff00 606px,#93ff00 612px,#b0ff00 616px,#bcff00 620px,#efed00 668px,#f4e200 710px,#efed00 798px,#dcf400 826px,#bcff00 844px,#84ff00 852px,#67ff00 854px,#1dff00 864px,#00ff00 866px,#00ea00 894px,#00e700 925px)"></i>
<i style="top:432px;height:4px;background:linear-gradient(90deg,#00e200 0px,#00dc00 138px,#009a00 268px,#009d1d 288px,#009e28 290px,#009e28 296px,#00a248 310px,#00a353 368px,#00a55d 370px,#00a353 424px,#00a248 428px,#009a00 440px,#00a400 450px,#00a700 486px,#00d700 520px,#00ff00 574px,#0fff00 576px,#1dff00 582px,#3bff00 586px,#58ff00 596px,#75ff00 600px,#93ff00 610px,#b0ff00 614px,#bcff00 618px,#efed00 666px,#f5df00 716px,#efed00 798px,#dcf400 826px,#bcff00 844px,#75ff00 854px,#58ff00 856px,#00ff00 868px,#00ea00 894px,#00e700 925px)"></i>
<i style="top:436px;height:4px;background:linear-gradient(90deg,#00e200 0px,#00dc00 144px,#009a00 274px,#009d1d 290px,#009d1d 296px,#009f33 304px,#009f33 316px,#00a13d 318px,#00a13d 346px,#00a248 348px,#00a248 410px,#00a13d 412px,#00a13d 424px,#009a00 434px,#00a400 444px,#00a700 486px,#00d200 510px,#00ff00 570px,#0fff00 572px,#2cff00 582px,#49ff00 586px,#84ff00 604px,#a1ff00 608px,#bcff00 616px,#efed00 664px,#f5df00 684px,#f7dd00 722px,#efed00 798px,#dcf400 826px,#bcff00 844px,#75ff00 854px,#58ff00 856px,#00ff00 868px,#00ea00 894px,#00e700 925px)"></i>
<i style="top:440px;height:4px;background:linear-gradient(90deg,#00e200 0px,#00dc00 150px,#009a00 280px,#009b13 296px,#009e28 304px,#009f33 362px,#00a13d 364px,#009f33 422px,#009a08 430px,#00a400 440px,#00a700 488px,#00d400 510px,#00ff00 566px,#0fff00 568px,#3bff00 582px,#58ff00 586px,#75ff00 596px,#84ff00 598px,#84ff00 602px,#a1ff00 606px,#bcff00 614px,#f0ea00 666px,#f7dd00 686px,#f8da00 726px,#efed00 768px,#efed00 798px,#dcf400 826px,#c0fd00 844px,#00ff00 868px,#00ea00 894px,#00e700 925px)"></i>
<i style="top:444px;height:4px;background:linear-gradient(90deg,#00e200 0px,#00df00 144px,#009a00 288px,#009b13 296px,#009b13 304px,#009d1d 306px,#009e28 374px,#009f33 376px,#009f33 384px,#009e28 386px,#009e28 418px,#009a00 428px,#00a400 436px,#00a400 488px,#00da00 512px,#00ff00 562px,#0fff00 564px,#49ff00 582px,#67ff00 586px,#67ff00 588px,#75ff00 590px,#75ff00 594px,#bcff00 612px,#ecef00 660px,#f8da00 690px,#f8da00 734px,#efed00 768px,#efed00 798px,#d8f500 830px,#bcff00 846px,#b0ff00 848px,#93ff00 850px,#58ff00 858px,#3bff00 860px,#00ff00 868px,#00ea00 894px,#00e700 925px)"></i>
<i style="top:448px;height:4px;background:linear-gradient(90deg,#00e200 0px,#00df00 150px,#009a00 294px,#009b13 304px,#009b13 336px,#009d1d 338px,#009d1d 418px,#009a00 426px,#00a400 434px,#00a400 490px,#00d700 508px,#00ff00 556px,#0fff00 558px,#0fff00 562px,#1dff00 564px,#1dff00 566px,#2cff00 568px,#2cff00 570px,#3bff00 572px,#3bff00 574px,#49ff00 576px,#49ff00 578px,#58ff00 580px,#58ff00 582px,#bcff00 608px,#ecef00 658px,#f9d700 694px,#f9d700 730px,#efed00 768px,#efed00 798px,#d8f500 830px,#bcff00 846px,#b0ff00 848px,#93ff00 850px,#49ff00 860px,#2cff00 862px,#00ff00 868px,#00ea00 894px,#00e700 925px)"></i>
<i style="top:452px;height:4px;background:linear-gradient(90deg,#00e200 0px,#00df00 154px,#009a00 296px,#009a08 334px,#009b13 336px,#009b13 416px,#009a00 422px,#00a400 432px,#00a400 490px,#00ac00 496px,#00da00 508px,#00ff00 550px,#0fff00 552px,#0fff00 556px,#1dff00 558px,#1dff00 560px,#3bff00 566px,#3bff00 570px,#a1ff00 596px,#a1ff00 600px,#bcff00 606px,#efed00 660px,#fbd500 698px,#fbd500 726px,#efed00 766px,#efed00 798px,#d8f500 830px,#bcff00 846px,#a1ff00 850px,#84ff00 852px,#3bff00 862px,#1dff00 864px,#00ff00 868px,#00ea00 896px,#00e700 925px)"></i>
<i style="top:456px;height:4px;background:linear-gradient(90deg,#00e200 0px,#00df00 160px,#009a00 304px,#009a00 320px,#009a08 322px,#009a08 418px,#009a00 420px,#00a400 430px,#00a400 492px,#00e200 510px,#00ff00 544px,#0fff00 546px,#0fff00 550px,#1dff00 552px,#1dff00 554px,#3bff00 560px,#3bff00 564px,#58ff00 570px,#58ff00 574px,#93ff00 588px,#93ff00 592px,#bcff00 602px,#f0ea00 662px,#fcd200 704px,#efed00 766px,#ecef00 808px,#d8f500 830px,#bcff00 846px,#93ff00 852px,#75ff00 854px,#1dff00 866px,#00ff00 868px,#00ea00 896px,#00e700 925px)"></i>
<i style="top:460px;height:4px;background:linear-gradient(90deg,#00e200 0px,#00df00 166px,#009c00 304px,#009a00 368px,#009a08 370px,#009a00 420px,#00a400 430px,#00a400 492px,#00ac00 496px,#00e200 508px,#00ff00 540px,#3bff00 554px,#3bff00 558px,#58ff00 564px,#58ff00 568px,#75ff00 574px,#75ff00 578px,#93ff00 584px,#93ff00 588px,#b0ff00 594px,#b0ff00 598px,#bcff00 600px,#efed00 658px,#fcd200 700px,#fcd200 720px,#efed00 766px,#ecef00 808px,#d8f500 830px,#bcff00 846px,#00ff00 870px,#00ea00 896px,#00e700 925px)"></i>
<i style="top:464px;height:4px;background:linear-gradient(90deg,#00e200 0px,#00df00 172px,#009c00 312px,#009a00 418px,#00a400 430px,#00a400 492px,#00ac00 496px,#00d700 504px,#00ea00 510px,#00ff00 536px,#58ff00 558px,#58ff00 562px,#75ff00 568px,#75ff00 572px,#84ff00 574px,#93ff00 584px,#b0ff00 590px,#b0ff00 594px,#bcff00 596px,#f0ea00 660px,#fdcf00 704px,#efed00 766px,#efed00 798px,#d8f500 830px,#bcff00 846px,#93ff00 852px,#75ff00 854px,#1dff00 866px,#00ff00 868px,#00ea00 896px,#00e700 925px)"></i>
<i style="top:468px;height:4px;background:linear-gradient(90deg,#00e200 0px,#00df00 178px,#009c00 318px,#009a00 418px,#00a400 430px,#00a400 490px,#00b200 496px,#00ec00 508px,#00ff00 532px,#75ff00 562px,#75ff00 566px,#84ff00 568px,#84ff00 572px,#93ff00 574px,#93ff00 578px,#a1ff00 580px,#a1ff00 584px,#b0ff00 586px,#b0ff00 590px,#bcff00 592px,#efed00 656px,#fdcf00 704px,#efed00 766px,#ecef00 806px,#dcf400 826px,#bcff00 846px,#b0ff00 848px,#93ff00 850px,#49ff00 860px,#2cff00 862px,#00ff00 868px,#00ea00 896px,#00e700 925px)"></i>
<i style="top:472px;height:4px;background:linear-gradient(90deg,#00e200 0px,#00df00 184px,#009c00 324px,#009a00 418px,#00a400 432px,#00a400 490px,#00b700 496px,#00f200 508px,#00ff00 528px,#84ff00 562px,#84ff00 566px,#93ff00 568px,#93ff00 572px,#a1ff00 574px,#a1ff00 580px,#b0ff00 582px,#b0ff00 586px,#bcff00 588px,#efed00 654px,#fdcf00 704px,#efed00 766px,#ecef00 806px,#d4f700 832px,#bcff00 844px,#67ff00 856px,#49ff00 858px,#00ff00 868px,#00ea00 894px,#00e700 925px)"></i>
<i style="top:476px;height:4px;background:linear-gradient(90deg,#00e200 0px,#00df00 190px,#009a00 338px,#009a00 420px,#00a400 434px,#00a400 486px,#00b700 494px,#00f400 506px,#00ff00 520px,#0fff00 522px,#0fff00 526px,#1dff00 528px,#1dff00 530px,#2cff00 532px,#2cff00 536px,#93ff00 562px,#93ff00 568px,#a1ff00 570px,#a1ff00 574px,#b0ff00 576px,#b0ff00 580px,#bcff00 582px,#ccf900 614px,#efed00 652px,#fdcf00 702px,#efed00 766px,#ecef00 806px,#d8f500 828px,#bcff00 844px,#75ff00 854px,#58ff00 856px,#00ff00 868px,#00ea00 894px,#00e700 925px)"></i>
<i style="top:480px;height:4px;background:linear-gradient(90deg,#00e200 0px,#00df00 196px,#009a00 342px,#009a00 422px,#00a400 434px,#00a400 484px,#00b700 492px,#00f400 504px,#00ff00 514px,#1dff00 520px,#1dff00 524px,#2cff00 526px,#2cff00 530px,#58ff00 540px,#58ff00 544px,#93ff00 558px,#93ff00 562px,#a1ff00 564px,#a1ff00 568px,#b0ff00 570px,#b0ff00 574px,#bcff00 576px,#d0f800 616px,#efed00 650px,#fdcf00 702px,#efed00 766px,#efed00 796px,#d8f500 828px,#bcff00 844px,#93ff00 850px,#75ff00 852px,#00ff00 868px,#00ea00 894px,#00e700 925px)"></i>
<i style="top:484px;height:4px;background:linear-gradient(90deg,#00e200 0px,#00df00 202px,#009a00 346px,#009a00 422px,#00a400 436px,#00a400 480px,#00ac00 486px,#00f400 502px,#00ff00 508px,#2cff00 518px,#2cff00 522px,#3bff00 524px,#49ff00 534px,#75ff00 544px,#75ff00 548px,#93ff00 554px,#93ff00 558px,#b0ff00 564px,#b0ff00 568px,#bcff00 570px,#c4fc00 594px,#ecef00 646px,#fdcf00 700px,#efed00 766px,#ecef00 804px,#dcf400 824px,#bcff00 844px,#a1ff00 848px,#84ff00 850px,#3bff00 860px,#1dff00 862px,#00ff00 866px,#00ea00 894px,#00e700 925px)"></i>
<i style="top:488px;height:4px;background:linear-gradient(90deg,#00e200 0px,#00df00 210px,#00c700 272px,#009c00 342px,#009a00 418px,#00a700 444px,#00a700 476px,#00b400 484px,#00ff00 504px,#2cff00 510px,#2cff00 512px,#3bff00 514px,#3bff00 520px,#49ff00 522px,#49ff00 526px,#58ff00 528px,#67ff00 538px,#84ff00 544px,#84ff00 548px,#a1ff00 554px,#a1ff00 558px,#b0ff00 560px,#b0ff00 564px,#bcff00 566px,#ecef00 644px,#fdcf00 698px,#efed00 764px,#ecef00 804px,#d4f700 830px,#bcff00 842px,#58ff00 856px,#3bff00 858px,#00ff00 866px,#00ea00 894px,#00e700 925px)"></i>
<i style="top:492px;height:4px;background:linear-gradient(90deg,#00e200 0px,#00df00 216px,#00ca00 274px,#009c00 346px,#009a00 416px,#00ac00 474px,#00c400 484px,#00f400 496px,#00ff00 502px,#49ff00 512px,#49ff00 516px,#58ff00 518px,#58ff00 524px,#67ff00 526px,#67ff00 530px,#75ff00 532px,#75ff00 538px,#a1ff00 548px,#a1ff00 552px,#b0ff00 554px,#b0ff00 558px,#bcff00 560px,#ecef00 642px,#fdcf00 698px,#efed00 764px,#ecef00 804px,#d8f500 826px,#bcff00 842px,#67ff00 854px,#49ff00 856px,#00ff00 866px,#00ea00 892px,#00e700 925px)"></i>
<i style="top:496px;height:4px;background:linear-gradient(90deg,#00e200 0px,#00df00 224px,#00cc00 276px,#009c00 350px,#009a00 412px,#00b200 466px,#00bc00 474px,#00f400 492px,#00ff00 500px,#67ff00 514px,#67ff00 522px,#75ff00 524px,#75ff00 530px,#84ff00 532px,#93ff00 542px,#b0ff00 548px,#b0ff00 552px,#bcff00 554px,#ecef00 640px,#fdcf00 696px,#efed00 762px,#efed00 794px,#d8f500 826px,#bcff00 842px,#00ff00 866px,#00ea00 892px,#00e700 925px)"></i>
<i style="top:500px;height:4px;background:linear-gradient(90deg,#00e200 0px,#00df00 232px,#00c700 294px,#009f00 350px,#009a00 408px,#00ba00 462px,#00ff00 496px,#58ff00 508px,#58ff00 510px,#75ff00 516px,#75ff00 520px,#84ff00 522px,#84ff00 528px,#93ff00 530px,#93ff00 536px,#a1ff00 538px,#a1ff00 542px,#bcff00 548px,#e8f000 632px,#fdcf00 694px,#efed00 762px,#efed00 792px,#dcf400 822px,#bcff00 842px,#a1ff00 846px,#84ff00 848px,#00ff00 866px,#00ea00 892px,#00e700 925px)"></i>
<i style="top:504px;height:4px;background:linear-gradient(90deg,#00e200 0px,#00df00 240px,#00ca00 296px,#00a200 350px,#009c00 414px,#00c400 462px,#00ff00 492px,#3bff00 500px,#3bff00 502px,#67ff00 508px,#75ff00 514px,#93ff00 520px,#93ff00 530px,#a1ff00 532px,#a1ff00 536px,#b0ff00 538px,#b0ff00 542px,#bcff00 544px,#ecef00 634px,#fdcf00 694px,#efed00 762px,#ecef00 802px,#d4f700 828px,#bcff00 842px,#a1ff00 844px,#49ff00 856px,#2cff00 858px,#00ff00 864px,#00ea00 892px,#00e700 925px)"></i>
<i style="top:508px;height:4px;background:linear-gradient(90deg,#00e200 0px,#00df00 250px,#00cf00 294px,#00aa00 340px,#009c00 398px,#009f00 416px,#00ba00 448px,#00ff00 490px,#67ff00 504px,#75ff00 510px,#84ff00 512px,#84ff00 516px,#a1ff00 522px,#a1ff00 530px,#b0ff00 532px,#b0ff00 536px,#bcff00 538px,#ecef00 630px,#fdcf00 692px,#efed00 760px,#efed00 792px,#d8f500 824px,#bcff00 840px,#67ff00 852px,#49ff00 854px,#00ff00 864px,#00ea00 892px,#00e700 925px)"></i>
<i style="top:512px;height:4px;background:linear-gradient(90deg,#00e200 0px,#00e200 250px,#00d400 290px,#00af00 336px,#009f00 398px,#00a200 416px,#00bf00 450px,#00ff00 490px,#1dff00 492px,#75ff00 504px,#75ff00 506px,#84ff00 508px,#84ff00 512px,#a1ff00 518px,#a1ff00 522px,#b0ff00 524px,#b0ff00 530px,#bcff00 532px,#ecef00 628px,#ffcd00 698px,#f0ea00 752px,#efed00 792px,#d8f500 824px,#bcff00 840px,#75ff00 850px,#58ff00 852px,#00ff00 864px,#00ea00 890px,#00e700 925px)"></i>
<i style="top:516px;height:4px;background:linear-gradient(90deg,#00e400 0px,#00e400 250px,#00d700 290px,#00b400 334px,#00a200 394px,#00ac00 428px,#00cf00 460px,#00ff00 488px,#1dff00 492px,#3bff00 494px,#67ff00 500px,#67ff00 502px,#84ff00 506px,#84ff00 508px,#a1ff00 514px,#a1ff00 518px,#b0ff00 520px,#b0ff00 524px,#bcff00 526px,#efed00 632px,#fdcf00 688px,#efed00 758px,#efed00 790px,#dcf400 820px,#bcff00 840px,#93ff00 846px,#75ff00 848px,#00ff00 864px,#00ea00 890px,#00e700 925px)"></i>
<i style="top:520px;height:4px;background:linear-gradient(90deg,#00e400 0px,#00e700 250px,#00a400 388px,#00af00 428px,#00df00 468px,#00ff00 486px,#75ff00 502px,#75ff00 504px,#93ff00 508px,#a1ff00 514px,#b0ff00 516px,#b0ff00 520px,#bcff00 522px,#ecef00 622px,#fdcf00 686px,#fdcf00 704px,#efed00 758px,#ecef00 800px,#d4f700 826px,#bcff00 840px,#b0ff00 842px,#93ff00 844px,#00ff00 864px,#00ea00 890px,#00e700 925px)"></i>
<i style="top:524px;height:4px;background:linear-gradient(90deg,#00e400 0px,#00ec00 42px,#00e200 194px,#00ec00 242px,#00dc00 290px,#00aa00 378px,#00aa00 396px,#00b400 430px,#00ff00 484px,#67ff00 498px,#67ff00 500px,#a1ff00 510px,#bcff00 518px,#dcf400 570px,#ecef00 618px,#fdcf00 684px,#fdcf00 702px,#efed00 756px,#efed00 790px,#d8f500 822px,#bcff00 838px,#58ff00 852px,#3bff00 854px,#00ff00 862px,#00ea00 890px,#00e700 925px)"></i>
<i style="top:528px;height:4px;background:linear-gradient(90deg,#00e700 0px,#00ef00 40px,#00e200 176px,#00f200 238px,#00ac00 384px,#00b700 430px,#00ff00 482px,#67ff00 496px,#67ff00 498px,#93ff00 504px,#bcff00 516px,#e4f100 582px,#f0ea00 630px,#fdcf00 682px,#fdcf00 700px,#efed00 756px,#ecef00 798px,#d8f500 822px,#bcff00 838px,#75ff00 848px,#58ff00 850px,#00ff00 862px,#00ea00 890px,#00e700 925px)"></i>
<i style="top:532px;height:4px;background:linear-gradient(90deg,#00e700 0px,#00f200 40px,#00e400 84px,#00e200 156px,#00f400 242px,#00b200 388px,#00bc00 432px,#00ff00 480px,#58ff00 492px,#58ff00 494px,#93ff00 502px,#93ff00 504px,#b0ff00 508px,#bcff00 512px,#e4f100 574px,#efed00 618px,#ffcd00 688px,#efed00 754px,#ecef00 796px,#d4f700 824px,#bcff00 838px,#00ff00 862px,#00ea00 888px,#00e700 925px)"></i>
<i style="top:536px;height:4px;background:linear-gradient(90deg,#00e700 0px,#00f400 40px,#00e400 90px,#00e400 164px,#00fa00 240px,#00b700 390px,#00c200 434px,#00ff00 478px,#49ff00 488px,#49ff00 490px,#a1ff00 502px,#a1ff00 504px,#bcff00 508px,#e8f000 578px,#f0ea00 624px,#ffcd00 686px,#efed00 754px,#ecef00 796px,#d8f500 820px,#c0fd00 836px,#00ff00 862px,#00ea00 888px,#00e700 925px)"></i>
<i style="top:540px;height:4px;background:linear-gradient(90deg,#00e700 0px,#00f400 44px,#00e400 98px,#00e400 148px,#00ff00 238px,#00bc00 390px,#00c400 432px,#00ff00 476px,#58ff00 488px,#58ff00 490px,#a1ff00 500px,#a1ff00 502px,#bcff00 506px,#ecef00 582px,#f0ea00 620px,#ffcd00 684px,#efed00 752px,#ecef00 794px,#d4f700 822px,#bcff00 836px,#67ff00 848px,#49ff00 850px,#00ff00 860px,#00ea00 888px,#00e700 925px)"></i>
<i style="top:544px;height:4px;background:linear-gradient(90deg,#00e700 0px,#00f700 42px,#00e400 130px,#00ff00 228px,#0fff00 230px,#0fff00 240px,#00ff00 242px,#00ff00 244px,#00c200 392px,#00cc00 436px,#00ff00 474px,#75ff00 490px,#75ff00 492px,#b0ff00 500px,#c0fd00 506px,#ecef00 578px,#efed00 608px,#ffcd00 682px,#efed00 750px,#ecef00 792px,#d4f700 820px,#bcff00 834px,#00ff00 860px,#00ea00 888px,#00e700 925px)"></i>
<i style="top:548px;height:4px;background:linear-gradient(90deg,#00ea00 0px,#00f700 48px,#00e700 92px,#00e700 136px,#00ff00 216px,#0fff00 218px,#0fff00 224px,#1dff00 226px,#1dff00 230px,#2cff00 232px,#2cff00 238px,#00ff00 248px,#00c700 392px,#00d200 436px,#00ff00 470px,#3bff00 478px,#3bff00 480px,#93ff00 492px,#93ff00 494px,#bcff00 500px,#c4fc00 506px,#ecef00 574px,#f0ea00 614px,#ffcd00 680px,#efed00 748px,#efed00 782px,#d8f500 816px,#bcff00 834px,#a1ff00 838px,#84ff00 840px,#00ff00 858px,#00ea00 886px,#00e700 925px)"></i>
<i style="top:552px;height:4px;background:linear-gradient(90deg,#00ea00 0px,#00fa00 46px,#00e700 120px,#00ff00 204px,#0fff00 206px,#0fff00 212px,#1dff00 214px,#1dff00 218px,#2cff00 220px,#2cff00 226px,#3bff00 228px,#3bff00 232px,#49ff00 234px,#0fff00 252px,#00ff00 254px,#00cc00 376px,#00d700 436px,#00ff00 466px,#1dff00 470px,#1dff00 472px,#67ff00 482px,#67ff00 484px,#a1ff00 492px,#a1ff00 494px,#bcff00 498px,#c8fb00 506px,#ecef00 570px,#efed00 602px,#ffcd00 678px,#efed00 748px,#ecef00 790px,#d4f700 818px,#bcff00 832px,#58ff00 846px,#3bff00 848px,#0fff00 854px,#0fff00 856px,#00ff00 858px,#00ea00 886px,#00e700 925px)"></i>
<i style="top:556px;height:4px;background:linear-gradient(90deg,#00ea00 0px,#00fc00 44px,#00ea00 92px,#00ea00 122px,#00ff00 192px,#0fff00 194px,#0fff00 200px,#1dff00 202px,#1dff00 206px,#2cff00 208px,#2cff00 214px,#3bff00 216px,#3bff00 220px,#49ff00 222px,#49ff00 226px,#58ff00 228px,#58ff00 238px,#49ff00 240px,#49ff00 244px,#3bff00 246px,#3bff00 248px,#1dff00 252px,#0fff00 258px,#00ff00 260px,#00cf00 380px,#00dc00 436px,#00ff00 464px,#58ff00 476px,#58ff00 478px,#84ff00 484px,#84ff00 486px,#bcff00 494px,#c4fc00 500px,#ecef00 566px,#f0ea00 608px,#ffcd00 674px,#efed00 746px,#ecef00 788px,#d4f700 816px,#bcff00 830px,#00ff00 856px,#00ea00 884px,#00e700 925px)"></i>
<i style="top:560px;height:4px;background:linear-gradient(90deg,#00ea00 0px,#00fc00 42px,#00ec00 120px,#00ff00 180px,#0fff00 182px,#0fff00 188px,#1dff00 190px,#1dff00 194px,#2cff00 196px,#3bff00 210px,#49ff00 212px,#58ff00 222px,#67ff00 224px,#67ff00 228px,#75ff00 230px,#75ff00 238px,#00ff00 268px,#00d400 378px,#00df00 430px,#00ff00 460px,#58ff00 472px,#58ff00 474px,#b0ff00 488px,#c8fb00 500px,#dcf400 522px,#ecef00 562px,#efed00 596px,#ffcd00 672px,#efed00 744px,#efed00 778px,#d8f500 812px,#bcff00 830px,#93ff00 836px,#75ff00 838px,#00ff00 854px,#00ea00 884px,#00e700 925px)"></i>
<i style="top:564px;height:4px;background:linear-gradient(90deg,#00ea00 0px,#00ff00 46px,#00ef00 88px,#00ff00 168px,#0fff00 170px,#0fff00 176px,#1dff00 178px,#1dff00 182px,#2cff00 184px,#2cff00 190px,#3bff00 192px,#3bff00 198px,#49ff00 200px,#49ff00 206px,#58ff00 208px,#67ff00 218px,#84ff00 224px,#84ff00 228px,#93ff00 230px,#93ff00 236px,#84ff00 238px,#84ff00 242px,#00ff00 276px,#00da00 374px,#00e400 430px,#00ff00 456px,#67ff00 470px,#67ff00 472px,#93ff00 478px,#93ff00 480px,#b0ff00 484px,#bcff00 488px,#c8fb00 496px,#e0f300 524px,#ecef00 556px,#efed00 592px,#ffcd00 668px,#efed00 742px,#efed00 776px,#e0f300 802px,#bcff00 828px,#00ff00 854px,#00ea00 882px,#00e700 925px)"></i>
<i style="top:568px;height:4px;background:linear-gradient(90deg,#00ea00 0px,#00ff00 44px,#00f200 94px,#00ff00 156px,#0fff00 158px,#0fff00 164px,#1dff00 166px,#1dff00 170px,#2cff00 172px,#2cff00 178px,#3bff00 180px,#3bff00 186px,#49ff00 188px,#49ff00 194px,#58ff00 196px,#58ff00 200px,#67ff00 202px,#67ff00 208px,#75ff00 210px,#75ff00 214px,#93ff00 220px,#a1ff00 230px,#b0ff00 232px,#a1ff00 242px,#0fff00 280px,#0fff00 284px,#00ff00 286px,#00df00 372px,#00e200 414px,#00ff00 452px,#67ff00 466px,#67ff00 468px,#93ff00 474px,#93ff00 476px,#b0ff00 480px,#bcff00 484px,#c8fb00 492px,#ecef00 550px,#f0ea00 596px,#ffcd00 666px,#efed00 742px,#e4f100 796px,#bcff00 826px,#00ff00 852px,#00ea00 880px,#00e700 925px)"></i>
<i style="top:572px;height:4px;background:linear-gradient(90deg,#00ea00 0px,#00ff00 42px,#00ff00 46px,#0fff00 48px,#00ff00 50px,#00f700 84px,#00ff00 144px,#0fff00 146px,#1dff00 160px,#2cff00 162px,#2cff00 166px,#3bff00 168px,#3bff00 174px,#49ff00 176px,#58ff00 190px,#67ff00 192px,#67ff00 198px,#75ff00 200px,#84ff00 210px,#a1ff00 216px,#a1ff00 220px,#b0ff00 222px,#b0ff00 226px,#bcff00 228px,#bcff00 240px,#b0ff00 242px,#b0ff00 246px,#2cff00 280px,#2cff00 284px,#0fff00 290px,#0fff00 296px,#00ff00 298px,#00e200 378px,#00e400 410px,#00ff00 446px,#3bff00 454px,#3bff00 456px,#75ff00 464px,#75ff00 466px,#a1ff00 472px,#a1ff00 474px,#bcff00 478px,#c4fc00 484px,#ecef00 542px,#f0ea00 592px,#ffcd00 662px,#efed00 740px,#efed00 772px,#dcf400 804px,#bcff00 826px,#75ff00 836px,#58ff00 838px,#00ff00 850px,#00ea00 880px,#00e700 925px)"></i>
<i style="top:576px;height:4px;background:linear-gradient(90deg,#00ea00 0px,#00ff00 46px,#0fff00 48px,#0fff00 54px,#00ff00 56px,#00ff00 132px,#0fff00 134px,#0fff00 140px,#1dff00 142px,#1dff00 148px,#2cff00 150px,#2cff00 156px,#3bff00 158px,#3bff00 162px,#49ff00 164px,#49ff00 170px,#58ff00 172px,#58ff00 178px,#67ff00 180px,#75ff00 194px,#84ff00 196px,#84ff00 200px,#93ff00 202px,#93ff00 206px,#a1ff00 208px,#a1ff00 212px,#b0ff00 214px,#b0ff00 218px,#bcff00 220px,#c4fc00 232px,#bcff00 248px,#a1ff00 254px,#a1ff00 258px,#49ff00 280px,#3bff00 290px,#2cff00 292px,#1dff00 302px,#0fff00 304px,#0fff00 308px,#00ff00 310px,#00e700 376px,#00ea00 414px,#00ff00 442px,#58ff00 454px,#58ff00 456px,#b0ff00 470px,#c0fd00 476px,#ecef00 534px,#f0ea00 588px,#ffcd00 658px,#efed00 738px,#efed00 772px,#e0f300 798px,#bcff00 824px,#00ff00 850px,#00ea00 878px,#00e700 925px)"></i>
<i style="top:580px;height:4px;background:linear-gradient(90deg,#00ea00 0px,#00ff00 46px,#0fff00 48px,#0fff00 60px,#00ff00 62px,#00ff00 116px,#0fff00 118px,#0fff00 128px,#1dff00 130px,#2cff00 144px,#3bff00 146px,#3bff00 152px,#49ff00 154px,#49ff00 160px,#58ff00 162px,#58ff00 168px,#67ff00 170px,#75ff00 184px,#84ff00 186px,#84ff00 190px,#93ff00 192px,#93ff00 196px,#a1ff00 198px,#a1ff00 202px,#b0ff00 204px,#b0ff00 208px,#bcff00 210px,#c8fb00 230px,#bcff00 256px,#b0ff00 258px,#b0ff00 262px,#84ff00 272px,#84ff00 276px,#58ff00 286px,#58ff00 290px,#49ff00 292px,#49ff00 296px,#3bff00 298px,#3bff00 302px,#2cff00 304px,#1dff00 318px,#0fff00 320px,#0fff00 328px,#00ff00 330px,#00ea00 386px,#00ec00 412px,#00ff00 438px,#75ff00 454px,#75ff00 456px,#a1ff00 462px,#a1ff00 464px,#bcff00 468px,#c8fb00 478px,#ecef00 532px,#f0ea00 584px,#ffcd00 656px,#efed00 736px,#e4f100 792px,#bcff00 822px,#00ff00 848px,#00ea00 876px,#00e700 925px)"></i>
<i style="top:584px;height:4px;background:linear-gradient(90deg,#00ea00 0px,#00ff00 42px,#00ff00 46px,#0fff00 48px,#0fff00 108px,#1dff00 110px,#1dff00 122px,#2cff00 124px,#2cff00 132px,#3bff00 134px,#3bff00 140px,#49ff00 142px,#58ff00 156px,#67ff00 158px,#67ff00 164px,#75ff00 166px,#75ff00 172px,#84ff00 174px,#84ff00 180px,#93ff00 182px,#93ff00 186px,#a1ff00 188px,#a1ff00 194px,#b0ff00 196px,#b0ff00 200px,#bcff00 202px,#ccf900 230px,#bcff00 266px,#a1ff00 272px,#a1ff00 276px,#84ff00 282px,#75ff00 292px,#67ff00 294px,#67ff00 298px,#58ff00 300px,#58ff00 304px,#49ff00 306px,#3bff00 320px,#2cff00 322px,#2cff00 326px,#1dff00 328px,#1dff00 334px,#0fff00 336px,#0fff00 340px,#00ff00 342px,#00ec00 396px,#00ff00 434px,#93ff00 454px,#93ff00 456px,#b0ff00 460px,#c0fd00 466px,#ecef00 528px,#f1e700 588px,#ffcd00 652px,#efed00 732px,#efed00 768px,#dcf400 800px,#bcff00 822px,#67ff00 834px,#49ff00 836px,#0fff00 844px,#0fff00 846px,#00ff00 848px,#00ea00 876px,#00e700 925px)"></i>
<i style="top:588px;height:4px;background:linear-gradient(90deg,#00ea00 0px,#00ff00 46px,#1dff00 52px,#1dff00 94px,#2cff00 96px,#2cff00 114px,#3bff00 116px,#3bff00 126px,#49ff00 128px,#49ff00 136px,#58ff00 138px,#58ff00 144px,#67ff00 146px,#67ff00 154px,#75ff00 156px,#75ff00 162px,#84ff00 164px,#84ff00 170px,#93ff00 172px,#93ff00 178px,#a1ff00 180px,#a1ff00 184px,#b0ff00 186px,#b0ff00 192px,#bcff00 194px,#d4f700 238px,#bcff00 276px,#a1ff00 282px,#93ff00 292px,#84ff00 294px,#84ff00 300px,#75ff00 302px,#75ff00 306px,#67ff00 308px,#67ff00 314px,#58ff00 316px,#58ff00 322px,#49ff00 324px,#3bff00 334px,#00ff00 348px,#00ef00 400px,#00ff00 428px,#0fff00 430px,#0fff00 432px,#93ff00 450px,#93ff00 452px,#bcff00 458px,#c0fd00 460px,#ecef00 524px,#f0ea00 574px,#ffcd00 650px,#efed00 730px,#ecef00 778px,#e0f300 794px,#bcff00 820px,#00ff00 846px,#00ea00 874px,#00e700 925px)"></i>
<i style="top:592px;height:4px;background:linear-gradient(90deg,#00ea00 0px,#00ff00 46px,#1dff00 52px,#1dff00 70px,#2cff00 72px,#2cff00 82px,#3bff00 84px,#3bff00 108px,#49ff00 110px,#49ff00 122px,#58ff00 124px,#58ff00 132px,#67ff00 134px,#67ff00 142px,#75ff00 144px,#75ff00 152px,#84ff00 154px,#84ff00 160px,#93ff00 162px,#a1ff00 176px,#b0ff00 178px,#b0ff00 182px,#bcff00 184px,#d4f700 230px,#d4f700 248px,#bcff00 288px,#b0ff00 290px,#b0ff00 294px,#a1ff00 296px,#a1ff00 300px,#93ff00 302px,#93ff00 308px,#84ff00 310px,#84ff00 316px,#75ff00 318px,#75ff00 322px,#67ff00 324px,#67ff00 328px,#58ff00 330px,#58ff00 334px,#49ff00 336px,#49ff00 338px,#2cff00 342px,#2cff00 344px,#1dff00 346px,#1dff00 350px,#00ff00 356px,#00f200 404px,#00ff00 424px,#1dff00 428px,#1dff00 430px,#75ff00 442px,#75ff00 444px,#bcff00 454px,#c4fc00 458px,#ecef00 518px,#f0ea00 568px,#ffcd00 646px,#efed00 728px,#e4f100 788px,#bcff00 818px,#00ff00 844px,#00ea00 874px,#00e400 925px)"></i>
<i style="top:596px;height:4px;background:linear-gradient(90deg,#00ea00 0px,#00ff00 46px,#1dff00 52px,#1dff00 56px,#2cff00 58px,#2cff00 76px,#3bff00 78px,#3bff00 82px,#49ff00 84px,#49ff00 100px,#58ff00 102px,#58ff00 116px,#67ff00 118px,#67ff00 128px,#75ff00 130px,#75ff00 140px,#84ff00 142px,#84ff00 150px,#93ff00 152px,#93ff00 158px,#a1ff00 160px,#a1ff00 166px,#b0ff00 168px,#b0ff00 174px,#bcff00 176px,#d8f500 232px,#d0f800 268px,#b0ff00 310px,#a1ff00 312px,#a1ff00 318px,#93ff00 320px,#93ff00 324px,#75ff00 330px,#75ff00 334px,#58ff00 338px,#58ff00 340px,#3bff00 346px,#3bff00 348px,#1dff00 354px,#0fff00 364px,#00ff00 366px,#00f700 392px,#00ff00 418px,#0fff00 420px,#0fff00 422px,#2cff00 426px,#2cff00 428px,#75ff00 438px,#75ff00 440px,#bcff00 450px,#ccf900 460px,#ecef00 514px,#f0ea00 562px,#ffcd00 644px,#efed00 726px,#ecef00 774px,#dcf400 796px,#bcff00 818px,#58ff00 832px,#3bff00 834px,#3bff00 836px,#00ff00 844px,#00ea00 872px,#00e400 925px)"></i>
<i style="top:600px;height:4px;background:linear-gradient(90deg,#00ea00 0px,#00ff00 46px,#1dff00 52px,#1dff00 56px,#2cff00 58px,#2cff00 72px,#3bff00 74px,#3bff00 82px,#49ff00 84px,#49ff00 88px,#58ff00 90px,#58ff00 96px,#67ff00 98px,#67ff00 112px,#75ff00 114px,#75ff00 126px,#84ff00 128px,#84ff00 138px,#93ff00 140px,#a1ff00 158px,#b0ff00 160px,#b0ff00 166px,#bcff00 168px,#dcf400 234px,#d8f500 266px,#bcff00 318px,#b0ff00 320px,#b0ff00 324px,#2cff00 358px,#2cff00 362px,#1dff00 364px,#0fff00 374px,#00ff00 376px,#00ff00 412px,#0fff00 414px,#1dff00 420px,#49ff00 426px,#49ff00 428px,#84ff00 436px,#84ff00 438px,#bcff00 446px,#d4f700 462px,#ecef00 510px,#f1e700 566px,#ffcd00 640px,#efed00 724px,#efed00 760px,#dcf400 794px,#bcff00 816px,#00ff00 842px,#00ea00 870px,#00e400 925px)"></i>
<i style="top:604px;height:4px;background:linear-gradient(90deg,#00ea00 0px,#00ff00 46px,#0fff00 48px,#0fff00 52px,#1dff00 54px,#1dff00 56px,#2cff00 58px,#2cff00 70px,#3bff00 72px,#3bff00 80px,#49ff00 82px,#49ff00 88px,#58ff00 90px,#58ff00 94px,#75ff00 100px,#75ff00 110px,#84ff00 112px,#84ff00 124px,#93ff00 126px,#93ff00 138px,#a1ff00 140px,#a1ff00 148px,#b0ff00 150px,#b0ff00 156px,#bcff00 158px,#e0f300 234px,#e0f300 262px,#bcff00 328px,#58ff00 354px,#58ff00 356px,#49ff00 358px,#49ff00 362px,#3bff00 364px,#3bff00 366px,#2cff00 368px,#2cff00 372px,#1dff00 374px,#0fff00 388px,#00ff00 390px,#00ff00 406px,#0fff00 408px,#0fff00 410px,#2cff00 414px,#3bff00 420px,#67ff00 426px,#67ff00 428px,#a1ff00 436px,#a1ff00 438px,#bcff00 442px,#d8f500 462px,#ecef00 502px,#ffcd00 636px,#efed00 722px,#efed00 758px,#d8f500 796px,#bcff00 816px,#93ff00 822px,#75ff00 824px,#0fff00 838px,#0fff00 840px,#00ff00 842px,#00ea00 870px,#00e400 925px)"></i>
<i style="top:608px;height:4px;background:linear-gradient(90deg,#00ea00 0px,#00ff00 46px,#0fff00 48px,#0fff00 52px,#1dff00 54px,#1dff00 56px,#2cff00 58px,#2cff00 64px,#3bff00 66px,#3bff00 80px,#49ff00 82px,#49ff00 88px,#58ff00 90px,#58ff00 94px,#75ff00 100px,#84ff00 110px,#93ff00 112px,#93ff00 126px,#a1ff00 128px,#a1ff00 138px,#b0ff00 140px,#b0ff00 148px,#bcff00 150px,#e4f100 236px,#e4f100 268px,#bcff00 336px,#67ff00 358px,#67ff00 362px,#49ff00 368px,#49ff00 372px,#3bff00 374px,#3bff00 378px,#2cff00 380px,#2cff00 386px,#1dff00 388px,#1dff00 406px,#2cff00 408px,#2cff00 410px,#49ff00 414px,#49ff00 416px,#67ff00 420px,#67ff00 422px,#84ff00 426px,#84ff00 428px,#b0ff00 434px,#c4fc00 442px,#e4f100 472px,#efed00 530px,#ffcd00 632px,#efed00 720px,#efed00 756px,#e0f300 784px,#bcff00 814px,#00ff00 840px,#00ea00 868px,#00e400 925px)"></i>
<i style="top:612px;height:4px;background:linear-gradient(90deg,#00ea00 0px,#00ff00 48px,#0fff00 50px,#1dff00 56px,#2cff00 58px,#2cff00 62px,#3bff00 64px,#3bff00 80px,#49ff00 82px,#49ff00 88px,#58ff00 90px,#67ff00 100px,#84ff00 106px,#84ff00 110px,#93ff00 112px,#93ff00 116px,#a1ff00 118px,#a1ff00 128px,#b0ff00 130px,#b0ff00 138px,#bcff00 140px,#e8f000 236px,#e8f000 270px,#bcff00 342px,#b0ff00 344px,#b0ff00 348px,#84ff00 358px,#84ff00 362px,#67ff00 368px,#58ff00 378px,#49ff00 380px,#49ff00 386px,#3bff00 388px,#3bff00 404px,#49ff00 406px,#49ff00 410px,#67ff00 414px,#67ff00 416px,#84ff00 420px,#84ff00 422px,#bcff00 432px,#e0f300 464px,#f0ea00 536px,#ffcd00 626px,#efed00 716px,#efed00 754px,#e0f300 782px,#bcff00 812px,#00ff00 838px,#00ea00 868px,#00e400 925px)"></i>
<i style="top:616px;height:4px;background:linear-gradient(90deg,#00ea00 0px,#00ff00 48px,#1dff00 54px,#1dff00 58px,#3bff00 64px,#3bff00 78px,#49ff00 80px,#49ff00 88px,#58ff00 90px,#67ff00 100px,#84ff00 106px,#84ff00 110px,#93ff00 112px,#93ff00 116px,#a1ff00 118px,#a1ff00 122px,#b0ff00 124px,#b0ff00 130px,#bcff00 132px,#ecef00 236px,#ecef00 272px,#bcff00 352px,#a1ff00 358px,#93ff00 368px,#84ff00 370px,#84ff00 374px,#75ff00 376px,#67ff00 386px,#58ff00 388px,#58ff00 400px,#67ff00 402px,#67ff00 408px,#75ff00 410px,#75ff00 412px,#93ff00 416px,#a1ff00 422px,#bcff00 426px,#e0f300 460px,#ecef00 480px,#efed00 520px,#ffcd00 622px,#efed00 714px,#efed00 752px,#e0f300 780px,#c8fb00 802px,#b0ff00 812px,#0fff00 834px,#0fff00 836px,#00ff00 838px,#00ea00 866px,#00e400 925px)"></i>
<i style="top:620px;height:4px;background:linear-gradient(90deg,#00ea00 0px,#00ff00 48px,#0fff00 50px,#0fff00 54px,#1dff00 56px,#1dff00 58px,#3bff00 64px,#3bff00 76px,#49ff00 78px,#49ff00 88px,#58ff00 90px,#58ff00 94px,#67ff00 96px,#75ff00 106px,#93ff00 112px,#93ff00 116px,#b0ff00 122px,#b0ff00 126px,#bcff00 128px,#ecef00 230px,#efed00 272px,#ccf900 340px,#bcff00 362px,#b0ff00 364px,#b0ff00 368px,#a1ff00 370px,#a1ff00 374px,#93ff00 376px,#93ff00 380px,#84ff00 382px,#84ff00 388px,#75ff00 390px,#75ff00 398px,#84ff00 400px,#84ff00 408px,#bcff00 420px,#e8f000 468px,#f0ea00 526px,#ffcd00 618px,#efed00 710px,#efed00 748px,#dcf400 782px,#bcff00 806px,#a1ff00 810px,#a1ff00 812px,#00ff00 834px,#00ea00 864px,#00e400 925px)"></i>
<i style="top:624px;height:4px;background:linear-gradient(90deg,#00e700 0px,#00ff00 48px,#0fff00 50px,#0fff00 54px,#1dff00 56px,#1dff00 58px,#2cff00 60px,#2cff00 64px,#3bff00 66px,#3bff00 72px,#49ff00 74px,#49ff00 88px,#58ff00 90px,#58ff00 94px,#67ff00 96px,#67ff00 100px,#75ff00 102px,#75ff00 106px,#84ff00 108px,#84ff00 112px,#bcff00 126px,#ecef00 224px,#f1e700 264px,#e4f100 308px,#bcff00 374px,#b0ff00 376px,#b0ff00 382px,#a1ff00 384px,#a1ff00 390px,#93ff00 392px,#93ff00 394px,#a1ff00 396px,#a1ff00 406px,#b0ff00 408px,#b0ff00 412px,#c0fd00 416px,#ecef00 472px,#ffcd00 614px,#efed00 708px,#efed00 746px,#dcf400 780px,#bcff00 804px,#93ff00 810px,#93ff00 812px,#00ff00 832px,#00ea00 864px,#00e400 925px)"></i>
<i style="top:628px;height:4px;background:linear-gradient(90deg,#00e700 0px,#00ff00 50px,#1dff00 56px,#1dff00 60px,#3bff00 66px,#3bff00 70px,#49ff00 72px,#49ff00 86px,#58ff00 88px,#67ff00 102px,#84ff00 108px,#84ff00 112px,#93ff00 114px,#93ff00 116px,#b0ff00 120px,#bcff00 124px,#ecef00 218px,#f1e700 250px,#ecef00 298px,#bcff00 390px,#b0ff00 394px,#bcff00 396px,#ecef00 468px,#ffcd00 608px,#efed00 704px,#efed00 744px,#dcf400 778px,#bcff00 802px,#67ff00 814px,#67ff00 816px,#00ff00 830px,#00ea00 862px,#00e400 925px)"></i>
<i style="top:632px;height:4px;background:linear-gradient(90deg,#00e700 0px,#00ff00 50px,#0fff00 52px,#0fff00 56px,#3bff00 66px,#3bff00 70px,#49ff00 72px,#49ff00 84px,#58ff00 86px,#58ff00 94px,#67ff00 96px,#67ff00 102px,#bcff00 124px,#ecef00 212px,#f3e500 258px,#efed00 298px,#c0fd00 396px,#ecef00 464px,#ffcd00 602px,#efed00 702px,#e8f000 760px,#bcff00 800px,#3bff00 818px,#3bff00 820px,#00ff00 828px,#00ea00 860px,#00e400 925px)"></i>
<i style="top:636px;height:4px;background:linear-gradient(90deg,#00e700 0px,#00ff00 50px,#0fff00 52px,#0fff00 56px,#1dff00 58px,#1dff00 60px,#2cff00 62px,#2cff00 66px,#49ff00 72px,#49ff00 82px,#58ff00 84px,#58ff00 94px,#67ff00 96px,#67ff00 102px,#93ff00 112px,#a1ff00 118px,#bcff00 122px,#ecef00 206px,#f3e500 250px,#efed00 306px,#c8fb00 400px,#ecef00 458px,#ffcd00 596px,#efed00 698px,#efed00 740px,#e0f300 768px,#bcff00 798px,#3bff00 816px,#3bff00 818px,#00ff00 826px,#00ea00 858px,#00e400 925px)"></i>
<i style="top:640px;height:4px;background:linear-gradient(90deg,#00e700 0px,#00ff00 52px,#1dff00 58px,#1dff00 62px,#3bff00 68px,#3bff00 72px,#49ff00 74px,#49ff00 80px,#58ff00 82px,#58ff00 94px,#67ff00 96px,#67ff00 102px,#75ff00 104px,#75ff00 108px,#bcff00 122px,#d0f800 140px,#e8f000 190px,#f4e200 260px,#f0ea00 304px,#ccf900 396px,#efed00 462px,#ffcd00 590px,#efed00 696px,#efed00 738px,#e0f300 766px,#bcff00 796px,#2cff00 816px,#2cff00 818px,#00ff00 824px,#00ea00 856px,#00e400 925px)"></i>
<i style="top:644px;height:4px;background:linear-gradient(90deg,#00e700 0px,#00ff00 52px,#0fff00 54px,#0fff00 58px,#2cff00 64px,#2cff00 68px,#3bff00 70px,#3bff00 72px,#49ff00 74px,#49ff00 78px,#58ff00 80px,#58ff00 94px,#67ff00 96px,#67ff00 102px,#75ff00 104px,#75ff00 108px,#bcff00 122px,#d4f700 142px,#e4f100 174px,#f4e200 274px,#d4f700 402px,#efed00 458px,#ffcd00 582px,#efed00 692px,#e4f100 758px,#bcff00 794px,#1dff00 816px,#1dff00 818px,#00ff00 822px,#00ea00 854px,#00e400 925px)"></i>
<i style="top:648px;height:4px;background:linear-gradient(90deg,#00e700 0px,#00ff00 52px,#0fff00 54px,#0fff00 58px,#1dff00 60px,#1dff00 64px,#3bff00 70px,#3bff00 74px,#58ff00 80px,#58ff00 94px,#67ff00 96px,#67ff00 102px,#75ff00 104px,#75ff00 108px,#bcff00 124px,#e0f300 158px,#efed00 200px,#f4e200 278px,#d8f500 402px,#efed00 454px,#ffcd00 574px,#fcd200 618px,#efed00 688px,#e4f100 756px,#bcff00 792px,#1dff00 814px,#1dff00 816px,#00ff00 820px,#00ea00 852px,#00e400 925px)"></i>
<i style="top:652px;height:4px;background:linear-gradient(90deg,#00e700 0px,#00ff00 54px,#1dff00 60px,#2cff00 70px,#3bff00 72px,#3bff00 74px,#49ff00 76px,#49ff00 80px,#58ff00 82px,#58ff00 92px,#67ff00 94px,#67ff00 102px,#75ff00 104px,#75ff00 108px,#93ff00 114px,#a1ff00 120px,#bcff00 124px,#e8f000 170px,#f5df00 268px,#dcf400 402px,#efed00 450px,#ffcd00 570px,#efed00 684px,#e4f100 754px,#c8fb00 782px,#b0ff00 792px,#0fff00 814px,#0fff00 816px,#00ff00 818px,#00ea00 848px,#00e400 925px)"></i>
<i style="top:656px;height:4px;background:linear-gradient(90deg,#00e700 0px,#00ff00 54px,#0fff00 56px,#0fff00 60px,#1dff00 62px,#1dff00 66px,#3bff00 72px,#3bff00 76px,#58ff00 82px,#58ff00 92px,#67ff00 94px,#67ff00 104px,#75ff00 106px,#75ff00 110px,#84ff00 112px,#93ff00 118px,#b0ff00 122px,#c0fd00 128px,#ecef00 176px,#f5df00 274px,#e0f300 404px,#ffcd00 566px,#efed00 680px,#efed00 724px,#e0f300 756px,#bcff00 786px,#a1ff00 790px,#a1ff00 792px,#0fff00 812px,#0fff00 814px,#00ff00 816px,#00ea00 846px,#00e400 925px)"></i>
<i style="top:660px;height:4px;background:linear-gradient(90deg,#00e700 0px,#00ff00 56px,#1dff00 62px,#2cff00 72px,#3bff00 74px,#3bff00 76px,#49ff00 78px,#49ff00 82px,#58ff00 84px,#58ff00 90px,#67ff00 92px,#67ff00 104px,#75ff00 106px,#75ff00 110px,#84ff00 112px,#c0fd00 130px,#ecef00 176px,#f5df00 260px,#e4f100 378px,#ecef00 440px,#ffcd00 560px,#efed00 676px,#efed00 720px,#d8f500 764px,#bcff00 784px,#93ff00 790px,#93ff00 792px,#0fff00 810px,#0fff00 812px,#00ff00 814px,#00ea00 844px,#00e400 925px)"></i>
<i style="top:664px;height:4px;background:linear-gradient(90deg,#00e400 0px,#00ff00 56px,#0fff00 58px,#0fff00 62px,#1dff00 64px,#1dff00 68px,#3bff00 74px,#3bff00 78px,#58ff00 84px,#58ff00 88px,#67ff00 90px,#67ff00 104px,#75ff00 106px,#75ff00 112px,#93ff00 118px,#a1ff00 124px,#bcff00 128px,#ecef00 178px,#f5df00 256px,#e4f100 396px,#ecef00 434px,#ffcd00 554px,#efed00 672px,#efed00 716px,#e0f300 750px,#bcff00 782px,#75ff00 792px,#75ff00 794px,#0fff00 808px,#0fff00 810px,#00ff00 812px,#00ea00 842px,#00e400 925px)"></i>
<i style="top:668px;height:4px;background:linear-gradient(90deg,#00e400 0px,#00ff00 56px,#0fff00 58px,#0fff00 62px,#1dff00 64px,#2cff00 74px,#49ff00 80px,#58ff00 90px,#67ff00 92px,#67ff00 104px,#75ff00 106px,#75ff00 112px,#84ff00 114px,#84ff00 118px,#bcff00 130px,#ecef00 180px,#f5df00 260px,#e8f000 390px,#efed00 452px,#fdcf00 532px,#fcd200 586px,#efed00 666px,#e8f000 734px,#bcff00 780px,#58ff00 794px,#58ff00 796px,#0fff00 806px,#0fff00 808px,#00ff00 810px,#00ea00 840px,#00e400 925px)"></i>
<i style="top:672px;height:4px;background:linear-gradient(90deg,#00e400 0px,#00ff00 58px,#0fff00 60px,#0fff00 64px,#1dff00 66px,#1dff00 70px,#3bff00 76px,#3bff00 80px,#49ff00 82px,#58ff00 92px,#67ff00 94px,#67ff00 104px,#75ff00 106px,#75ff00 114px,#84ff00 116px,#c0fd00 134px,#ecef00 180px,#f5df00 264px,#efed00 452px,#fdcf00 524px,#fcd200 576px,#efed00 662px,#e8f000 730px,#bcff00 778px,#49ff00 794px,#49ff00 796px,#0fff00 804px,#0fff00 806px,#00ff00 808px,#00ea00 838px,#00e200 925px)"></i>
<i style="top:676px;height:4px;background:linear-gradient(90deg,#00e400 0px,#00ff00 58px,#0fff00 60px,#0fff00 64px,#1dff00 66px,#1dff00 70px,#2cff00 72px,#3bff00 82px,#58ff00 88px,#58ff00 92px,#67ff00 94px,#67ff00 106px,#75ff00 108px,#75ff00 116px,#84ff00 118px,#c0fd00 136px,#ecef00 182px,#f5df00 268px,#efed00 454px,#fdcf00 516px,#fbd500 580px,#efed00 656px,#e8f000 726px,#bcff00 774px,#a1ff00 778px,#a1ff00 780px,#3bff00 794px,#3bff00 796px,#00ff00 804px,#00ea00 836px,#00e200 925px)"></i>
<i style="top:680px;height:4px;background:linear-gradient(90deg,#00e400 0px,#00ff00 60px,#0fff00 62px,#0fff00 66px,#1dff00 68px,#2cff00 78px,#49ff00 84px,#58ff00 94px,#67ff00 96px,#67ff00 106px,#75ff00 108px,#75ff00 116px,#84ff00 118px,#84ff00 122px,#93ff00 124px,#c0fd00 138px,#ecef00 184px,#f5df00 272px,#efed00 454px,#fdcf00 508px,#fbd500 570px,#efed00 652px,#efed00 702px,#e4f100 730px,#c4fc00 766px,#b0ff00 774px,#75ff00 782px,#75ff00 784px,#2cff00 794px,#2cff00 796px,#00ff00 802px,#00ea00 834px,#00e200 925px)"></i>
<i style="top:684px;height:4px;background:linear-gradient(90deg,#00e400 0px,#00ff00 62px,#1dff00 68px,#1dff00 72px,#2cff00 74px,#2cff00 78px,#3bff00 80px,#3bff00 84px,#49ff00 86px,#49ff00 90px,#58ff00 92px,#58ff00 96px,#67ff00 98px,#67ff00 108px,#75ff00 110px,#75ff00 118px,#84ff00 120px,#84ff00 124px,#93ff00 126px,#c0fd00 140px,#ecef00 186px,#f5df00 274px,#efed00 454px,#fdcf00 506px,#efed00 646px,#e8f000 720px,#bcff00 768px,#93ff00 774px,#93ff00 776px,#49ff00 786px,#49ff00 788px,#1dff00 794px,#1dff00 796px,#00ff00 800px,#00ea00 832px,#00e200 925px)"></i>
<i style="top:688px;height:4px;background:linear-gradient(90deg,#00e200 0px,#00ff00 62px,#0fff00 64px,#0fff00 68px,#1dff00 70px,#1dff00 74px,#2cff00 76px,#3bff00 86px,#49ff00 88px,#58ff00 98px,#67ff00 100px,#67ff00 110px,#75ff00 112px,#75ff00 120px,#84ff00 122px,#84ff00 126px,#93ff00 128px,#a1ff00 134px,#bcff00 138px,#ecef00 188px,#f7dd00 298px,#efed00 454px,#fcd200 500px,#e8f000 716px,#bcff00 764px,#a1ff00 768px,#a1ff00 770px,#67ff00 778px,#67ff00 780px,#2cff00 788px,#2cff00 790px,#0fff00 794px,#0fff00 796px,#00ff00 798px,#00ea00 830px,#00e200 925px)"></i>
<i style="top:692px;height:4px;background:linear-gradient(90deg,#00e200 0px,#00ff00 64px,#0fff00 66px,#0fff00 70px,#1dff00 72px,#1dff00 76px,#2cff00 78px,#3bff00 88px,#58ff00 94px,#58ff00 98px,#67ff00 100px,#67ff00 110px,#75ff00 112px,#75ff00 122px,#84ff00 124px,#84ff00 128px,#93ff00 130px,#a1ff00 136px,#bcff00 140px,#ecef00 190px,#f7dd00 302px,#efed00 454px,#fbd500 496px,#e8f000 712px,#bcff00 760px,#b0ff00 764px,#75ff00 772px,#75ff00 774px,#3bff00 782px,#3bff00 784px,#00ff00 794px,#00ea00 828px,#00e200 925px)"></i>
<i style="top:696px;height:4px;background:linear-gradient(90deg,#00e200 0px,#00ff00 64px,#0fff00 66px,#0fff00 70px,#1dff00 72px,#1dff00 76px,#2cff00 78px,#3bff00 88px,#49ff00 90px,#58ff00 100px,#67ff00 102px,#75ff00 124px,#84ff00 126px,#84ff00 130px,#93ff00 132px,#a1ff00 138px,#bcff00 142px,#e8f000 186px,#f7dd00 308px,#efed00 454px,#fbd500 498px,#efed00 628px,#efed00 686px,#e4f100 716px,#bcff00 758px,#84ff00 766px,#84ff00 768px,#49ff00 776px,#49ff00 778px,#1dff00 784px,#0fff00 790px,#00ff00 792px,#00ea00 826px,#00e200 925px)"></i>
<i style="top:700px;height:4px;background:linear-gradient(90deg,#00e200 0px,#00ff00 66px,#0fff00 68px,#0fff00 72px,#1dff00 74px,#1dff00 78px,#2cff00 80px,#3bff00 90px,#49ff00 92px,#58ff00 102px,#67ff00 104px,#75ff00 126px,#84ff00 128px,#84ff00 132px,#93ff00 134px,#a1ff00 140px,#bcff00 144px,#e8f000 188px,#f7dd00 312px,#efed00 456px,#f9d700 492px,#efed00 682px,#e4f100 712px,#bcff00 754px,#a1ff00 758px,#a1ff00 760px,#58ff00 770px,#58ff00 772px,#2cff00 778px,#2cff00 780px,#0fff00 784px,#0fff00 786px,#00ff00 788px,#00ea00 822px,#00e200 925px)"></i>
<i style="top:704px;height:4px;background:linear-gradient(90deg,#00e200 0px,#00ff00 68px,#0fff00 70px,#0fff00 74px,#1dff00 76px,#1dff00 80px,#2cff00 82px,#3bff00 92px,#49ff00 94px,#58ff00 104px,#67ff00 106px,#75ff00 128px,#84ff00 130px,#84ff00 134px,#93ff00 136px,#a1ff00 142px,#bcff00 146px,#e8f000 190px,#f7dd00 318px,#efed00 456px,#f8da00 488px,#efed00 678px,#e4f100 708px,#c8fb00 742px,#b0ff00 754px,#75ff00 762px,#75ff00 764px,#3bff00 772px,#3bff00 774px,#00ff00 784px,#00ea00 820px,#00e200 925px)"></i>
<i style="top:708px;height:4px;background:linear-gradient(90deg,#00e200 0px,#00ff00 70px,#1dff00 76px,#1dff00 80px,#2cff00 82px,#2cff00 88px,#3bff00 90px,#3bff00 94px,#49ff00 96px,#58ff00 106px,#67ff00 108px,#75ff00 130px,#84ff00 132px,#84ff00 136px,#93ff00 138px,#a1ff00 144px,#bcff00 148px,#e0f300 182px,#efed00 212px,#f7dd00 324px,#efed00 440px,#f7dd00 516px,#ecef00 688px,#d8f500 722px,#bcff00 746px,#b0ff00 750px,#84ff00 756px,#84ff00 758px,#49ff00 766px,#49ff00 768px,#1dff00 774px,#0fff00 780px,#00ff00 782px,#00ea00 816px,#00df00 925px)"></i>
<i style="top:712px;height:4px;background:linear-gradient(90deg,#00df00 0px,#00ff00 70px,#0fff00 72px,#1dff00 82px,#2cff00 84px,#2cff00 90px,#3bff00 92px,#3bff00 96px,#49ff00 98px,#58ff00 108px,#67ff00 110px,#75ff00 132px,#84ff00 134px,#84ff00 138px,#93ff00 140px,#a1ff00 146px,#bcff00 150px,#e0f300 184px,#efed00 214px,#f7dd00 332px,#efed00 440px,#f5df00 518px,#e8f000 692px,#bcff00 744px,#93ff00 750px,#93ff00 752px,#58ff00 760px,#58ff00 762px,#2cff00 768px,#2cff00 770px,#0fff00 774px,#0fff00 776px,#00ff00 778px,#00ea00 814px,#00df00 925px)"></i>
<i style="top:716px;height:4px;background:linear-gradient(90deg,#00df00 0px,#00ff00 72px,#0fff00 74px,#1dff00 84px,#2cff00 86px,#2cff00 90px,#3bff00 92px,#3bff00 98px,#49ff00 100px,#58ff00 110px,#67ff00 112px,#75ff00 134px,#84ff00 136px,#84ff00 140px,#93ff00 142px,#c0fd00 156px,#e4f100 192px,#efed00 218px,#f7dd00 340px,#efed00 440px,#f4e200 522px,#e8f000 688px,#d4f700 720px,#bcff00 740px,#a1ff00 744px,#a1ff00 746px,#75ff00 752px,#75ff00 754px,#3bff00 762px,#3bff00 764px,#00ff00 774px,#00ea00 810px,#00df00 925px)"></i>
<i style="top:720px;height:4px;background:linear-gradient(90deg,#00df00 0px,#00ff00 74px,#0fff00 76px,#1dff00 86px,#2cff00 88px,#2cff00 92px,#3bff00 94px,#3bff00 100px,#49ff00 102px,#58ff00 112px,#67ff00 114px,#67ff00 122px,#75ff00 124px,#75ff00 136px,#84ff00 138px,#84ff00 142px,#bcff00 156px,#e8f000 200px,#f5df00 318px,#f5df00 384px,#efed00 440px,#f3e500 526px,#ecef00 674px,#d8f500 710px,#bcff00 736px,#b0ff00 740px,#84ff00 746px,#84ff00 748px,#49ff00 756px,#49ff00 758px,#1dff00 764px,#0fff00 770px,#00ff00 772px,#00ea00 806px,#00df00 925px)"></i>
<i style="top:724px;height:4px;background:linear-gradient(90deg,#00df00 0px,#00ff00 76px,#0fff00 78px,#1dff00 88px,#2cff00 90px,#2cff00 94px,#3bff00 96px,#3bff00 102px,#49ff00 104px,#58ff00 114px,#67ff00 116px,#67ff00 124px,#75ff00 126px,#75ff00 138px,#84ff00 140px,#84ff00 144px,#bcff00 158px,#e0f300 192px,#efed00 230px,#f5df00 326px,#f5df00 394px,#efed00 440px,#f3e500 488px,#ecef00 670px,#bcff00 734px,#93ff00 740px,#93ff00 742px,#58ff00 750px,#58ff00 752px,#2cff00 758px,#2cff00 760px,#0fff00 764px,#0fff00 766px,#00ff00 768px,#00ea00 804px,#00df00 925px)"></i>
<i style="top:728px;height:4px;background:linear-gradient(90deg,#00df00 0px,#00ff00 78px,#0fff00 80px,#1dff00 90px,#2cff00 92px,#2cff00 96px,#3bff00 98px,#3bff00 104px,#49ff00 106px,#58ff00 116px,#67ff00 118px,#67ff00 126px,#75ff00 128px,#75ff00 140px,#84ff00 142px,#84ff00 146px,#bcff00 160px,#e0f300 194px,#efed00 234px,#f5df00 334px,#f5df00 398px,#efed00 438px,#e8f000 674px,#bcff00 730px,#a1ff00 734px,#a1ff00 736px,#67ff00 744px,#67ff00 746px,#3bff00 752px,#3bff00 754px,#00ff00 764px,#00ea00 800px,#00df00 925px)"></i>
<i style="top:732px;height:4px;background:linear-gradient(90deg,#00df00 0px,#00ff00 80px,#1dff00 86px,#1dff00 92px,#2cff00 94px,#2cff00 98px,#3bff00 100px,#3bff00 106px,#49ff00 108px,#49ff00 112px,#58ff00 114px,#58ff00 120px,#67ff00 122px,#67ff00 130px,#75ff00 132px,#75ff00 142px,#84ff00 144px,#93ff00 154px,#a1ff00 156px,#c0fd00 166px,#dcf400 192px,#ecef00 224px,#f5df00 342px,#f5df00 398px,#efed00 438px,#e8f000 668px,#bcff00 726px,#84ff00 736px,#84ff00 738px,#49ff00 746px,#49ff00 748px,#1dff00 754px,#0fff00 760px,#00ff00 762px,#00ea00 798px,#00df00 925px)"></i>
<i style="top:736px;height:4px;background:linear-gradient(90deg,#00dc00 0px,#00ff00 80px,#0fff00 82px,#1dff00 92px,#2cff00 94px,#3bff00 108px,#49ff00 110px,#49ff00 114px,#58ff00 116px,#58ff00 122px,#67ff00 124px,#67ff00 132px,#75ff00 134px,#75ff00 144px,#84ff00 146px,#93ff00 156px,#bcff00 166px,#d4f700 186px,#ecef00 230px,#f5df00 352px,#f5df00 398px,#efed00 438px,#efed00 636px,#e4f100 672px,#bcff00 720px,#a1ff00 728px,#84ff00 732px,#84ff00 734px,#58ff00 740px,#58ff00 742px,#2cff00 748px,#2cff00 750px,#0fff00 754px,#0fff00 756px,#00ff00 758px,#00ea00 794px,#00dc00 925px)"></i>
<i style="top:740px;height:4px;background:linear-gradient(90deg,#00dc00 0px,#00ff00 82px,#0fff00 84px,#1dff00 94px,#2cff00 96px,#3bff00 110px,#49ff00 112px,#49ff00 116px,#58ff00 118px,#58ff00 124px,#67ff00 126px,#67ff00 134px,#75ff00 136px,#75ff00 148px,#84ff00 150px,#84ff00 154px,#bcff00 168px,#d0f800 186px,#ecef00 234px,#f5df00 362px,#efed00 436px,#efed00 630px,#e4f100 666px,#bcff00 716px,#b0ff00 720px,#93ff00 724px,#93ff00 726px,#75ff00 730px,#75ff00 732px,#58ff00 736px,#58ff00 738px,#3bff00 742px,#3bff00 744px,#1dff00 748px,#1dff00 750px,#00ff00 754px,#00ea00 790px,#00dc00 925px)"></i>
<i style="top:744px;height:4px;background:linear-gradient(90deg,#00dc00 0px,#00ff00 84px,#0fff00 86px,#1dff00 96px,#2cff00 98px,#3bff00 112px,#49ff00 114px,#49ff00 118px,#58ff00 120px,#58ff00 126px,#67ff00 128px,#75ff00 150px,#84ff00 152px,#84ff00 156px,#bcff00 170px,#e0f300 214px,#efed00 254px,#f5df00 374px,#efed00 436px,#efed00 622px,#e4f100 660px,#bcff00 712px,#84ff00 722px,#84ff00 724px,#67ff00 728px,#67ff00 730px,#49ff00 734px,#3bff00 740px,#1dff00 744px,#0fff00 750px,#00ff00 752px,#00ea00 788px,#00dc00 925px)"></i>
<i style="top:748px;height:4px;background:linear-gradient(90deg,#00dc00 0px,#00ff00 86px,#0fff00 88px,#1dff00 98px,#2cff00 100px,#3bff00 114px,#49ff00 116px,#49ff00 120px,#58ff00 122px,#58ff00 128px,#67ff00 130px,#75ff00 152px,#84ff00 154px,#93ff00 164px,#bcff00 174px,#e0f300 220px,#efed00 260px,#f5df00 388px,#efed00 436px,#efed00 614px,#e4f100 654px,#bcff00 708px,#84ff00 718px,#84ff00 720px,#67ff00 724px,#67ff00 726px,#49ff00 730px,#49ff00 732px,#2cff00 736px,#0fff00 746px,#00ff00 748px,#00ea00 784px,#00dc00 925px)"></i>
<i style="top:752px;height:4px;background:linear-gradient(90deg,#00dc00 0px,#00ff00 88px,#0fff00 90px,#1dff00 100px,#2cff00 102px,#2cff00 108px,#3bff00 110px,#3bff00 116px,#49ff00 118px,#49ff00 124px,#58ff00 126px,#58ff00 132px,#67ff00 134px,#67ff00 142px,#75ff00 144px,#75ff00 154px,#84ff00 156px,#93ff00 166px,#b0ff00 172px,#b0ff00 176px,#bcff00 178px,#dcf400 218px,#efed00 266px,#f4e200 368px,#efed00 434px,#efed00 606px,#e4f100 648px,#bcff00 702px,#b0ff00 706px,#93ff00 710px,#93ff00 712px,#75ff00 716px,#75ff00 718px,#58ff00 722px,#58ff00 724px,#3bff00 728px,#0fff00 742px,#00ff00 744px,#00ea00 780px,#00dc00 925px)"></i>
<i style="top:756px;height:4px;background:linear-gradient(90deg,#00dc00 0px,#00ff00 90px,#0fff00 92px,#0fff00 96px,#1dff00 98px,#1dff00 104px,#2cff00 106px,#2cff00 110px,#3bff00 112px,#3bff00 118px,#49ff00 120px,#58ff00 134px,#67ff00 136px,#67ff00 144px,#75ff00 146px,#75ff00 158px,#84ff00 160px,#84ff00 164px,#93ff00 166px,#a1ff00 176px,#bcff00 182px,#e0f300 230px,#efed00 272px,#f4e200 382px,#efed00 434px,#efed00 598px,#e4f100 642px,#bcff00 698px,#b0ff00 702px,#93ff00 706px,#93ff00 708px,#75ff00 712px,#75ff00 714px,#58ff00 718px,#58ff00 720px,#3bff00 724px,#3bff00 726px,#1dff00 730px,#0fff00 736px,#00ff00 738px,#00ea00 778px,#00dc00 925px)"></i>
<i style="top:760px;height:4px;background:linear-gradient(90deg,#00dc00 0px,#00ff00 92px,#0fff00 94px,#0fff00 98px,#1dff00 100px,#1dff00 106px,#2cff00 108px,#2cff00 112px,#3bff00 114px,#3bff00 120px,#49ff00 122px,#58ff00 136px,#67ff00 138px,#67ff00 148px,#75ff00 150px,#75ff00 160px,#84ff00 162px,#93ff00 176px,#b0ff00 182px,#b0ff00 186px,#bcff00 188px,#e0f300 236px,#efed00 280px,#f4e200 398px,#efed00 434px,#efed00 590px,#e4f100 636px,#bcff00 694px,#84ff00 704px,#84ff00 706px,#67ff00 710px,#67ff00 712px,#49ff00 716px,#49ff00 718px,#2cff00 722px,#0fff00 732px,#00ff00 734px,#00ea00 774px,#00dc00 925px)"></i>
<i style="top:764px;height:4px;background:linear-gradient(90deg,#00da00 0px,#00ff00 94px,#0fff00 96px,#0fff00 100px,#1dff00 102px,#1dff00 108px,#2cff00 110px,#2cff00 114px,#3bff00 116px,#3bff00 122px,#49ff00 124px,#49ff00 130px,#58ff00 132px,#58ff00 140px,#67ff00 142px,#67ff00 150px,#75ff00 152px,#75ff00 164px,#84ff00 166px,#84ff00 174px,#93ff00 176px,#93ff00 180px,#a1ff00 182px,#a1ff00 186px,#b0ff00 188px,#b0ff00 192px,#bcff00 194px,#e0f300 240px,#ecef00 268px,#f3e500 378px,#efed00 580px,#e0f300 638px,#bcff00 688px,#a1ff00 696px,#84ff00 700px,#84ff00 702px,#58ff00 708px,#58ff00 710px,#3bff00 714px,#0fff00 728px,#00ff00 730px,#00ea00 770px,#00dc00 925px)"></i>
<i style="top:768px;height:4px;background:linear-gradient(90deg,#00da00 0px,#00ff00 98px,#0fff00 100px,#1dff00 110px,#2cff00 112px,#2cff00 116px,#3bff00 118px,#3bff00 124px,#49ff00 126px,#49ff00 134px,#58ff00 136px,#58ff00 142px,#67ff00 144px,#67ff00 154px,#75ff00 156px,#75ff00 170px,#84ff00 172px,#84ff00 178px,#93ff00 180px,#93ff00 186px,#a1ff00 188px,#a1ff00 192px,#bcff00 198px,#e0f300 246px,#efed00 296px,#f3e500 394px,#ecef00 594px,#ccf900 666px,#bcff00 684px,#a1ff00 688px,#93ff00 694px,#75ff00 698px,#75ff00 700px,#58ff00 704px,#58ff00 706px,#3bff00 710px,#2cff00 716px,#0fff00 720px,#0fff00 722px,#00ff00 724px,#00ea00 766px,#00da00 925px)"></i>
<i style="top:772px;height:4px;background:linear-gradient(90deg,#00da00 0px,#00ff00 100px,#0fff00 102px,#1dff00 112px,#2cff00 114px,#2cff00 120px,#3bff00 122px,#3bff00 128px,#49ff00 130px,#49ff00 136px,#58ff00 138px,#58ff00 144px,#67ff00 146px,#67ff00 158px,#75ff00 160px,#75ff00 176px,#84ff00 178px,#93ff00 192px,#b0ff00 198px,#b0ff00 202px,#bcff00 204px,#dcf400 244px,#ecef00 284px,#f1e700 372px,#efed00 556px,#e0f300 622px,#bcff00 678px,#b0ff00 682px,#93ff00 686px,#84ff00 692px,#49ff00 702px,#3bff00 708px,#1dff00 712px,#0fff00 718px,#00ff00 720px,#00ea00 762px,#00da00 925px)"></i>
<i style="top:776px;height:4px;background:linear-gradient(90deg,#00da00 0px,#00ff00 102px,#0fff00 104px,#1dff00 114px,#2cff00 116px,#2cff00 122px,#3bff00 124px,#3bff00 130px,#49ff00 132px,#49ff00 138px,#58ff00 140px,#58ff00 148px,#67ff00 150px,#67ff00 164px,#75ff00 166px,#75ff00 180px,#84ff00 182px,#84ff00 190px,#93ff00 192px,#93ff00 196px,#a1ff00 198px,#a1ff00 202px,#b0ff00 204px,#b0ff00 208px,#bcff00 210px,#dcf400 250px,#ecef00 292px,#f1e700 388px,#ecef00 574px,#ccf900 654px,#b0ff00 676px,#a1ff00 678px,#93ff00 684px,#58ff00 694px,#49ff00 700px,#2cff00 704px,#0fff00 714px,#00ff00 716px,#00ea00 758px,#00da00 925px)"></i>
<i style="top:780px;height:4px;background:linear-gradient(90deg,#00da00 0px,#00df00 36px,#00ff00 104px,#0fff00 106px,#1dff00 116px,#2cff00 118px,#3bff00 132px,#49ff00 134px,#49ff00 142px,#58ff00 144px,#58ff00 152px,#67ff00 154px,#67ff00 168px,#75ff00 170px,#75ff00 186px,#84ff00 188px,#84ff00 194px,#93ff00 196px,#93ff00 202px,#a1ff00 204px,#a1ff00 208px,#bcff00 214px,#d8f500 250px,#ecef00 300px,#f1e700 406px,#ecef00 562px,#ccf900 648px,#b0ff00 670px,#a1ff00 672px,#84ff00 682px,#49ff00 692px,#0fff00 710px,#00ff00 712px,#00ea00 752px,#00da00 925px)"></i>
<i style="top:784px;height:4px;background:linear-gradient(90deg,#00da00 0px,#00df00 38px,#00ff00 106px,#0fff00 108px,#0fff00 112px,#1dff00 114px,#1dff00 120px,#2cff00 122px,#2cff00 126px,#3bff00 128px,#3bff00 134px,#49ff00 136px,#49ff00 144px,#58ff00 146px,#58ff00 156px,#67ff00 158px,#67ff00 174px,#75ff00 176px,#75ff00 192px,#84ff00 194px,#84ff00 200px,#93ff00 202px,#93ff00 206px,#a1ff00 208px,#a1ff00 212px,#b0ff00 214px,#c0fd00 224px,#ecef00 308px,#f0ea00 376px,#ecef00 550px,#c4fc00 652px,#b0ff00 664px,#a1ff00 666px,#75ff00 680px,#58ff00 684px,#49ff00 690px,#2cff00 694px,#0fff00 704px,#00ff00 706px,#00ea00 748px,#00da00 925px)"></i>
<i style="top:788px;height:4px;background:linear-gradient(90deg,#00da00 0px,#00e200 48px,#00ff00 108px,#0fff00 110px,#0fff00 116px,#1dff00 118px,#1dff00 122px,#2cff00 124px,#2cff00 130px,#3bff00 132px,#3bff00 138px,#49ff00 140px,#49ff00 148px,#58ff00 150px,#58ff00 160px,#67ff00 162px,#67ff00 180px,#75ff00 182px,#75ff00 196px,#84ff00 198px,#84ff00 206px,#93ff00 208px,#a1ff00 218px,#bcff00 224px,#ecef00 316px,#f0ea00 392px,#ecef00 540px,#c4fc00 644px,#b0ff00 658px,#00ff00 702px,#00ea00 744px,#00da00 925px)"></i>
<i style="top:792px;height:4px;background:linear-gradient(90deg,#00d700 0px,#00e200 50px,#00ff00 112px,#0fff00 114px,#1dff00 124px,#2cff00 126px,#3bff00 140px,#49ff00 142px,#49ff00 150px,#58ff00 152px,#58ff00 164px,#67ff00 166px,#67ff00 186px,#75ff00 188px,#75ff00 202px,#84ff00 204px,#93ff00 218px,#b0ff00 224px,#c0fd00 234px,#e4f100 300px,#efed00 356px,#ecef00 532px,#d8f500 600px,#c0fd00 642px,#b0ff00 650px,#a1ff00 652px,#93ff00 658px,#3bff00 680px,#3bff00 684px,#00ff00 698px,#00ea00 740px,#00d700 925px)"></i>
<i style="top:796px;height:4px;background:linear-gradient(90deg,#00d700 0px,#00df00 46px,#00ff00 114px,#0fff00 116px,#1dff00 126px,#2cff00 128px,#2cff00 134px,#3bff00 136px,#3bff00 144px,#49ff00 146px,#49ff00 154px,#58ff00 156px,#58ff00 168px,#67ff00 170px,#67ff00 190px,#75ff00 192px,#75ff00 208px,#84ff00 210px,#84ff00 216px,#93ff00 218px,#93ff00 222px,#a1ff00 224px,#a1ff00 228px,#b0ff00 230px,#c0fd00 240px,#e4f100 308px,#efed00 370px,#ecef00 522px,#c0fd00 634px,#b0ff00 644px,#a1ff00 646px,#93ff00 652px,#2cff00 678px,#2cff00 682px,#00ff00 692px,#00ea00 734px,#00d700 925px)"></i>
<i style="top:800px;height:4px;background:linear-gradient(90deg,#00d700 0px,#00df00 48px,#00ff00 116px,#0fff00 118px,#0fff00 122px,#1dff00 124px,#2cff00 138px,#3bff00 140px,#3bff00 146px,#49ff00 148px,#49ff00 158px,#58ff00 160px,#58ff00 172px,#67ff00 174px,#67ff00 196px,#75ff00 198px,#75ff00 212px,#84ff00 214px,#93ff00 228px,#a1ff00 230px,#a1ff00 234px,#b0ff00 236px,#b0ff00 240px,#bcff00 242px,#e4f100 316px,#efed00 386px,#ecef00 512px,#d0f800 600px,#bcff00 632px,#67ff00 654px,#67ff00 658px,#1dff00 676px,#0fff00 686px,#00ff00 688px,#00ea00 730px,#00d700 925px)"></i>
<i style="top:804px;height:4px;background:linear-gradient(90deg,#00d700 0px,#00e200 58px,#00ff00 120px,#0fff00 122px,#1dff00 132px,#2cff00 134px,#3bff00 148px,#49ff00 150px,#49ff00 160px,#58ff00 162px,#58ff00 178px,#67ff00 180px,#67ff00 200px,#75ff00 202px,#75ff00 218px,#84ff00 220px,#84ff00 226px,#93ff00 228px,#93ff00 232px,#a1ff00 234px,#a1ff00 240px,#b0ff00 242px,#b0ff00 248px,#bcff00 250px,#e4f100 328px,#efed00 436px,#e8f000 518px,#bcff00 624px,#93ff00 634px,#93ff00 638px,#3bff00 660px,#3bff00 664px,#1dff00 670px,#1dff00 672px,#0fff00 674px,#0fff00 678px,#00ff00 680px,#00ea00 726px,#00d700 925px)"></i>
<i style="top:808px;height:4px;background:linear-gradient(90deg,#00d700 0px,#00dc00 44px,#00ff00 122px,#0fff00 124px,#0fff00 128px,#1dff00 130px,#1dff00 136px,#2cff00 138px,#2cff00 142px,#3bff00 144px,#3bff00 152px,#49ff00 154px,#49ff00 164px,#58ff00 166px,#58ff00 182px,#67ff00 184px,#67ff00 206px,#75ff00 208px,#75ff00 222px,#84ff00 224px,#84ff00 232px,#93ff00 234px,#93ff00 242px,#a1ff00 244px,#a1ff00 250px,#b0ff00 252px,#b0ff00 256px,#bcff00 258px,#dcf400 314px,#ecef00 384px,#e8f000 508px,#bcff00 616px,#a1ff00 622px,#a1ff00 626px,#49ff00 648px,#49ff00 652px,#1dff00 662px,#0fff00 672px,#00ff00 674px,#00ea00 720px,#00d700 925px)"></i>
<i style="top:812px;height:4px;background:linear-gradient(90deg,#00d700 0px,#00dc00 48px,#00ff00 124px,#0fff00 126px,#0fff00 132px,#1dff00 134px,#1dff00 138px,#2cff00 140px,#3bff00 154px,#49ff00 156px,#49ff00 166px,#58ff00 168px,#58ff00 186px,#67ff00 188px,#67ff00 210px,#75ff00 212px,#75ff00 228px,#84ff00 230px,#84ff00 240px,#93ff00 242px,#93ff00 250px,#a1ff00 252px,#a1ff00 258px,#b0ff00 260px,#b0ff00 264px,#bcff00 266px,#dcf400 326px,#ecef00 416px,#e8f000 494px,#bcff00 608px,#b0ff00 610px,#b0ff00 614px,#75ff00 628px,#75ff00 632px,#2cff00 650px,#2cff00 654px,#0fff00 660px,#0fff00 664px,#00ff00 666px,#00ea00 716px,#00d700 925px)"></i>
<i style="top:816px;height:4px;background:linear-gradient(90deg,#00d400 0px,#00e200 66px,#00ff00 128px,#0fff00 130px,#1dff00 140px,#2cff00 142px,#2cff00 148px,#3bff00 150px,#3bff00 158px,#49ff00 160px,#49ff00 170px,#58ff00 172px,#58ff00 192px,#67ff00 194px,#67ff00 216px,#75ff00 218px,#75ff00 236px,#84ff00 238px,#84ff00 250px,#93ff00 252px,#a1ff00 266px,#b0ff00 268px,#b0ff00 272px,#bcff00 274px,#d4f700 314px,#e8f000 392px,#e8f000 482px,#bcff00 598px,#b0ff00 600px,#b0ff00 604px,#a1ff00 606px,#a1ff00 610px,#93ff00 612px,#93ff00 616px,#49ff00 634px,#49ff00 638px,#1dff00 648px,#0fff00 658px,#00ff00 660px,#00ea00 712px,#00d700 925px)"></i>
<i style="top:820px;height:4px;background:linear-gradient(90deg,#00d400 0px,#00dc00 52px,#00ff00 130px,#0fff00 132px,#0fff00 136px,#1dff00 138px,#2cff00 152px,#3bff00 154px,#3bff00 160px,#49ff00 162px,#49ff00 172px,#58ff00 174px,#58ff00 196px,#67ff00 198px,#67ff00 222px,#75ff00 224px,#75ff00 246px,#84ff00 248px,#84ff00 258px,#93ff00 260px,#a1ff00 274px,#b0ff00 276px,#b0ff00 280px,#bcff00 282px,#dcf400 354px,#e8f000 448px,#dcf400 514px,#bcff00 586px,#b0ff00 588px,#b0ff00 592px,#a1ff00 594px,#a1ff00 600px,#93ff00 602px,#93ff00 606px,#84ff00 608px,#84ff00 612px,#58ff00 622px,#58ff00 626px,#2cff00 636px,#1dff00 646px,#00ff00 652px,#00ea00 706px,#00d400 925px)"></i>
<i style="top:824px;height:4px;background:linear-gradient(90deg,#00d400 0px,#00dc00 56px,#00ff00 134px,#0fff00 136px,#0fff00 140px,#1dff00 142px,#1dff00 148px,#2cff00 150px,#2cff00 154px,#3bff00 156px,#3bff00 164px,#49ff00 166px,#49ff00 176px,#58ff00 178px,#58ff00 202px,#67ff00 204px,#67ff00 230px,#75ff00 232px,#75ff00 254px,#84ff00 256px,#84ff00 266px,#93ff00 268px,#a1ff00 282px,#b0ff00 284px,#b0ff00 288px,#bcff00 290px,#dcf400 370px,#e4f100 434px,#dcf400 502px,#bcff00 574px,#b0ff00 576px,#b0ff00 580px,#a1ff00 582px,#a1ff00 588px,#93ff00 590px,#93ff00 594px,#84ff00 596px,#84ff00 602px,#75ff00 604px,#67ff00 614px,#3bff00 624px,#3bff00 628px,#1dff00 634px,#0fff00 644px,#00ff00 646px,#00ea00 700px,#00d400 925px)"></i>
<i style="top:828px;height:4px;background:linear-gradient(90deg,#00d400 0px,#00dc00 58px,#00ff00 136px,#0fff00 138px,#0fff00 142px,#1dff00 144px,#1dff00 150px,#2cff00 152px,#2cff00 158px,#3bff00 160px,#3bff00 168px,#49ff00 170px,#49ff00 180px,#58ff00 182px,#58ff00 208px,#67ff00 210px,#67ff00 238px,#75ff00 240px,#75ff00 262px,#84ff00 264px,#84ff00 274px,#93ff00 276px,#a1ff00 290px,#b0ff00 292px,#b0ff00 296px,#bcff00 298px,#dcf400 384px,#e0f300 428px,#dcf400 488px,#bcff00 562px,#b0ff00 564px,#b0ff00 568px,#a1ff00 570px,#a1ff00 576px,#93ff00 578px,#93ff00 582px,#84ff00 584px,#84ff00 590px,#75ff00 592px,#67ff00 602px,#58ff00 604px,#58ff00 610px,#49ff00 612px,#49ff00 616px,#2cff00 622px,#1dff00 632px,#00ff00 638px,#00ea00 692px,#00d400 925px)"></i>
<i style="top:832px;height:4px;background:linear-gradient(90deg,#00d400 0px,#00dc00 62px,#00ff00 140px,#0fff00 142px,#0fff00 146px,#1dff00 148px,#2cff00 162px,#3bff00 164px,#3bff00 170px,#49ff00 172px,#49ff00 182px,#58ff00 184px,#58ff00 212px,#67ff00 214px,#67ff00 248px,#75ff00 250px,#75ff00 270px,#84ff00 272px,#84ff00 282px,#93ff00 284px,#a1ff00 298px,#b0ff00 300px,#b0ff00 304px,#bcff00 306px,#d8f500 386px,#dcf400 430px,#d8f500 488px,#bcff00 552px,#b0ff00 554px,#b0ff00 558px,#a1ff00 560px,#a1ff00 564px,#93ff00 566px,#93ff00 570px,#84ff00 572px,#84ff00 578px,#75ff00 580px,#67ff00 590px,#58ff00 592px,#58ff00 598px,#49ff00 600px,#49ff00 604px,#3bff00 606px,#3bff00 612px,#2cff00 614px,#2cff00 618px,#1dff00 620px,#0fff00 630px,#00ff00 632px,#00ea00 686px,#00d400 925px)"></i>
<i style="top:836px;height:4px;background:linear-gradient(90deg,#00d400 0px,#00dc00 64px,#00ff00 142px,#0fff00 144px,#0fff00 150px,#1dff00 152px,#1dff00 156px,#2cff00 158px,#2cff00 164px,#3bff00 166px,#3bff00 174px,#49ff00 176px,#49ff00 186px,#58ff00 188px,#58ff00 220px,#67ff00 222px,#67ff00 256px,#75ff00 258px,#75ff00 278px,#84ff00 280px,#84ff00 290px,#93ff00 292px,#a1ff00 306px,#b0ff00 308px,#b0ff00 318px,#bcff00 320px,#d4f700 390px,#d8f500 440px,#d8f500 470px,#bcff00 542px,#b0ff00 544px,#b0ff00 548px,#a1ff00 550px,#a1ff00 554px,#93ff00 556px,#93ff00 560px,#84ff00 562px,#84ff00 566px,#75ff00 568px,#75ff00 572px,#67ff00 574px,#67ff00 578px,#58ff00 580px,#49ff00 594px,#3bff00 596px,#3bff00 600px,#2cff00 602px,#2cff00 608px,#1dff00 610px,#1dff00 618px,#00ff00 624px,#00ea00 680px,#00d400 925px)"></i>
<i style="top:840px;height:4px;background:linear-gradient(90deg,#00d200 0px,#00dc00 68px,#00ff00 146px,#0fff00 148px,#0fff00 152px,#1dff00 154px,#1dff00 160px,#2cff00 162px,#2cff00 168px,#3bff00 170px,#3bff00 178px,#49ff00 180px,#49ff00 190px,#58ff00 192px,#58ff00 228px,#67ff00 230px,#67ff00 266px,#75ff00 268px,#75ff00 286px,#84ff00 288px,#84ff00 298px,#93ff00 300px,#93ff00 308px,#a1ff00 310px,#a1ff00 322px,#b0ff00 324px,#b0ff00 334px,#bcff00 336px,#ccf900 380px,#d4f700 454px,#c0fd00 520px,#bcff00 528px,#b0ff00 530px,#b0ff00 538px,#a1ff00 540px,#a1ff00 544px,#93ff00 546px,#93ff00 550px,#84ff00 552px,#84ff00 556px,#67ff00 562px,#67ff00 568px,#58ff00 570px,#58ff00 574px,#49ff00 576px,#49ff00 582px,#3bff00 584px,#3bff00 588px,#2cff00 590px,#2cff00 596px,#1dff00 598px,#1dff00 606px,#0fff00 608px,#0fff00 614px,#00ff00 616px,#00ea00 672px,#00d200 925px)"></i>
<i style="top:844px;height:4px;background:linear-gradient(90deg,#00d200 0px,#00dc00 70px,#00ff00 150px,#0fff00 152px,#0fff00 156px,#1dff00 158px,#1dff00 164px,#2cff00 166px,#2cff00 172px,#3bff00 174px,#3bff00 182px,#49ff00 184px,#49ff00 194px,#58ff00 196px,#58ff00 236px,#67ff00 238px,#67ff00 274px,#75ff00 276px,#75ff00 294px,#84ff00 296px,#84ff00 308px,#93ff00 310px,#93ff00 324px,#a1ff00 326px,#a1ff00 336px,#b0ff00 338px,#b0ff00 348px,#bcff00 350px,#ccf900 438px,#ccf900 470px,#b0ff00 522px,#a1ff00 524px,#93ff00 538px,#84ff00 540px,#75ff00 550px,#67ff00 552px,#67ff00 556px,#58ff00 558px,#58ff00 562px,#49ff00 564px,#49ff00 570px,#3bff00 572px,#3bff00 576px,#2cff00 578px,#2cff00 586px,#1dff00 588px,#0fff00 602px,#00ff00 604px,#00ea00 666px,#00d200 925px)"></i>
<i style="top:848px;height:4px;background:linear-gradient(90deg,#00d200 0px,#00dc00 74px,#00ff00 152px,#0fff00 154px,#0fff00 160px,#1dff00 162px,#1dff00 166px,#2cff00 168px,#2cff00 176px,#3bff00 178px,#3bff00 184px,#49ff00 186px,#49ff00 198px,#58ff00 200px,#58ff00 244px,#67ff00 246px,#67ff00 282px,#75ff00 284px,#75ff00 304px,#84ff00 306px,#84ff00 324px,#93ff00 326px,#93ff00 340px,#a1ff00 342px,#a1ff00 352px,#b0ff00 354px,#b0ff00 364px,#bcff00 366px,#c4fc00 432px,#c4fc00 474px,#b0ff00 504px,#a1ff00 506px,#a1ff00 512px,#93ff00 514px,#93ff00 522px,#84ff00 524px,#84ff00 530px,#75ff00 532px,#67ff00 546px,#58ff00 548px,#49ff00 558px,#3bff00 560px,#3bff00 566px,#2cff00 568px,#2cff00 574px,#1dff00 576px,#1dff00 582px,#0fff00 584px,#0fff00 590px,#00ff00 592px,#00ea00 658px,#00d200 925px)"></i>
<i style="top:852px;height:4px;background:linear-gradient(90deg,#00d200 0px,#00dc00 78px,#00ff00 156px,#0fff00 158px,#0fff00 162px,#1dff00 164px,#1dff00 170px,#2cff00 172px,#2cff00 178px,#3bff00 180px,#3bff00 188px,#49ff00 190px,#49ff00 202px,#58ff00 204px,#58ff00 252px,#67ff00 254px,#67ff00 288px,#75ff00 290px,#75ff00 320px,#84ff00 322px,#84ff00 340px,#93ff00 342px,#93ff00 354px,#a1ff00 356px,#a1ff00 376px,#b0ff00 378px,#b0ff00 432px,#bcff00 434px,#bcff00 474px,#b0ff00 476px,#b0ff00 484px,#a1ff00 486px,#a1ff00 494px,#93ff00 496px,#93ff00 502px,#84ff00 504px,#84ff00 512px,#75ff00 514px,#75ff00 520px,#67ff00 522px,#58ff00 540px,#49ff00 542px,#49ff00 546px,#3bff00 548px,#3bff00 554px,#2cff00 556px,#2cff00 562px,#1dff00 564px,#1dff00 570px,#0fff00 572px,#0fff00 578px,#00ff00 580px,#00ea00 650px,#00d200 925px)"></i>
<i style="top:856px;height:4px;background:linear-gradient(90deg,#00d200 0px,#00dc00 80px,#00ff00 160px,#0fff00 162px,#0fff00 166px,#1dff00 168px,#1dff00 174px,#2cff00 176px,#2cff00 182px,#3bff00 184px,#3bff00 192px,#49ff00 194px,#49ff00 206px,#58ff00 208px,#58ff00 260px,#67ff00 262px,#67ff00 296px,#75ff00 298px,#75ff00 338px,#84ff00 340px,#84ff00 356px,#93ff00 358px,#93ff00 438px,#a1ff00 440px,#a1ff00 472px,#93ff00 474px,#93ff00 482px,#84ff00 484px,#84ff00 492px,#75ff00 494px,#75ff00 500px,#67ff00 502px,#67ff00 510px,#58ff00 512px,#49ff00 530px,#3bff00 532px,#3bff00 542px,#2cff00 544px,#1dff00 558px,#0fff00 560px,#0fff00 566px,#00ff00 568px,#00ea00 644px,#00d200 925px)"></i>
<i style="top:860px;height:4px;background:linear-gradient(90deg,#00cf00 0px,#00dc00 84px,#00ff00 164px,#0fff00 166px,#0fff00 170px,#1dff00 172px,#1dff00 178px,#2cff00 180px,#2cff00 186px,#3bff00 188px,#3bff00 196px,#49ff00 198px,#49ff00 210px,#58ff00 212px,#58ff00 268px,#67ff00 270px,#67ff00 314px,#75ff00 316px,#75ff00 396px,#67ff00 398px,#67ff00 420px,#75ff00 422px,#75ff00 444px,#84ff00 446px,#84ff00 470px,#75ff00 472px,#67ff00 490px,#58ff00 492px,#58ff00 500px,#49ff00 502px,#3bff00 520px,#2cff00 522px,#2cff00 534px,#1dff00 536px,#1dff00 546px,#0fff00 548px,#0fff00 554px,#00ff00 556px,#00ea00 636px,#00e400 776px,#00cf00 925px)"></i>
<i style="top:864px;height:4px;background:linear-gradient(90deg,#00cf00 0px,#00dc00 88px,#00ff00 166px,#0fff00 168px,#0fff00 174px,#1dff00 176px,#1dff00 182px,#2cff00 184px,#2cff00 190px,#3bff00 192px,#3bff00 200px,#49ff00 202px,#49ff00 214px,#58ff00 216px,#58ff00 276px,#67ff00 278px,#67ff00 334px,#75ff00 336px,#75ff00 350px,#67ff00 352px,#67ff00 370px,#58ff00 372px,#58ff00 394px,#49ff00 396px,#49ff00 428px,#58ff00 430px,#58ff00 454px,#67ff00 456px,#67ff00 466px,#58ff00 468px,#49ff00 486px,#3bff00 488px,#3bff00 498px,#2cff00 500px,#2cff00 508px,#1dff00 510px,#1dff00 524px,#0fff00 526px,#0fff00 542px,#00ff00 544px,#00ea00 628px,#00e400 770px,#00cf00 925px)"></i>
<i style="top:868px;height:4px;background:linear-gradient(90deg,#00cf00 0px,#00da00 82px,#00ff00 170px,#0fff00 172px,#0fff00 178px,#1dff00 180px,#1dff00 186px,#2cff00 188px,#2cff00 194px,#3bff00 196px,#3bff00 204px,#49ff00 206px,#49ff00 218px,#58ff00 220px,#58ff00 288px,#67ff00 290px,#67ff00 354px,#58ff00 356px,#58ff00 366px,#49ff00 368px,#49ff00 382px,#3bff00 384px,#3bff00 394px,#2cff00 396px,#2cff00 438px,#3bff00 440px,#3bff00 474px,#2cff00 476px,#2cff00 484px,#1dff00 486px,#1dff00 498px,#0fff00 500px,#0fff00 512px,#00ff00 514px,#00ea00 616px,#00e400 764px,#00cf00 925px)"></i>
<i style="top:872px;height:4px;background:linear-gradient(90deg,#00cf00 0px,#00da00 86px,#00ff00 174px,#0fff00 176px,#0fff00 182px,#1dff00 184px,#1dff00 190px,#2cff00 192px,#2cff00 198px,#3bff00 200px,#3bff00 208px,#49ff00 210px,#49ff00 224px,#58ff00 226px,#58ff00 304px,#67ff00 306px,#67ff00 346px,#58ff00 348px,#58ff00 356px,#49ff00 358px,#49ff00 366px,#3bff00 368px,#2cff00 386px,#1dff00 388px,#1dff00 396px,#0fff00 398px,#0fff00 442px,#1dff00 444px,#1dff00 472px,#0fff00 474px,#0fff00 486px,#00ff00 488px,#00ea00 604px,#00e400 760px,#00cf00 925px)"></i>
<i style="top:876px;height:4px;background:linear-gradient(90deg,#00cf00 0px,#00dc00 98px,#00ff00 178px,#0fff00 180px,#0fff00 186px,#1dff00 188px,#1dff00 194px,#2cff00 196px,#2cff00 202px,#3bff00 204px,#3bff00 214px,#49ff00 216px,#49ff00 248px,#58ff00 250px,#58ff00 332px,#67ff00 334px,#67ff00 338px,#58ff00 340px,#58ff00 350px,#49ff00 352px,#49ff00 358px,#3bff00 360px,#3bff00 366px,#2cff00 368px,#2cff00 374px,#1dff00 376px,#1dff00 382px,#0fff00 384px,#0fff00 390px,#00ff00 392px,#00ff00 474px,#00ea00 592px,#00e400 754px,#00cf00 925px)"></i>
<i style="top:880px;height:4px;background:linear-gradient(90deg,#00cc00 0px,#00dc00 102px,#00ff00 182px,#0fff00 184px,#0fff00 190px,#1dff00 192px,#1dff00 198px,#2cff00 200px,#2cff00 206px,#3bff00 208px,#3bff00 218px,#49ff00 220px,#49ff00 290px,#58ff00 292px,#58ff00 344px,#49ff00 346px,#49ff00 352px,#3bff00 354px,#2cff00 368px,#1dff00 370px,#1dff00 374px,#0fff00 376px,#0fff00 382px,#00ff00 384px,#00e700 610px,#00e400 748px,#00cc00 925px)"></i>
<i style="top:884px;height:4px;background:linear-gradient(90deg,#00cc00 0px,#00dc00 106px,#00ff00 186px,#0fff00 188px,#0fff00 194px,#1dff00 196px,#1dff00 202px,#2cff00 204px,#2cff00 212px,#3bff00 214px,#3bff00 240px,#49ff00 242px,#49ff00 348px,#3bff00 350px,#3bff00 356px,#2cff00 358px,#2cff00 362px,#1dff00 364px,#0fff00 374px,#00ff00 376px,#00f400 406px,#00e400 742px,#00cc00 925px)"></i>
<i style="top:888px;height:4px;background:linear-gradient(90deg,#00cc00 0px,#00da00 100px,#00ff00 192px,#0fff00 194px,#0fff00 198px,#1dff00 200px,#1dff00 206px,#2cff00 208px,#2cff00 222px,#3bff00 224px,#3bff00 274px,#49ff00 276px,#49ff00 344px,#3bff00 346px,#3bff00 352px,#2cff00 354px,#2cff00 358px,#1dff00 360px,#0fff00 370px,#00ff00 372px,#00f200 404px,#00e400 736px,#00cc00 925px)"></i>
<i style="top:892px;height:4px;background:linear-gradient(90deg,#00cc00 0px,#00da00 104px,#00ff00 196px,#0fff00 198px,#0fff00 202px,#1dff00 204px,#1dff00 212px,#2cff00 214px,#2cff00 246px,#3bff00 248px,#3bff00 350px,#1dff00 356px,#0fff00 366px,#00ff00 368px,#00ef00 402px,#00e400 730px,#00cc00 925px)"></i>
<i style="top:896px;height:4px;background:linear-gradient(90deg,#00cc00 0px,#00da00 108px,#00ff00 200px,#0fff00 202px,#0fff00 208px,#1dff00 210px,#1dff00 232px,#2cff00 234px,#2cff00 288px,#3bff00 290px,#3bff00 336px,#2cff00 338px,#2cff00 352px,#1dff00 354px,#1dff00 358px,#00ff00 364px,#00ec00 402px,#00e400 722px,#00cc00 925px)"></i>
<i style="top:900px;height:4px;background:linear-gradient(90deg,#00ca00 0px,#00da00 112px,#00ff00 202px,#00ff00 204px,#0fff00 206px,#0fff00 222px,#1dff00 224px,#1dff00 260px,#2cff00 262px,#2cff00 350px,#1dff00 352px,#1dff00 356px,#00ff00 362px,#00ea00 406px,#00e400 716px,#00ca00 925px)"></i>
<i style="top:904px;height:4px;background:linear-gradient(90deg,#00ca00 0px,#00da00 116px,#00ff00 208px,#00ff00 218px,#0fff00 220px,#0fff00 248px,#1dff00 250px,#1dff00 354px,#0fff00 356px,#0fff00 360px,#00ff00 362px,#00ea00 402px,#00e400 710px,#00ca00 925px)"></i>
<i style="top:908px;height:4px;background:linear-gradient(90deg,#00ca00 0px,#00da00 120px,#00ff00 216px,#00ff00 238px,#0fff00 240px,#0fff00 294px,#1dff00 296px,#1dff00 330px,#0fff00 332px,#0fff00 358px,#00ff00 360px,#00e700 410px,#00e400 702px,#00ca00 925px)"></i>
<i style="top:912px;height:4px;background:linear-gradient(90deg,#00ca00 0px,#00da00 124px,#00ff00 236px,#00ff00 274px,#0fff00 276px,#0fff00 350px,#00ff00 352px,#00ff00 362px,#00e700 408px,#00e400 694px,#00ca00 925px)"></i>
<i style="top:916px;height:4px;background:linear-gradient(90deg,#00c700 0px,#00d700 118px,#00f700 198px,#00ff00 264px,#00ff00 358px,#00e700 406px,#00e400 686px,#00ca00 925px)"></i>
<i style="top:920px;height:4px;background:linear-gradient(90deg,#00c700 0px,#00d700 122px,#00f400 198px,#00fc00 262px,#00fc00 364px,#00e700 404px,#00e400 678px,#00c700 925px)"></i>
<i style="top:924px;height:1px;background:linear-gradient(90deg,#00c700 0px,#00d700 124px,#00f400 204px,#00fc00 300px,#00fa00 368px,#00e700 404px,#00e400 672px,#00c700 925px)"></i>
</div>
<svg width="2125" height="2362" viewBox="0 0 2125 2362">
<defs><clipPath id="cm"><rect x="308.2" y="107.6" width="1509.6" height="754.1"/></clipPath>
<clipPath id="cn"><circle cx="543" cy="1778" r="462.5"/></clipPath>
<clipPath id="cs"><circle cx="1582.9" cy="1778" r="462.5"/></clipPath>
<linearGradient id="cbg" x1="0" x2="1" y1="0" y2="0"><stop offset="0.0000" stop-color="#000000"/><stop offset="0.0250" stop-color="#380040"/><stop offset="0.0500" stop-color="#700080"/><stop offset="0.0750" stop-color="#7f0090"/><stop offset="0.1000" stop-color="#870098"/><stop offset="0.1250" stop-color="#4300a2"/><stop offset="0.1500" stop-color="#0300aa"/><stop offset="0.1750" stop-color="#0000c1"/><stop offset="0.2000" stop-color="#0000dd"/><stop offset="0.2250" stop-color="#0038dd"/><stop offset="0.2500" stop-color="#0078dd"/><stop offset="0.2750" stop-color="#0088dd"/><stop offset="0.3000" stop-color="#0098dd"/><stop offset="0.3250" stop-color="#00a2c3"/><stop offset="0.3500" stop-color="#00aaab"/><stop offset="0.3750" stop-color="#00aa98"/><stop offset="0.4000" stop-color="#00aa88"/><stop offset="0.4250" stop-color="#00a248"/><stop offset="0.4500" stop-color="#009a00"/><stop offset="0.4750" stop-color="#00aa00"/><stop offset="0.5000" stop-color="#00bc00"/><stop offset="0.5250" stop-color="#00cc00"/><stop offset="0.5500" stop-color="#00dc00"/><stop offset="0.5750" stop-color="#00ef00"/><stop offset="0.6000" stop-color="#00ff00"/><stop offset="0.6250" stop-color="#67ff00"/><stop offset="0.6500" stop-color="#bcff00"/><stop offset="0.6750" stop-color="#d4f700"/><stop offset="0.7000" stop-color="#efed00"/><stop offset="0.7250" stop-color="#f7dd00"/><stop offset="0.7500" stop-color="#ffc900"/><stop offset="0.7750" stop-color="#ffb100"/><stop offset="0.8000" stop-color="#ff9900"/><stop offset="0.8250" stop-color="#ff4500"/><stop offset="0.8500" stop-color="#fe0000"/><stop offset="0.8750" stop-color="#ec0000"/><stop offset="0.9000" stop-color="#dc0000"/><stop offset="0.9250" stop-color="#d40000"/><stop offset="0.9500" stop-color="#cc0c0c"/><stop offset="0.9750" stop-color="#cc6c6c"/><stop offset="1.0000" stop-color="#cccccc"/></linearGradient>
<pattern id="pdots" width="5" height="7" patternUnits="userSpaceOnUse" patternTransform="rotate(-12)"><rect x="0" y="0" width="1.2" height="1.2" fill="#808080"/><rect x="2.5" y="3.5" width="1.2" height="1.2" fill="#808080"/></pattern>
<pattern id="pdots2" width="5" height="6" patternUnits="userSpaceOnUse" patternTransform="rotate(-14)"><rect x="1" y="1.5" width="1.2" height="1.3" fill="#808080"/><rect x="3.5" y="4.5" width="1.2" height="1.3" fill="#808080"/></pattern>
<pattern id="pdash" width="113" height="97" patternUnits="userSpaceOnUse"><rect x="36.6" y="14.6" width="2" height="5" fill="#808080"/><rect x="8.2" y="52.0" width="5" height="2" fill="#808080"/><rect x="6.6" y="49.2" width="5" height="2" fill="#808080"/><rect x="49.0" y="6.8" width="5" height="2" fill="#808080"/><rect x="48.0" y="80.2" width="5" height="2" fill="#808080"/><rect x="25.2" y="60.9" width="2" height="5" fill="#808080"/><rect x="65.2" y="38.5" width="2" height="5" fill="#808080"/><rect x="5.3" y="83.3" width="5" height="2" fill="#808080"/><rect x="16.3" y="11.4" width="5" height="2" fill="#808080"/><rect x="92.2" y="17.5" width="2" height="5" fill="#808080"/><rect x="72.2" y="36.1" width="2" height="5" fill="#808080"/><rect x="7.1" y="5.8" width="5" height="2" fill="#808080"/><rect x="76.9" y="41.5" width="5" height="2" fill="#808080"/><rect x="66.2" y="44.0" width="5" height="2" fill="#808080"/><rect x="89.8" y="67.8" width="5" height="2" fill="#808080"/><rect x="64.9" y="50.9" width="2" height="5" fill="#808080"/><rect x="82.4" y="27.9" width="2" height="5" fill="#808080"/><rect x="13.3" y="40.6" width="2" height="5" fill="#808080"/><rect x="17.2" y="47.4" width="5" height="2" fill="#808080"/><rect x="75.5" y="74.2" width="2" height="5" fill="#808080"/><rect x="98.9" y="30.4" width="2" height="5" fill="#808080"/><rect x="67.2" y="56.2" width="5" height="2" fill="#808080"/><rect x="94.9" y="91.6" width="5" height="2" fill="#808080"/><rect x="75.0" y="5.9" width="2" height="5" fill="#808080"/><rect x="73.1" y="96.3" width="2" height="5" fill="#808080"/><rect x="32.2" y="37.4" width="2" height="5" fill="#808080"/><rect x="2.5" y="44.8" width="5" height="2" fill="#808080"/><rect x="13.2" y="5.7" width="2" height="5" fill="#808080"/><rect x="14.6" y="24.0" width="5" height="2" fill="#808080"/><rect x="98.5" y="7.8" width="5" height="2" fill="#808080"/><rect x="62.1" y="85.7" width="2" height="5" fill="#808080"/><rect x="97.6" y="27.0" width="5" height="2" fill="#808080"/><rect x="40.5" y="85.8" width="2" height="5" fill="#808080"/><rect x="17.1" y="17.1" width="5" height="2" fill="#808080"/><rect x="26.4" y="47.0" width="2" height="5" fill="#808080"/><rect x="29.7" y="0.4" width="5" height="2" fill="#808080"/><rect x="41.7" y="54.9" width="2" height="5" fill="#808080"/><rect x="78.0" y="50.0" width="2" height="5" fill="#808080"/><rect x="76.4" y="5.2" width="2" height="5" fill="#808080"/><rect x="88.1" y="84.8" width="2" height="5" fill="#808080"/><rect x="44.3" y="38.7" width="5" height="2" fill="#808080"/><rect x="71.7" y="6.0" width="5" height="2" fill="#808080"/><rect x="23.6" y="15.7" width="5" height="2" fill="#808080"/><rect x="5.9" y="0.0" width="5" height="2" fill="#808080"/><rect x="11.5" y="35.3" width="5" height="2" fill="#808080"/><rect x="98.8" y="59.6" width="5" height="2" fill="#808080"/><rect x="28.5" y="33.7" width="5" height="2" fill="#808080"/><rect x="13.9" y="82.3" width="2" height="5" fill="#808080"/><rect x="52.7" y="46.9" width="5" height="2" fill="#808080"/><rect x="11.5" y="33.2" width="5" height="2" fill="#808080"/><rect x="93.7" y="15.7" width="5" height="2" fill="#808080"/><rect x="107.5" y="51.2" width="5" height="2" fill="#808080"/><rect x="61.4" y="2.6" width="2" height="5" fill="#808080"/><rect x="110.6" y="83.7" width="2" height="5" fill="#808080"/><rect x="29.5" y="35.6" width="5" height="2" fill="#808080"/><rect x="87.2" y="51.7" width="2" height="5" fill="#808080"/><rect x="37.3" y="21.6" width="2" height="5" fill="#808080"/><rect x="111.3" y="82.7" width="2" height="5" fill="#808080"/><rect x="92.5" y="71.8" width="5" height="2" fill="#808080"/><rect x="58.5" y="34.5" width="5" height="2" fill="#808080"/></pattern>
</defs>
<g clip-path="url(#cm)">
<rect x="308.2" y="202" width="1509.6" height="659.7" fill="url(#pdots)" opacity="0.8"/>
<rect x="308.2" y="345" width="1509.6" height="280" fill="url(#pdots2)" opacity="0.55"/>
<path d="M434 107.6V861.7M559.8 107.6V861.7M685.6 107.6V861.7M811.4 107.6V861.7M937.2 107.6V861.7M1063 107.6V861.7M1188.8 107.6V861.7M1314.6 107.6V861.7M1440.4 107.6V861.7M1566.2 107.6V861.7M1692 107.6V861.7M308.2 233.3H1817.8M308.2 359H1817.8M308.2 484.6H1817.8M308.2 610.3H1817.8M308.2 736H1817.8" stroke="#000" stroke-width="1.8" fill="none"/>
<path d="M471.7 193.1l-10.4 -2.1l-10.5 -0.4l-12.6 -1.3l-12.6 -1.3l-10.5 -0.8l-9.6 -1.3l-7.1 1.7l-8.4 1.7l-8.4 2.5l-8.4 3.8l-7.1 0.8l5 2.5l6.3 2.5l6.3 2.6l2.1 2.5l-6.3 1.2l-6.3 -1.6l-8.4 1.2l-6.3 2.5l6.3 3l6.3 1.6l10.5 0l6.3 2.1l-1.3 3l-7.1 1.2l-6.3 1.3l-5.5 3.7l2.1 4.2l7.6 3.4l6.3 2.1l0.8 3.3l7.6 0.4l6.3 -0.4l6.2 0.4l-2.5 4.7l-5 2.9l-7.1 3.8l-8.4 2.9l-8.4 2.5l6.3 -1.3l8.4 -1.6l8.4 -2.5l8.3 -3l6.3 -3.3l6.3 -3.8l6.3 -2.9l3 -2.1l1.2 -4.6l5.5 -2.5l2.9 2.5l6.3 2.1l6.3 -2.1l6.3 0.8l8.4 1.7l8.3 0.4l6.3 1.3l6.3 2.5l6.3 2.9l4.2 3.4l5.5 3.3l5 3.8l6.3 3.3l5 2.5l1.3 4.7l4.2 2.9l4.2 3.3l2.1 3.4l4.1 1.7l6.3 2.1l4.2 2.5l3.4 2.1l1.7 3.3l-2.1 0.9l-5.9 -1.7l2.1 5l0.8 7.1l-0.4 6.3l-1.7 5l1.7 6.7l1.3 5.9l3.3 6.3l2.1 2.9l2.5 4.2l2.5 4.2l3 4.2l5.9 1.7l3.3 1.2l4.6 3.8l0.9 2.1l2.5 3.8l2.1 5l2.9 3.8l4.6 5.4l-0.4 3.4l4.6 2.5l4.2 4.2l0.4 5l4.6 3.3l4.2 3.8l2.1 -1.2l-3.7 -4.7l-1.7 -4.1l-3 -5.5l-3.3 -5l-3.8 -4.6l-4.2 -5.5l-2.5 -5.8l4.2 0.8l4.2 3.4l2.9 5l4.6 5.8l4.2 3.8l3.4 5.5l5 3.3l4.6 4.6l4.2 5.5l2.5 5.8l-0.8 3.4l3.8 5l5 3.4l7.1 2.9l7.2 3.3l7.5 3l7.1 2.1l6.3 -1.7l4.2 0l7.2 6.3l5.4 2.9l6.3 1.7l6.3 1.2l2.5 1.3l3.4 4.2l3.3 3.3l0.4 3.8l2.5 2.5l3.8 1.3l2.5 3.3l3.4 1.3l5 1.7l5.1 2.1l1.6 -1.3l-1.2 -2.9l3.3 -2.5l4.2 2.1l2.1 3.7l2.1 3.4l0.9 4.6l0 5.9l-0.9 4.1l-2.9 3l-2.5 4.2l-4.2 2.5l-1.3 5l-1.7 3.8l-1.6 4.6l2.5 4.6l-3.4 3.8l-0.4 5l2.5 3.8l3.8 3.7l2.9 4.6l2.5 4.6l3.4 6.3l4.2 6.3l2.1 5.9l3.8 5.8l5.4 3.8l6.7 3.4l4.2 2.9l4.2 3.4l0.8 8.3l-0.4 8.4l-1.2 7.6l-1.3 7.1l-0.8 8.4l-2.1 7.9l-0.4 7.1l-0.5 5.9l-2.5 6.3l-2.5 6.3l-2.1 5.4l-0.4 5.9l0.8 5.4l-2.1 6.3l3.4 4.2l-1.7 5.4l-2.1 5.9l-2.9 6.7l-3 6.7l-0.8 6.7l1.7 6.3l3.3 5l6.7 3.8l7.2 1.7l6.7 3.8l8.8 1.2l5.4 -1.2l3.4 -0.9l-5.5 -1.2l-7.5 -5.1l-2.1 -3.7l1.7 -2.6l-3 -2.9l1.7 -3.3l3.8 -4.2l5.4 -4.6l3 -3.4l-6.7 -4.6l2.1 -3.8l6.7 -1.2l0.4 -5.5l2.5 -3.3l4.2 -0.9l-5.4 -5.8l5.8 -0.9l5.5 -2.1l0.4 -5.8l8 -1.7l9.6 -2.5l2.1 -3.8l2.9 -3.8l-2.9 -4.1l-4.6 -3.8l4.2 -0.4l6.3 2.1l5.8 -0.9l5.1 -3.7l3.3 -3.4l4.2 -5l4.2 -5.5l3.8 -5.4l4.6 -4.2l0 -7.1l1.3 -4.2l5.4 -3.8l5.9 -3.3l4.6 -2.6l6.3 -1.2l4.6 -1.7l3.8 -2.5l2.1 -4.6l2.9 -5.9l2.5 -6.7l0.4 -7.5l0.9 -9.2l2.1 -3.8l3.3 -4.6l4.2 -5.5l4.2 -4.6l3 -5l0.4 -4.2l-1.7 -7.1l-5 -1.7l-5.5 -2.5l-4.2 -3.8l-5.4 -3.3l-7.6 0l-7.1 -1.7l-4.6 -3.3l-6.3 -2.6l-7.6 -1.6l-4.6 1.6l-5.8 -2.9l1.6 -5l-3.3 -3.8l-2.1 -8.4l-5.1 -5l-5.8 -3.3l-6.7 -0.5l-7.2 -0.4l-4.6 -3.3l-4.2 -4.2l-5.4 -3.4l-5 -3.3l-3.4 -3.4l-6.7 -1.2l-5.5 1.2l-3.3 -1.7l-5 0l-4.7 -1.6l-4.2 -2.1l-2.9 -1.7l-4.6 -1.3l0.4 5.1l-2.5 -2.5l-2.9 -0.5l-3.8 1.7l-3.4 1.3l-4.2 1.2l-1.6 4.6l-3 3l-2.1 3.3l-2.1 -2.5l-3.7 -2.5l-5.5 -1.3l-5 3l-3.4 -0.5l-2.9 -1.6l-3.4 -3l-2.5 -3.7l-0.4 -4.2l1.3 -6.3l0.8 -5.9l-4.6 -3.7l-5.9 -0.5l-7.5 0.5l-3.8 0.8l1.2 -5l0 -5.9l1.7 -2.5l1.7 -5l2.5 -5.5l-5 -0.8l-6.7 0.8l-3.4 1.3l-0.8 5l-3.4 4.2l-4.2 0.8l-5 0.9l-4.2 0.8l-4.2 -1.7l-3.3 -2.9l-2.1 -5.5l-2.1 -4.1l-1.7 -4.7l0.4 -6.2l2.1 -6.3l-0.8 -5.5l1.6 -4.2l5.9 -3.3l3.8 -2.5l6.3 -1.7l6.7 1.3l5.9 1.6l3.7 -1.6l-0.8 -3l5.4 -0.8l7.2 0l5 2.9l4.6 -1.2l3.8 3.3l2.5 5l2.9 6.3l3.4 5.5l3.4 -0.4l1.2 -5.5l-1.7 -6.7l-2.9 -6.7l-0.8 -4.2l1.6 -4.2l3.4 -2.9l4.6 -3.4l5 -2.9l5.1 -2.9l4.6 -2.5l-0.9 -5.5l-2.1 -2.9l3 -2.5l2.1 -3l1.7 -3.3l2.9 -4.2l3.3 -2.1l5.5 -1.7l5 -1.2l3 -1.3l-2.5 -2.9l-0.5 -3l3.8 -2l5.5 -2.1l6.2 -2.1l3.8 -2.1l5.5 -1.7l2.5 2.1l-5.9 2.9l-2.1 3l5.5 0.8l5 -3.8l6.7 -2.5l5 -2.1l3 -2.1l-2.1 -3.8l-3.4 3l-4.6 2.1l-6.3 -1.3l-3.3 -3.3l-0.9 -3.8l3 -3.4l-1.7 -2.1l-5.5 -0.4l-6.7 0.9l-7.9 4.6l-4.6 3.3l-2.6 0.9l4.6 -3l5.5 -4.2l7.5 -4.6l8.4 -2.1l8.4 0l8.4 0l6.7 -0.8l5.9 -2.5l4.2 -2.1l5 -2.1l0 -4.2l-4.2 -3.3l-5 -2.1l-6.3 -3.8l-5.5 -2.9l-3.7 -3.8l-1.3 -4.2l-4.2 -2.9l-5 -4.6l-1.7 -3l-2.9 2.5l-5.1 3.8l-5.4 2.1l-4.2 -2.5l-3.8 -1.7l-0.4 -4.6l-4.6 -2.5l-5.9 -2.5l-5.8 -2.5l-7.6 -0.5l-8 -0.8l-2.5 5.5l1.3 5l1.7 4.2l2.1 4.6l0.4 4.6l-3 4.2l-5.4 2.9l-3 3.8l1.7 5l0.4 4.2l-3.7 2.5l-5.1 -3.3l-4.2 -3l-1.2 -5.4l-0.4 -3.8l-6.3 -0.8l-5.9 0l-6.7 -2.5l-6.3 -2.6l-8.8 -2.9l-8 -0.4l-4.6 -5.9l-4.6 -3.7l-0.8 -4.2l3.7 -3.4l3.8 -3.3l6.3 -2.5l5 -3.4l8 -2.1l4.6 -2.9l3.8 -5.1l3.8 -2.5l2.9 -2.5l3.8 -2.9l6.7 -2.9l2.9 -3l-4.6 -1.7l-7.5 -0.8l-4.6 0l0.4 4.6l-3.4 2.5l-5 3l-3.4 -2.6l-5 -2.9l-2.9 -3.3l-3.4 -2.1l-4.6 -2.1l-1.7 -3.4l-4.2 -2.5l-4.2 0.4l-4.6 3l-1.7 4.6l2.6 2.5l-3.8 3.8l-5.9 0.4l-4.6 1.2l-4.2 1.7l-7.1 0.4l-6.3 -1.2l-6.3 0l-6.3 -1.7l-7.5 0.4l-4.2 1.3l1.2 2.5l-5.4 -1.7l-5.1 0.4l-7.1 0.4l-6.3 -0.8l-4.6 -2.5l4.2 -2.1l-5 -0.4l-6.3 -0.9l-6.3 -0.8l-6.3 -0.8l-6.3 -0.9l-6.3 0.9l-4.2 -1.3l-3.3 -0.8l-5.9 1.6l-5.4 -2.5l-4.2 0.9l-2.1 1.2l-6.3 0l-6.3 0.9l-6.3 1.2l-4.2 -1.2l-5.5 1.2l-5 1.7l-6.3 -1.3l-6.3 -1.6l-4.2 0M545.5 282.3l-6.7 -2.1l-6.3 -2.9l-5.4 -3.4l-2.5 -2.1l5.8 0.9l6.3 1.6l4.2 2.1l4.2 3.8l0.4 2.1M511.6 266l-3.8 -3.4l-2.5 -4.2l4.6 -0.4l1.7 3.8l0 4.2M841.6 289l-3.4 0.4l-1.6 -3.3l-4.2 2.1l-5.1 -2.5l-13 -0.5l3.4 -3.7l0.8 -2.6l4.2 -6.7l7.2 -3.7l0.4 4.2l-2.1 3.3l6.3 1.3l4.2 1.2l-0.5 4.2l3.8 3l-0.4 3.3M707 392.9l3.8 -2.9l6.2 -2.1l8.4 0.4l8.4 2.9l5.5 3.4l6.7 2.1l5.9 2.9l-5.9 1.7l-8.8 0l0.8 -3.4l-5 -3.7l-7.6 -1.7l-5.4 -0.9l-5.9 0.9l-7.1 0.4M750.6 407.6l7.1 -6.3l7.6 0l7.5 3.8l3.4 1.6l-6.7 1.7l-5.9 2.5l-5.9 -2.1l-7.1 -1.2M734.7 407.6l8.3 0.8l-2.5 1.3l-5.8 -1.3l0 -0.8M781.2 407.1l6.7 0.5l-0.8 1.6l-5.9 0l0 -2.1M409.3 400l3.7 2.5l-2.9 3l-1.7 -3.4l0.9 -2.1M405.9 397.1l2.9 0.8l-2.1 0.9l-0.8 -1.7M399.2 394.2l2.5 1.2l-1.7 0l-0.8 -1.2M392.9 391.6l2.1 0.9l-1.3 0.4l-0.8 -1.3M806.4 702.1l5 -2.5l6.7 0.4l2.5 0.8l-3.3 2.5l-5.9 -0.8l-5 -0.4M866.8 233.3l-7.2 -3.8l-4.2 -3.8l-4.2 -4.1l-3.7 -4.2l-3.4 -5.9l-5.9 -3.8l0.9 -4.6l-1.7 -4.2l11.7 -2.9l0.5 -4.2l-4.7 -2.9l-8.3 -1.7l-3 -2.5l-4.6 -4.6l-4.2 -5.5l-6.3 -6.3l-12.6 -2.5l-19.7 0l-10.4 0l-11.4 -3.7l13.5 -3.4l-20.2 -0.8l13.9 -4.2l16.7 -6.3l12.6 -2.9l18.9 -3.4l21 0l20.9 -1.2l19.3 -3.8l22.7 -1.3l25.1 -0.4l21 0.4l20.9 3l8.4 3.3l-16.7 1.7l25.1 2.5l10.5 3.4l-12.6 1.6l-5 4.6l5 5.1l-10.5 4.2l6.3 5.4l-4.2 3.8l-6.3 4.6l-8.3 2.9l8.3 4.2l-6.2 4.6l-12.6 7.1l-16.8 2.1l-8.4 1.7l-8.4 6.3l-10.5 2.9l-11.7 0.4l-3.8 5.5l-3.7 5l-5.1 5.5l-2.9 5.8l-6.3 0.9l-7.5 0.4M790.4 222.8l-6.3 2.1l-6.2 -1.3l-12.6 -4.1l-8.4 -3.8l-8.4 -1.3l-10.5 0.9l-2.1 -3l16.8 -2.1l2.1 -4.1l4.2 -3l-6.3 -4.2l-12.6 -2.5l-6.3 -4.2l-10.5 -0.8l-16.7 0l-12.6 -2.1l-4.2 -4.2l12.6 -2.1l2.1 -4.2l14.6 -2.9l16.8 3.8l16.8 1.2l12.6 6.3l10.5 2.5l6.2 4.2l6.3 5l8.4 5.9l6.3 2.5l-8.4 2.9l-6.3 3.4l4.2 5l-2.1 4.2M725.4 217.4l-8.4 0.4l-10.4 1.7l-5.5 -3.8l3.4 -5.5l6.3 -1.6l4.2 4.6l7.5 1.6l2.9 2.6M643.7 195.6l-10.5 0.8l-8.4 -0.4l-8.4 -1.3l-8.4 2.1l-10.5 0.5l-10.4 -2.6l-10.5 -1.6l-6.3 -3.4l10.5 -1.7l-12.6 -2.5l2.1 -4.6l14.7 -2.9l8.3 1.7l12.6 1.2l10.5 -2.1l8.4 6.3l10.5 4.2l6.3 2.1l2.1 4.2M555.6 185.9l-10.5 0.9l-8.4 -3.8l4.2 -6.3l2.1 -3.3l10.5 -0.9l12.6 1.3l12.6 2.9l-12.6 4.2l-5.5 3.8l-5 1.2M622.7 168.3l-12.6 2.1l-14.7 1.7l-10.4 -0.8l-12.6 -1.7l4.2 -4.2l16.7 -0.4l10.5 -1.7l10.5 3l8.4 2M683.5 180.5l-10.5 1.3l-10.5 -2.1l2.1 -5.1l12.6 0l6.3 2.1l0 3.8M658.3 183.8l-10.4 1.7l-12.6 -5.8l6.3 -4.2l12.6 0l4.1 4.2l0 4.1M727.5 172.5l-20.9 0l-25.2 -0.8l-6.3 -3.4l10.5 -4.1l21 0l18.8 1.2l2.1 7.1M729.6 161.2l-18.8 2.5l-23.1 -0.8l6.3 -5.9l-16.8 -5.4l4.2 -4.2l18.9 -4.2l18.8 -5l25.2 -1.3l29.4 0.9l29.3 2.1l-12.6 3.3l-16.7 4.2l-12.6 4.2l-16.8 4.2l2.1 2.1l-16.8 3.3M689.8 157.9l-12.6 -0.9l-14.7 -3.3l-2.1 -4.2l8.4 -4.2l10.5 0l4.2 4.2l6.3 4.2l0 4.2M656.2 170.4l-12.5 -1.2l-10.5 -2.1l8.4 -3.4l12.6 0.5l2 6.2M631.1 159.5l-12.6 0.9l4.2 -4.6l10.5 1.2l-2.1 2.5M652.1 157.9l-12.6 -1.3l4.2 -2.9l10.5 1.7l-2.1 2.5M970.7 216.9l12.6 2.1l12.6 -2.5l8.4 -2.5l1.7 -2.9l-5.1 -4.2l-5.8 -0.8l-7.6 1.2l-8.4 0.4l-10.5 -1.2l-7.1 3.3l8 2.5l-7.1 0.9l8.3 3.7M1109.1 155.8l10.5 2.1l12.6 5.8l10.5 -4.2l10.5 -4.1l-10.5 -3.8l14.7 -2.1l-18.9 -1.7l-12.6 2.5l-16.8 0l0 5.5M1140.6 150.3l18.8 1.7l18.9 -2.5l-14.7 -2.1l-16.7 0l-6.3 2.9M1260.1 149.5l21 -0.8l29.3 -1.3l12.6 -2.1l-21 -2.5l-29.3 1.2l-12.6 5.5M1279 185.1l8.3 2.9l14.7 0.9l-6.3 -8l6.3 -4.2l12.6 -4.2l8.4 -4.2l16.8 -4.1l10.4 -2.1l-18.8 0.8l-18.9 3.4l-14.7 6.2l-8.4 4.2l-4.2 4.2l-6.2 4.2M1453 153.7l12.6 0.8l14.6 0l10.5 -2.1l4.2 -5l-12.6 -2.1l-16.7 0l-12.6 8.4M1635.4 174.6l14.7 2.1l12.5 1.3l21 -5.5l-16.8 -4.2l-14.6 -1.2l-14.7 2.5l-2.1 5M310.3 185.1l8.4 1.3l-8.4 1.2M1811.5 186.8l4.2 -1.7M342.6 217.4l11.7 2.5l1.3 -0.4l-9.7 -0.9l-3.3 -1.2M351.4 207.7l-7.6 -3.3l-10.4 -0.9l-10.5 -2.1l-8.4 -2.9M1817.8 196l-12.6 -3.4l-16.8 -0.8l-12.5 -0.8l-12.6 2.1l-16.8 -0.5l-12.6 -2l-8.4 -3l-12.5 -0.4l-12.6 0.8l-10.5 -3.7l-14.7 -2.5l-16.7 -1.7l-12.6 1.2l-6.3 4.2l-12.6 -0.4l-12.6 2.1l-8.4 -2.9l-2.9 -4.6l-9.6 -3l-14.7 1.3l-16.8 0l-16.8 -2.1l-10.4 -0.8l-10.5 -1.7l12.5 -5.9l-16.7 -4.2l-16.8 -3.8l-16.8 2.6l-12.6 3.7l-16.7 0.9l-16.8 1.6l-12.6 3l-2.1 4.2l-12.6 0.8l-12.5 0l0 5l8.3 3.8l-18.8 -3.3l-10.5 -0.5l-4.2 -2.5l-8.4 0.9l-4.2 4.1l4.2 3.4l0 6.3l4.2 4.2l-8.4 4.2l-10.5 -5.5l-4.2 -2.1l-4.1 -2.9l2 -4.2l4.2 -6.3l4.2 -2.1l-6.3 0l-6.2 4.2l-2.1 5.5l4.2 5.8l-10.5 0l-14.7 -1.7l-4.2 2.6l-8.4 1.6l-12.6 1.7l-8.4 -2.1l-8.3 2.1l-12.6 2.5l-6.3 -2.1l-10.5 -1.2l0 6.3l-4.2 2.9l-8.4 0l-4.2 6.7l-8.4 0.8l-6.2 -1.2l-6.3 1.6l-1.7 -4.6l-4.6 -4.1l8.4 -0.9l12.5 2.5l10.5 -2.9l-2.1 -4.2l-8.4 -2.1l-10.4 -2.9l-12.6 -2.1l-10.5 -1.3l-8.4 -3.3l-10.5 -1.7l-8.4 0.8l-10.4 2.1l-10.5 1.7l-8.4 3.4l-6.3 2.9l-6.3 3.8l-5 5l-2.5 4.6l-7.2 3.8l-8.4 4.2l-10.4 3.3l-4.2 4.2l0 5l2.1 5.5l2.1 3.3l6.2 0.9l6.3 -2.6l6.3 -3.3l2.1 2.1l3.4 3.3l2.1 5.1l1.7 2.9l1.2 3.4l5.5 -0.5l6.7 -2.5l2.5 -4.6l0.8 -5.4l6.7 -3.8l3 -3.4l-7.2 -2.9l0 -5.9l5.1 -3.7l8.4 -2.5l4.2 -4.6l4.2 -3.8l8.3 0l3.4 3.3l-3.4 3.4l-8.3 4.2l-5.1 3.7l0.4 5.5l2.6 3.3l8.3 0.5l10.5 -1.3l8.4 -0.4l6.3 2.5l-8.4 1.7l-10.5 0l-8.4 1.2l0.5 3.4l2.9 3.8l-4.2 2.1l-7.1 -1.7l-2.5 3.7l0.4 3.8l-4.6 2.9l-2.5 2.1l-3.8 -1.2l-8.4 0.8l-9.2 2.5l-5.5 -2.1l-8.4 1.7l-3.3 -2.1l-1.7 -2.1l2.5 -2.5l-0.8 -3.8l1.6 -5l-5 2.5l-5 1.3l-0.4 5.4l2.5 6.3l-7.1 2.1l-8.4 0.9l-2.1 3.3l-4.2 4.6l-7.2 2.1l-1.6 3.4l-5.1 2.1l-5.8 0.8l-3 2.9l-5.8 -0.4l-5.9 1.7l1.7 2.5l8.8 2.9l4.2 4.6l-0.9 6.3l-0.8 4.6l-8 0l-8.4 -0.4l-10.4 -0.8l-5.5 2.9l2.1 5l0 5.5l-2.5 4.6l-0.4 2.9l2.9 2.1l0 5l5.9 -0.8l4.6 2.9l3.8 1.7l4.1 -2.5l9.7 0l5.9 -3.8l0.8 -2.9l2.9 -2.1l-2.1 -2.9l5.1 -6.3l9.6 -3.8l-0.8 -4.6l6.3 -1.7l8.4 1.3l4.1 -2.9l5.5 -2.6l5.9 2.1l1.2 4.2l7.2 4.6l6.7 2.5l7.5 4.7l1.7 5l-1.3 3.8l3.8 -1.7l2.1 -4.2l-2.1 -2.5l3.8 -1.3l4.2 0.9l-2.1 -2.6l-8.4 -3.7l-8.4 -4.2l-6.7 -6.7l-0.4 -5.1l5.8 -0.8l4.7 2.9l5 5.9l10.5 4.2l3.8 2.5l0 6.3l2.9 3.8l4.2 5l2.5 5.9l4.2 2.1l2.1 -4.7l-1.7 -4.1l5 1.2l-4.2 -5.4l-1.6 -3.4l5 1.3l2.5 -3.8l6.7 0.4l2.5 1.7l-1.2 4.2l2.9 5.9l2.1 4.1l4.2 1.3l8.4 1.7l8.4 0.8l8.8 -2.9l5.9 1.7l-0.9 3.7l0.4 3.8l-3.7 6.7l-2.1 6.3l-4.2 1.7l-5.1 -0.9l-5.4 -1.2l-5 2.1l-9.7 -0.9l-9.6 -1.2l-7.2 -2.6l-6.2 -2.9l-8 2.9l-1.7 7.2l-7.1 -1.3l-10.5 -2.9l-10.5 -5.9l-6.3 -1.2l-5 -2.6l2.5 -5.4l-1.7 -5.9l-4.2 -3.3l-4.6 1.7l-7.9 -0.5l-13.9 0.9l-9.2 1.2l-9.7 5.1l-3.7 0.8l-11.8 -0.8l-3.7 -2.1l-1.3 2.9l-2.9 4.6l-7.2 2.9l-4.2 3.4l-0.4 8l-2.5 5.4l-5.9 5l-5.8 2.1l-5.5 5.5l-3.3 7.1l-4.7 6.7l-2.5 6.3l-0.4 2.5l3.4 4.6l0.4 7.1l-1.7 8l-4.2 6.3l3.4 4.6l-0.4 4.6l4.1 3.3l3.4 3.8l5 3.8l2.5 3.7l5.1 5.9l3.8 3.4l8.8 7.5l6.3 2.5l7.1 -2.5l7.5 -0.8l8.4 1.6l8.4 -3.3l6.3 -2.5l8.4 -0.9l4.2 0.5l4.6 5.8l4.6 2.1l7.5 -0.8l3.4 2.9l2.1 6.3l-1.3 5.9l-0.8 6.2l2.9 8.4l4.6 5.9l3.8 4.6l1.3 4.6l3.3 8l0.5 6.2l2 5.9l-4.1 9.2l-3 8l-1.2 9.6l4.6 9.2l4.6 9.3l2.5 7.9l1.7 10.1l4.2 10.9l4.2 5.4l2.9 8.4l2.5 4.6l0.9 5l5.4 2.5l7.6 -2.1l8.3 -1.6l9.3 -0.4l7.5 -2.6l6.3 -5.8l6.7 -7.6l3 -3.7l4.6 -4.6l2.1 -7.6l-1.3 -2.1l5 -3.8l7.2 -3.3l0 -10.5l-3.4 -6.3l2.1 -5.4l7.1 -5.9l10.5 -5.4l4.6 -6.3l0 -10.5l-0.8 -6.7l-3.8 -7.9l-0.8 -6.7l-1.7 -3.8l2.1 -5l4.2 -7.6l2.9 -4.2l4.2 -5l6.7 -7.5l8 -5.1l6.3 -5.8l6.7 -8l5 -8.4l4.6 -12.5l1.7 -5.9l-4.6 1.3l-7.1 1.2l-8.4 3.4l-8.4 0.4l-5 -5l-3 -4.7l-5.4 -7.1l-6.7 -4.6l-4.6 -9.6l-5.1 -10.1l-2.5 -7.5l-5 -8l-4.2 -8.8l-4.2 -6.3l-4.2 -10l0.8 1.7l3.4 5l2.9 2.1l2.5 -7.1l1.7 6.2l5.1 8.4l4.1 7.1l5.5 9.7l1.7 4.2l5.4 8.4l4.2 8.3l4.6 6.3l1.3 10.5l2.5 1.2l6.3 -0.4l8.4 -2.9l8.4 -2.5l6.3 -3.8l7.1 -2.5l7.5 -5.5l6.3 -2.9l4.2 -2.5l5.5 -3.3l2.9 -5.9l5.5 -8l-4.2 -5l-7.6 -2.1l-2.9 -7.1l-1.3 3.8l-6.3 2.5l-10.4 0.8l-2.1 -5l-2.1 -3.4l-3.4 1.7l-0.8 -4.2l-5.1 -5l-3.3 -7.6l3.8 -2.9l5 0.4l3.8 5.9l6.3 5.4l6.2 3.4l8.4 -1.3l5.5 5.1l9.2 1.6l8.4 1.3l10.5 -0.8l10.5 -0.5l4.1 5.9l5.5 5l5 0.9l-4.2 1.2l6.3 5.5l8.4 -0.9l0.9 -4.6l0.4 9.7l0.8 8.3l2.1 8.4l4.2 8.4l2.1 6.3l3.4 6.3l2.9 8.3l4.2 3.8l2.9 -3.3l4.6 -5.9l2.5 -6.7l1.7 -6.7l-0.8 -7.1l5 -5.1l4.2 -2.5l7.1 -5.4l6.3 -5.9l6.3 -4.6l0 -3.3l7.6 0l7.1 -3.4l4.2 -0.8l3.3 6.7l2.1 3.3l5.9 5.9l0.9 9.6l3.3 3l8.4 -4.7l2.5 8l2.9 9.2l0.5 11.8l-1.3 6.2l2.9 6.3l4.7 4.2l1.2 6.3l3.8 6.7l5 4.2l4.2 2.5l2.9 -0.8l-2.9 -10.1l-0.8 -6.7l-4.6 -2.9l-5.1 -3l-2.9 -5.8l-4.6 -3.8l0 -7.1l1.7 -8l2.1 -2.5l3.3 2.9l3.4 0.5l3.7 1.6l3.4 5.5l4.6 2.1l2.1 7.5l7.1 -5l3.4 -2.9l6.3 -4.2l1.2 -6.3l-2.5 -10.5l-5.9 -5.4l-6.2 -8.4l0.4 -4.6l4.6 -5.9l6.3 -1.2l5.4 0.8l2.5 4.6l2.6 -4.6l8.3 -3.4l6.3 -1.2l8.4 -2.1l8.4 -6.3l4.2 -4.2l2.1 -4.6l4.2 -6.7l3.8 -6.7l-1.7 -4.2l1.7 -3.8l-4.6 -5.4l-2.6 -5.4l-4.2 -3l5.5 -4.6l8.4 -3.8l-6.3 -3.3l-8.4 2.5l-2.1 -5.4l-3.3 -2.1l5.4 -2.6l8.4 -5.4l5 2.1l-3.7 5.9l5 -1.7l7.5 -2.1l4.2 1.7l-2.1 6.3l5.9 1.2l1.3 7.1l-0.9 5.9l5 0l7.2 -2.5l0.8 -6.7l-4.2 -7.6l-3.8 -5l4.2 -0.8l5.1 -4.2l3.7 -5.5l5.9 -3.7l6.3 1.6l8.4 -4.1l9.2 -7.2l3.8 -6.3l6.7 -6.2l1.3 -6.3l0.8 -6.3l2.9 -3.4l-0.8 -3.7l-5.5 -4.2l-10 1.2l-3 -2.9l-6.7 -0.4l8.4 -5.5l7.6 -5.4l10.5 -5.9l8.3 -2.5l12.6 -0.4l8.4 0.4l10.5 0.9l6.3 -3.4l8.4 2.1l2.1 -2.5l7.5 -6.3l11.3 -1.3l3 3.4l13.8 -5.9l4.2 0.4l-6.3 5.5l-8.4 5l-6.3 7.6l-10.4 4.2l-3 6.2l-2.9 10.5l4.2 8.4l7.9 -6.3l6.3 -4.2l8.4 -6.3l2.1 -5.4l3.4 -6.3l-5.5 -0.8l6.3 -6.3l10.5 -3.4l16.8 1.3l10.5 -4.2l8.3 -3.4l12.6 -3.3l7.6 0.4M310.3 221.6l4.2 -3l-4.2 -2.9M1811.5 214l-4.2 -0.8l8.4 -2.1M314.5 210.2l10.5 0.5l6.3 2.5l4.2 2.1l4.1 -0.9l-1.2 -3.3l7.5 -1.3l5.5 -2.1M1180.4 310.4l2.5 -7.6l0.9 -4.6l3.3 -3.3l5.1 -5.1l5 -0.4l6.3 2.5l-4.2 2.5l4.6 4.2l8 -2.9l4.6 -0.4l3.7 2.1l4.2 1.7l6.3 3.7l6.7 7.6l-6.7 2.9l-8.4 0l-8.3 -3.3l-8.4 -1.3l-8.4 0.8l-8.4 2.5l-8.4 -1.6M1268.5 289.8l8.4 -2.1l8.3 0.9l0.9 6.3l-8 3.3l-2.1 4.2l5.1 4.2l2.9 2.9l1.2 7.6l3.8 4.6l0 6.7l-12.1 2.1l-8.4 -3.4l0 -5l2.1 -6.3l-2.5 -6.3l-5.9 -5l-1.7 -6.3l1.7 -5l6.3 -3.4M1039.1 275.2l9.2 -1.3l10.5 -1.7l9.7 -1.6l1.6 -6.7l-5.8 -3l-1.7 -4.2l-6.3 -5l-2.5 -4.6l1.7 -3.8l-5.1 -0.4l-4.2 0.4l3.8 -4.2l-8 0l-2.5 4.7l-2.1 3.3l2.1 4.6l2.5 3.4l8.4 -0.5l-2.1 3l2.1 3.3l-6.7 0.5l1.3 2l0.8 2.6l-4.6 1.6l8 1.7l-5.1 1.3l-5 4.6M1037.8 266l-0.8 -6.7l2.5 -3.4l-2.5 -2.5l-5.4 -0.4l-4.2 2.1l0.4 2.5l-6.7 0.8l0.4 3l2.1 2.9l-3.8 2.9l3.4 1.7l6.3 -1.3l8.3 -1.6M1115 326.3l4.6 -1.7l8.8 -0.4l-2.1 5.4l-3.3 0.9l-8 -4.2M1098.2 321.3l5.1 -0.5l0.8 -7.9l-2.5 -1.3l-4.2 1.7l0.8 8M1099.1 310.8l3.3 0.4l0.4 -5.9l-3.7 1.7l0 3.8M1161.5 336.8l11.8 0.4l-7.6 1.2l-4.2 -1.6M1198.4 339.3l7.2 -0.9l2.1 -2.9l-6.7 1.7l-2.6 2.1M1611.9 342.2l4.6 0.4l4.2 -1.6l6.3 -1.3l3.4 0.8l2.1 3.8l4.1 -3.3l3 -1.7l5.4 0.4l3 -2.5l2.1 0.4l3.7 -7.1l0.5 -6.3l4.2 -5l-2.1 -4.2l-0.5 -3.8l-5.8 2.5l0 5.5l-1.7 4.2l-4.6 4.1l-6.3 2.1l-3.4 4.2l-5 1.3l-8.4 0.8l-6.3 4.2l-2.5 2.1M1606.9 345.6l3.3 -3l4.6 1.3l0.9 4.6l-2.5 5l-4.2 0.4l-0.4 -5.4l-1.7 -2.9M1618.6 345.6l4.2 -1.3l5 -1.3l-0.8 -1.6l-6.3 0.8l-2.1 3.4M1650.1 310.8l5 -1.3l-0.8 -2.9l9.6 2.1l9.2 -5.5l-1.2 -3.7l-7.2 0l-6.7 -5.5l-1.6 8.4l-4.7 1.3l-1.6 7.1M1658.5 291.9l6.2 -1.2l-2.1 -11.3l6.3 0l-5.4 -11.8l-0.9 -7.1l-2 -3.3l-3 5.4l1.7 8.4l-1.7 10.5l0.9 10.4M1566.6 388.3l3 4.6l4.6 -10.9l-1.7 -3.3l-4.2 3.3l-1.7 6.3M1518.8 404.2l5.5 -3.3l4.2 1.2l-4.2 5.9l-5.5 -0.9l0 -2.9M1397.6 457.4l0.9 -9.6l2.1 -4.2l5.4 9.6l-3.3 5.9l-5.1 -1.7M1269.7 534.9l5.1 13.8l-3 7.2l-7.5 20.9l-4.2 12.6l-8 2.1l-5.9 -8.4l-0.8 -8.4l3.8 -6.3l-1.7 -10.4l2.1 -5.5l8.4 -1.7l5.4 -7.5l6.3 -8.4M1462.6 461.2l9.3 1.7l11.7 12.5l14.7 9.2l2.9 7.6l6.3 5l-0.8 11.7l-5.5 0.5l-9.2 -8l-7.6 -11.7l-6.3 -11.3l-6.2 -4.2l-9.3 -13M1504.1 513.1l5.5 -3.3l8.4 2.1l10.5 -0.4l7.5 2.1l7.1 3.3l-0.8 4.2l-13.8 -2.1l-10.5 -1.7l-8.8 -1.6l-5.1 -2.6M1522.6 477.1l5.9 0.4l8.3 -6.3l10.5 -8.8l5.5 -7.1l3.8 4.2l6.2 2.9l-5 4.2l-0.8 13.9l-1.3 3.7l-3.8 6.7l-1.2 9.7l-7.6 1.2l-10.4 -2.9l-7.6 -2.1l-0.8 -7.1l-4.2 -7.1l2.5 -5.5M1563.7 507.7l4.2 0l0.8 -11.3l7.6 8.4l3.3 -1.3l-5.9 -10.9l6.3 -4.2l-7.5 -0.4l-5 -4.6l5 -2.9l13.8 -2.1l1.7 0.8l-5 3.8l-13.9 0.4l-4.2 3.3l-2.9 12.6l1.7 8.4M1612.3 489.7l6.3 -3.4l7.1 2.1l5.5 10.1l8.4 -7.6l10.5 3.4l10.5 3.8l8.3 2.5l6.3 7.1l6.3 2.5l-2.1 7.1l6.3 3l8.4 7.5l-6.3 0.4l-8.4 -1.7l-4.6 -8.8l-8 -0.8l-6.2 6.7l-6.3 -0.8l-8.4 -4.2l-4.2 1.2l-0.9 -10l-11.7 -6.7l-7.5 -1.7l-5.1 -5l-4.2 -6.7M1568.7 407.1l6.7 0l1.3 6.3l-3.8 4.6l1.7 8l8.4 6.3l-4.2 -5.5l-5.9 0.9l-4.2 -3.8l-2.5 -6.3l2.5 -10.5M1574.6 455.3l6.3 -3.3l6.3 -5.1l6.3 0l-1.3 10.5l-2.9 3.8l-6.3 -3.8l-8.4 -2.1M1584.2 432.3l5.9 1.2l-1.7 8l-2.1 1.3l-2.1 -6.3l0 -4.2M1574.6 435.2l4.6 1.3l-1.7 4.2l-2.9 -0.5l0 -5M1576.7 439l4.2 0.8l-1.3 6.7l-3.3 -2.9l0.4 -4.6M1554.5 449.5l9.6 -9.3l0.8 -3.3l-5 6.7l-5.4 5.9M1583 527.4l5 -5l8.8 -2.6l-7.5 4.6l-6.3 3M1566.2 521.5l11.7 -2.5l-7.5 2.5l-4.2 0M1597.6 477.1l4.2 5.5l-2.1 4.1l-2.5 -4.1l0.4 -5.5M1599.7 498.5l11.8 2.1l-5.5 -3.4l-6.3 1.3M1684.5 507.7l7.5 -2.1l6.3 -2.9l2.1 5l-6.3 2.9l-9.6 -2.9M1538.9 576.8l3 -0.8l10.5 -5l9.6 -2.6l8.4 -2.1l5.4 -6.2l3 -7.2l6.3 -3.3l6.3 -6.3l7.5 1.3l7.1 2.5l2.6 -6.7l4.6 -4.6l5.8 -0.9l3.8 -0.8l8.4 1.7l4.2 -1.3l2.1 2.1l-4.6 3.8l-1.7 5.8l7.5 5.5l8 5.8l6.7 0l2.5 -10l0.9 -8.8l3.8 -9.2l2.9 5l1.7 8.8l7.1 3.8l1.2 8.4l3 8.7l10.5 5.9l3.7 8.4l4.7 0.8l2.9 5.9l6.7 7.5l2.1 11.3l-2.5 10.5l-4.2 7.1l-3.4 5.1l-4.6 8.8l-0.8 6.3l-8.8 1.6l-6.3 4.6l-5.9 -4.6l-5.9 3.8l-8.3 -2.1l-7.6 -4.2l-0.4 -5l-4.6 -2.9l0 -3.8l-4.2 2.1l-2.5 -5.9l-4.2 5l-2.5 -0.8l-4.7 -7.5l-12.5 -5.5l-13.5 3l-10.4 1.6l-8 5.5l-10.9 0l-12.6 4.6l-8.8 -3l-3.8 -3.3l3 -7.5l-3 -9.3l-3.7 -10.4l-3 -6.3l1.3 -6.3l-0.9 -8.4M1669.4 655.2l7.9 1.6l7.6 -0.8l0 5.9l-3.4 3.7l-6.3 1.7l-3.3 -5.9l-2.5 -6.2M1786.8 628.8l7.1 3.7l2.9 6.3l3.8 2.1l4.6 2.5l6.3 -0.8l-2.1 6.3l-4.2 0.4l-4.2 8.4l-3.3 1.2l-2.5 -1.6l1.6 -5.1l-5 -3.3l3.4 -5.1l-0.9 -6.2l-5.9 -5.5l-1.6 -3.3M1787.2 654.3l6.3 5l-3.8 5.5l-2.5 3.3l-6.3 3l-2.5 5.8l-5.5 3l-7.1 -1.3l-4.6 -1.7l6.3 -7.5l10.9 -5l4.2 -5.1l4.6 -5M1351.5 688.3l7.1 1.6l-2.1 3l-5 0l0 -4.6M824 750.7l-14.7 2.1l-8.4 4.2l-8.4 6.2l-8.4 6.3l-4.1 6.3l-10.5 4.2l-10.5 4.2l-14.7 5.4l-16.8 1.7l-20.9 0l-21 -1.7l-21 -1.2l-20.9 4.2l-21 4.6l-21 0.4l-20.9 -1.7l-21 -1.7l-21 -0.4l-20.9 3l-21 1.2l-21 3l-20.9 2.9l-12.6 5.4l-8.4 10.5l21 12.6l20.9 8.4l-83.8 2M1817.8 838.7l-62.9 -3l-29.4 -1.7l8.4 -10l8.4 -8.4l8.4 -6.3l-4.2 -6.3l2.1 -6.2l10.5 -3l14.7 -4.2l4.2 -5.4l-14.7 -3.4l-16.8 -1.6l-12.6 -3l-20.9 -3.3l-21 -2.5l-21 -3.8l-12.5 -2.1l-16.8 -2.5l-16.8 0l-16.8 0.4l-20.9 -0.4l-21 2.5l-21 -1.3l-20.9 -2l-21 -0.5l-21 1.3l-16.7 1.2l-16.8 0.5l-16.8 0.4l-16.8 1.2l-12.5 3.4l-12.6 4.2l-12.6 2.9l-12.6 1.3l-8.4 -2.5l-8.4 -5.1l-12.5 -1.6l-21 -1.3l-16.8 -2.1l-12.6 -3.3l-12.5 1.2l-12.6 4.2l-12.6 2.9l-16.8 5.5l-20.9 1.2l-21 0.9l-21 2.1l-20.9 -0.5l-21 0.5l-21 -0.5l-20.9 1.7l-21 0.9l-21 1.6l-20.9 1.3l-12.6 4.2l-12.6 5.4l-16.8 5.1l-20.9 4.1l-12.6 4.2l-8.4 6.3l-21 6.3l-41.9 6.3l-37.7 0.4l-33.6 -4.6l-33.5 -8.4l-25.2 -7.5l16.8 -13.4l16.8 -10.5l16.7 -8.4l8.4 -8.4l8.4 -8.3l12.6 -6.3M775.8 775.8l-12.6 2.1l-14.7 6.3l8.4 4.2l12.6 -1.3l6.3 -5l0 -6.3M874.3 813.5l-21 0l-8.4 6.3l16.8 2.1l12.6 -2.9l0 -5.5" stroke="#000" stroke-width="1.7" fill="none" stroke-linejoin="round"/>
</g>
<rect x="308.2" y="107.6" width="1509.6" height="754.1" fill="none" stroke="#000" stroke-width="3.2"/>
<text x="1062.5" y="82.6" font-size="50" text-anchor="middle">2025-11-09</text>
<rect x="558.2" y="1023.8" width="1009.8" height="37" fill="url(#cbg)"/>
<path d="M558.2 1023.8L505.5 1042.3L558.2 1060.8Z" fill="#c0c0c0"/>
<path d="M1568 1023.8L1622 1042.3L1568 1060.8Z" fill="#404040"/>
<path d="M558.2 1023.8L1568 1023.8L1622 1042.3L1568 1060.8L558.2 1060.8L505.5 1042.3Z" fill="none" stroke="#000" stroke-width="3.3" stroke-linejoin="miter"/>
<text x="558.2" y="1134" font-size="41.67" text-anchor="middle">0.00</text>
<text x="760.2" y="1134" font-size="41.67" text-anchor="middle">0.05</text>
<text x="962.1" y="1134" font-size="41.67" text-anchor="middle">0.10</text>
<text x="1164.1" y="1134" font-size="41.67" text-anchor="middle">0.15</text>
<text x="1366" y="1134" font-size="41.67" text-anchor="middle">0.20</text>
<text x="1568" y="1134" font-size="41.67" text-anchor="middle">0.25</text>
<path d="M558.2 1060.8V1085.8M760.2 1060.8V1085.8M962.1 1060.8V1085.8M1164.1 1060.8V1085.8M1366 1060.8V1085.8M1568 1060.8V1085.8" stroke="#000" stroke-width="3.3"/>
<text x="1062.5" y="1193" font-size="41.67" text-anchor="middle">O₃ total column [mol m⁻²]</text>
<g clip-path="url(#cn)">
<rect x="80.5" y="1315.5" width="925" height="925" fill="url(#pdash)" opacity="0.85"/>
<path d="M415.8 1778a127.2 127.2 0 1 0 254.4 0a127.2 127.2 0 1 0 -254.4 0M284.2 1778a258.8 258.8 0 1 0 517.7 0a258.8 258.8 0 1 0 -517.7 0M142.9 1778a400.1 400.1 0 1 0 800.3 0a400.1 400.1 0 1 0 -800.3 0M543 1784L543 2249.8M548.2 1781L951.5 2013.9M548.2 1775L951.5 1542.1M543 1772L543 1306.2M537.8 1775L134.5 1542.1M537.8 1781L134.5 2013.9" stroke="#000" stroke-width="1.8" fill="none"/>
<path d="M433.6 1642.9l4.3 -0.6l4.3 -0.5l3.2 -1.8l3.3 -1.8l4.4 -1.3l4.4 -1.2l4.4 -1l4.4 -1l3.6 -0.8l3.5 -0.8l3.5 -0.2l3.4 -0.1l3.1 -5l4.2 -5.3l3.9 -6.8l3.7 -9.2l4.7 -3.1l-5 -4.1l-6.2 -3.7l-6.4 -3.5l-3.3 -4.5l4.2 -4.1l6.1 1.9l6.2 -4.3l4.1 -6.4l-6.8 -4.8l-6.4 -2l-4.6 1.2l-4.5 1.4l-6.9 -2.4l-0.9 -6.2l5.7 -4.7l5.1 -4.3l3.2 -9.1l-4.4 -8.2l-9.6 -4.8l-7.9 -2.3l-3.1 -6.6l-8.4 1.9l-6.3 3.4l-6.9 1.9l-1.2 -10.4l3.2 -8.2l5.2 -10.8l7.9 -9.4l8.6 -8.4l-6.9 4.9l-9 6.8l-7.9 8.8l-7 9.8l-3.9 9.8l-3.1 10.5l-3.5 8.9l-0.8 5.5l3.6 9.4l-2.4 7.5l-5.3 -3.2l-8.1 -0.3l-3.2 7.4l-6.5 2.2l-9.4 2.4l-7.7 4.8l-7 2.3l-8.8 0.5l-9.5 0.2l-8.6 -1.9l-9.7 -0.6l-10.2 -1.3l-10.8 0.9l-8.4 1.2l-8.9 -5.4l-8.7 0.2l-9.5 -0.1l-7.8 -2.3l-6.6 2.5l-9.2 4.6l-8.2 1.8l-6.8 1.5l-7.9 -2l0.2 -3.8l8.2 -5.3l-11.4 -3.9l-14.5 -8.2l-11.9 -8.9l-8.3 -9.1l-15.1 -6.7l-13.1 -6l-16.5 -3.2l-8.4 -0.5l-11.6 -1.3l-11.7 -1.2l-12.3 -0.3l-10 8.7l-6.3 4.7M31.2 1876.6l9.6 9.1l9.7 8.7l8.5 7.9l13 -5.1l6.1 -5.9l7.5 4.1l8.1 2.1l8.9 1l11.3 2.5l6.7 4.5l6.9 8.3l5.8 7.7l4.6 3.9l5.1 -6.5l6.4 -3.1l6.9 4.5l8 6.9l8.6 7.9l7 3.8l7.3 6.5l-2.7 5.9l-10.4 -6l-7.8 -0.4l2.1 9.4l11.8 3.8l10.4 7.3l8.3 4.9l6.6 1.8l6 -7.3l-8.6 -1.4l-7.8 -4.3l-2 -10.4l4.7 -8.3l7.4 -4.9l8.9 0.8l3.2 -4.4l-2.5 -7.8l-5.7 -8.5l-14.3 -7.4l-9.8 -4.1l-3.1 -3.2l8.8 4.6l12 4.5l14 6.5l9.4 9.3l5.3 11l5.8 10.7l6.4 7.5l9.3 4.3l7.2 2.4l7.8 3.3l7.8 -5.3l3.1 -8.8l0.4 -8.1l3 -11.2l2.2 -9.1l5 -8l7.4 -5.6l3.5 -7.2l6.4 -9.5l4.9 -4.3l-6.2 -0.6l-9.7 -1.8l-6.6 -3.9l3.3 -6.4l1.9 -5.2l9.2 -3.9l3.4 -6.4l3.2 -7.4l3.4 -7.2l-1.1 -7.5l-0.1 -8l-11.9 0l-10.3 3.5l-8.4 3.8l-9.3 4.6l-9.7 2.7l-9.7 -1.4l-7.8 -5.3l-8.9 -2.1l-10.6 4.3l-9.1 2.3l-6.5 -4.1l6.2 -8.2l5.7 -6.6l11.8 -3.3l8.2 -1.6l0.9 -8.1l-0.7 -7.4l5 -8.7l5.2 -7.9l3.1 -5.3l3.2 -5.3l1.2 -9.4l13 -4.6l8.5 -4.5l9.1 -0.2l6.8 4.5l7 4.2l5.1 6.4l7 4.9l4.6 7.4l6.3 4l10.8 2.7l5.5 2.8l5.4 2l6.4 2.3l6.7 4.5l6.4 1.3l3 -3.8l1.1 -5.6l-0.3 -3.3l-9.5 1.1l-5.4 -2.2l-6.4 -3.6l5.2 -2.9l6 -3.9l7 -2.2l4.4 -2.4l4.4 -3.1l7 -0.8l5.3 -2.4l-0.7 -2.8l-5.8 -3.5l-9.3 -2.1l-5.4 1.3l-7.5 -3.6l-0.3 -4.6l-2.1 -3.9l-3 -3.8l0.2 -5.7l3.6 -4.2l1.2 -4.8l4.7 -3.8l0.8 -5.8l-1.5 -3.9l-5.3 -0.7l4.8 -3l0.5 -4l1.3 -5.6l3.6 -3.9l6.3 -1.1l2.6 4.8l2.4 -3.1l3.6 -3.4l3.7 -3.3l3.8 -3.1l3.8 -3l0.9 -4.8l3.9 -1l2.7 -1l-0.4 -5.4l6.5 0l0.5 -3.4l-1.1 -2.8l2.9 -3.5l1.6 -4.5l1.2 -5.1l4 -0.4l1 -4.7l0.3 -5.1l5.2 -1.2l5.8 -0.3l2.3 -2M235.8 1575.5l9.8 -5.8l10.9 -3.7l10.9 -1.7l6 0l-6.6 5.5l-8.5 5.1l-7.4 2.3l-10.7 0.4l-4.4 -2.1M295.3 1558.8l9 1.3l9.1 3.8l-3.3 5.1l-7.8 -3.9l-7 -6.3M237.6 2009.8l-4 -3.7l4.7 -6.7l-7.8 -2.6l0.3 -9.8l-5.1 -8.8l-4.9 -8.9l10.1 -0.1l5.6 -1.9l16.2 -3l12.7 3.8l-7.4 5.8l-8.1 1.8l3 9.2l1.3 6.8l-8.1 5.2l-1.9 8.7l-6.6 4.2M354.3 1955.2l0.9 -11.1l3.3 -8.5l4.2 -8.9l4.6 -8.5l7.9 -10l3.2 -8.9l8.2 -5.2l6.3 -6.2l5.1 1.7l5.2 1.6l6.9 -5.2l2.8 -6.3l-0.7 -6.7l3.1 -4.6l6.2 -7.8l7.9 -8.3l9 -9.7l0.6 -4.1l0.7 -4l-1.5 -2.8l-1.4 -2.9l-1.4 -2.9l-1 -2.4l-1 -2.3l2.7 -4l2.7 -3.7l4.2 1.7l4.3 1.5l-0.5 -2.9l-0.5 -2.9l-0.3 -2.9l4.9 1.4l5 1.2l7.1 0.6l7 0.1l3.5 0.6l3.6 0.4l2.9 0.6l2.9 0.5l2.8 0.4l1.1 1.6l1.1 1.7l1.2 1.6l1.8 1l1.9 0.9l1.9 0.9l3 -0.5l3 -0.6l2.9 -0.7l1.9 0.6l1.8 0.5l1.9 0.4l1.7 0.9l1.7 0.9l1.8 0.8l1.2 1.1l1.2 1l1.3 1l0.6 2.5l0.7 2.5l0.8 2.5l-0.3 7.1l-2.8 0.7l-3 0.6l1.7 2.5l1.8 2.5l1.9 2.5l0.6 3.7l0.8 3.8l-2.6 1l-2.7 1l-4.8 8.2l-1.4 10.3l-3.6 3.3l-3.8 3.1l-0.9 11.6l-4.7 6.5l-6.8 7.5l-7.1 3.5l1.6 10.1l-7.6 7.1l-7.1 4.9l-7.5 4.7l-6.6 -1l-6.7 -1.3l-7.4 -0.5l-13 7.2l-5.4 0l-5.5 -0.2l-4.3 -2.8l-4.3 -2.9l-10 6.6l-9.7 5.7l-11.5 5.3l-10.8 7.1l-6.1 -3.4l-6.3 -5.2M328.8 1877.9l-6.7 -3.9l0.1 -6.8l1.9 -7.4l2.1 -7.2l5.2 -9.9l0.5 -8.1l-2.1 -4.4l-1.9 -4.5l5.6 -3.2l3.8 6.8l4.1 6.5l8.9 -0.7l6.9 1.5l7 -7.3l1.2 -5.4l1.5 -5.2l7.5 -6.4l0.1 -3.8l0.3 -3.9l-0.9 -5.8l-0.6 -6l1.9 -4.5l1.9 -4.5l8.6 -3.1l2.3 4.1l2.4 3.9l8.7 0.6l3.4 4.1l3.5 3.9l-3.1 5.4l-2.8 5.7l-0.1 5.3l0.1 5.3l-5.1 5.7l-4.8 5.9l-1.3 4.3l-1.1 4.3l-6.4 7.4l-7.7 8.5l-8.2 11.4l-2.2 7.1l-8.8 -3.7l-8.8 -2l-8 8l-8.9 2M321.3 1815.1l-2.1 -7.6l-2.3 -4.7l-2.3 -4.8l7.6 -5.7l11.7 2.2l4 5.1l-9.2 4.7l-2.6 7.3l-4.8 3.5M366.7 1746.9l-0.2 -4l0 -4l2.3 -5.9l4.2 -5.4l-2.3 -7.2l0.9 -3.9l1 -3.9l3.9 -2.7l3.9 -2.6l3.2 -2.8l3.2 -2.7l8.2 -0.8l-0.1 4l0 3.9l4.2 -2.6l4.2 -2.6l7.8 5.6l0.7 5.4l0.9 5.3l-5.2 3.3l-2.6 3.1l-2.5 3.2l1.1 3.7l1.1 3.7l-13.9 1.6l-5 2.3l-5.1 2.6l-5.1 3.5l-8.8 -0.1M406.7 1696.1l1.1 -3.4l1.1 -3.4l9.5 -0.1l9.2 9.5l5 4.8l-0.9 2.9l-0.8 2.9l-2.9 2.3l-2.8 2.4l-4.3 1.8l-4.3 1.9l-2.2 -5.2l-2.1 -5.4l-5.1 -6.9l-0.5 -4.1M424.3 1746.2l-1.2 -3.7l-1.1 -3.8l-0.3 -4.3l-0.2 -4.3l1.8 -2.3l2 -2.2l2.9 -2.4l3 -2.2l6.7 5.8l-1.3 3.8l-1.2 3.9l0.7 3l0.7 2.9l-3.6 1.4l-3.6 1.5l-5.3 2.9M395.2 1776.7l-1.2 -3.3l-1.2 -3.3l2.4 -3.1l2.4 -3l10.2 2.2l-0.3 3.5l-0.2 3.6l-4.4 3.5l-7.7 -0.1M389.3 1760.5l-1.3 -3.6l-1.2 -3.6l6.6 -3l6.7 -2.7l7.7 5.3l-0.6 3.6l-0.5 3.6l-8.9 1.4l-8.5 -1M413.5 1800.8l-0.6 -3.7l-0.5 -3.8l-0.4 -3.8l0.3 -4.6l0.4 -4.6l0.6 -4.6l6.9 -3.1l4.2 2.8l4.3 2.6l0 3.3l0.2 3.3l0.2 3.4l-0.5 3l-0.5 3.2l-0.4 3.1l-14.2 3.5M436.5 1797.7l-2.2 -2.5l-2.1 -2.6l-2.1 -2.7l0.3 -3.7l0.4 -3.6l0.4 -3.6l12 2.5l5.5 -3.5l5.6 -3.1l8.4 1.7l2.9 2.1l2.8 1.9l2.9 1.8l3.6 1.6l3.5 1.4l3.6 1.2l1.1 2l1.3 1.9l1.3 1.8l0 1.9l0.1 1.8l0.2 1.9l0.3 1.9l-0.3 2.1l-0.2 2.2l-0.2 2.2l0 2.2l-3.8 0l-3.9 -0.2l-4.9 -0.6l-4.9 -0.9l-4.8 -0.6l-4.7 -0.8l-5 -1.8l-5 -2.1l-3.9 1.9l-4.2 -2.7l-4 -3M441.5 1779.8l0.8 -2.7l0.9 -2.6l3.6 -2.8l3.6 -2.6l8.5 0.1l8.3 3.5l-0.1 1.7l-0.1 1.6l-8.5 1.3l-8.5 2.3l-8.5 0.2M416.8 1762.5l1.7 -3.1l1.8 -3l2.6 -2.3l2.6 -2.1l5.9 5.3l-0.9 2.9l-0.9 2.9l-12.8 -0.6M440.7 1754.4l-0.1 -2.9l-0.1 -2.9l8.5 4.2l-1.7 1.8l-1.8 1.8l-4.8 -2M442.5 1763.9l1.6 -2.4l1.7 -2.4l5.6 2.7l-2 1.8l-2 1.8l-4.9 -1.5M459.1 1985.6l4.7 4.2l4.9 4.1l6.4 -0.7l6.4 -0.8l8.8 -3.2l3 -5.6l-2.1 -9.6l-4.3 -3l-6.8 0.6l-7 -1.5l-3.7 -2.8l-3.6 -2.9l-8.4 4.1l4.3 7.6l-6.5 -0.8l3.9 10.3M561.6 1873.5l2.5 1.6l2.6 1.6l4.1 5.1l4.4 5l1.1 -4.8l0.9 -4.8l0.6 -4.7l0.5 -4.8l-3.3 -2.8l-3.1 -3l1.8 -2.9l1.6 -2.9l-2.4 -0.3l-2.4 -0.3l-2.4 -0.4l-1.3 3.1l-1.5 3.1l-2.9 0.7l-2.9 0.6l2.1 10.9M570.4 1859.8l2.5 0.3l2.5 0.2l2.6 0.2l1.5 -2.5l1.3 -2.5l1.2 -2.5l-3.2 -0.8l-3.2 -0.9l-2.5 1.1l-2.6 1l-0.1 6.4M604.8 1835.6l1.2 -2.2l1.2 -2.2l1.1 -2.2l1 -2.4l0.9 -2.4l0.8 -2.4l0.8 -2.5l-0.8 -2.8l-0.9 -2.8l-2.5 1.1l-2.6 1l-2.5 0.8l-0.7 2.2l-0.8 2.2l-0.8 2.1l-0.9 2.1l2.9 5.1l2.6 5.3M666.1 1875.9l8.2 -0.7l3.7 -3.6l3.5 -3.7l-16 -5.7l-5 -7.9l-1.7 -5.4l-1.9 -5.2l-5.4 -8l-1.9 -5.7l-2.2 -5.5l-0.9 -3.1l-1.1 -3.1l-0.6 2.9l-0.6 2.9l-0.7 2.9l0.7 3.7l0.5 3.7l0.5 3.8l3.5 6.5l3.3 6.8l4.3 8.8l5.4 7.2l4.4 8.4M635.9 1773.1l0.7 -2.5l0.6 -2.5l-0.3 -2.9l-0.5 -2.8l-2.4 -1.7l-2.5 -1.5l-10.3 0.7l-1.6 2.5l-1.7 2.4l0.4 2.6l0.3 2.7l8.7 1.3l8.6 1.7M636.5 1679.5l-1.7 -4.4l-1.8 -4.4l-2 -3.3l-2.2 -3.3l-5.5 0.6l-5.4 0.8l-5.2 1l1.4 6.1l1.1 6l2.2 3.2l2.1 3.4l4.5 0.4l4.6 0.6l7.9 -6.7M541.6 1620.7l-5.6 -2.5l5.6 -2.7l5.6 1.8l-2.8 3.4M510.9 1555.5l-5.8 -1.8l-6 -1.6l-1 1.1l4.7 0l4.6 0.1l3.5 2.2M506.4 1576.8l7.4 6l4.4 0.2l4.3 0.4l4.5 1.8l4.3 1.9l6.9 5.8l4.8 5.2l4.6 3.5l4.5 3.7l5.9 1.3l5.9 1.5l4.3 1.4l4.2 1.6l4.8 -1.3l4.9 -1.2l5.8 1.9l5.7 2.1l3.6 3.5l3.5 3.5l3.2 7.7l3.7 2.1l3.7 2.1l4.2 1.1l4.2 1.1l1.2 5.1l1.1 5.1l2.6 4.7l2.5 4.7l3.3 4.4l3.1 4.5l3.8 1.4l3.8 1.5l8.8 -3.7l2.7 3.1l2.6 3.2l4.4 1.5l4.5 1.7l-1 8.1l-6.2 7.5l-0.6 4.1l-0.7 4.1l3.5 2.7l3.5 2.9l2.7 4.2l2.5 4.3l0.4 5.4l0.2 5.3l0.4 3.1l0.4 3.1l-0.5 3.4l-0.5 3.3l-6.9 -1l-6.8 -0.7l-2.4 5.4l-2.6 5.2l-2.5 4.9l-2.6 4.6l3.3 3l3.3 3.2l4.3 2.2l4.3 2.4l1.4 4l1.2 4.1l1.9 4.1l1.8 4.2l2.9 3.3l2.9 3.4l8.5 1.7l0.6 3.7l0.5 3.7l-0.5 3.6l-0.5 3.6l10.2 1.7l8.5 -4.2l-2.9 3.7l-2.9 3.6l-3.1 3.5l-1.1 3.1l-1.2 3l-5.7 1.2l0.2 5.3l7.4 5.2l7.5 -0.5l12.4 3.9l9.2 -0.4l6.4 8.9l-6.7 2l-6.7 1.8l-5.2 1.3l-6.8 0.5l-7.5 -4.7l-11 -7.4l-3.1 -3.9l-1.3 3.5l6.4 6.9l9.8 5.8l12.3 2.1l-1.5 3.6l-1.7 3.5l-3.9 4l-4 3.8l3 5.3l-0.2 7.2l-1.2 4.9l-1.2 5l-7.3 2.6l-0.5 7.7l-1.1 5.4l-1.3 5.5l-6.6 0.6l-3.7 2l-3.8 1.9l9.1 9.5l1.7 6.8l-5.2 4.8l6.4 13.1l-4.8 6.1l-6.2 1.4l-2.5 6.2l-6.8 -7.2l-8.2 -5l4.8 -5.5l5.8 -0.9l5.8 -1.2l1.5 -5.2l1.3 -5.1l-7 -5.6l-7.8 0.8l-5.1 0l-5 -0.1l-5 1l-5.1 0.7l-3.9 0.9l-3.9 0.9l-8.5 -3.2l-4 0.2l-3.9 0l-4.4 4l-2.5 3.4l-2.5 3.4l-2.8 2.9l-3 2.9l-3.6 8.5l-2.9 7.2l-2.7 8.8l-1.6 11.3l0 9.9l-4.7 9.1l-6.3 10l-4.5 4.2l-4.7 4.2l-3.3 9.3l0.9 10.8l3.4 11.5l3.1 7l7.4 0.9l6.3 -6.4l5.7 -8.4l3.1 4.1l5.2 6.3l4.7 10.3l3.3 5.8l3.2 6.9l6.4 -2.5l6.6 -7.5l0 -10.6l-2.4 -11.7l4.7 -10l0.7 -7.9l-9.1 -3.6l-3.8 -12l2.2 -9.2l5.7 -7.6l0.1 -10.5l0.5 -8.8l6.6 -2.9l5.6 5.2l0.2 7.7l-3.6 11.3l-1.6 9.3l4.7 10.7l5.1 5.7l8.6 -2.7l4.5 -3.5l4.5 -3.7l7.5 -4.9l8.5 1.4l-6.3 7.6l-5.1 2.7l-5.1 2.5l-7.3 6.3l3.3 6.5l6.5 6.1l-2.7 6.2l-9.2 -0.2l0.2 8.8l3.4 7.6l-3.1 8.1l-1.5 5.4l-5.5 -1l-9.7 5l-4.9 4.3l-5.1 4.3l-8 -2.9l-9.9 5.9l-5.1 -3.8l-3 -4.2l2.2 -6l-2.5 -8l0 -11.1l-4.9 6.4l-5.5 3.6l1.2 12l5.2 13.3l-8.7 5.9l-10.9 3l-2.2 7.7l-5 10.8l-9.9 5.2l-2.2 7.6l-7.4 4.9l-8.7 1.9l-4.6 6.6l-8.8 -1.4l-9.2 3.2l2.2 6l6.6 3.8l6.7 3.8l6.4 10.9l-1.7 14.8l-1.7 10.9l-13.8 -0.7l-14.4 -2.1l-8.9 -1.9l-8.8 -2.2l-10.4 5.5l1.8 12.5l-2 13.1l-6.5 10.4l-2 7l4.8 6l-1.9 12.5l11.9 -0.5l8.4 8.5l7.2 5l9 -5.6l9.7 0.6l9.7 0.5l12 -9.2l1.7 -7.3l5.7 -5.2l-4 -7.2l9.3 -15.4l8.7 -4.8l8.5 -5l-2.1 -10.9l10.6 -4.8l14.8 1.6l6.4 -7.8l8.3 -7.2l10.7 3.2l3.9 9.5l14.6 8.4l13.2 3.1l16.4 7.4l6.4 11l0.2 9.7l5.9 -6.1l0.9 -11.1l-5.6 -4.7l5.8 -5l8.1 -0.5l-5.6 -4.6l-17.3 -4.3l-17.1 -5.9l-15 -12.9l-3.2 -11.4l9 -4.1l9.1 4.8l11.9 11.1l10.2 2.2l10.3 2l8.3 3.5l5.1 14.4l8.3 6.8l11.9 8.8l10 11.9l9.8 1.7l-0.6 -12.3l-7.1 -8.4l10.2 -1l-12.8 -9.1l-6.1 -6.4l9.9 -0.9l0.5 -10.3l11.6 -4.3l6 1.6l2.4 10.3l11.6 10.4l8.5 7.4l8.9 -1.2l16.9 -4.6l15.7 -7.2l5.5 -8l5.3 -8l12.1 -3.4l4.2 8.7l6.4 7.3M647.1 2289.8l-11.9 -4.3l2.7 -14.8l-6.2 -13.9l-9.7 -6.9l-8.5 5.6l-16 1l-13.7 2.5l-13.8 2l-9.2 2l-9.3 1.8l-9.8 6.5l-10 6.2l-8 1.9l-12.1 -1.7l-12.1 -1.9l-7.3 -6.1l-3.4 7.2l-7.5 11l-16.2 5.5M984.1 1521.3l-2.1 11.4l-15.8 -4l-17 -9.5l-0.6 15.1l13.8 11.2l-9.9 10.2l-1.5 8.1l-10.4 -6.2l-19.4 -6.9l-0.5 -10.6l16 -1.5l-8.6 -5.9l-12.1 -9.1l-1.2 -8.9l15.1 -5.6l-4.2 -11.2l13 -12.7l13 -7.4l-6.3 -8.5l-14.4 -7.8l-14.2 9.5l-9.5 18.2l-5.3 13.3l-6.5 -4.9l-13.8 -0.8l-14.4 3.3l-13.6 -1.8l-4.6 -10.8l-17.3 -3.4l-11.5 0.7l-11.3 0.9l-14.4 6.9l-17.3 4.2l-10.7 9.9l-9.9 10.3l-7.9 3.3l-4.4 7.3l-0.4 11.7l5.8 3.2l5.9 3.4l-1.7 7.4l5.6 6.6l-15.9 1.4l-14.8 2.8l-8.8 0.9l-8.6 1.2l-10.8 -1.4l-5.9 -3.6l-5.9 -3.6l-7.3 -5.7l-4.6 -3.7l-4.6 -3.7l-9.5 3.1l-6.1 -8.1l-4.4 3.9l-12.8 9.1l-5.8 -1l-5.8 -0.8l-0.4 -7.8l-8.7 3.7l-8.5 3.9l-3.8 -2l9.4 -9.4l11.9 -7.5l12.1 -13.1l7.3 -2l7.5 -1.9l8.8 -11.3l6.4 -9.8l6.5 -9.9l2.4 -19.5l-15.7 8.8l-11.3 5.8l-14.8 9.6l-6.1 10.7l-7.9 11.9l5.5 3.7l-10.8 10.9l-6.5 1.9l-6.3 2.1l-8.5 -3.4l-8.6 -3l-6.2 3.5l-6.1 3.7l-9.3 6.2l-6.6 3l-6.4 3.2l-7.4 -1.1l-4.9 2.7l-4 6.3l4.1 6.2l7.6 3.6l3.7 1.9l-7.6 4.2l-7.3 1.8l-4.6 -0.2l-4.6 -0.2l-6 -4.8l-4.2 -4l-3.6 2.2l2 6.9l-6.2 3.5l-3.9 5.1M746.8 2161.3l-4.7 -18l-4 -10.3l1.1 -9.7l1.1 -14.3l6.4 -5l11.7 -0.5l-2.5 8.6l11.8 4.1l7.1 -13.3l5.6 -5.3l8 0.2l8 -1.2l14 0.1l20.8 5.9l-4.6 13.4l-11.9 9.7l-17.1 2.7l-14.1 6.2l-11.5 9.9l-9.9 13l-15.3 3.8M833.9 2030.8l4.8 -13.3l9.8 -9.3l12.5 7.7l-1.9 15.4l5.5 9l13.3 -0.6l8.8 0.2l16 9.2l13.4 1l13.5 9.8l-5.2 11.3l-5.5 11.2l-17.2 7.4l-9.4 -8.2l-9.1 -13.1l-14.6 -6.4l-15.9 -0.3l-13 -8.1l-6.8 -10l1 -12.9M508.1 2127.9l6.8 -0.9l6.8 -0.9l7.7 -1.5l7.6 -1.7l6.9 -1.9l6.8 -2l2 -15.1l-8 -6.4l-2.2 -9.4l-7.8 -11.2l-2.8 -10.2l2.3 -8.2l-5.8 -1.1l-5 0.6l4.9 -8.9l-9 -0.6l-3.8 9.7l-3.2 7.1l1.5 10.3l2.5 7.7l10.7 -0.2l-3 6.3l2.3 7.6l-9 0.4l1.3 4.8l0.8 5.7l-6.7 3.2l10.8 4.6l-7.3 2.4l-8.1 9.8M508.4 2106.9l0.5 -15l4 -7.1l-2.6 -5.8l-6.7 -1.8l-5.9 3.9l-0.3 5.6l-8.9 0.4l-0.6 6.5l1.7 7l-6.2 5.6l3.9 4.5l9.1 -1.4l12 -2.4M644.6 2240.2l7.9 -6.1l8.2 -2.6l8.2 -2.7l-0.4 14.2l-6 3.7l-17.9 -6.5M610.3 2233.8l9.4 -2.5l-1.8 -19.5l-5 -2.2l-7 5.1l4.4 19.1M608.1 2208.3l6.1 0l-1.5 -14.1l-6 5.1l1.4 9M742.2 2236.2l11.4 -4.5l11.3 -4.8l-12.9 9.7l-9.8 -0.4M813.4 2205.8l11.4 -10l-0.6 -8.7l-9.2 11.3l-1.6 7.4M931.2 1441.7l-5.7 -8.1l-9.2 -3.7l-11.6 -7.4l-3.5 -6.5l3.7 -10.1l-12.5 0l-7.5 -1l-7.8 -8.5l-8.9 0.8l-2.7 -3.6l-17.4 9l-10.6 11.7l-14 4.7l-3.3 10.5l-5.1 7.6l12.2 2.1l8.6 -10.2l9.1 -5.8l13.7 -2l12.8 4.6l12.2 -3.1l9.6 5l13.6 11l16.7 2.5l7.6 0.5M944.9 1444.4l-10.5 -0.7l-4.1 -9.6M928.1 1425.1l-8.6 -4.4l-9.9 -5.5l-1.8 4.3l10.8 8.2l9.5 -2.6M822.7 1444.7l-8.9 -3.5l-3.3 6.5l-5.1 -7.3l-5.4 -7.2l-10.4 0.4l-10.4 0.7l-3.3 8.6l9.8 7.1l1.2 17l14.5 -13.8l8.1 2.7l13.2 -11.2M783.3 1470.4l-9.9 -3.8l-6.5 11.6l-6.5 11.4l-7.7 -5.6l-4.5 13.2l-4.8 12.9l-8.7 13.5l-2.3 7.6l10.5 -7.2l9.8 -16.3l8.2 -8.6l8.4 -8.7l7 -9.9l7 -10.1" stroke="#000" stroke-width="1.7" fill="none" stroke-linejoin="round"/>
<rect x="540.8" y="1775.8" width="4.4" height="4.4" fill="#fff"/>
</g>
<circle cx="543" cy="1778" r="462.5" fill="none" stroke="#000" stroke-width="3.3"/>
<g clip-path="url(#cs)">
<rect x="1120.4" y="1315.5" width="925" height="925" fill="url(#pdash)" opacity="0.85"/>
<path d="M1455.7 1778a127.2 127.2 0 1 0 254.4 0a127.2 127.2 0 1 0 -254.4 0M1324.1 1778a258.8 258.8 0 1 0 517.7 0a258.8 258.8 0 1 0 -517.7 0M1182.8 1778a400.1 400.1 0 1 0 800.3 0a400.1 400.1 0 1 0 -800.3 0M1582.9 1784L1582.9 2249.8M1588.1 1781L1991.4 2013.9M1588.1 1775L1991.4 1542.1M1582.9 1772L1582.9 1306.2M1577.7 1775L1174.4 1542.1M1577.7 1781L1174.4 2013.9" stroke="#000" stroke-width="1.8" fill="none"/>
<path d="M1098.7 1623.5l13.8 9.8l11.9 8l13.7 5l13.3 2.3l13.6 8l11.4 -2.9l11.6 6.6l12.4 7.3l13.8 8.8l13.8 8.5l14.5 5.1l14.4 1.3l12.1 -1.5l10.7 -6.2l6.4 -7.8l10.8 -5.3l3.3 -4.7l3.4 -4.6l0.2 -7.5l0.1 -4.6l-5.4 5.2l-14.2 4.9l-8.9 -0.5l-4.4 -4.2l-7.7 1.5l-6.2 -5l-6.8 -8.7l-6.6 -11.8l-5.2 -7.3l-14.1 5.6l-6.8 -6.6l1.8 -11.4l-11.4 -6l-5.4 -7.4l1.4 -7.5l-17 2.6l2.8 -10.5l0.1 -11.2l-12.4 -7.4l3.8 -15.4l2 -9.6l2.2 -9.7l-5.7 -8.5l-4.7 -10.1l-12.2 -0.7l-13.3 3l3.7 -8.1l11.8 -8.1l5.3 -11.4l-1.6 -14.3M1290.6 1617.3l-1.5 -8.9l5.7 -7.7l3.4 -2l2.4 7l-5.8 6l-4.2 5.6M1744.3 1292.7l8.8 9.8l16.9 0.6l18.1 2.9l9.3 3.5l9.2 3.7l17.5 1.5M1830.9 2229l-1.3 -12.2l-1.3 -12.1l-6.5 -14.6l6.4 -6.2l6.3 -6.3l4 -16.3l15.9 3l3.8 -14.3l16.1 -5.7l18.1 -1.4l8.8 9.1l12.1 -0.6l6.4 7.2l2.9 -9.8l14.2 7.4l-2.5 -15.5l5.3 -2.2M2011.6 2062.8l6.4 -9.8l6.1 -9.9l1.6 -14.6l1.2 -14.4l7.6 -6.5l7.5 -6.7l11.3 -3.5M1839.7 2139.3l-14.4 5l-10.5 9.1l-7.5 -12l0.2 -10.8l6.9 -9.4l12.8 8.3l12.5 9.8M1648.5 2283.1l-16 -7.9l-7.4 -15.3l-8 -4.6l-9.5 -5.8l-12.3 2.6l3.6 -15.7l8 -1.4l6.5 -20.9l5.8 -3.5l4.9 3.7l-1.9 12.4l10.2 7.3l-5.2 13.1l3.2 15.5l13.5 12.4l4.6 8.1M1639.5 2219.7l-12.8 -10.8l5.2 -13.7l3.4 -8.5l9.6 -8.4l1.9 -14.3l7.5 -8.3l11.8 0.6l8.1 2.2l-6.3 19.6l-7.9 7.7l-8.3 7.6l-5.5 13.1l-6.7 13.2M1923.2 1646l0.2 11.4l-7.4 -0.6l-2.6 -7l9.8 -3.8M1392.1 1654.1l-1.8 7.1l-1.5 7l4.1 10.9l8.6 12.4l9.2 11.6l10.8 8.1l2.6 5.1l2.8 4.9l2.9 4.8l3.1 4.7l4 6.1l4.2 5.9l0.6 5.3l0.7 5.2l-0.6 4.1l-0.6 4.1l-0.4 4.2l-1.5 4l-1.3 4.2l-1.2 4.2l-0.8 4.3l-0.7 4.3l-0.5 4.4l3.3 3.9l3.4 3.8l3.5 3.6l3.8 3.4l3.9 3.1l4 3l1.4 3.6l1.4 3.5l1.5 3.5l0.3 3.9l0.4 4l0.5 4l0.7 4l0.8 4l0.9 4l1.8 3.6l1.9 3.5l2 3.5l3.9 2l4 1.9l4 1.7l3.1 2.3l3.2 2.2l3.3 2.1l4 1.2l4.1 1l4 0.8l4 0.7l4 0.6l3.9 0.4l5.6 -3l5.4 -3.1l7.1 -8.1l6.7 -8.4l2.4 -8.5l2.8 -8.3l3.2 -8l2 -5.5l2.2 -5.4l2.6 -5.2l1.4 0.6l1.4 0.5l1.4 0.5l1.4 0.4l1.5 0.4l1.4 0.3l1.4 0.3l1.4 0.1l1.4 0.2l1.4 0.1l1 1.2l1.1 1.2l1.1 1.2l1.2 1.1l1.3 1.1l1.3 1.1l1.4 1l1.5 1l1.5 0.9l1.6 0.9l1.5 0.7l1.6 0.7l1.7 0.6l1.6 0.5l1.8 0.5l1.7 0.5l1.8 0.3l1.8 0.3l1.8 0.4l1.8 0.3l1.9 0.3l1.9 0.1l2.7 9.9l2.4 9.9l2.7 17.1l0.5 13.2l5.5 11.7l2.6 12.7l-1.9 3.6l-2.1 3.7l-3.2 5.2l-3.5 5l-0.6 11.6l5.4 2.5l5.5 2.3l6.1 0.3l6 0.1l5.2 1.5l5.2 1.4l5.6 0.4l5.7 0.2l5.7 -0.1l5.5 -0.7l5.6 -0.9l5.5 -1.1l6 -0.5l6.1 -0.8l6.1 -1l5.4 -1.2l5.5 -1.3l7.1 -2.4l7 -2.6l5.2 -4.9l5 -5l4.6 -5.5l4.3 -5.6l3.9 -4.4l3.9 -4.5l3.7 -4.6l1.8 -5.9l1.7 -5.9l1.4 -5.9l3.6 -4.6l3.5 -4.7l3.3 -4.9l3.7 -4.7l3.7 -4.9l3.4 -5.1l2.3 -5.5l2.1 -5.6l1.9 -5.7l0.6 -6l0.4 -6.1l0.3 -6l-0.2 -7.2l-0.5 -7.1l0.2 -7l-0.1 -7l-0.3 -7l-0.6 -7l-1.6 -6.8l-1.9 -6.7l-4.1 -4.7l-4.2 -4.4l-5.2 -4.1l-5.2 -3.9l-4 -3.9l-4.1 -3.7l-2.5 -4l-2.6 -4l3 -7.4l7.5 -9.7l-0.3 -5.3l-0.4 -5.2l-1.7 -5.4l-1.8 -5.4l-2 -5.4l-1.6 -6.9l-1.9 -7l-0.1 -6.3l-0.3 -6.4l-4.3 -3.4l-4.4 -3.3l-6.8 -1.1l-6.7 -0.8l-5.7 -1.6l-5.7 -1.3l-8.6 -0.2l-8.4 0.2l-4.5 -2.6l-4.6 -2.4l-4.6 -2.3l-4.5 -2.3l-4.6 -2.2l-4.6 -2.1l-5 -1.2l-5.1 -1l-5 -0.8l-4.4 -2.3l-4.4 -2.1l-4.4 -2l-4.8 -1.4l-4.7 -1.2l-4.8 -1l-4.7 -1.5l-4.7 -1.3l-4.7 -1.2l-5 0.3l-5 0.5l-4.9 0.7l-4.8 0.2l-4.8 0.4l-4.8 0.5l-4.7 1.2l-4.7 1.4l-4.5 1.5l-4.6 1.3l-4.4 1.5l-4.4 1.6l-3.2 5l-2.9 5l-2.4 6.4l-2.1 6.3l-3 6.4l-2.6 6.3l-2.4 4l-2.2 4l-2 4l-0.9 5.2l-0.7 5.1l3.1 13l-0.2 5l0 5l0.3 5l-0.8 3.7l-0.7 3.8l-0.4 3.7l-0.3 3.6l-0.1 3.6l-1.4 1.8l-1.4 1.8l-1.3 1.8l-1.3 1.8l-1.2 1.9l-3.3 0.7l-3.4 0.9l-3.4 1.1l-3.4 1.3l-5.1 0.7l-5.1 0.9l-5.1 1.3l-5.2 1.5l-6 1.7l-5.9 2l-6 2.4l-12.1 -7.6l-11.8 -8.5l-8.5 -8.3l-8.2 -9l-5.7 -8.7l-5.3 -9.2l-12.6 -13.8l-12 -14.8l-2.8 -8.3l-2.5 -8.5M1420.4 1714l0.4 5l0.6 5l4.6 6.8l4.9 6.5l9.8 -2.8l0 -4.1l0.1 -4.1l-8.3 -7.5l-12.1 -4.8M1514.1 1709.2l-2 2l-1.9 2.1l-1.8 2.2l7.9 10.5l3.5 -1l3.4 -0.7l-0.7 -3.6l-0.6 -3.7l-7.8 -7.8" stroke="#000" stroke-width="1.7" fill="none" stroke-linejoin="round"/>
<rect x="1580.7" y="1775.8" width="4.4" height="4.4" fill="#fff"/>
</g>
<circle cx="1582.9" cy="1778" r="462.5" fill="none" stroke="#000" stroke-width="3.3"/>
</svg>
</div></body></html>
